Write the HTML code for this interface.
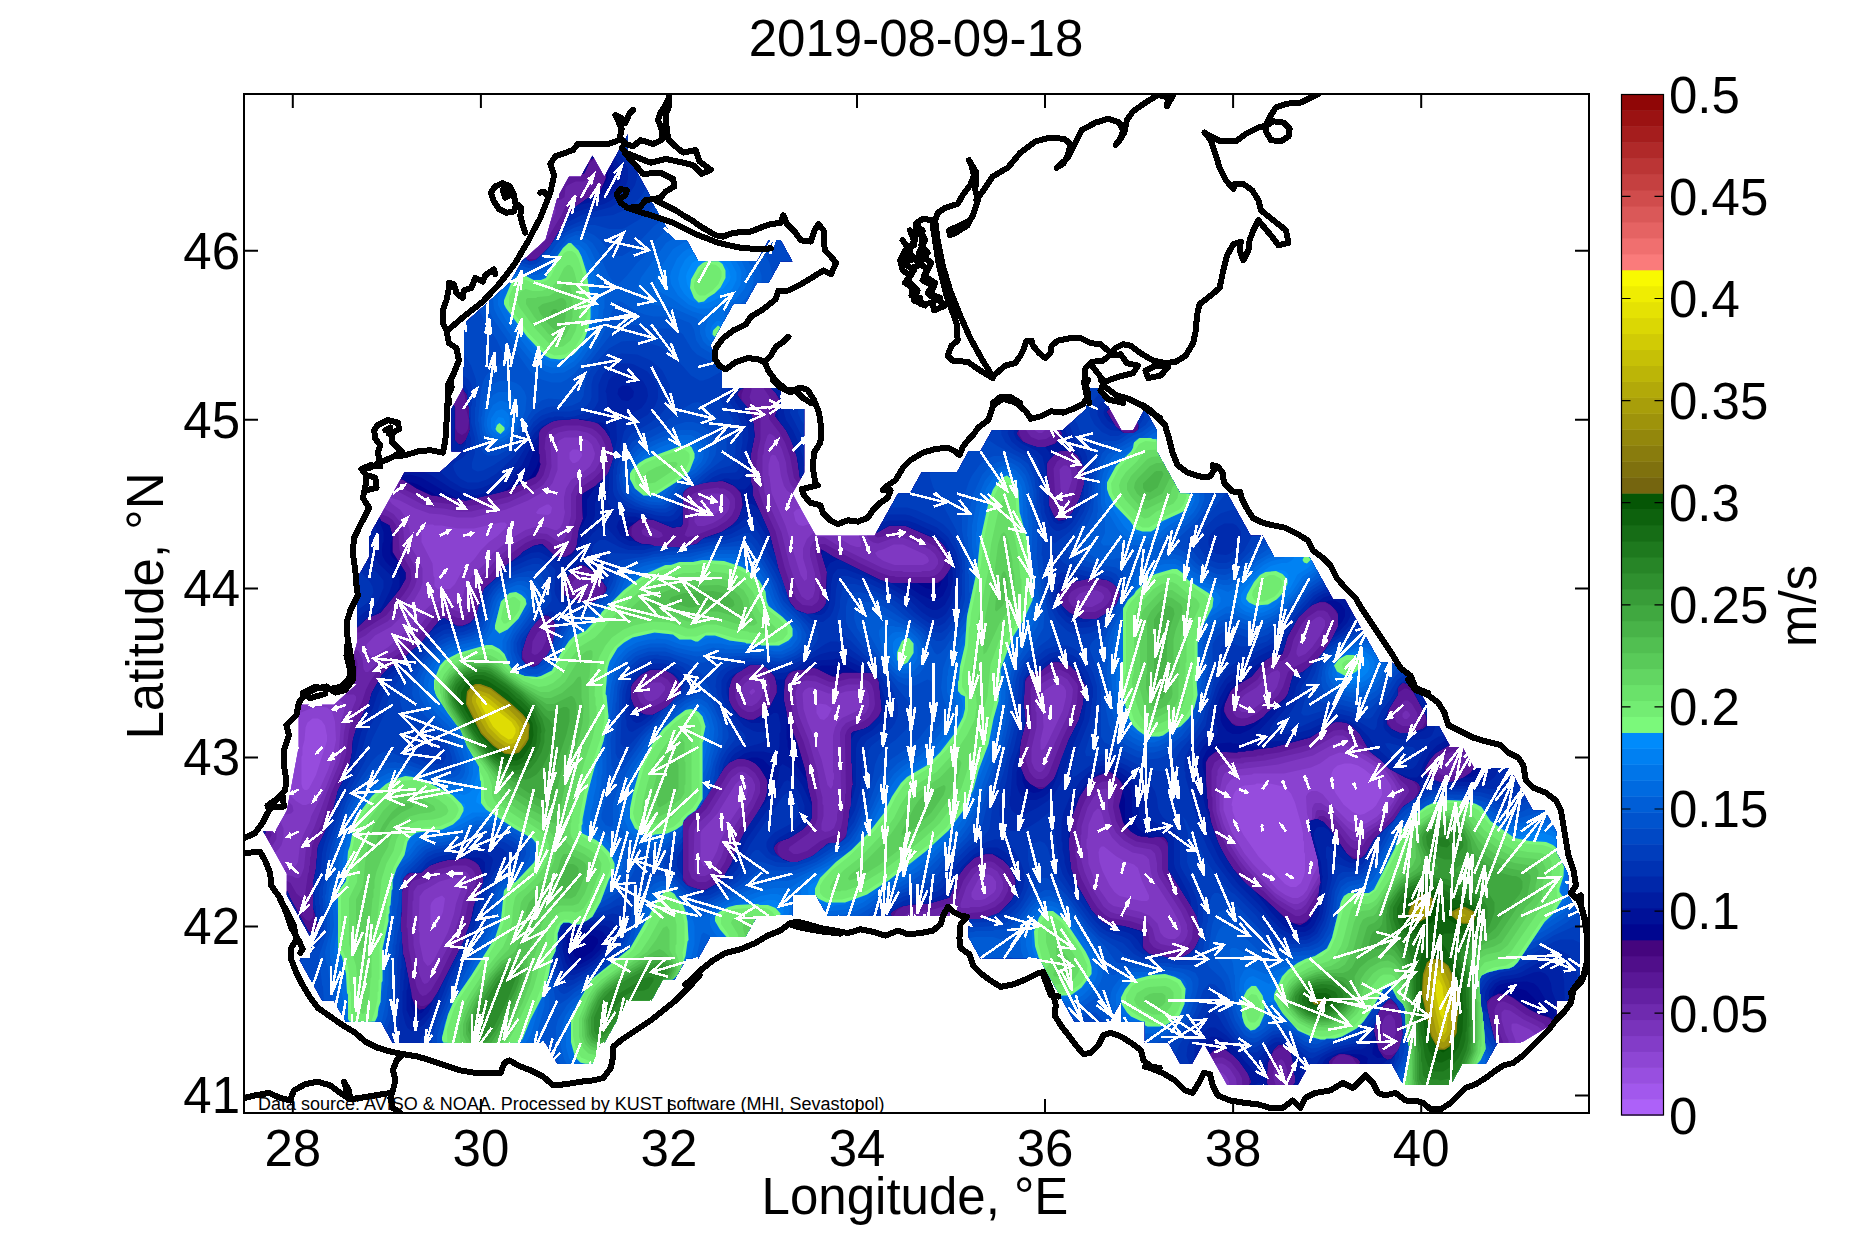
<!DOCTYPE html>
<html><head><meta charset="utf-8"><title>2019-08-09-18</title>
<style>
html,body{margin:0;padding:0;background:#fff;}
body{width:1876px;height:1250px;overflow:hidden;font-family:"Liberation Sans",sans-serif;}
svg{display:block}
text{font-family:"Liberation Sans",sans-serif;fill:#000}
</style></head><body>
<svg width="1876" height="1250" viewBox="0 0 1876 1250">
<rect width="1876" height="1250" fill="#fff"/>
<defs><clipPath id="axclip"><rect x="244" y="94" width="1345" height="1019"/></clipPath></defs>
<g clip-path="url(#axclip)">
<g id="field">
<clipPath id="mk"><path d="M463.2 409.1L463.2 324.6L486.7 303.5L510.2 282.4L522.0 261.3L545.5 240.1L557.3 197.9L569.0 176.8L580.8 176.8L592.5 155.7L604.3 176.8L616.0 155.7L627.8 134.5L627.8 155.7L639.5 176.8L651.3 197.9L663.0 219.0L674.8 240.1L686.6 240.1L698.3 261.3L710.1 261.3L757.1 261.3L768.8 240.1L780.6 240.1L792.3 261.3L780.6 261.3L768.8 282.4L757.1 282.4L745.3 303.5L733.6 303.5L721.8 324.6L710.1 345.7L721.8 366.9L721.8 388.0L768.8 388.0L780.6 388.0L780.6 409.1L804.1 409.1L804.1 472.5L792.3 493.6L815.8 535.8L874.6 535.8L898.1 493.6L909.9 493.6L921.6 472.5L956.9 472.5L968.6 451.3L980.4 451.3L992.1 430.2L1062.7 430.2L1086.2 409.1L1086.2 388.0L1097.9 388.0L1121.4 430.2L1133.2 430.2L1144.9 409.1L1156.7 430.2L1144.9 409.1L1156.7 430.2L1156.7 451.3L1180.2 493.6L1227.2 493.6L1250.7 535.8L1262.5 535.8L1274.2 556.9L1309.5 556.9L1333.0 599.2L1344.8 599.2L1368.3 641.4L1380.0 662.5L1391.8 662.5L1415.3 683.7L1427.0 704.8L1427.0 725.9L1438.8 725.9L1450.5 747.0L1462.3 747.0L1474.1 768.1L1509.3 768.1L1521.1 789.3L1532.8 810.4L1544.6 810.4L1556.3 831.5L1556.3 852.6L1568.1 873.7L1568.1 894.9L1579.8 916.0L1579.8 937.1L1579.8 958.2L1579.8 979.3L1568.1 1000.5L1556.3 1000.5L1556.3 1021.6L1521.1 1042.7L1497.6 1042.7L1485.8 1063.8L1462.3 1063.8L1450.5 1084.9L1403.5 1084.9L1391.8 1063.8L1309.5 1063.8L1297.7 1084.9L1227.2 1084.9L1203.7 1042.7L1192.0 1063.8L1180.2 1063.8L1168.5 1042.7L1144.9 1042.7L1144.9 1021.6L1121.4 1021.6L1121.4 1000.5L1109.7 1021.6L1074.4 1021.6L1062.7 1000.5L1050.9 979.3L1039.2 958.2L980.4 958.2L968.6 937.1L968.6 916.0L945.1 916.0L945.1 894.9L945.1 916.0L827.6 916.0L815.8 894.9L792.3 894.9L792.3 916.0L757.1 916.0L745.3 937.1L710.1 937.1L698.3 958.2L686.6 958.2L698.3 958.2L686.6 958.2L674.8 979.3L663.0 979.3L651.3 1000.5L627.8 1000.5L604.3 1042.7L592.5 1063.8L557.3 1063.8L545.5 1042.7L392.7 1042.7L381.0 1021.6L345.7 1021.6L333.9 1000.5L322.2 1000.5L310.4 979.3L298.7 958.2L310.4 958.2L310.4 937.1L298.7 916.0L286.9 894.9L286.9 873.7L263.4 831.5L275.2 831.5L286.9 810.4L298.7 747.0L298.7 704.8L333.9 704.8L357.4 683.7L357.4 641.4L345.7 683.7L357.4 683.7L357.4 620.3L357.4 599.2L357.4 578.1L369.2 556.9L369.2 535.8L381.0 514.7L392.7 493.6L404.5 472.5L439.7 472.5L463.2 451.3L451.5 451.3L451.5 409.1L463.2 388.0z"/></clipPath>
<g clip-path="url(#mk)">
<path d="M463.2 409.1L463.2 324.6L486.7 303.5L510.2 282.4L522.0 261.3L545.5 240.1L557.3 197.9L569.0 176.8L580.8 176.8L592.5 155.7L604.3 176.8L616.0 155.7L627.8 134.5L627.8 155.7L639.5 176.8L651.3 197.9L663.0 219.0L674.8 240.1L686.6 240.1L698.3 261.3L710.1 261.3L757.1 261.3L768.8 240.1L780.6 240.1L792.3 261.3L780.6 261.3L768.8 282.4L757.1 282.4L745.3 303.5L733.6 303.5L721.8 324.6L710.1 345.7L721.8 366.9L721.8 388.0L768.8 388.0L780.6 388.0L780.6 409.1L804.1 409.1L804.1 472.5L792.3 493.6L815.8 535.8L874.6 535.8L898.1 493.6L909.9 493.6L921.6 472.5L956.9 472.5L968.6 451.3L980.4 451.3L992.1 430.2L1062.7 430.2L1086.2 409.1L1086.2 388.0L1097.9 388.0L1121.4 430.2L1133.2 430.2L1144.9 409.1L1156.7 430.2L1144.9 409.1L1156.7 430.2L1156.7 451.3L1180.2 493.6L1227.2 493.6L1250.7 535.8L1262.5 535.8L1274.2 556.9L1309.5 556.9L1333.0 599.2L1344.8 599.2L1368.3 641.4L1380.0 662.5L1391.8 662.5L1415.3 683.7L1427.0 704.8L1427.0 725.9L1438.8 725.9L1450.5 747.0L1462.3 747.0L1474.1 768.1L1509.3 768.1L1521.1 789.3L1532.8 810.4L1544.6 810.4L1556.3 831.5L1556.3 852.6L1568.1 873.7L1568.1 894.9L1579.8 916.0L1579.8 937.1L1579.8 958.2L1579.8 979.3L1568.1 1000.5L1556.3 1000.5L1556.3 1021.6L1521.1 1042.7L1497.6 1042.7L1485.8 1063.8L1462.3 1063.8L1450.5 1084.9L1403.5 1084.9L1391.8 1063.8L1309.5 1063.8L1297.7 1084.9L1227.2 1084.9L1203.7 1042.7L1192.0 1063.8L1180.2 1063.8L1168.5 1042.7L1144.9 1042.7L1144.9 1021.6L1121.4 1021.6L1121.4 1000.5L1109.7 1021.6L1074.4 1021.6L1062.7 1000.5L1050.9 979.3L1039.2 958.2L980.4 958.2L968.6 937.1L968.6 916.0L945.1 916.0L945.1 894.9L945.1 916.0L827.6 916.0L815.8 894.9L792.3 894.9L792.3 916.0L757.1 916.0L745.3 937.1L710.1 937.1L698.3 958.2L686.6 958.2L698.3 958.2L686.6 958.2L674.8 979.3L663.0 979.3L651.3 1000.5L627.8 1000.5L604.3 1042.7L592.5 1063.8L557.3 1063.8L545.5 1042.7L392.7 1042.7L381.0 1021.6L345.7 1021.6L333.9 1000.5L322.2 1000.5L310.4 979.3L298.7 958.2L310.4 958.2L310.4 937.1L298.7 916.0L286.9 894.9L286.9 873.7L263.4 831.5L275.2 831.5L286.9 810.4L298.7 747.0L298.7 704.8L333.9 704.8L357.4 683.7L357.4 641.4L345.7 683.7L357.4 683.7L357.4 620.3L357.4 599.2L357.4 578.1L369.2 556.9L369.2 535.8L381.0 514.7L392.7 493.6L404.5 472.5L439.7 472.5L463.2 451.3L451.5 451.3L451.5 409.1L463.2 388.0z" fill="rgb(172,97,248)"/>
<path d="M257.5 832l2.5 6l21 36.5l0 20.5l13 22.5l10 20l0 13.5l-6 2l-4 4l-0.5 2l9.5 19l13 22.5l6.5 6l8.5 0l8 14.5l7.5 7.5l31.5 0l9 15l6.5 6l149.5 0l8 15l6.5 6l35.5 0l7.5-7.5l9-18.5l22-38l19.5 0l6.5-6l9-15l8.5 0l6.5-6l9-15l7.5 0l6.5-6l9-15l31.5 0l6.5-6l9-15l31.5 0l6.5-6.5l0-13.5l1-1l13.5 0l9 15l6.5 6l133.5 0l1 1l0 13.5l10 20l7.5 7.5l55.5 0l18 30l13 26.5l7.5 7.5l35.5 0l5.5-5l6 5l16.5 0l1 1l0 13.5l6.5 6.5l19.5 0l9 15l6.5 6l11.5 0l6.5-6l3-6l3-3l15.5 28.5l7.5 7.5l70.5 0l6.5-6l8-15l76.5 0l9 15l6.5 6l46.5 0l6.5-6l8-15l20.5 0l6.5-6l9-15l19.5 0l35.5-21l6-6.5l0-14.5l1-1l4.5 0l6.5-6l12-21.5l0-62.5l-12-21.5l0-20.5l-12-21.5l0-20.5l-12-23.5l-5.5-5l-8.5 0l-2-2l-18-32.5l-7.5-7.5l-31.5 0l-9-15l-6.5-6l-7.5 0l-9-15l-6.5-6l-4.5 0l-1-1l0-13.5l-12-21.5l-29.5-27l-8.5 0l-32-58l-6.5-6l-8.5 0l-2-2l-18-32.5l-7.5-7.5l-31.5 0l-9-15l-6.5-6l-7.5 0l-2-2l-18-32.5l-7.5-7.5l-43.5 0l-20-37l0-20.5l-11-20l-6-6.5l-2.5 0l-5 5l-9 15l-5.5 0l-20-36l-6.5-6l-11.5 0l-6.5 6.5l0 19.5l-9.5 10l-7.5 6l-70.5 0l-6.5 6l-9 15l-7.5 0l-6.5 6l-9 15l-31.5 0l-6.5 6l-9 16l-8.5 0l-6.5 6l-20 36l-52.5 0l-2-2l-18.5-33l11.5-23l0-62.5l-6.5-6.5l-15.5 0l-1-1l0-13.5l-6.5-6.5l-51.5 0l-1-1l0-13.5l-11.5-20.5l2.5-6.5l16-28l2-2l7.5 0l6.5-6l9-16l8.5 0l6.5-6l9-15l7.5 0l5.5-5l0.5-2l-9.5-19l-7.5-7.5l-11.5 0l-6.5 6l-9 15l-52.5 0l-7-13.5l-7.5-7.5l-8.5 0l-2-2l-42-76l0-20.5l-6-6l-6.5 5.5l-15 27l-2.5 2.5l-5-8.5l-6.5-5.5l-6 5.5l-9 15l-8.5 0l-6.5 6l-13 23.5l-10 39l-24 21.5l-12 21.5l-7 5.5l-12.5 13l-19.5 16l-8 8.5l0 62.5l-12 21.5l0 41.5l5 6l-10 9l-35.5 0l-7.5 7.5l-13 26.5l-21 36.5l0 20.5l-12 21.5l0 63.5l-11 41.5l4.5 6l-10.5 9.5l-34.5 0l-6.5 6.5l0 43.5l-10 48.5l-1 9.5l-10 19l-8.5 0z" fill="rgb(161,87,235)"/>
<path d="M257.5 832l2.5 6l21 36.5l0 20.5l13 22.5l10 20l0 13.5l-6 2l-4 4l-0.5 2l9.5 19l13 22.5l6.5 6l8.5 0l8 14.5l7.5 7.5l31.5 0l9 15l6.5 6l149.5 0l8 15l6.5 6l35.5 0l7.5-7.5l9-18.5l22-38l19.5 0l6.5-6l9-15l8.5 0l6.5-6l9-15l7.5 0l6.5-6l9-15l31.5 0l6.5-6l9-15l31.5 0l6.5-6.5l0-13.5l1-1l13.5 0l9 15l6.5 6l133.5 0l1 1l0 13.5l10 20l7.5 7.5l55.5 0l18 30l13 26.5l7.5 7.5l35.5 0l5.5-5l6 5l16.5 0l1 1l0 13.5l6.5 6.5l19.5 0l9 15l6.5 6l11.5 0l6.5-6l3-6l3-3l15.5 28.5l7.5 7.5l70.5 0l6.5-6l8-15l76.5 0l9 15l6.5 6l46.5 0l6.5-6l8-15l20.5 0l6.5-6l9-15l19.5 0l35.5-21l6-6.5l0-14.5l1-1l4.5 0l6.5-6l12-21.5l0-62.5l-12-21.5l0-20.5l-12-21.5l0-20.5l-12-23.5l-5.5-5l-8.5 0l-2-2l-18-32.5l-7.5-7.5l-31.5 0l-9-15l-6.5-6l-7.5 0l-9-15l-6.5-6l-4.5 0l-1-1l0-13.5l-12-21.5l-29.5-27l-8.5 0l-32-58l-6.5-6l-8.5 0l-2-2l-18-32.5l-7.5-7.5l-31.5 0l-9-15l-6.5-6l-7.5 0l-2-2l-18-32.5l-7.5-7.5l-43.5 0l-20-37l0-20.5l-11-20l-6-6.5l-2.5 0l-5 5l-9 15l-5.5 0l-20-36l-6.5-6l-11.5 0l-6.5 6.5l0 19.5l-9.5 10l-7.5 6l-70.5 0l-6.5 6l-9 15l-7.5 0l-6.5 6l-9 15l-31.5 0l-6.5 6l-9 16l-8.5 0l-6.5 6l-20 36l-52.5 0l-2-2l-18.5-33l11.5-23l0-62.5l-6.5-6.5l-15.5 0l-1-1l0-13.5l-6.5-6.5l-51.5 0l-1-1l0-13.5l-11.5-20.5l2.5-6.5l16-28l2-2l7.5 0l6.5-6l9-16l8.5 0l6.5-6l9-15l7.5 0l5.5-5l0.5-2l-9.5-19l-7.5-7.5l-11.5 0l-6.5 6l-9 15l-52.5 0l-7-13.5l-7.5-7.5l-8.5 0l-2-2l-42-76l0-20.5l-6-6l-6.5 5.5l-15 27l-2.5 2.5l-5-8.5l-6.5-5.5l-6 5.5l-9 15l-8.5 0l-6.5 6l-13 23.5l-10 39l-24 21.5l-12 21.5l-7 5.5l-12.5 13l-19.5 16l-8 8.5l0 62.5l-12 21.5l0 41.5l5 6l-10 9l-35.5 0l-7.5 7.5l-13 26.5l-21 36.5l0 20.5l-12 21.5l0 63.5l-11 41.5l4.5 6l-10.5 9.5l-34.5 0l-6.5 6.5l0 43.5l-10 48.5l-1 9.5l-10 19l-8.5 0z" fill="rgb(150,76,221)"/>
<path d="M257.5 832l2.5 6l21 36.5l0 20.5l13 22.5l10 20l0 13.5l-6 2l-4 4l-0.5 2l9.5 19l13 22.5l6.5 6l8.5 0l8 14.5l7.5 7.5l31.5 0l9 15l6.5 6l149.5 0l8 15l6.5 6l35.5 0l7.5-7.5l9-18.5l22-38l19.5 0l6.5-6l9-15l8.5 0l6.5-6l9-15l7.5 0l6.5-6l9-15l31.5 0l6.5-6l9-15l31.5 0l6.5-6.5l0-13.5l1-1l13.5 0l9 15l6.5 6l133.5 0l1 1l0 13.5l10 20l7.5 7.5l55.5 0l18 30l13 26.5l7.5 7.5l35.5 0l5.5-5l6 5l16.5 0l1 1l0 13.5l6.5 6.5l19.5 0l9 15l6.5 6l11.5 0l6.5-6l3-6l3-3l15.5 28.5l7.5 7.5l70.5 0l6.5-6l8-15l76.5 0l9 15l6.5 6l46.5 0l6.5-6l8-15l20.5 0l6.5-6l9-15l19.5 0l35.5-21l6-6.5l0-14.5l1-1l4.5 0l6.5-6l12-21.5l0-62.5l-12-21.5l0-20.5l-12-21.5l0-20.5l-12-23.5l-5.5-5l-8.5 0l-2-2l-18-32.5l-7.5-7.5l-31.5 0l-9-15l-6.5-6l-7.5 0l-9-15l-6.5-6l-4.5 0l-1-1l0-13.5l-12-21.5l-29.5-27l-8.5 0l-32-58l-6.5-6l-8.5 0l-2-2l-18-32.5l-7.5-7.5l-31.5 0l-9-15l-6.5-6l-7.5 0l-2-2l-18-32.5l-7.5-7.5l-43.5 0l-20-37l0-20.5l-11-20l-6-6.5l-2.5 0l-5 5l-9 15l-5.5 0l-20-36l-6.5-6l-11.5 0l-6.5 6.5l0 19.5l-9.5 10l-7.5 6l-70.5 0l-6.5 6l-9 15l-7.5 0l-6.5 6l-9 15l-31.5 0l-6.5 6l-9 16l-8.5 0l-6.5 6l-20 36l-52.5 0l-2-2l-18.5-33l11.5-23l0-62.5l-6.5-6.5l-15.5 0l-1-1l0-13.5l-6.5-6.5l-51.5 0l-1-1l0-13.5l-11.5-20.5l2.5-6.5l16-28l2-2l7.5 0l6.5-6l9-16l8.5 0l6.5-6l9-15l7.5 0l5.5-5l0.5-2l-9.5-19l-7.5-7.5l-11.5 0l-6.5 6l-9 15l-52.5 0l-7-13.5l-7.5-7.5l-8.5 0l-2-2l-42-76l0-20.5l-6-6l-6.5 5.5l-15 27l-2.5 2.5l-5-8.5l-6.5-5.5l-6 5.5l-9 15l-8.5 0l-6.5 6l-13 23.5l-10 39l-24 21.5l-12 21.5l-7 5.5l-12.5 13l-19.5 16l-8 8.5l0 62.5l-12 21.5l0 41.5l5 6l-10 9l-35.5 0l-7.5 7.5l-13 26.5l-21 36.5l0 20.5l-12 21.5l0 63.5l-11 41.5l4.5 6l-10.5 9.5l-34.5 0l-6.5 6.5l0 43.5l-10 48.5l-1 9.5l-10 19l-8.5 0zM1239.5 787.5l5-2l10.5-1l1.5-1l13.5 0l13 3l3.5 2l4.5 5l4 9l6 21l2 10l0 6.5l1 1.5l0 10.5l1 1.5l0 17.5l-1 5l-3 7l-5 4l-5.5 0l-5.5-3l-26.5-27.5l-15-21.5l-7-13l-4-11l0-4.5l-1-1.5l2-10.5l2-3.5zM1337.5 765.5l7-2l6.5 0l7 2l6.5 4l11.5 9.5l6 9.5l0 6.5l-6 10.5l-3.5 3.5l-8.5 5l-4.5 1l-7-3l-9-7.5l-8-11.5l-4-9l0-10.5l2-4.5zM318 718.5l3.5 2l3.5 5l2 10l0 5.5l-11 34l-7 13.5l-2 1.5l-2.5 0l-2-2l-1-4l0-27.5l1-1.5l0-7.5l2-7.5l1-12.5l2-5l5-4z" fill="rgb(138,66,208)"/>
<path d="M257.5 832l2.5 6l21 36.5l0 20.5l13 22.5l10 20l0 13.5l-6 2l-4 4l-0.5 2l9.5 19l13 22.5l6.5 6l8.5 0l8 14.5l7.5 7.5l31.5 0l9 15l6.5 6l149.5 0l8 15l6.5 6l35.5 0l7.5-7.5l9-18.5l22-38l19.5 0l6.5-6l9-15l8.5 0l6.5-6l9-15l7.5 0l6.5-6l9-15l31.5 0l6.5-6l9-15l31.5 0l6.5-6.5l0-13.5l1-1l13.5 0l9 15l6.5 6l133.5 0l1 1l0 13.5l10 20l7.5 7.5l55.5 0l18 30l13 26.5l7.5 7.5l35.5 0l5.5-5l6 5l16.5 0l1 1l0 13.5l6.5 6.5l19.5 0l9 15l6.5 6l11.5 0l6.5-6l3-6l3-3l15.5 28.5l7.5 7.5l70.5 0l6.5-6l8-15l76.5 0l9 15l6.5 6l46.5 0l6.5-6l8-15l20.5 0l6.5-6l9-15l19.5 0l35.5-21l6-6.5l0-14.5l1-1l4.5 0l6.5-6l12-21.5l0-62.5l-12-21.5l0-20.5l-12-21.5l0-20.5l-12-23.5l-5.5-5l-8.5 0l-2-2l-18-32.5l-7.5-7.5l-31.5 0l-9-15l-6.5-6l-7.5 0l-9-15l-6.5-6l-4.5 0l-1-1l0-13.5l-12-21.5l-29.5-27l-8.5 0l-32-58l-6.5-6l-8.5 0l-2-2l-18-32.5l-7.5-7.5l-31.5 0l-9-15l-6.5-6l-7.5 0l-2-2l-18-32.5l-7.5-7.5l-43.5 0l-20-37l0-20.5l-11-20l-6-6.5l-2.5 0l-5 5l-9 15l-5.5 0l-20-36l-6.5-6l-11.5 0l-6.5 6.5l0 19.5l-9.5 10l-7.5 6l-70.5 0l-6.5 6l-9 15l-7.5 0l-6.5 6l-9 15l-31.5 0l-6.5 6l-9 16l-8.5 0l-6.5 6l-20 36l-52.5 0l-5-7.5l-11.5 3.5l-4.5-1l-3-4l-2-8.5l3-3l5-1l3-3.5l-5.5-11.5l11.5-21.5l0-62.5l-6.5-6.5l-15.5 0l-1-1l0-13.5l-6.5-6.5l-51.5 0l-1-1l0-13.5l-11.5-20.5l2.5-6.5l16-28l2-2l7.5 0l6.5-6l9-16l8.5 0l6.5-6l9-15l7.5 0l5.5-5l0.5-2l-9.5-19l-7.5-7.5l-11.5 0l-6.5 6l-9 15l-52.5 0l-7-13.5l-7.5-7.5l-8.5 0l-2-2l-42-76l0-20.5l-6-6l-6.5 5.5l-15 27l-2.5 2.5l-5-8.5l-6.5-5.5l-6 5.5l-9 15l-8.5 0l-6.5 6l-13 23.5l-10 39l-24 21.5l-12 21.5l-7 5.5l-12.5 13l-19.5 16l-8 8.5l0 62.5l-12 21.5l0 41.5l5 6l-10 9l-35.5 0l-7.5 7.5l-13 26.5l-21 36.5l0 20.5l-12 21.5l0 63.5l-11 41.5l4.5 6l-10.5 9.5l-34.5 0l-6.5 6.5l0.5 7l7.5 0l9.5-4l9-2l7.5 1l5 4l3 10l1 18.5l-3 15l-5 15l-12 27l-5.5 6l-4.5 2l-3.5 0l-6.5-4l-6-6l-5.5-1l-1.5 3.5l0 4.5l-2 8l-9 16l-8.5 0zM442 895.5l3 3l-2 13.5l-6 14l-3.5 3l-3-4l0-19.5l1-3l3.5-4zM1101.5 846.5l2.5 0l12.5 10l9 5l8.5 3l4 3.5l4 13l7 14.5l0 3.5l-2 2l-5.5 0l-22-5l-5-4l-5-7l-7-14l-3-9l-1-9.5l1-4zM1359 756.5l14.5 9l12.5 12.5l5 7.5l1 9.5l-4 8l-5 7.5l-6.5 6.5l-9.5 6l-6 2l-5.5 0l-7.5-4l-18.5-18.5l-7-8.5l-5.5-3l-5.5 0l-3.5 2l-2 3.5l1 17.5l2 5.5l0 6.5l10 39l-6 10.5l-6 14.5l-4 5l-5 3l-5.5 0l-7-3l-7.5-5l-25.5-26.5l-8-10l-13-21.5l-8-22l0-14.5l3-10l4.5-6l9.5-4l11.5-1l1.5-1l30.5 0l27-6l9-4l9.5-7l10-4l9.5 1zM819.5 703.5l6.5 1l6 4l-4 8l-4 3.5l-4-1l-3.5-6l0-7.5zM507 524.5l-1 3l-8.5 8.5l-8.5 6l-8 8l-7 9.5l-12 11.5l-7 13l-5 5l-12.5 0l-3-3l0-8.5l-1-1.5l-1-12.5l-11-21.5l0-7.5l-1-2l1-5l3-3l8.5 0l1.5 1l7.5 0l15.5 3l16.5 0l26.5-6l4.5 0zM552 507.5l-1 5.5l-3 2l-10.5-1l-1.5-1.5l3-4l7.5-4l2.5 0zM578 449.5l4 4l0 2.5l-3.5 5l-3.5 2l-2.5 0l-3-4l0-6.5l3-3z" fill="rgb(127,56,194)"/>
<path d="M277.5 818.5l-5.5 7.5l-8.5 0l-6 6l2.5 6l11 18l7.5-6.5l3-4.5l2-7l0-9.5l-3-7zM283.5 800l-3 11.5l5 3l5.5-1l2.5-2.5l-1-5.5l-3.5-3.5zM303.5 699.5l-4-0.5l-6.5 7l7 0.5l3-1zM563 177l-13 23.5l-10 39l-24 21.5l-12 21.5l-7 5.5l-12.5 13l-19.5 16l-8 8.5l0 62.5l-12 21.5l0 41.5l5 6l-10 9l-35.5 0l-7.5 7.5l-10.5 22l3 2l10.5 3l15.5 8l14 5l12.5 1l15.5 3l15.5 0l33-8l22-9l19.5-11l5-6.5l5-13l0-16.5l-1-1.5l1-9.5l1.5-2l5.5-3l16.5 0l7 3l4 4l3 9l-1 5.5l-4 7.5l-6.5 5.5l-12.5 8l-5 8.5l-2 9l0 10.5l1 4l-2 10l-3 6l-3 2l-2.5 0l-8.5-3l-10.5 0l-10 3l-13.5 8l-19 15l-8 10.5l-13 12.5l-7 12.5l-2 7.5l-4 6l-4.5 1l-5.5-2l-9.5 0l-9 4l-10.5 10l-12.5 16l-3.5 2l-15.5 14l-14.5 9l-2.5 0l-3-3l-2-4l0-4.5l8.5-9l16.5-9l8-8l15-19l6-10.5l2-6l0-14.5l-4-9l-7-11.5l-2-18.5l-4-12l-5-7.5l-8.5-6l-3-4l-4-1.5l-22 38l0 20.5l-12 21.5l0 63.5l-11 41.5l4.5 6l-8 7.5l0.5 1.5l4.5 3l3.5 4l-1 6.5l-3 8.5l-2 29.5l-4 14l-9 23l-15 29.5l-1 4.5l-7 14.5l-3 9l-2 17.5l-2 3.5l-4 2.5l-6.5 0l-6 3l1.5 3.5l0 20.5l13 22.5l10 20l0 13.5l-6 2l-4 4l-0.5 2l9.5 19l13 22.5l6.5 6l8.5 0l8 14.5l7.5 7.5l31.5 0l9 15l6.5 6l149.5 0l8 15l6.5 6l35.5 0l7.5-7.5l9-18.5l22-38l19.5 0l6.5-6l9-15l8.5 0l6.5-6l9-15l7.5 0l6.5-6l9-15l31.5 0l6.5-6l9-15l31.5 0l6.5-6.5l0-13.5l1-1l13.5 0l9 15l6.5 6l133.5 0l1 1l0 13.5l10 20l7.5 7.5l55.5 0l18 30l13 26.5l7.5 7.5l35.5 0l5.5-5l6 5l16.5 0l1 1l0 13.5l6.5 6.5l19.5 0l9 15l6.5 6l11.5 0l6.5-6l3-6l3-3l10.5 18.5l3.5-1.5l3.5 0l4 3.5l3 5.5l0.5 10l68.5 0l6.5-6l8-15l76.5 0l9 15l6.5 6l46.5 0l6.5-6l8-15l20.5 0l6.5-6l9-15l14-0.5l0-8.5l-4-10.5l0-5.5l1-1l4.5 0l13 6l10 8.5l16.5-9.5l6-6.5l0-14.5l1-1l4.5 0l6.5-6l12-21.5l0-62.5l-12-21.5l0-20.5l-12-21.5l0-20.5l-12-23.5l-5.5-5l-8.5 0l-2-2l-18-32.5l-7.5-7.5l-31.5 0l-9-15l-6.5-6l-7.5 0l-9-15l-6.5-6l-4.5 0l-1-1l0-13.5l-12-21.5l-29.5-27l-8.5 0l-32-58l-6.5-6l-8.5 0l-2-2l-18-32.5l-7.5-7.5l-31.5 0l-9-15l-6.5-6l-7.5 0l-2-2l-18-32.5l-7.5-7.5l-43.5 0l-20-37l0-20.5l-11-20l-6-6.5l-2.5 0l-5 5l-9 15l-5.5 0l-20-36l-6.5-6l-11.5 0l-6.5 6.5l0 19.5l-9.5 10l-7.5 6l-70.5 0l-6.5 6l-9 15l-7.5 0l-6.5 6l-9 15l-31.5 0l-6.5 6l-9 16l-8.5 0l-7.5 7.5l-19 34.5l-13 0.5l0 5.5l2 5.5l0 4.5l-1 1l-3.5 0l-6-2l-11.5-7l-1.5-2l-0.5-6l-19.5-0.5l-2.5 1.5l-8 8l-4 9.5l0 9.5l4 13.5l0 7.5l-2.5 2l-4-6l-15-49.5l-14-32.5l-2-16.5l-1-1.5l0-10.5l2-8l2-2l3 1l3.5 7l2 13.5l3 10l3 4.5l6.5 5l4.5-1l1.5-1.5l11-21l0-62.5l-6.5-6.5l-15.5 0l-1-1l0-13.5l-6.5-6.5l-51.5 0l-1-1l0-13.5l-11.5-20.5l2.5-6.5l16-28l2-2l7.5 0l6.5-6l9-16l8.5 0l6.5-6l9-15l7.5 0l5.5-5l0.5-2l-9.5-19l-7.5-7.5l-11.5 0l-6.5 6l-9 15l-52.5 0l-7-13.5l-7.5-7.5l-8.5 0l-2-2l-42-76l0-20.5l-6-6l-6.5 5.5l-15 27l-2.5 2.5l-5-8.5l-6.5-5.5l-6 5.5l-9 15l-8.5 0zM460 878.5l2 2l0 6.5l-6 16.5l-2 10.5l-6 18l-14 28l-4 5l-2.5 1l-4-5l-4-19l0-9.5l-1-1.5l1-34.5l4.5-6l15.5-9l14-4zM992.5 876.5l3.5 5l0 7.5l-2 3.5l-9 6.5l-4 1l-6.5 0l-3-3l0-4.5l7-13.5l6-4.5l4.5 0zM1097.5 808.5l2.5 1l2 4l3 11.5l7 12.5l8 8l12.5 7l10.5 2l3.5 2l2.5 3l2 13.5l2 6l19 29.5l7 13l2 6l0 4.5l-2 4l-4 3l-6.5 0l-4.5-2l-3.5-4l-3-9.5l-7.5-7.5l-9-4l-27.5-6l-5-3.5l-8-11.5l-6-11l-6-16l-1-14.5l-1-1.5l0-8.5l1-1.5l1-13.5l5-12zM744 780.5l4 5l-1 8.5l-4 8l-13 19.5l-10 20l-3 9.5l-4 8l-4 5l-3 2l-2.5 0l-3-6l0-26.5l1-3l16-17l18-29.5l4-3.5zM1341 742.5l9.5 6l15.5 7l14.5 10l4.5 4.5l9 12.5l3 6l0 5.5l-2 5l-10 15.5l-8.5 7.5l-17.5 10l-5.5 0l-4.5-3l-20.5-21l-7.5-5l-5.5 0l-1.5 1l-2 4.5l0 10.5l-3 3.5l0 3.5l9 33.5l2 14.5l-13 23.5l-3.5 3.5l-5.5 3l-4.5 0l-5-2l-13.5-9l-22.5-22.5l-12-15l-9-14.5l-8-17l-4-14l0-18.5l3-14l2-4l4-3l49.5-6l35-9l23.5-13zM753 688.5l2 2l0 1.5l-3.5 3l-2-2l0-1.5zM808.5 687.5l4.5 0l15.5 6l11.5 0l5.5-2l9.5-1l4.5 2l2.5 4l0 8.5l-2 3.5l-3 2.5l-15 7l-4 4l-3 5.5l-2 8l0 36.5l1 1.5l0 5.5l-1 1.5l0 4.5l-2 4l-3.5-4l-6-25.5l-5-13.5l0-2.5l-9-21.5l-4-13l-1-15.5l2-3.5zM1060 683.5l4 3l2 4l0 6.5l-3 13l-16 34l-3 5l-2.5 1l-1-1l0-8.5l3-13.5l-1-19.5l-1-1.5l1-11.5l2-4l10-7zM875 553l3.5-2.5l4.5-1l10.5-5l9.5 0l22 10l3 3l1 3.5l-1.5 2l-4.5 2l-28.5 0l-11-4l-6-4zM721 502.5l1 3.5l-2 4l-6 5l-4 2l-5.5 0l-3-3l-1-4.5l2-5l2-2l5-2l8.5 0z" fill="rgb(115,46,181)"/>
<path d="M263.5 826l-5.5 5l-0.5 2l8.5 15l2 1l3.5-2l5-8l0-9.5l-5.5-3.5zM300 699l-6 5l-0.5 2.5l5.5 0l1.5-1.5zM381.5 505.5l-3.5 4l-15 27l0 20.5l-12 21.5l0.5 61l6.5 0l7.5-4l7-6l15-8l7-7l15-19l5-8.5l2-6l0-10.5l-1-3l-11-19.5l-1-16.5l-3-9l-7-8.5l-8.5-5zM563 177l-13 23.5l-0.5 3.5l4.5 2.5l2 3l-1 4.5l-4 6l-6 0.5l-5 19l-24 21.5l-12 21.5l-7 5.5l-12.5 13l-19.5 16l-8 8.5l0 62.5l-12 21.5l0 41.5l5 6l-10 9l-35.5 0l-7.5 7.5l-6.5 14l32 17l9 3l12.5 1l15.5 3l11.5 0l37-9l30-14l5.5-4l5-7.5l3-10l-1-26.5l2-4l6-4l10-2l8.5 0l10 2l4 2l5 4l4 7l1 12.5l-2 6l-4 6.5l-16 11.5l-4 4l-4 8.5l0 21.5l-5 20l-2.5 4l-2.5 1.5l-3.5-0.5l-10.5-7l-9.5-1l-10 3l-10.5 6l-19 15l-9 11.5l-12 11.5l-6 10.5l-4 14.5l-3.5 5l-5 1.5l-13.5-4.5l-8.5 2l-11.5 10l-9 12.5l-5.5 5.5l-3.5 2l-11.5 11l-12.5 8l-15 14l-2.5 0l-2-3l-1-10.5l-4-7.5l-3.5-2l-6-0.5l-9 35.5l4.5 5l-1 2l0.5 1.5l2.5 2l7.5 0l2 2l0 3.5l-10 23.5l-2 9l-1 15.5l-4 16l-12 28.5l-13 35.5l-5 9.5l-3 10l-2 20.5l-3 8l-2 2l-3.5 0l-3.5-2l-6.5-1l-4.5 2.5l0 17.5l13 22.5l10 20l0 13.5l-6 2l-4 4l-0.5 2l9.5 19l13 22.5l6.5 6l8.5 0l8 14.5l7.5 7.5l31.5 0l9 15l6.5 6l149.5 0l8 15l6.5 6l35.5 0l7.5-7.5l9-18.5l22-38l19.5 0l6.5-6l9-15l8.5 0l6.5-6l9-15l7.5 0l6.5-6l9-15l31.5 0l6.5-6l9-15l31.5 0l6.5-6.5l0-13.5l1-1l13.5 0l9 15l6.5 6l105.5 0l0.5-6l1-1l11-4l9.5-2l2 2l-1 10.5l5 0.5l1 1l0 13.5l11 21.5l6.5 6l55.5 0l18 30l13 26.5l7.5 7.5l35.5 0l5.5-5l6 5l16.5 0l1 1l0 13.5l6.5 6.5l19.5 0l9 15l6.5 6l11.5 0l6.5-6l5.5-9l1.5 1l6.5 11.5l5.5-4.5l4.5 0l4 2l4 3.5l6 9.5l1.5 13l60.5 0l6.5-6l8-15l76.5 0l9 15l6.5 6l46.5 0l6.5-6l8-15l20.5 0l6.5-6l9-15l7-0.5l0-8.5l-3-6.5l-4-14l0-7.5l3-3l5.5 1l13.5 9l14.5 7l4 3.5l3 5l11.5-6.5l6-6.5l0-14.5l1-1l4.5 0l6.5-6l12-21.5l0-62.5l-12-21.5l0-20.5l-12-21.5l0-20.5l-12-23.5l-5.5-5l-8.5 0l-2-2l-18-32.5l-7.5-7.5l-31.5 0l-9-15l-6.5-6l-7.5 0l-9-15l-6.5-6l-4.5 0l-1-1l0-13.5l-12-21.5l-29.5-27l-8.5 0l-32-58l-6.5-6l-8.5 0l-2-2l-18-32.5l-7.5-7.5l-31.5 0l-9-15l-6.5-6l-7.5 0l-2-2l-18-32.5l-7.5-7.5l-43.5 0l-20-37l0-20.5l-11-20l-6-6.5l-2.5 0l-5 5l-9 15l-5.5 0l-20-36l-6.5-6l-11.5 0l-6.5 6.5l0 19.5l-9.5 10l-7.5 6l-17.5 0l-0.5 6l-3 3l-3.5 0l-4-3l-0.5-6l-41.5 0l-6.5 6l-9 15l-7.5 0l-6.5 6l-9 15l-31.5 0l-6.5 6l-9 16l-8.5 0l-6.5 6l-20 36l-5 0.5l0 6.5l3 3.5l3.5 2l4.5 1l16.5-6l7.5 0l9 3l19 9l5 4.5l3 5.5l0 4.5l-3.5 5l-4.5 2l-7.5 0l-1.5 1l-17.5 0l-1.5-1l-9.5 0l-10-3l-39-19l-19.5-12l-3.5 0l-7.5 5l-3 6.5l0 7.5l5 17.5l0 16.5l-2 7l-4 3l-2.5 0l-5-3.5l-5-10.5l-7-21l-8-32.5l-14-31.5l-3-9l-1-10.5l-1-1.5l0-24.5l1-1.5l1-9.5l3-9l2-2l4 2l3.5 4l5 10l4 13l1 9.5l3 11l3 4.5l7.5 2.5l10-18l0-62.5l-6.5-6.5l-15.5 0l-1-1l0-13.5l-6.5-6.5l-51.5 0l-1-1l0-13.5l-11.5-20.5l2.5-6.5l16-28l2-2l7.5 0l6.5-6l9-16l8.5 0l6.5-6l9-15l7.5 0l5.5-5l0.5-2l-9.5-19l-7.5-7.5l-11.5 0l-6.5 6l-9 15l-52.5 0l-7-13.5l-7.5-7.5l-8.5 0l-2-2l-42-76l0-20.5l-6-6l-6.5 5.5l-15 27l-2.5 2.5l-5-8.5l-6.5-5.5l-6 5.5l-9 15l-8.5 0zM465 871.5l2 1l3 4l0 7.5l-7 17.5l-3 14.5l-9 25l-18 35l-5.5 7l-3 1l-2-2l-3-7l-6-30l0-8.5l-1-1.5l0-33.5l1-1.5l0-8.5l4-6l8.5-3l13.5-8l17-4zM997.5 871.5l5.5 10l0 7.5l-4 7.5l-4.5 4.5l-7.5 4l-7 2l-9.5 0l-1.5 1l-7.5 0l-1-1l0-3.5l6-17l7-11.5l4.5-4.5l5.5-3l7.5 0zM1100.5 789.5l5.5-1l2 2l1 3l-1 4l0 12.5l4 15l4 7.5l8 8l10.5 6l16.5 3l4 4l2 10l0 7.5l2 6l22 34.5l6 13l0 4.5l1 1.5l-1 5.5l-3 5.5l-9 4.5l-5.5 0l-9-2l-5-4l-3-11.5l-5-6.5l-5.5-3l-20-5l-5.5 0l-6-2l-7-5.5l-13-20.5l-6-14l-3-11l-1-25.5l1-1.5l0-7.5l6-19l6-10.5zM745 772.5l7 5.5l3 6.5l0 5.5l-3 9l-17 26.5l-9 18l-5 14.5l-7 11.5l-3.5 3.5l-5.5 3l-5.5 0l-3-2.5l-2-3.5l0-9.5l-1-1.5l1-29.5l3-5.5l12-10.5l22-35.5l7-5.5l3-1zM1458 760.5l0 3.5l-5 4l-5.5 1l-3-3l1-3l4-3.5l5.5-1zM1343 735.5l3.5 2l6.5 7l7.5 5l19 10l9.5 9.5l13 19.5l0 4.5l-13 21.5l-9.5 9.5l-13.5 9l-5.5 6l-3.5 2l-2.5 0l-3.5-2l-14.5-18l-10-9l-3.5-2l-5.5 0l-1.5 1.5l-1 6.5l-5 3l-1 5l9 33.5l3 20.5l-15 24.5l-5 4.5l-5.5 1l-18.5-11l-30.5-29.5l-7-9l-12-19.5l-6-13l-5-16l-1-17.5l1-1.5l0-16.5l1-1.5l0-4.5l3-5l5-2l17.5 0l1.5-1l20.5-2l36-8l10-3l24.5-14zM1405.5 710.5l2.5 1l2 3l0 1.5l-3 3l-2.5 0l-2-2l0-3.5zM665 686.5l0 3.5l-6.5 8l-5.5 3l-4.5 0l-3-2l-2-4l0-3.5l5.5-7l3.5-2l8.5 0zM806.5 680.5l9.5 1l14.5 6l7.5 0l9.5-3l13.5 0l5 3.5l3 7.5l0 10.5l-3 6.5l-6 4.5l-14 6l-4 4.5l-2 5l1 55.5l-1 1.5l-1 17.5l-2 7.5l0 5.5l-3 8l-4 3l-5 1l-3.5-2l0-6.5l2-7.5l0-10.5l-1-1.5l0-6.5l-3-11.5l-2-14.5l-9-32l-10-24.5l-2-10l0-5.5l-1-1.5l0-5.5l2-7l5-4zM756 677.5l6 4l2 4l0 5.5l-3 7l-4 5l-5 3l-3.5 0l-3.5-2l-3.5-5l-1-4l1-6.5l3-5l3.5-3zM1061 675.5l6.5 4l4.5 7l1 3l-1 10.5l-4 15l-13 27.5l-7 19.5l-4 7.5l-3 2.5l-2.5 0l-4-3l-3-7l0-13.5l5-21.5l0-14.5l-1-1.5l0-16.5l1-5l3.5-5l15.5-9zM1277.5 670l2.5 2.5l0 4.5l-3 10l-3 4.5l-6.5 6.5l-15.5 12l-5 2l-5.5 0l-3-3l0-5.5l3-5.5l3.5-3.5l11.5-7l14.5-15zM1322 617.5l3 3l0 5.5l-5 10l-8 11.5l-6.5 6.5l-7 3l-2-3l0-3.5l3-11l3-6l8.5-12l5.5-4l3-1zM1075.5 598.5l4-5l9-3l8.5 0l4.5 2l2.5 3l0 2.5l-2.5 4l-9.5 5l-4.5 0l-8-3l-2-1.5zM581.5 584.5l2.5-1l1.5 2l-2 1.5zM725.5 495.5l3.5 4l1 3l-1 6.5l-2 3.5l-5.5 5.5l-8.5 5l-9 3l-6.5 0l-3-4l0-19.5l2-3.5l6-3.5l8-2l10.5 0zM1067 465.5l4 4l1 10.5l-4 12l-1.5 2l-3 1l-2-2l-1-5l-1-18.5l4-4z" fill="rgb(104,36,167)"/>
<path d="M271 826l-7.5 0l-6 6l6.5 12l4-1.5l3.5-7.5zM300 699l-6 5l-0.5 2.5l5.5 0l1.5-1.5zM354 656l-6.5 0l-1.5 3.5l-6 24l4.5 5l8-2.5l4-10l1-12.5l-1-4zM377 512.5l-3 4l-11 20l0 20.5l-12 21.5l0.5 54l7.5 0l27-17l17.5-21l5-7.5l3-8l-1-9.5l-11-19.5l-1-15.5l-3-10l-3-4.5l-4-3zM764.5 382l-0.5 7l6 8.5l1 3l0 6.5l-2 4.5l0 7.5l10 13l6 10.5l5 14l4 21.5l5 6.5l3.5 1.5l8-14l0-62.5l-6.5-6.5l-15.5 0l-1-1l0-13.5l-6.5-6.5zM563 177l-10.5 18.5l1 2l4 2l3.5 0l3.5-2.5l1-9.5l1.5-2l8.5-4l7.5 0l10-4l1 1l0 4.5l-2 3l-8.5 7l-16.5 10l-6 13l-14 23l-2.5 1l-3.5-1.5l-0.5 1.5l1.5 4l-3.5 4l-1.5 0.5l-4-3l-5.5 5.5l-3.5 2l-8 8l-12 21.5l-7 5.5l-12.5 13l-19.5 16l-8 8.5l0 62.5l-12 21.5l0 41.5l5 6l-10 9l-35.5 0l-6.5 6l-5.5 11.5l37 18l24.5 3l1.5 1l6.5 0l1.5 1l15.5-2l30-8l27-13l4.5-4l3-4.5l3-11l-1-13.5l-1-1.5l1-11.5l3-5.5l5-3.5l11-3l15.5 0l12 3l4.5 3l4.5 4.5l5 10.5l0 13.5l-5 11.5l-7.5 7.5l-13.5 9l-4 8.5l0 22.5l-3 8.5l-2 12.5l-4.5 7l-3.5 2l-3.5 0l-3-1l-7-6l-5.5-3l-9.5 0l-9 4l-21.5 16l-7 7l-7 9.5l-7 5.5l-7 11.5l-4 14.5l-4.5 8l-5.5 3l-4.5 0l-10.5-5l-5.5 0l-4.5 2l-4 3l-11 14.5l-11.5 11.5l-3.5 2l-5.5 6l-17.5 12l-6 6l-8 11.5l-4 8l-4 12.5l-10 19.5l-3 9l-3 23.5l-5 17l-10 22.5l-8 26.5l-11 25.5l-1 10.5l-1 1.5l0 7.5l-1 1.5l0 5.5l-1 1.5l-3 21.5l-2 2l-2.5 0l-4-3.5l-6-10.5l-3.5-2l-6 0.5l0 13.5l13 22.5l10 20l0 13.5l-6 2l-4 4l-0.5 2l9.5 19l13 22.5l6.5 6l8.5 0l8 14.5l7.5 7.5l31.5 0l9 15l6.5 6l149.5 0l8 15l6.5 6l35.5 0l7.5-7.5l9-18.5l22-38l19.5 0l6.5-6l9-15l8.5 0l6.5-6l9-15l7.5 0l6.5-6l9-15l31.5 0l6.5-6l9-15l31.5 0l6.5-6.5l0-13.5l1-1l13.5 0l9 15l6.5 6l74.5 0l0.5-6l4-3l8-2l6.5 0l1.5-1l9.5-1l14-4l5.5-3l5-6.5l6-15.5l8-11.5l12-7.5l7.5 0l3 1l9 7.5l5 9.5l0 11.5l-5 9.5l-8 6.5l-13 5l-11.5 1l-5.5 3.5l0 4.5l-2 2.5l0 13.5l10 20l7.5 7.5l55.5 0l18 30l13 26.5l7.5 7.5l35.5 0l5.5-5l6 5l16.5 0l1 1l0 13.5l6.5 6.5l19.5 0l9 15l6.5 6l11.5 0l6.5-6l5.5-9l4 5.5l8.5-3.5l6.5 0l8 5l8 10l3 6l0.5 13l32.5 0l0.5-7l-2-6.5l0-6.5l2-7l2-3l3-2l1.5 0l2 2l3 8l-0.5 22l11.5 0l7.5-7.5l7-13.5l76.5 0l9 15l6.5 6l46.5 0l6.5-6l8-15l20.5 0l6.5-6l7-13l4-2.5l0-5.5l-6-16.5l-3-14l0-3.5l3-6l4-2l2.5 0l9 4l12.5 9l18 9l6.5 8.5l6.5-3.5l6-6.5l0-14.5l1-1l4.5 0l6.5-6l12-21.5l0-62.5l-12-21.5l0-20.5l-12-21.5l0-20.5l-12-23.5l-5.5-5l-8.5 0l-2-2l-18-32.5l-7.5-7.5l-31.5 0l-4-3.5l-3.5 2.5l-2 3.5l-5.5 5.5l-10.5 5l-10.5 0l-5-3.5l-1-1.5l0-4.5l2-4l8-7l6-3l7.5 0l7 2l3-2l1-2l-8-8.5l-7.5 0l-9-15l-6.5-6l-4.5 0l-1-1l0-13.5l-12-21.5l-29.5-27l-8.5 0l-32-58l-6.5-6l-8.5 0l-2-2l-18-32.5l-7.5-7.5l-31.5 0l-9-15l-6.5-6l-7.5 0l-2-2l-18-32.5l-7.5-7.5l-43.5 0l-20-37l0-20.5l-11-20l-6-6.5l-2.5 0l-5 5l-9 15l-5.5 0l-20-36l-6.5-6l-11.5 0l-6.5 6.5l0 19.5l-17 16l-9.5 0l-1.5 9l-2 3.5l-4 2.5l-7.5 1l-7.5-3l-4.5-6l-0.5-7l-33.5 0l-6.5 6l-9 15l-7.5 0l-6.5 6l-9 15l-31.5 0l-6.5 6l-9 16l-8.5 0l-6.5 6l-19.5 35.5l2.5 6.5l2.5 1.5l5.5-1l8.5-4l12.5 0l18 7l13.5 7l6.5 8l2 5l0 5.5l-3 5.5l-3.5 3.5l-3.5 2l-5 1l-33.5 0l-1.5-1l-4.5 0l-11-4l-19-9l-34.5-19l-4.5 0l-3.5 2.5l-2 5l6 26l-2 21.5l-2 3.5l-5 3.5l-9.5-1l-6-5.5l-4-8.5l-8-24l-9-35.5l-12-26.5l-5-15l0-5.5l-2-8.5l0-15.5l1-1.5l0-6.5l3-13.5l0-19.5l-4-9l-5-7.5l-2-6l2-7l0-7.5l-22-0.5l-1-1l0-13.5l-11.5-20.5l2.5-6.5l16-28l2-2l7.5 0l6.5-6l9-16l8.5 0l6.5-6l9-15l7.5 0l5.5-5l0.5-2l-9.5-19l-7.5-7.5l-11.5 0l-6.5 6l-9 15l-52.5 0l-7-13.5l-7.5-7.5l-8.5 0l-2-2l-42-76l0-20.5l-6-6l-6.5 5.5l-15 27l-2.5 2.5l-5-8.5l-6.5-5.5l-6 5.5l-9 15l-8.5 0zM1391 1014.5l4 6l1 12.5l-3 8l-4.5 4l-4-3l-2-4l-1-11.5l2-7l2-3l3-2zM466 865.5l5.5 3l2.5 3l2 5l0 6.5l-8 20.5l-3 14.5l-7 20l-18 37l-9 15.5l-5 4.5l-3.5 1l-3-2.5l-3-6.5l-8-39l-1-19.5l-1-1.5l2-39.5l3-5.5l2-1.5l10.5-3l13.5-8l16-4zM1102.5 781.5l6.5 0l2 1l4 6l-2 18.5l3 14l6 10.5l7 6l7.5 4l18.5 3l3.5 2l2.5 4l1 4l0 14.5l2 6l22 34.5l6 13l1 5l-1 11.5l-4 6.5l-7 4.5l-3 1l-11.5 0l-9-2l-4-2l-4-5l-2-11.5l-5.5-5.5l-12-4l-19.5-3l-5.5-3l-7.5-7.5l-5-7.5l-11-21l-4-11l-1-9.5l-1-1.5l0-25.5l1-1.5l0-5.5l5-16l4-9l7-10.5l4.5-4.5zM748 767.5l7 5.5l4 6.5l1 3l0 10.5l-7 15l-13 19.5l-9 18l-6 16.5l-6 9.5l-5 5.5l-8 5l-8.5 0l-6-4l-3-8l0-39.5l1-4l4-6.5l4-2.5l9-9l22-35.5l3.5-3.5l5.5-3l7.5 0zM1343 729.5l8.5 5l8.5 10l8.5 5l4.5 5l7.5 5l8.5 9l6.5 4l4.5 7l7 6.5l2 3.5l0 2.5l-17 24.5l-10.5 10.5l-7.5 5l-7 7l-4 6.5l-5 3.5l-3.5 0l-3.5-2l-4.5-4.5l-14-19.5l-8.5-7l-4.5 0l-2.5 3l-7 2l-1 5l9 33.5l3 23.5l-1 1.5l0 4.5l-14 23.5l-6 3.5l-4.5 0l-14.5-9l-10-8l-7.5-8l-3.5-2l-16.5-16.5l-15-21.5l-11-23l-5-18l0-12.5l-1-1.5l0-25.5l3-8l6-4l19.5 0l1.5-1l14.5-1l1.5-1l5.5 0l1.5-1l14.5-2l30-8l7-3l17.5-11zM1404.5 700.5l3.5 0l4 3.5l5 8.5l1 6.5l-2 3.5l-6 3.5l-7.5 0l-6-3.5l-2-4.5l0-3.5l3-7zM667.5 679.5l4.5 6l0 4.5l-3 5.5l-6.5 6.5l-9.5 5l-6.5 0l-6-4.5l-3-6.5l0-4.5l3-6.5l4.5-4.5l7.5-4l9.5 0zM869 681.5l3 4l2 7l1 11.5l-1 5l-5 8.5l-5 3.5l-14 6l-3 3.5l-2 5l1 57.5l-1 1.5l0 8.5l-1 1.5l0 6.5l-1 1.5l0 5.5l-2 10l-3.5 6l-17 7l-13.5 10l-9 3l-4.5 0l-5-4l1-3l19-13.5l7-9.5l2-6l0-17.5l-9-43l-5-16l-8-18.5l-3-10l-1-10.5l-1-1.5l0-13.5l1-3l4.5-6l7.5-3l11.5 0l13.5 6l5 1l16-4l12.5 0zM760 672.5l6 4.5l4 8.5l-1 8.5l-5 9.5l-5.5 5.5l-5.5 3l-5.5 0l-5.5-3l-3.5-4l-3-7l0-8.5l3-7l5.5-6l10.5-5zM1060 669.5l8.5 4l8.5 10l1 3l-1 15.5l-3 12l-12 25.5l-13 33.5l-2 3l-4 3l-6.5 0l-3-2l-4-5l-4-12l1-14.5l5-20.5l-1-35.5l3-7l2-2l17-10zM544 629.5l2 2l0 9.5l-4 8.5l-4.5 4.5l-3 1l-3-2l1-11.5l5-9l4-3zM1327.5 612.5l3.5 6l0 7.5l-4 9l-8 12.5l-12.5 13.5l-14 7l-4.5 4l-5 15l-5 8.5l-22 18.5l-9 4l-5.5 0.5l-5-1.5l-4-5l0-8.5l5-9.5l20-14.5l3-4.5l9.5-9.5l7.5-4l5.5-1l4.5-3.5l3-6l3-11.5l8-15l5.5-7l10.5-7l6.5 0zM1111 593.5l0 4.5l-3 5.5l-5 4.5l-8 4l-11.5 0l-3-1l-8.5-5l-3.5-5l0-5.5l3-4l7-4l7-2l6.5 0l1.5-1l2 1l5.5 0l6.5 3zM576 577.5l7-3l9.5 5l3.5 6l-1 5.5l-6 4l-7.5 0l-7-3l-3-4l0-4.5zM641.5 530.5l3-3l7.5 0l9.5 5l1.5 3.5l-4 2l-11.5-1l-5-2.5zM733 495l2 3.5l0 9.5l-3 7l-5.5 6l-9.5 6l-23 9l-6.5 1l-3-2l4-10l0-22.5l3-7l2-2l10-4l14.5-2l1.5 1l4.5 0l5.5 3zM1068 458.5l6 4.5l3 5.5l1 10.5l-2 10l-5 12l-4.5 6l-5 2l-4-3l-2-4l-2-33.5l3.5-7l4.5-3z" fill="rgb(92,25,154)"/>
<path d="M265 826l-3 1l-4.5 5l2.5 5l4.5-2l1-3zM300 699l-6 5l-0.5 2.5l5.5 0l1.5-1.5zM347 660l-2 3.5l-3.5 15.5l2 1.5l3.5 0l3.5-6.5l0-7.5l-3-2.5l3.5-0.5l0.5-1zM376 515.5l-2 1l-11 20l0 20.5l-12 21.5l0.5 49l5.5 0l9.5-9l14-6l19-23l6-10.5l0-6.5l-10-14.5l-3-7l0-15.5l-3-10l-8.5-4.5l-1.5-3.5zM771.5 382l-0.5 6l5 5.5l3 8l-1 7.5l-3 7l11 14l5 9.5l6 17l3 21.5l5.5 3l5-9l0-62.5l-6.5-6.5l-15.5 0l-1-1l0-13.5l-6.5-6.5zM594.5 151l-2.5 0l-5 5l-8.5 15l1 1.5l4 1.5l6-11l9-7zM457 325.5l0 61.5l6 4.5l2 4l1 12.5l3 12.5l-1 8.5l-2 3.5l-4 2.5l-4.5-2.5l-2-4.5l0-20.5l-2.5-3.5l-4-1.5l-4 7l0 41.5l5 5.5l-1 2l-9 7.5l-35.5 0l-7.5 7.5l-1.5 3l1 2l5.5 1l14.5 9l15 7l19.5 2l14.5 3l41.5-10l28.5-14l3-5.5l2-7l-1-2l0-7.5l-1-1.5l0-18.5l3-5.5l3.5-3.5l6.5-4l8-2l18.5-1l15 3l7.5 4l4.5 4.5l6 9.5l2 8l0 12.5l-3 10l-4 6.5l-10.5 9.5l-12.5 7.5l-1 3l1 22.5l-4 10.5l-3 17.5l-4.5 6l-5.5 3l-6.5 1l-8.5-4l-5.5-6.5l-3.5-2.5l-8.5 2l-10.5 6l-2.5 3l-15 11l-8.5 11.5l-12 10.5l-4 9.5l-4 15.5l-3 5.5l-3.5 3.5l-5.5 3l-9.5 0l-11.5-7l-4 2l-20.5 25l-8.5 6l-7.5 8l-14.5 9l-7 7l-10 17.5l-3 10.5l-11 20.5l-5 16l-1 13.5l-2 10l-4 12l-8 15.5l-5 20.5l-6 17l-9 18.5l-2 22.5l-3 14.5l0 33.5l-3 4l-4-1l-11.5-14l-7-14.5l-6.5 0l0 3.5l13 22.5l10 20l0 13.5l-6 2l-4 4l-0.5 2l9.5 19l13 22.5l6.5 6l8.5 0l9 16l6.5 6l31.5 0l9 15l6.5 6l149.5 0l8 15l6.5 6l35.5 0l7.5-7.5l9-18.5l22-38l19.5 0l6.5-6l9-15l8.5 0l6.5-6l9-15l7.5 0l6.5-6l9-15l31.5 0l6.5-6l9-15l31.5 0l6.5-6.5l0-13.5l1-1l13.5 0l9 15l6.5 6l64.5 0l0.5-6l3-5.5l8-5.5l24.5-2l20.5-6l7-18l5-8.5l10.5-11.5l11.5-5l9.5 0l10.5 6l5.5 5.5l5 9.5l1.5 9.5l-0.5 8l-3 7l-11.5 12l-5.5 3l-13 4l-14.5 0l-4.5 4.5l0 13.5l10 20l7.5 7.5l55.5 0l18 30l13 26.5l7.5 7.5l35.5 0l6-5l5.5 5l16.5 0l1 1l0 13.5l6.5 6.5l19.5 0l9 15l6.5 6l11.5 0l6.5-6l5.5-9l2 1.5l1.5-0.5l6-6l3-1l9.5 1l7.5 5l5.5 5.5l7 9.5l3 6l0.5 15l19-0.5l0-5.5l-2-2.5l1-19.5l6-12l6-4l3.5 0l4 2l4 5l3 13l0 6.5l1 1.5l0 6.5l-2 3.5l0.5 6l4.5 0l6.5-6l8-15l18.5 0l1.5-9l4-5l4-2l5.5 0l6.5 3l4.5 7l0.5 6l31.5 0l9 15l6.5 6l46.5 0l6.5-6l8-15l20.5 0l6.5-6l9-15.5l-3-5l-4-4l-7-28l0-7.5l3-5.5l7-4.5l8.5 0l3 1l20.5 14l18 8l7.5 7l1.5 3l6-5.5l0-14.5l1-1l4.5 0l6.5-6l12-21.5l0-62.5l-12-21.5l0-20.5l-12-21.5l0-20.5l-12-23.5l-5.5-5l-8.5 0l-2-2l-18-32.5l-7.5-7.5l-30.5 0l-7 10l-8.5 6l-10 4l-13.5 0l-9-4.5l-3-4.5l-1-4l2-7.5l6.5-8l15-9l4-3.5l-8.5-15l-6.5-6l-4.5 0l-1-1l0-13.5l-12-21.5l-29.5-27l-8.5 0l-32-58l-6.5-6l-8.5 0l-2-2l-18-32.5l-7.5-7.5l-31.5 0l-9-15l-6.5-6l-7.5 0l-2-2l-18-32.5l-7.5-7.5l-43.5 0l-20-37l0-20.5l-11-20l-6-6.5l-2.5 0l-5 5l-5.5 9.5l1 2l3.5 2l-4 6.5l-1.5-0.5l-0.5 1.5l-3 2l-7.5-1l-6-4.5l-5-8.5l-1-7.5l4.5-5l-9.5-17.5l-6.5-6l-11.5 0l-6.5 6.5l0 19.5l-15.5 15l-4.5 1.5l0 10.5l-3 5.5l-4 3.5l-8 3l-8.5 0l-7-2l-6.5-4l-3.5-6l-1.5-11l-25.5 0l-6.5 6l-9 15l-7.5 0l-6.5 6l-9 15l-31.5 0l-6.5 6l-9 16l-8.5 0l-6.5 6l-19.5 36.5l4.5 2l13.5-7l14.5 0l31 13l8 6.5l7 12.5l0 9.5l-6 10l-9 6l-45.5 0l-11-3l-46-23l-12-7.5l-0.5 2.5l6 19.5l-1 30.5l-3 5.5l-4 3.5l-4 2l-7.5 1l-7-2l-6.5-4l-5.5-9l-10-29l-9-36.5l-17-38.5l0-8.5l-2-5.5l0-25.5l4-19.5l-2-18.5l-11-18.5l0-4.5l2-5.5l0-6.5l-14-0.5l-1-1l0-13.5l-11.5-20.5l2.5-6.5l16-28l2-2l7.5 0l6.5-6l9-16l8.5 0l6.5-6l9-15l7.5 0l5.5-5l0.5-2l-9.5-19l-7.5-7.5l-11.5 0l-6.5 6l-9 15l-52.5 0l-7-13.5l-7.5-7.5l-8.5 0l-2-2l-42-76l0-20.5l-6.5-6l-7 7l-16 28l1 12.5l-2 6l-5 8.5l-20 12.5l-7 6l-22 36.5l-9.5 9.5l-5.5 3l-8.5 0l-2.5-5l-2 1l-7 7.5l-11 20l-7 5.5l-12.5 13l-19.5 16zM1388.5 1003.5l5.5 1l4 3.5l3 5.5l2 9l0 12.5l-3 11l-3 5.5l-5 3.5l-6.5 0l-6-4.5l-2-3.5l-3-11l0-11.5l3-11l4.5-7zM467 858.5l8.5 4l4.5 5l3 7l0 9.5l-8 18.5l-4 18.5l-7 20l-23 46l-10.5 16l-6.5 3l-3.5 0l-5-3l-3-4l-8-40.5l-2-5.5l-1-20.5l-1-1.5l1-42.5l1-1.5l0-4.5l3-5.5l7-4.5l8.5 0l10.5-8l18-5zM1103.5 773.5l8.5 1l5.5 3l3.5 5l1 3l0 8.5l-3 12l3 13l3 6.5l6 6l6.5 4l9.5 1l1.5 1l5.5 0l1.5-1l4.5 1l5 3.5l3 5.5l0 22.5l26 41.5l3 6l3 12l0 8.5l-4 9l-4.5 6l-6.5 4l-6 2l-10.5 0l-18-4l-5-4l-3-5l0-12.5l-1.5-1.5l-18-5l-14.5-1l-7.5-4l-5.5-5.5l-9-12.5l-10-19l-6-16l0-5.5l-1-1.5l-1-22.5l1-1.5l1-16.5l9-24l9-13.5l4.5-4.5zM750 760.5l6.5 4l8.5 11l2 6l0 11.5l-2 7l-8 14l-12 17.5l-8 16l-5 15.5l-9 14.5l-6.5 6.5l-6.5 4l-3 1l-10.5 0l-8.5-4l-5.5-8l0-52.5l4-7.5l13-9.5l20-33l8.5-11l7.5-4l5-1zM1345 722.5l7.5 4l7.5 7.5l10 17.5l10.5 8l8.5 9l23.5 12l4.5 5l1 6.5l-4 7.5l-12 8.5l-8 12.5l-20 19l-7 13l-6 4.5l-5.5 1l-8.5-4l-16.5-24l-7-8l-6.5-3l-7 2l-1 5l9 33.5l1 10.5l2 7.5l-2 18.5l-4 15l-4 6.5l-8 5.5l-9.5 0l-7.5-4l-20.5-19l-18.5-15l-13.5-15.5l-11-17.5l-8-18l-7-27l-1-19.5l-1-1.5l0-22.5l3-5.5l3.5-3.5l5.5-3l19.5 1l1.5-1l6.5 0l1.5-1l6.5 0l1.5-1l17.5-2l38-10l21.5-14l3-1zM1404.5 688.5l2.5 0l6 3.5l8 13.5l5 12l0 2.5l-3 6.5l-4 3.5l-8 3l-11.5 0l-7.5-4l-4.5-7l0-9.5l3-7l5-6.5l3-6.5zM666 670.5l8.5 5l4.5 7l1 6.5l-2 6l-10.5 12l-12.5 7l-7.5 1l-6-2l-6-4.5l-5-10.5l0-9.5l3-6l7.5-8l10.5-5l11.5 0zM869 672.5l3.5 2l6.5 8l1 12.5l1 1.5l0 14.5l-4 7.5l-7.5 7.5l-5.5 3l-11.5 3l-1.5 2.5l0 27.5l1 1.5l1 21.5l-1 1.5l-1 20.5l-1 1.5l-3 24.5l-3 5l-5 4l-11.5 2l-13 11l-7.5 4l-9 3l-7.5 0l-6-2l-5-4l-2-4l0-5.5l1-2l4-4l9.5-4l13-9l6.5-9.5l0-15.5l-4-16.5l-2-14.5l-8-28l-11-26.5l0-4.5l-3-13.5l0-7.5l1-1.5l0-7.5l1-3l6-7l7-3l5.5 0l1.5-1l10.5 0l16.5 8l3.5 0l7.5-4zM759 664.5l8.5 4l5.5 6l3 6l0 13.5l-6 13l-7.5 8l-7.5 4l-9.5 0l-7.5-4l-6.5-8l-3-7l0-10.5l2-7l6-9l13-8zM1062 662.5l9 4l7 6.5l6 8.5l2 10.5l-2 4.5l-1 8.5l-4 15l-10 19.5l-14 37.5l-3 4.5l-4 3.5l-4 2l-8.5 0l-5.5-3l-6.5-8l-5-15l2-19.5l5-18.5l-1-13.5l-1-1.5l1-24.5l3-5.5l3.5-3.5l3.5-2l5.5-1l8.5-7l5-2zM548 618.5l4 3l3 6l-1 12.5l-2 7l-4 7.5l-6.5 7.5l-5.5 3l-5.5 0l-4-2l-4-6l0-7.5l4-13l4-8l5.5-7l5.5-3zM1332.5 606.5l5.5 9l0 11.5l-4 9l-9 14.5l-12.5 14.5l-8.5 6l-6 3l-3.5 0l-1.5 1.5l-4 15.5l-5 8.5l-17 13.5l-3.5 4l-9.5 6l-9 3l-6.5 0l-6.5-3l-4.5-5l-3-7l0-5.5l4-11l3-4.5l3.5-3.5l16.5-10l13.5-16l10.5-6l5.5 0l1.5-1l5-17l11-19.5l6.5-6.5l6.5-5l7-3l6.5 0zM1113 583.5l5 7l1 4l-1 6.5l-3 5.5l-4.5 4.5l-11.5 7l-3 1l-13.5 0l-14.5-7l-4.5-4.5l-3-5.5l-1-4.5l3-7.5l4.5-4.5l7.5-4l18.5-4l1.5 1l11.5 1zM566.5 577l9-8.5l3-1l8.5 0l13 9.5l4 7.5l0 7.5l-5.5 7l-6.5 3l-10.5 0l-8-2l-5.5-3l-3.5-4l-1-3l0-7.5zM741 494.5l1 3l0 11.5l-2 6l-4 6.5l-3.5 3.5l-10.5 7l-17.5 6l-8.5 6l-15 4l-27.5-2l-14-3l-3.5-2l-4.5-6l0-6.5l2-4l5-4l6-2l8.5 1l19.5 8l8.5-1l1.5-2.5l0-27.5l3-5.5l7-5.5l18-4l14.5 0l11.5 6zM1068 450.5l9.5 5l5.5 9l1 3l0 17.5l-4 13l-9 16.5l-6 3.5l-6.5 0l-5-3.5l-5-9.5l0-22.5l-2-8.5l0-8.5l3-6l3.5-4l6.5-4z" fill="rgb(81,15,140)"/>
<path d="M265 826l-3 1l-4.5 5l2.5 5l4.5-2l1-3zM300 699l-6 5l-0.5 2.5l5.5 0l1.5-1.5zM347 660l-2 3.5l-3.5 15.5l2 1.5l3.5 0l3.5-6.5l0-7.5l-3-2.5l3.5-0.5l0.5-1zM376 515.5l-2 1l-11 20l0 20.5l-12 21.5l0.5 49l5.5 0l9.5-9l14-6l19-23l6-10.5l0-6.5l-13-20.5l0-16.5l-3-10l-8.5-4.5l-1.5-3.5zM771.5 382l-0.5 6l5 5l4 6.5l0 3.5l-5 13l11 14l5 9.5l6 17l3 21.5l5.5 3l5-9l0-62.5l-6.5-6.5l-15.5 0l-1-1l0-13.5l-6.5-6.5zM585.5 160.5l-7 10.5l4 3l2-1l4-9zM598.5 155.5l-5.5-5l-6.5 7l4.5 2zM457 325.5l0 59.5l5 2.5l5 7l0 7.5l2 4.5l0 10.5l1 1.5l0 11.5l-2 6l-3 5.5l-4 3.5l-3-1l-3.5-4l0-33.5l-1.5-2.5l-4-1.5l-4 7l0 41.5l5 5.5l-1 2l-9 7.5l-35.5 0l-7.5 7.5l-1.5 3l1 2l6.5 1l13.5 9l15 7l19.5 2l14.5 3l41.5-10l28.5-14l3-5.5l2-7l-1-2l0-7.5l-1-1.5l0-20.5l2-3.5l4-3.5l7-4l8-2l18.5-1l1.5 1l14.5 2l4.5 2l6.5 6.5l6 9.5l2 8l0 12.5l-3 10l-3 5.5l-11.5 10.5l-12.5 7.5l-1 3l1 22.5l-4 10.5l-2 15.5l-2 5l-3.5 4l-5.5 3l-8.5 0l-3-1l-12.5-12l-8.5 2l-10.5 6l-2.5 3l-15 11l-8.5 11.5l-12 10.5l-4 9.5l-1 6.5l-4 12l-5.5 7l-7.5 3l-6.5 0l-12.5-8l-4 2l-20.5 25l-8.5 6l-7.5 8l-14.5 9l-7 7l-10 17.5l-3 10.5l-11 20.5l-5 16l-1 13.5l-2 10l-4 12l-8 15.5l-5 20.5l-6 17l-9 18.5l-2 22.5l-3 14.5l0 23.5l5 16.5l-1 5.5l-5 5l-3.5-2.5l-18-32.5l-3-7.5l-6.5 0l0 3.5l13 22.5l10 20l0 13.5l-6 2l-4 4l-0.5 2l9.5 19l13 22.5l6.5 6l8.5 0l9 16l6.5 6l31.5 0l9 15l6.5 6l149.5 0l8 15l6.5 6l35.5 0l7.5-7.5l9-18.5l22-38l19.5 0l6.5-6l9-15l8.5 0l6.5-6l9-15l7.5 0l6.5-6l9-15l31.5 0l6.5-6l9-15l31.5 0l6.5-6.5l0-13.5l1-1l13.5 0l9 15l6.5 6l62.5 0l0.5-6l-1-3l1.5-2l8.5-5l10-2l18.5-1l20.5-6l9-22l7-9.5l9-8.5l12-4l5.5 0l11.5 7l5.5 5.5l6 11.5l1 6.5l-1 1.5l0 7.5l-3 7l-11.5 12l-5.5 3l-13 4l-14.5 0l-4.5 4.5l0 13.5l10 20l7.5 7.5l55.5 0l18 30l13 26.5l7.5 7.5l35.5 0l6-5l5.5 5l16.5 0l1 1l0 13.5l6.5 6.5l19.5 0l9 15l6.5 6l11.5 0l6.5-6l5.5-9l2.5 1.5l8-7.5l9.5-1l9.5 7l5.5 5.5l9 12.5l3 7l0 2.5l-2 2.5l0.5 6l19-0.5l0-5.5l-2-2.5l1-19.5l6-14l5-5l5.5 0l5 4.5l2 3.5l3 15l0 6.5l1 1.5l0 7.5l-2 2.5l0.5 6l4.5 0l6.5-6l8-15l16.5 0l0.5-6l-1-3l3.5-4l7.5-4l9.5 1l8.5 4l3 3.5l-1.5 2.5l0.5 6l29.5 0l9 15l6.5 6l46.5 0l6.5-6l8-15l20.5 0l6.5-6l9-15.5l-3-5l-4-4l-8-33l0-5.5l5-5l7-3l8.5 1l6 3l16.5 12l10 5l10.5 3l4 4l2.5 6l6-5.5l0-14.5l1-1l4.5 0l6.5-6l12-21.5l0-62.5l-12-21.5l0-20.5l-12-21.5l0-20.5l-12-23.5l-5.5-5l-8.5 0l-2-2l-18-32.5l-7.5-7.5l-30.5 0l-8 11l-7.5 5l-10 4l-10.5 1l-7-2l-8-4.5l-3-5.5l0-2.5l5-8.5l5.5-6.5l15-9l4-3.5l-8.5-15l-6.5-6l-4.5 0l-1-1l0-13.5l-12-21.5l-29.5-27l-8.5 0l-32-58l-6.5-6l-8.5 0l-2-2l-18-32.5l-7.5-7.5l-31.5 0l-9-15l-6.5-6l-7.5 0l-2-2l-18-32.5l-7.5-7.5l-43.5 0l-20-37l0-20.5l-11-20l-6-6.5l-2.5 0l-5 5l-5.5 9.5l1 2l3.5 2l1 3l-1 5l-4 2.5l-10.5 0l-8-6.5l-9-14.5l1.5-2.5l5-2l1-2l-9.5-17.5l-6.5-6l-11.5 0l-6.5 6.5l0 19.5l-15.5 15l-4.5 1.5l0 5.5l2 2.5l0 4.5l-7 7l-9 3l-9.5 0l-7-2l-6.5-3l-5.5-6l-1-3.5l2-2.5l-0.5-6l-25.5 0l-6.5 6l-9 15l-7.5 0l-6.5 6l-9 15l-31.5 0l-6.5 6l-9 16l-8.5 0l-6.5 6l-19.5 36.5l4.5 2l12.5-7l15.5 0l34.5 15l5.5 6l8 15l-3 8.5l-6 8.5l-6 4.5l-47.5 0l-11-3l-46-23l-12-7.5l-0.5 2.5l6 19.5l-1 32.5l-2 3.5l-4 3.5l-7 3l-6.5 0l-10.5-4l-6.5-8l-11-32l-9-36.5l-17-38.5l0-8.5l-2-5.5l0-25.5l4-19.5l-1-12.5l-1-1.5l0-4.5l-6-11l-5-5l-4.5-7.5l3-4.5l3.5-1.5l0-5.5l-14-0.5l-1-1l0-13.5l-11.5-20.5l2.5-6.5l16-28l2-2l7.5 0l6.5-6l9-16l8.5 0l6.5-6l9-15l7.5 0l5.5-5l0.5-2l-9.5-19l-7.5-7.5l-11.5 0l-6.5 6l-9 15l-52.5 0l-7-13.5l-7.5-7.5l-8.5 0l-2-2l-42-76l0-20.5l-6.5-6l-7 7l-16 28l1 13.5l-5 11.5l-4.5 4.5l-10 5l-14.5 11l-22 36.5l-12.5 12.5l-3.5 2l-4.5 0.5l-3-2l-2.5-5.5l-2 1l-7 7.5l-11 20l-7 5.5l-12.5 13l-19.5 16zM1391 998.5l6 6l5 12l1 18.5l-3 12l-2 4l-6.5 8l-4 1l-4-2.5l-5-7.5l-5-20.5l3-13l4-9l7.5-8zM469 858.5l6 3l4 3.5l4 9.5l0 9.5l-9 21.5l-3 15.5l-7 20l-27 53l-5 7.5l-7.5 7.5l-5 1l-5-5l-3-8l-7-38.5l-2-5.5l-1-20.5l-1-1.5l2-51.5l2-3.5l5-3.5l11.5 0l8.5-7l11-4l9-2l5.5 0l1.5-1l6.5 0l1.5-1zM1097.5 775.5l12.5-4l3.5 2l7.5 8l2 4l0 4.5l-4 16l4 16l2 3.5l6 6l6.5 4l4 1l5.5 0l1.5 1l14.5-1l3 2.5l2 3.5l0 26.5l26 41.5l3 6l3 12l0 9.5l-5 10l-4.5 5l-5.5 3l-6 2l-10.5 0l-20-4l-6-6l0-15.5l-1.5-1.5l-18-5l-14.5-1l-6.5-3l-10.5-11.5l-15-26.5l-6-16l0-5.5l-1-1.5l-1-22.5l1-1.5l1-16.5l9-24l9-13.5l5.5-5.5zM750 760.5l5.5 3l4.5 4.5l7 11.5l1 3.5l-1 1.5l0 8.5l-2 7l-8 14l-12 17.5l-8 16l-5 15.5l-9 14.5l-6.5 6.5l-10.5 6l-5.5 0l-11-3l-3.5-2l-3.5-5l0-57.5l5.5-7l11.5-8l25-40.5l4.5-4.5l8.5-4l6.5 0zM1346 722.5l5.5 3l8.5 8.5l10 17.5l10.5 8l8.5 9l16.5 9l10.5 4l3 2.5l2 4l-3 7.5l-4.5 4.5l-9.5 6l-10 14.5l-20 19l-9 16l-3 2.5l-5 2l-4.5-1l-6-5.5l-16-23.5l-7-8l-6.5-3l-7 2l-1 5l9 33.5l3 23.5l-1 1.5l-2 16.5l-5 14l-6.5 7l-5.5 3l-2.5 0l-6-2l-6.5-4l-20.5-19l-18.5-15l-13.5-15.5l-7-10.5l-8-15l-8-23l-1-8.5l-2-5.5l0-7.5l-1-1.5l-1-35.5l3-5.5l7-5.5l21.5 1l1.5-1l6.5 0l1.5-1l6.5 0l1.5-1l17.5-2l38-10l23.5-15l3-1zM1402.5 682.5l4 1l5.5 5.5l14 26.5l1 5.5l3.5 1l-0.5 1l-2.5 0l-1.5 3.5l-3 2.5l-12 4l-11.5 0l-8.5-4l-4.5-5l0-6.5l2-8l9-14.5l0-6.5l1-2zM672 673.5l6 5.5l3 6.5l0 4.5l-3 5.5l-10.5 11.5l-14.5 8l-7.5 0l-6.5-3l-5.5-6l-3-8l0-10.5l2-4.5l8.5-8.5l9.5-5l13.5 0zM872 672.5l5 4.5l2 4.5l3 28.5l-3 6.5l-9.5 9.5l-5.5 3l-11.5 3l-1.5 2.5l0 27.5l1 1.5l1 21.5l-1 1.5l-1 20.5l-1 1.5l-3 26.5l-2 3.5l-5 4.5l-9.5 0l-3 1l-13 11l-7.5 4l-9 3l-8.5 0l-9.5-4l-5.5-6l-1-3l1-3.5l4-4l9.5-3l14.5-9l6-6l3-5.5l0-15.5l-4-16.5l-2-14.5l-8-28l-11-26.5l0-4.5l-3-13.5l1-18.5l3.5-7l5.5-3l17.5-2l1.5-1l4.5 1l15.5 8l3.5 0l6.5-4zM760 664.5l6.5 3l8.5 9l2 9l0 7.5l-7 14l-7.5 8l-8.5 5l-6.5 0l-7.5-3l-8.5-10l-3-7l0-10.5l3-11l4.5-5l14.5-9zM1058 661.5l12 4l8 7.5l8 12.5l1 6.5l-3 4.5l-1 8.5l-4 15l-10 19.5l-13 35.5l-3 5.5l-6.5 6.5l-3.5 2l-4.5 0l-8.5-5l-4.5-4.5l-7-16.5l2-21.5l5-18.5l-1-13.5l-1-1.5l1-25.5l1-4l5-5l9.5-2l9.5-8l4-2zM548 615.5l4.5 3l2.5 4l0 10.5l-3 14l-4 7.5l-9.5 10.5l-4.5 2l-4.5 0l-3.5-2l-4.5-6l0-6.5l5-16l5-9.5l9.5-10.5l3.5-1.5zM1330.5 604.5l5.5 5.5l2 3.5l0 13.5l-8 16l-13 17.5l-14 11.5l-5 2l-3.5 0l-1.5 1.5l-5 18.5l-3 4.5l-18 14.5l-3.5 4l-9.5 6l-9 3l-9.5 0l-3.5-2l-5.5-7l-3-6l1-6.5l6-13.5l4.5-4.5l16.5-10l13.5-16l9.5-6l6.5 0l1.5-1l5-17l11-19.5l6.5-6.5l7.5-6l8-3l4.5 0zM1112.5 582.5l3.5 3.5l4 6.5l0 3.5l-4 9.5l-5.5 5.5l-13.5 8l-14.5 0l-13-6l-7-6.5l-5-8.5l0-3.5l5.5-6l11.5-7l18.5-4l1.5 1l11.5 1zM580.5 564.5l4.5 1l12.5 9l9.5 13l-1 5l-4.5 4.5l-7.5 5l-12.5 0l-5-1l-10-4l-5-5l0-4.5l4-9.5l11.5-11.5zM741 492.5l2 12.5l-3 10l-3 5.5l-4.5 4.5l-10.5 7l-17.5 6l-7.5 6l-15 4l-18.5-1l-1.5-1l-8.5 0l-1.5-1l-10.5-1l-6.5-3l-5.5-5.5l-2-3.5l2-5l11-8.5l12.5 1l19.5 8l8.5-1l1.5-2.5l0-30.5l2-3.5l5-3.5l15-4l17.5-2l12 5zM1071 450.5l7 5.5l6 10.5l0 18.5l-4 13l-8 15.5l-7 6.5l-6.5 1l-5-5l-5-11l0-22.5l-2-8.5l0-10.5l2-3.5l8-7.5l4-2z" fill="rgb(70,5,127)"/>
<path d="M265 826l-3 1l-4.5 5l2.5 5l4.5-2l1-3zM300 699l-6 5l-0.5 2.5l5.5 0l1.5-1.5zM347 660l-2 3.5l-3.5 15.5l2 1.5l3.5 0l3.5-6.5l0-7.5l-3-2.5l3.5-0.5l0.5-1zM376 515.5l-2 1l-11 20l0 20.5l-12 21.5l0.5 49l5.5 0l9.5-9l14-6l19-23l6-10.5l0-6.5l-13-20.5l0-16.5l-3-10l-8.5-4.5l-1.5-3.5zM771.5 382l-0.5 6l5 5l4 6.5l0 3.5l-5 13l11 14l5 9.5l6 17l3 21.5l5.5 3l5-9l0-62.5l-6.5-6.5l-15.5 0l-1-1l0-13.5l-6.5-6.5zM585.5 160.5l-7 10.5l4 3l2-1l4-9zM598.5 155.5l-5.5-5l-6.5 7l4.5 2zM457 325.5l0 59.5l5 2.5l5 7l0 7.5l2 4.5l0 10.5l1 1.5l0 11.5l-2 6l-3 5.5l-4 3.5l-3-1l-3.5-4l0-33.5l-1.5-2.5l-4-1.5l-4 7l0 41.5l5 5.5l-1 2l-9 7.5l-35.5 0l-7.5 7.5l-1.5 3l1 2l6.5 1l13.5 9l15 7l19.5 2l14.5 3l41.5-10l28.5-14l3-5.5l2-7l-1-2l0-7.5l-1-1.5l0-20.5l2-3.5l4-3.5l7-4l8-2l18.5-1l1.5 1l14.5 2l4.5 2l6.5 6.5l6 9.5l2 8l0 12.5l-3 10l-3 5.5l-11.5 10.5l-12.5 7.5l-1 3l1 22.5l-4 10.5l-2 15.5l-2 5l-3.5 4l-5.5 3l-8.5 0l-3-1l-12.5-12l-8.5 2l-10.5 6l-2.5 3l-15 11l-8.5 11.5l-12 10.5l-4 9.5l-1 6.5l-4 12l-5.5 7l-7.5 3l-6.5 0l-12.5-8l-4 2l-20.5 25l-8.5 6l-7.5 8l-14.5 9l-7 7l-10 17.5l-3 10.5l-11 20.5l-5 16l-1 13.5l-2 10l-4 12l-8 15.5l-5 20.5l-6 17l-9 18.5l-2 22.5l-3 14.5l0 23.5l5 16.5l-1 5.5l-5 5l-3.5-2.5l-18-32.5l-3-7.5l-6.5 0l0 3.5l13 22.5l10 20l0 13.5l-6 2l-4 4l-0.5 2l9.5 19l13 22.5l6.5 6l8.5 0l9 16l6.5 6l31.5 0l9 15l6.5 6l149.5 0l8 15l6.5 6l35.5 0l7.5-7.5l9-18.5l22-38l19.5 0l6.5-6l9-15l8.5 0l6.5-6l9-15l7.5 0l6.5-6l9-15l31.5 0l6.5-6l9-15l31.5 0l6.5-6.5l0-13.5l1-1l13.5 0l9 15l6.5 6l62.5 0l0.5-6l-1-3l1.5-2l8.5-5l10-2l18.5-1l20.5-6l9-22l7-9.5l9-8.5l12-4l5.5 0l11.5 7l5.5 5.5l6 11.5l1 6.5l-1 1.5l0 7.5l-3 7l-11.5 12l-5.5 3l-13 4l-14.5 0l-4.5 4.5l0 13.5l10 20l7.5 7.5l55.5 0l18 30l13 26.5l7.5 7.5l35.5 0l6-5l5.5 5l16.5 0l1 1l0 13.5l6.5 6.5l19.5 0l9 15l6.5 6l11.5 0l6.5-6l5.5-9l2.5 1.5l8-7.5l9.5-1l9.5 7l5.5 5.5l9 12.5l3 7l0 2.5l-2 2.5l0.5 6l19-0.5l0-5.5l-2-2.5l1-19.5l6-14l5-5l5.5 0l5 4.5l2 3.5l3 15l0 6.5l1 1.5l0 7.5l-2 2.5l0.5 6l4.5 0l6.5-6l8-15l16.5 0l0.5-6l-1-3l3.5-4l7.5-4l9.5 1l8.5 4l3 3.5l-1.5 2.5l0.5 6l29.5 0l9 15l6.5 6l46.5 0l6.5-6l8-15l20.5 0l6.5-6l9-15.5l-3-5l-4-4l-8-33l0-5.5l5-5l7-3l8.5 1l6 3l16.5 12l10 5l10.5 3l4 4l2.5 6l6-5.5l0-14.5l1-1l4.5 0l6.5-6l12-21.5l0-62.5l-12-21.5l0-20.5l-12-21.5l0-20.5l-12-23.5l-5.5-5l-8.5 0l-2-2l-18-32.5l-7.5-7.5l-30.5 0l-8 11l-7.5 5l-10 4l-10.5 1l-7-2l-8-4.5l-3-5.5l0-2.5l5-8.5l5.5-6.5l15-9l4-3.5l-8.5-15l-6.5-6l-4.5 0l-1-1l0-13.5l-12-21.5l-29.5-27l-8.5 0l-32-58l-6.5-6l-8.5 0l-2-2l-18-32.5l-7.5-7.5l-31.5 0l-9-15l-6.5-6l-7.5 0l-2-2l-18-32.5l-7.5-7.5l-43.5 0l-20-37l0-20.5l-11-20l-6-6.5l-2.5 0l-5 5l-5.5 9.5l1 2l3.5 2l1 3l-1 5l-4 2.5l-10.5 0l-8-6.5l-9-14.5l1.5-2.5l5-2l1-2l-9.5-17.5l-6.5-6l-11.5 0l-6.5 6.5l0 19.5l-15.5 15l-4.5 1.5l0 5.5l2 2.5l0 4.5l-7 7l-9 3l-9.5 0l-7-2l-6.5-3l-5.5-6l-1-3.5l2-2.5l-0.5-6l-25.5 0l-6.5 6l-9 15l-7.5 0l-6.5 6l-9 15l-31.5 0l-6.5 6l-9 16l-8.5 0l-6.5 6l-19.5 36.5l4.5 2l12.5-7l15.5 0l34.5 15l5.5 6l8 15l-3 8.5l-6 8.5l-6 4.5l-47.5 0l-11-3l-46-23l-12-7.5l-0.5 2.5l6 19.5l-1 32.5l-2 3.5l-4 3.5l-7 3l-6.5 0l-10.5-4l-6.5-8l-11-32l-9-36.5l-17-38.5l0-8.5l-2-5.5l0-25.5l4-19.5l-1-12.5l-1-1.5l0-4.5l-6-11l-5-5l-4.5-7.5l3-4.5l3.5-1.5l0-5.5l-14-0.5l-1-1l0-13.5l-11.5-20.5l2.5-6.5l16-28l2-2l7.5 0l6.5-6l9-16l8.5 0l6.5-6l9-15l7.5 0l5.5-5l0.5-2l-9.5-19l-7.5-7.5l-11.5 0l-6.5 6l-9 15l-52.5 0l-7-13.5l-7.5-7.5l-8.5 0l-2-2l-42-76l0-20.5l-6.5-6l-7 7l-16 28l1 13.5l-5 11.5l-4.5 4.5l-10 5l-14.5 11l-22 36.5l-12.5 12.5l-3.5 2l-4.5 0.5l-3-2l-2.5-5.5l-2 1l-7 7.5l-11 20l-7 5.5l-12.5 13l-19.5 16zM1391 998.5l6 6l5 12l1 18.5l-3 12l-2 4l-6.5 8l-4 1l-4-2.5l-5-7.5l-5-20.5l3-13l4-9l7.5-8zM469 858.5l6 3l4 3.5l4 9.5l0 9.5l-9 21.5l-3 15.5l-7 20l-27 53l-5 7.5l-7.5 7.5l-5 1l-5-5l-3-8l-7-38.5l-2-5.5l-1-20.5l-1-1.5l2-51.5l2-3.5l5-3.5l11.5 0l8.5-7l11-4l9-2l5.5 0l1.5-1l6.5 0l1.5-1zM1097.5 775.5l12.5-4l3.5 2l7.5 8l2 4l0 4.5l-4 16l4 16l2 3.5l6 6l6.5 4l4 1l5.5 0l1.5 1l14.5-1l3 2.5l2 3.5l0 26.5l26 41.5l3 6l3 12l0 9.5l-5 10l-4.5 5l-5.5 3l-6 2l-10.5 0l-20-4l-6-6l0-15.5l-1.5-1.5l-18-5l-14.5-1l-6.5-3l-10.5-11.5l-15-26.5l-6-16l0-5.5l-1-1.5l-1-22.5l1-1.5l1-16.5l9-24l9-13.5l5.5-5.5zM750 760.5l5.5 3l4.5 4.5l7 11.5l1 3.5l-1 1.5l0 8.5l-2 7l-8 14l-12 17.5l-8 16l-5 15.5l-9 14.5l-6.5 6.5l-10.5 6l-5.5 0l-11-3l-3.5-2l-3.5-5l0-57.5l5.5-7l11.5-8l25-40.5l4.5-4.5l8.5-4l6.5 0zM1346 722.5l5.5 3l8.5 8.5l10 17.5l10.5 8l8.5 9l16.5 9l10.5 4l3 2.5l2 4l-3 7.5l-4.5 4.5l-9.5 6l-10 14.5l-20 19l-9 16l-3 2.5l-5 2l-4.5-1l-6-5.5l-16-23.5l-7-8l-6.5-3l-7 2l-1 5l9 33.5l3 23.5l-1 1.5l-2 16.5l-5 14l-6.5 7l-5.5 3l-2.5 0l-6-2l-6.5-4l-20.5-19l-18.5-15l-13.5-15.5l-7-10.5l-8-15l-8-23l-1-8.5l-2-5.5l0-7.5l-1-1.5l-1-35.5l3-5.5l7-5.5l21.5 1l1.5-1l6.5 0l1.5-1l6.5 0l1.5-1l17.5-2l38-10l23.5-15l3-1zM1402.5 682.5l4 1l5.5 5.5l14 26.5l1 5.5l3.5 1l-0.5 1l-2.5 0l-1.5 3.5l-3 2.5l-12 4l-11.5 0l-8.5-4l-4.5-5l0-6.5l2-8l9-14.5l0-6.5l1-2zM672 673.5l6 5.5l3 6.5l0 4.5l-3 5.5l-10.5 11.5l-14.5 8l-7.5 0l-6.5-3l-5.5-6l-3-8l0-10.5l2-4.5l8.5-8.5l9.5-5l13.5 0zM872 672.5l5 4.5l2 4.5l3 28.5l-3 6.5l-9.5 9.5l-5.5 3l-11.5 3l-1.5 2.5l0 27.5l1 1.5l1 21.5l-1 1.5l-1 20.5l-1 1.5l-3 26.5l-2 3.5l-5 4.5l-9.5 0l-3 1l-13 11l-7.5 4l-9 3l-8.5 0l-9.5-4l-5.5-6l-1-3l1-3.5l4-4l9.5-3l14.5-9l6-6l3-5.5l0-15.5l-4-16.5l-2-14.5l-8-28l-11-26.5l0-4.5l-3-13.5l1-18.5l3.5-7l5.5-3l17.5-2l1.5-1l4.5 1l15.5 8l3.5 0l6.5-4zM760 664.5l6.5 3l8.5 9l2 9l0 7.5l-7 14l-7.5 8l-8.5 5l-6.5 0l-7.5-3l-8.5-10l-3-7l0-10.5l3-11l4.5-5l14.5-9zM1058 661.5l12 4l8 7.5l8 12.5l1 6.5l-3 4.5l-1 8.5l-4 15l-10 19.5l-13 35.5l-3 5.5l-6.5 6.5l-3.5 2l-4.5 0l-8.5-5l-4.5-4.5l-7-16.5l2-21.5l5-18.5l-1-13.5l-1-1.5l1-25.5l1-4l5-5l9.5-2l9.5-8l4-2zM548 615.5l4.5 3l2.5 4l0 10.5l-3 14l-4 7.5l-9.5 10.5l-4.5 2l-4.5 0l-3.5-2l-4.5-6l0-6.5l5-16l5-9.5l9.5-10.5l3.5-1.5zM1330.5 604.5l5.5 5.5l2 3.5l0 13.5l-8 16l-13 17.5l-14 11.5l-5 2l-3.5 0l-1.5 1.5l-5 18.5l-3 4.5l-18 14.5l-3.5 4l-9.5 6l-9 3l-9.5 0l-3.5-2l-5.5-7l-3-6l1-6.5l6-13.5l4.5-4.5l16.5-10l13.5-16l9.5-6l6.5 0l1.5-1l5-17l11-19.5l6.5-6.5l7.5-6l8-3l4.5 0zM1112.5 582.5l3.5 3.5l4 6.5l0 3.5l-4 9.5l-5.5 5.5l-13.5 8l-14.5 0l-13-6l-7-6.5l-5-8.5l0-3.5l5.5-6l11.5-7l18.5-4l1.5 1l11.5 1zM580.5 564.5l4.5 1l12.5 9l9.5 13l-1 5l-4.5 4.5l-7.5 5l-12.5 0l-5-1l-10-4l-5-5l0-4.5l4-9.5l11.5-11.5zM741 492.5l2 12.5l-3 10l-3 5.5l-4.5 4.5l-10.5 7l-17.5 6l-7.5 6l-15 4l-18.5-1l-1.5-1l-8.5 0l-1.5-1l-10.5-1l-6.5-3l-5.5-5.5l-2-3.5l2-5l11-8.5l12.5 1l19.5 8l8.5-1l1.5-2.5l0-30.5l2-3.5l5-3.5l15-4l17.5-2l12 5zM1071 450.5l7 5.5l6 10.5l0 18.5l-4 13l-8 15.5l-7 6.5l-6.5 1l-5-5l-5-11l0-22.5l-2-8.5l0-10.5l2-3.5l8-7.5l4-2z" fill="rgb(0,5,143)"/>
<path d="M265 826l-3 1l-4.5 5l2.5 5l4.5-2l1-3zM300 699l-6 5l-0.5 2.5l5.5 0l1.5-1.5zM347 660l-2 3.5l-3.5 15.5l2 1.5l3.5 0l3.5-6.5l0-7.5l-3-2.5l3.5-0.5l0.5-1zM376 515.5l-2 1l-11 20l0 20.5l-12 21.5l0.5 49l5.5 0l9.5-9l14-6l19-23l6-10.5l0-6.5l-6-9l-7-6l-2-3.5l0-9.5l2-5.5l0-3.5l-3-10l-8.5-4.5l-1.5-3.5zM771.5 382l-0.5 6l5 5l4 6.5l0 3.5l-5 13l11 14l5 9.5l6 17l3 21.5l5.5 3l5-9l0-62.5l-6.5-6.5l-15.5 0l-1-1l0-13.5l-6.5-6.5zM585.5 160.5l-7 10.5l4 3l2-1l4-9zM598.5 155.5l-5.5-5l-6.5 7l4.5 2zM457 325.5l0 59.5l5 2.5l5 7l0 7.5l2 4.5l0 10.5l1 1.5l0 11.5l-2 6l-3 5.5l-4 3.5l-3-1l-3.5-4l0-33.5l-1.5-2.5l-4-1.5l-4 7l0 41.5l5 5.5l-1 2l-9 7.5l-35.5 0l-7.5 7.5l-1.5 3l1 2l6.5 1l4.5 3l4.5 0l6 2l20.5 12l12.5 1l14.5 3l41.5-10l17-8l7.5-7l5-8.5l3-9l-1-5l0-20.5l2-3.5l4-3.5l7-4l8-2l18.5-1l1.5 1l14.5 2l4.5 2l6.5 6.5l6 9.5l2 8l0 12.5l-3 10l-3 5.5l-11.5 10.5l-12.5 7.5l-1 3l1 22.5l-4 10.5l-2 15.5l-2 5l-3.5 4l-5.5 3l-8.5 0l-3-1l-12.5-12l-8.5 2l-10.5 6l-2.5 3l-15 11l-8.5 11.5l-12 10.5l-4 9.5l-1 6.5l-4 12l-5.5 7l-7.5 3l-6.5 0l-12.5-8l-4 2l-20.5 25l-8.5 6l-7.5 8l-14.5 9l-7 7l-10 17.5l-3 10.5l-11 20.5l-5 16l-1 13.5l-2 10l-4 12l-8 15.5l-5 20.5l-6 17l-9 18.5l-2 22.5l-3 14.5l0 23.5l5 16.5l-1 5.5l-5 5l-3.5-2.5l-18-32.5l-3-7.5l-6.5 0l0 3.5l13 22.5l10 20l0 13.5l-6 2l-4 4l-0.5 2l9.5 19l13 22.5l6.5 6l8.5 0l9 16l6.5 6l31.5 0l9 15l6.5 6l149.5 0l8 15l6.5 6l35.5 0l7.5-7.5l9-18.5l22-38l19.5 0l6.5-6l9-15l8.5 0l6.5-6l9-15l7.5 0l6.5-6l9-15l31.5 0l6.5-6l9-15l31.5 0l6.5-6.5l0-13.5l1-1l13.5 0l9 15l6.5 6l62.5 0l0.5-6l-1-3l1.5-2l8.5-5l10-2l18.5-1l20.5-6l9-22l7-9.5l9-8.5l12-4l5.5 0l11.5 7l5.5 5.5l6 11.5l1 6.5l-1 1.5l0 7.5l-3 7l-11.5 12l-5.5 3l-13 4l-14.5 0l-4.5 4.5l0 13.5l10 20l7.5 7.5l55.5 0l18 30l13 26.5l7.5 7.5l35.5 0l6-5l5.5 5l16.5 0l1 1l0 13.5l6.5 6.5l19.5 0l9 15l6.5 6l11.5 0l6.5-6l5.5-9l2.5 1.5l8-7.5l9.5-1l9.5 7l5.5 5.5l9 12.5l3 7l0 2.5l-2 2.5l0.5 6l19-0.5l0-5.5l-2-2.5l1-19.5l6-14l5-5l5.5 0l5 4.5l2 3.5l3 15l0 6.5l1 1.5l0 7.5l-2 2.5l0.5 6l4.5 0l6.5-6l8-15l16.5 0l0.5-6l-1-3l3.5-4l7.5-4l9.5 1l8.5 4l3 3.5l-1.5 2.5l0.5 6l29.5 0l9 15l6.5 6l46.5 0l6.5-6l8-15l20.5 0l6.5-6l9-15.5l-3-5l-4-4l-2-6l-6-27l0-5.5l3.5-4l7-3l3-3l5.5-3l9.5-1l11 3l8 7.5l6 8.5l5 4.5l3 5l5 4l3.5 7.5l6-5.5l0-14.5l1-1l4.5 0l6.5-6l12-21.5l0-62.5l-12-21.5l0-20.5l-12-21.5l0-20.5l-12-23.5l-5.5-5l-8.5 0l-2-2l-18-32.5l-7.5-7.5l-30.5 0l-8 11l-7.5 5l-10 4l-10.5 1l-7-2l-8-4.5l-3-5.5l0-2.5l5-8.5l5.5-6.5l15-9l4-3.5l-8.5-15l-6.5-6l-4.5 0l-1-1l0-13.5l-12-21.5l-29.5-27l-8.5 0l-32-58l-6.5-6l-8.5 0l-2-2l-18-32.5l-7.5-7.5l-31.5 0l-9-15l-6.5-6l-7.5 0l-2-2l-18-32.5l-7.5-7.5l-43.5 0l-20-37l0-20.5l-11-20l-6-6.5l-2.5 0l-5 5l-5.5 9.5l1 2l3.5 2l1 3l-1 5l-4 2.5l-10.5 0l-8-6.5l-9-14.5l1.5-2.5l5-2l1-2l-9.5-17.5l-6.5-6l-11.5 0l-6.5 6.5l0 19.5l-15.5 15l-4.5 1.5l0 5.5l2 2.5l0 4.5l-7 7l-9 3l-9.5 0l-7-2l-6.5-3l-5.5-6l-1-3.5l2-2.5l-0.5-6l-25.5 0l-6.5 6l-9 15l-7.5 0l-6.5 6l-9 15l-31.5 0l-6.5 6l-9 16l-8.5 0l-6.5 6l-19.5 36.5l4.5 2l12.5-7l15.5 0l34.5 15l5.5 6l8 15l-3 8.5l-8 10.5l-2 5.5l-4 3l-4.5 0.5l-6-1.5l-8.5-5l-26.5 0l-8-2l-49-24l-12-7.5l-0.5 2.5l6 19.5l-1 32.5l-2 3.5l-4 3.5l-7 3l-6.5 0l-10.5-4l-6.5-8l-11-32l-9-36.5l-17-38.5l0-8.5l-2-5.5l0-25.5l4-19.5l-1-12.5l-1-1.5l0-4.5l-6-11l-5-5l-4.5-7.5l3-4.5l3.5-1.5l0-5.5l-14-0.5l-1-1l0-13.5l-11.5-20.5l2.5-6.5l16-28l2-2l7.5 0l6.5-6l9-16l8.5 0l6.5-6l9-15l7.5 0l5.5-5l0.5-2l-9.5-19l-7.5-7.5l-11.5 0l-6.5 6l-9 15l-52.5 0l-7-13.5l-7.5-7.5l-8.5 0l-2-2l-42-76l0-20.5l-6.5-6l-7 7l-16 28l0 2.5l3 3.5l0 7.5l-7 11.5l-4.5 4.5l-10 5l-14.5 11l-22 36.5l-12.5 12.5l-3.5 2l-4.5 0.5l-3-2l-2.5-5.5l-2 1l-7 7.5l-11 20l-7 5.5l-12.5 13l-19.5 16zM1391 998.5l6 6l5 12l1 18.5l-3 12l-2 4l-6.5 8l-4 1l-4-2.5l-5-7.5l-5-20.5l3-13l4-9l7.5-8zM596.5 937.5l1.5 2l0 3.5l-5.5 8l-8.5 6l-3 1l-3.5 0l-3-2l-3-8l0-4.5l3-5l9-3l9.5 0zM469 858.5l6 3l4 3.5l4 9.5l0 9.5l-9 21.5l-3 15.5l-7 20l-27 53l-5 7.5l-7.5 7.5l-5 1l-5-5l-3-8l-7-38.5l-2-5.5l-1-20.5l-1-1.5l2-51.5l2-3.5l5-3.5l11.5 0l8.5-7l11-4l9-2l5.5 0l1.5-1l6.5 0l1.5-1zM1097.5 775.5l12.5-4l3.5 2l7.5 8l2 4l0 6.5l2 7.5l0 19.5l2 8l4 4.5l6.5 4l4 1l5.5 0l1.5 1l14.5-1l3 2.5l2 3.5l0 26.5l26 41.5l3 6l3 12l0 9.5l-5 10l-4.5 5l-5.5 3l-6 2l-10.5 0l-20-4l-6-6l0-15.5l-1.5-1.5l-18-5l-14.5-1l-6.5-3l-10.5-11.5l-15-26.5l-6-16l0-5.5l-1-1.5l-1-22.5l1-1.5l1-16.5l9-24l9-13.5l5.5-5.5zM750 760.5l5.5 3l4.5 4.5l7 11.5l1 3.5l-1 1.5l0 8.5l-2 7l-8 14l-12 17.5l-8 16l-5 15.5l-9 14.5l-6.5 6.5l-10.5 6l-5.5 0l-11-3l-3.5-2l-3.5-5l0-57.5l5.5-7l11.5-8l25-40.5l4.5-4.5l8.5-4l6.5 0zM1346 722.5l5.5 3l8.5 8.5l10 17.5l10.5 8l8.5 9l16.5 9l10.5 4l3 2.5l2 4l-3 7.5l-4.5 4.5l-9.5 6l-10 14.5l-20 19l-9 16l-3 2.5l-5 2l-4.5-1l-6-5.5l-16-23.5l-7-8l-6.5-3l-7 2l-1 5l9 33.5l3 23.5l-1 1.5l-2 16.5l-5 14l-6.5 7l-5.5 3l-2.5 0l-6-2l-6.5-4l-20.5-19l-18.5-15l-13.5-15.5l-7-10.5l-8-15l-8-23l-1-8.5l-2-5.5l0-7.5l-1-1.5l-1-35.5l3-5.5l7-5.5l21.5 1l1.5-1l6.5 0l1.5-1l6.5 0l1.5-1l17.5-2l38-10l23.5-15l3-1zM1402.5 682.5l4 1l5.5 5.5l14 26.5l1 5.5l3.5 1l-0.5 1l-2.5 0l-1.5 3.5l-3 2.5l-12 4l-11.5 0l-8.5-4l-4.5-5l0-6.5l2-8l9-14.5l0-6.5l1-2zM672 673.5l6 5.5l3 6.5l0 4.5l-3 5.5l-10.5 11.5l-14.5 8l-7.5 0l-6.5-3l-5.5-6l-3-8l0-10.5l2-4.5l8.5-8.5l9.5-5l13.5 0zM872 672.5l5 4.5l2 4.5l3 28.5l-3 6.5l-9.5 9.5l-5.5 3l-11.5 3l-1.5 2.5l0 27.5l1 1.5l1 21.5l-1 1.5l-1 20.5l-1 1.5l-3 26.5l-2 3.5l-5 4.5l-9.5 0l-3 1l-13 11l-7.5 4l-9 3l-8.5 0l-9.5-4l-5.5-6l-1-3l1-3.5l4-4l9.5-3l14.5-9l6-6l3-5.5l0-15.5l-4-16.5l-2-14.5l-5-17l-3-6.5l-1-6.5l-10-24.5l0-4.5l-3-13.5l1-18.5l3.5-7l5.5-3l17.5-2l1.5-1l4.5 1l11.5 6l9.5 0l4.5-2zM760 664.5l6.5 3l8.5 9l2 9l0 7.5l-7 14l-7.5 8l-8.5 5l-6.5 0l-7.5-3l-8.5-10l-3-7l0-10.5l3-11l4.5-5l14.5-9zM1058 661.5l12 4l8 7.5l8 12.5l1 6.5l-3 4.5l-1 8.5l-4 15l-10 19.5l-13 35.5l-3 5.5l-6.5 6.5l-3.5 2l-4.5 0l-8.5-5l-4.5-4.5l-7-16.5l2-21.5l5-18.5l-1-13.5l-1-1.5l1-25.5l1-4l5-5l9.5-2l9.5-8l4-2zM548 615.5l4.5 3l2.5 4l0 10.5l-3 14l-4 7.5l-9.5 10.5l-4.5 2l-4.5 0l-3.5-2l-4.5-6l0-6.5l5-16l5-9.5l9.5-10.5l3.5-1.5zM1330.5 604.5l5.5 5.5l2 3.5l0 13.5l-8 16l-13 17.5l-14 11.5l-5 2l-3.5 0l-1.5 1.5l-5 18.5l-3 4.5l-18 14.5l-3.5 4l-9.5 6l-9 3l-9.5 0l-3.5-2l-5.5-7l-3-6l1-6.5l6-13.5l4.5-4.5l16.5-10l13.5-16l9.5-6l6.5 0l1.5-1l5-17l11-19.5l6.5-6.5l7.5-6l8-3l4.5 0zM1112.5 582.5l3.5 3.5l4 6.5l0 3.5l-4 9.5l-5.5 5.5l-13.5 8l-14.5 0l-13-6l-7-6.5l-5-8.5l0-3.5l5.5-6l11.5-7l18.5-4l1.5 1l11.5 1zM580.5 564.5l4.5 1l12.5 9l9.5 13l-1 5l-4.5 4.5l-7.5 5l-12.5 0l-5-1l-10-4l-5-5l0-4.5l4-9.5l11.5-11.5zM741 492.5l2 12.5l-3 10l-3 5.5l-4.5 4.5l-10.5 7l-17.5 6l-7.5 6l-15 4l-18.5-1l-1.5-1l-8.5 0l-1.5-1l-10.5-1l-6.5-3l-5.5-5.5l-2-3.5l2-5l11-8.5l12.5 1l19.5 8l8.5-1l1.5-2.5l0-30.5l2-3.5l5-3.5l15-4l17.5-2l12 5zM1071 450.5l7 5.5l6 10.5l0 18.5l-4 13l-8 15.5l-7 6.5l-6.5 1l-5-5l-5-11l0-22.5l-2-8.5l0-10.5l2-3.5l8-7.5l4-2z" fill="rgb(0,14,151)"/>
<path d="M1556 1021.5l3 3.5l3.5-3l-0.5-1zM265 826l-3 1l-4.5 5l2.5 5l4.5-2l1-3zM300 699l-6 5l-0.5 2.5l5.5 0l1.5-1.5zM347 660l-2 3.5l-3.5 15.5l2 1.5l3.5 0l3.5-6.5l0-7.5l-3-2.5l3.5-0.5l0.5-1zM376 515.5l-2 1l-11 20l0 20.5l-12 21.5l0.5 49l5.5 0l9.5-9l14-6l15-18l4-7.5l0-10.5l-4-6.5l-3.5-2l-6.5-6.5l-3-5.5l-0.5-5.5l0.5-7l1-1.5l0-10.5l-3-7.5l-1-6.5zM771.5 382l-0.5 6l5 5l4 6.5l0 3.5l-5 13l11 14l5 9.5l6 17l3 21.5l5.5 3l5-9l0-62.5l-6.5-6.5l-15.5 0l-1-1l0-13.5l-6.5-6.5zM457 325.5l0 59.5l5 2.5l5 7l0 7.5l2 4.5l0 10.5l1 1.5l0 11.5l-2 6l-3 5.5l-4 3.5l-3-1l-3.5-4l0-33.5l-1.5-2.5l-4-1.5l-4 7l0 41.5l5 5.5l-1 2l-9 7.5l-35.5 0l-6.5 6l-0.5 1.5l4 2.5l8.5-1.5l11 3l37.5 22l8.5 1l33-8l4.5-2l14.5-15l5.5-4l4-5.5l5-14.5l5-7.5l0-11.5l2-3.5l11-7.5l8-2l10.5 0l1.5-1l12.5 1l10 2l4.5 2l6.5 6.5l6 9.5l2 8l0 12.5l-5 14l-6.5 7l-3.5 2l-11 16.5l0 15.5l-4 9l-4 5.5l-2 15.5l-2 5l-3.5 4l-5.5 3l-8.5 0l-3-1l-12.5-12l-8.5 2l-10.5 6l-2.5 3l-15 11l-8.5 11.5l-12 10.5l-4 9.5l-1 6.5l-4 12l-5.5 7l-7.5 3l-6.5 0l-12.5-8l-4 2l-20.5 25l-8.5 6l-7.5 8l-14.5 9l-7 7l-10 17.5l-3 10.5l-11 20.5l-5 16l-1 13.5l-2 10l-4 12l-8 15.5l-5 20.5l-6 17l-9 18.5l-2 22.5l-3 14.5l0 23.5l5 16.5l-1 5.5l-5 5l-3.5-2.5l-18-32.5l-3-7.5l-6.5 0l0 3.5l13 22.5l10 20l0 13.5l-6 2l-4 4l-0.5 2l9.5 19l13 22.5l6.5 6l8.5 0l9 16l6.5 6l31.5 0l9 15l6.5 6l149.5 0l8 15l6.5 6l35.5 0l7.5-7.5l9-18.5l22-38l19.5 0l6.5-6l9-15l8.5 0l6.5-6l9-15l7.5 0l6.5-6l9-15l31.5 0l6.5-6l9-15l31.5 0l6.5-6.5l0-13.5l1-1l13.5 0l9 15l6.5 6l62.5 0l0.5-6l-1-3l1.5-2l8.5-5l10-2l18.5-1l20.5-6l9-22l7-9.5l9-8.5l12-4l5.5 0l11.5 7l5.5 5.5l6 11.5l1 6.5l-1 1.5l0 7.5l-3 7l-11.5 12l-5.5 3l-13 4l-14.5 0l-4.5 4.5l0 13.5l10 20l7.5 7.5l55.5 0l18 30l13 26.5l7.5 7.5l35.5 0l6-5l5.5 5l16.5 0l1 1l0 13.5l6.5 6.5l19.5 0l9 15l6.5 6l11.5 0l7.5-7.5l4-7l0-3.5l2-4l1.5 0l5.5-5l7.5 0l5.5 3l3.5 3.5l2 3.5l8 7.5l9 12.5l3 7l0 2.5l-2 2.5l0.5 6l19-0.5l0-5.5l-2-2.5l1-19.5l6-14l5-5l5.5 0l5 4.5l2 3.5l3 15l0 6.5l1 1.5l0 7.5l-2 2.5l0.5 6l4.5 0l6.5-6l8-15l15.5 0l0.5-9l5-5l6-3l21.5 1l5 2l2 2l-1 4l0.5 8l21.5 0l9 15l6.5 6l46.5 0l6.5-6l8-15l20.5 0l6.5-6l9-15.5l-3-5l-4-4l-8-33l0-5.5l6-5.5l1-4.5l3.5-5l3.5-2l8-2l18.5-1l7 2l4 3.5l8 13.5l8 10l2.5 7l5.5 0l0.5-10l1-1l4.5 0l7.5-7.5l11-20l0-62.5l-12-21.5l0-20.5l-12-21.5l0-20.5l-12-23.5l-5.5-5l-8.5 0l-2-2l-18-32.5l-7.5-7.5l-27.5 0l-0.5 6l-3.5 6l-5.5 3l-9.5 1l-9.5 4l-10.5 1l-7-2l-8-4.5l-3-5.5l0-2.5l5-8.5l5.5-6.5l15-9l4-3.5l-8.5-15l-6.5-6l-4.5 0l-1-1l0-13.5l-12-21.5l-29.5-27l-8.5 0l-32-58l-6.5-6l-8.5 0l-2-2l-18-32.5l-7.5-7.5l-31.5 0l-9-15l-6.5-6l-7.5 0l-2-2l-18-32.5l-7.5-7.5l-43.5 0l-20-37l0-20.5l-11-20l-6-6.5l-2.5 0l-5 5l-5.5 9.5l1 2l3.5 2l1 3l-1 5l-4 2.5l-10.5 0l-8-6.5l-9-14.5l1.5-2.5l5-2l1-2l-9.5-17.5l-6.5-6l-11.5 0l-6.5 6.5l0 19.5l-15.5 15l-4.5 1.5l0 5.5l2 2.5l0 4.5l-7 7l-9 3l-9.5 0l-7-2l-6.5-3l-5.5-6l-1-3.5l2-2.5l-0.5-6l-25.5 0l-6.5 6l-9 15l-7.5 0l-6.5 6l-9 15l-31.5 0l-6.5 6l-9 16l-8.5 0l-6.5 6l-19.5 36.5l4.5 2l12.5-7l15.5 0l34.5 15l5.5 6l8 15l-1 4.5l-4 6.5l0 12.5l-5 10.5l-3 2.5l-5 2l-5.5-1l-10-5l-16.5-11l-12.5 0l-11-3l-46-23l-9-6l-2.5 1.5l0 3.5l5 15.5l-1 32.5l-2 3.5l-4 3.5l-7 3l-6.5 0l-10.5-4l-6.5-8l-11-32l-9-36.5l-17-38.5l0-8.5l-2-5.5l0-25.5l4-19.5l-1-12.5l-1-1.5l0-4.5l-6-11l-5-5l-4.5-7.5l3-4.5l3.5-1.5l0-5.5l-14-0.5l-1-1l0-13.5l-11.5-20.5l2.5-6.5l16-28l2-2l7.5 0l6.5-6l9-16l8.5 0l6.5-6l9-15l7.5 0l5.5-5l0.5-2l-9.5-19l-7.5-7.5l-11.5 0l-6.5 6l-9 15l-52.5 0l-7-13.5l-7.5-7.5l-8.5 0l-2-2l-42-76l0-20.5l-6.5-6l-6 5.5l-13.5 23.5l0.5 2l3 3l4 9l0 4.5l-5 10.5l-11 7.5l-6.5 1l-7 3l-11.5 8l-6 7.5l-19 32l-12.5 12.5l-3.5 2l-4.5 0.5l-3-2l-2.5-5.5l-2 1l-7 7.5l-11 20l-7 5.5l-12.5 13l-19.5 16zM1391 998.5l6 6l5 12l1 18.5l-3 12l-2 4l-6.5 8l-4 1l-4-2.5l-6 0.5l-5-4l0-4.5l3-8.5l-2-11.5l3-13l4-9l7.5-8zM603.5 932.5l2.5 4l-1 4.5l-4 7.5l-9.5 9.5l-10.5 6l-4 1l-3.5-1l-3-2.5l-3-6.5l-1-14.5l1-3l3.5-4l7.5-3l11.5 0l1.5-1l8.5 1zM469 858.5l6 3l4 3.5l4 9.5l0 9.5l-9 21.5l-1 7.5l-4 14l-2 3.5l-3 10.5l-27 53l-5 7.5l-10.5 11.5l-5 1l-4-4l-2-6l1-10.5l-7-35l-2-5.5l-1-20.5l-1-1.5l2-51.5l2-3.5l5-3.5l11.5 0l8.5-7l11-4l9-2l5.5 0l1.5-1l6.5 0l1.5-1zM1097.5 775.5l12.5-4l3.5 2l2.5 3l9 5l6 9l1 4l0 18.5l1 1.5l0 4.5l5 9.5l6.5 5l8 4l3-1l7.5 0l3 2.5l2 3.5l0 26.5l26 41.5l3 6l3 12l0 9.5l-5 10l-4.5 5l-5.5 3l-6 2l-10.5 0l-20-4l-6-6l0-15.5l-1.5-1.5l-18-5l-14.5-1l-6.5-3l-10.5-11.5l-15-26.5l-6-16l0-5.5l-1-1.5l-1-22.5l1-1.5l1-16.5l9-24l9-13.5l5.5-5.5zM763 759.5l7 7l2 6l-1 8.5l-4 7.5l0 4.5l-2 7l-8 14l-12 17.5l-8 16l-7 19.5l-7 10.5l-6.5 6.5l-10.5 6l-5.5 0l-13-4l-3-2.5l-2-3.5l0-57.5l5.5-7l11.5-8l25-40.5l4.5-4.5l8.5-4l6.5 0l2 1l5.5-2l5.5 0zM1346 722.5l5.5 3l8.5 8.5l10 17.5l10.5 8l8.5 9l16.5 9l10.5 4l3 2.5l2 4l-3 7.5l-4.5 4.5l-9.5 6l-10 14.5l-20 19l-9 16l-3 2.5l-5 2l-4.5-1l-6-5.5l-16-23.5l-7-8l-6.5-3l-7 2l-1 5l9 33.5l3 23.5l-1 1.5l-2 16.5l-7 20l-3.5 4l-3.5 2l-7.5 0l-7.5-4l-15.5-16l-3.5-2l-4.5-5l-3.5-2l-20.5-18.5l-8-10l-11-17.5l-8-18l-4-13l-1-8.5l-2-5.5l-1-19.5l-1-1.5l0-7.5l-3-11.5l0-7.5l4-8.5l4.5-4.5l6.5-3l13.5-1l1.5 1l5.5 0l20.5 4l13.5 0l38-10l23.5-15l3-1zM1402.5 682.5l4 1l5.5 5.5l14 26.5l1 5.5l3.5 1l-0.5 1l-2.5 0l-1.5 3.5l-3 2.5l-12 4l-11.5 0l-8.5-4l-4.5-5l0-6.5l2-8l9-14.5l0-6.5l1-2zM672 673.5l6 5.5l3 6.5l0 4.5l-3 5.5l-10.5 11.5l-14.5 8l-7.5 0l-6.5-3l-5.5-6l-3-8l0-10.5l2-4.5l8.5-8.5l9.5-5l13.5 0zM872 672.5l5 4.5l2 4.5l3 28.5l-3 6.5l-9.5 9.5l-5.5 3l-11.5 3l-1.5 2.5l0 27.5l1 1.5l1 21.5l-1 1.5l-1 20.5l-1 1.5l-3 26.5l-2 3.5l-5 4.5l-9.5 0l-3 1l-13 11l-7.5 4l-9 3l-8.5 0l-9.5-4l-5.5-6l-1-3l1-3.5l4-4l9.5-3l14.5-9l6-6l3-5.5l0-15.5l-4-16.5l0-4.5l-16-23.5l-4-12l0-5.5l-1-1.5l0-14.5l1-1.5l0-4.5l-4-19.5l1-18.5l3.5-7l5.5-3l17.5-2l1.5-1l2.5 0.5l6.5-2.5l23.5 0l13.5 7zM760 664.5l6.5 3l8.5 9l2 9l0 7.5l-7 14l-7.5 8l-8.5 5l-6.5 0l-7.5-3l-8.5-10l-3-7l0-10.5l3-11l4.5-5l14.5-9zM1058 661.5l12 4l8 7.5l8 12.5l1 6.5l-3 4.5l-1 8.5l-4 15l-10 19.5l-15 39.5l-11.5 11l-3.5 2l-5.5 1l-5-2l-3-3l-3-7l0-8.5l-4-9.5l2-21.5l5-18.5l-1-13.5l-1-1.5l1-25.5l1-4l5-5l9.5-2l9.5-8l4-2zM548 615.5l4.5 3l2.5 4l0 10.5l-3 14l-4 7.5l-9.5 10.5l-4.5 2l-4.5 0l-3.5-2l-4.5-6l0-6.5l5-16l5-9.5l9.5-10.5l3.5-1.5zM1340.5 603.5l4.5 6l0 6.5l-3 6l-4 4.5l-8 16.5l-5 7.5l-12.5 14.5l-9.5 7l-5 2l-3.5 0l-1.5 1.5l-5 18.5l-3 4.5l-18 14.5l-9.5 11l-8.5 6l-9 4l-7.5 0l-5.5-3l-4.5-6l-2-5l0-10.5l7-16l4-5.5l8-5.5l12-6l13.5-16l9.5-6l6.5 0l1.5-1l5-17l11-19.5l12.5-11.5l9.5-4l6.5 0l1.5-1l6.5 0zM1112.5 582.5l3.5 3.5l4 6.5l0 3.5l-4 9.5l-5.5 5.5l-13.5 8l-14.5 0l-13-6l-7-6.5l-5-8.5l0-3.5l5.5-6l11.5-7l18.5-4l1.5 1l11.5 1zM580.5 564.5l4.5 1l12.5 9l9.5 13l-1 5l-4.5 4.5l-7.5 5l-12.5 0l-5-1l-10-4l-5-5l0-4.5l4-9.5l11.5-11.5zM742 495.5l1 9.5l-3 10l-3 5.5l-4.5 4.5l-10.5 7l-17.5 6l-3.5 2l-2.5 3l-4.5 2l-12 3l-6.5 0l-1.5-1l-10.5 0l-1.5-1l-8.5 0l-1.5-1l-10.5-1l-6.5-3l-8.5-8.5l-2-3.5l1-3.5l4-3l5.5 0l5.5-4l12.5 1l19.5 8l8.5-1l1.5-2.5l0-30.5l3.5-5l6.5-3l12-3l17.5-2l4 1l9.5 5l4.5 4.5zM1071 450.5l7 5.5l6 10.5l0 18.5l-4 13l-8 15.5l-7 6.5l-6.5 1l-5-5l-5-11l0-22.5l-2-8.5l0-10.5l2-3.5l8-7.5l4-2z" fill="rgb(0,24,158)"/>
<path d="M1254 1085.5l0.5 6l10-0.5l-0.5-6l-5.5-2zM265 826l-3 1l-4.5 5l2.5 5l4.5-2l1-3zM300 699l-6 5l-0.5 2.5l5.5 0l1.5-1.5zM347 660l-2 3.5l-3.5 15.5l2 1.5l3.5 0l3.5-6.5l0-7.5l-3-2.5l3.5-0.5l0.5-1zM1353.5 605.5l-3.5 3l1 2l-1 6.5l-3 6l-6.5 7l-5.5 3.5l-5 9.5l-13 17.5l-14 11.5l-7.5 2l-1.5 1.5l-3 6l-1 6.5l-4 11l-11 14.5l-17 18.5l-2 4l3.5 3.5l10.5 1l1.5 1l26.5-2l15-4l20.5-13l3-1l9.5 1l5.5 3l8.5 8.5l10 17.5l10.5 8l6.5 7l9.5 6l13 5l7.5 0l2.5-2.5l4-11.5l6-10.5l7.5-7.5l8.5-5l2.5 0l3.5-4l-6-10.5l-6.5-6l-4.5 0l-10 10l-6.5 3l-18.5 0l-7-3l-6-6l0-6.5l2-8l9-14.5l0-6.5l1-2l4-4l4 1l5.5 5.5l15.5 28.5l6-0.5l0-11.5l-12-21.5l-10-10l-3.5-2l-8.5-9l-7.5-6l-8.5 0l-25-45.5l-3-5zM1344.5 593l-0.5 6l3.5 3.5l3.5-1l1-1l-0.5-1.5zM371 524.5l-2 1l-6 11l0 20.5l-12 21.5l0.5 49l5.5 0l8-8l11.5-7l5-5l8-15.5l3-9l0-3.5l-2-4.5l-12-11.5l-3-5.5l-1-6.5l3-12.5l0-4.5l-2-7zM771.5 382l-0.5 6l5 5l4 6.5l0 3.5l-3 7.5l2 10.5l8 10.5l7 16l4 14l2 16.5l5.5 3l5-9l0-62.5l-6.5-6.5l-15.5 0l-1-1l0-13.5l-6.5-6.5zM457 325.5l0 59.5l5 2.5l5 7l0 7.5l2 4.5l1 23.5l-4 10l-3.5 4l-3 1l-5-5l0-33.5l-1.5-2.5l-4-1.5l-4 7l0 41.5l5 6l-10 9l-15.5 0l0 6.5l5.5 2l21.5 14l13 6l11.5 1l11-3l10-5l8.5-6l16-16l11-22l6-7.5l1-5.5l3.5-4l11.5-6l15.5-1l1.5-1l6.5 0l17.5 4l6.5 0l3 2l5 8l0 5.5l3 9.5l0 12.5l-3 10l-5 7.5l-1 8.5l-2 5l-7 11.5l0 12.5l-1 4l-11 17.5l-8 16.5l-4 4l-13.5 0l-3-1l-8-8l-6.5-3l-6.5 1l-10.5 6l-2.5 3l-15 11l-8.5 11.5l-12 10.5l-4 9.5l-1 6.5l-4 12l-5.5 7l-7.5 3l-6.5 0l-12.5-8l-4 2l-20.5 25l-8.5 6l-7.5 8l-14.5 9l-7 7l-10 17.5l-3 10.5l-11 20.5l-5 16l-1 13.5l-2 10l-4 12l-8 15.5l-5 20.5l-6 17l-9 18.5l-2 22.5l-3 14.5l0 23.5l5 16.5l-1 5.5l-5 5l-3.5-2.5l-18-32.5l-3-7.5l-6.5 0l0 3.5l13 22.5l10 20l0 13.5l-6 2l-4 4l-0.5 2l9.5 19l13 22.5l6.5 6l8.5 0l9 16l6.5 6l31.5 0l9 15l6.5 6l149.5 0l8 15l6.5 6l35.5 0l7.5-7.5l9-18.5l22-38l19.5 0l6.5-6l9-15l8.5 0l6.5-6l9-15l7.5 0l6.5-6l9-15l31.5 0l6.5-6l9-15l31.5 0l6.5-6.5l0-13.5l1-1l13.5 0l9 15l6.5 6l62.5 0l0.5-6l-1-3l1.5-2l8.5-5l10-2l18.5-1l20.5-6l9-22l7-9.5l9-8.5l12-4l5.5 0l6 2l5.5 4l5.5 6.5l6 11.5l1 4l-1 11.5l-4 8.5l-12 11.5l-17 6l-14.5 0l-4.5 4.5l0 13.5l11 21.5l6.5 6l55.5 0l18 30l13 26.5l7.5 7.5l35.5 0l6-5l5.5 5l16.5 0l1 1l0 13.5l6.5 6.5l19.5 0l9 15l6.5 6l11.5 0l6.5-6l5-8.5l0-3.5l-3-4l3-5.5l8-6.5l8.5 1l8.5 5l13.5 14.5l2 3.5l9 9l3.5 2l4-2l8-14.5l10-10.5l5.5 0l6 6l1 3.5l5 6.5l4 9l1 9.5l-3 6.5l0.5 5.5l6-5.5l8-15l10-0.5l0-6.5l2-3.5l3-2.5l9-4l18-4l6.5 0l4.5-2l9-13.5l-1-3l4-17.5l3-6l7.5-8l3-1l6 6l5 12l1 18.5l-3 12l-2 4l-6.5 8l-4 1l-3.5 3l-4 1.5l0 5.5l9 0.5l9 15l6.5 6l46.5 0l6.5-6l8-15l20.5 0l6.5-6l9-15.5l-3-5l-4-4l-8-33l0-5.5l3-3.5l-1-2l1-5.5l5.5-7l5.5-3l19.5-3l13.5-5l6.5-1l5 2l3 3l3 7l1 7.5l4.5 11.5l2.5 0l4.5 4l4.5 0l7.5-7.5l11-20l0-62.5l-12-21.5l0-20.5l-12-21.5l0-20.5l-11-22l-6.5-6.5l-8.5 0l-2-2l-18-32.5l-7.5-7.5l-20.5 0l-0.5 6l-3 7l-5 4l-8 3l-18.5-0.5l-11 1.5l-10.5-4l-10.5 1l-3 3l2.5 5l-3 7.5l-4.5 4.5l-11.5 8l-8 12.5l-20 19l-9 16l-5 3.5l-5.5 1l-3.5-2l-8.5-8.5l-14-19.5l-4.5-3l-5.5 0l-2 1l-2.5 4.5l0 5.5l7 24.5l1 12.5l1 1.5l-1 3l0 9.5l-1 1.5l0 10.5l-1 1.5l-1 11.5l-5 11l-3.5 4l-5.5 3l-9.5 0l-7-3l-5.5-4l-11.5-12.5l-18-22.5l-12-10.5l-8-10l-7-10.5l-8-15l-13-37l-8-34l-1-10.5l2-8l5-8.5l4.5-4.5l6.5-4l3-3.5l0-5.5l-2-6.5l0-10.5l4-13l8-14.5l10-7.5l8.5-4l15.5-11l22-11l4-14l11-19.5l14-12.5l3.5-1l7.5-6l6-2l3.5 0l3-2.5l-19.5-34.5l-7.5-7.5l-31.5 0l-9-15l-6.5-6l-7.5 0l-2-2l-18-32.5l-7.5-7.5l-43.5 0l-20-37l0-20.5l-11-20l-6-6.5l-2.5 0l-5 5l-5.5 9.5l1 2l3.5 2l1 3l-1 5l-4 2.5l-10.5 0l-8-6.5l-9-14.5l1.5-2.5l5-2l1-2l-9.5-17.5l-6.5-6l-11.5 0l-6.5 6.5l0 19.5l-15.5 15l-4.5 1.5l0 5.5l2 2.5l-1 9.5l5.5 8.5l4.5 0l3.5 2l3.5 3.5l6 10.5l0 18.5l-4 13l-7 14l-6.5 7l-3.5 2l-4.5 0l-4-3.5l-6-12.5l0-22.5l-2-8.5l0-10.5l4-5.5l-1-5.5l-4.5-5.5l-8.5 0l-13.5-5l-6.5-8l2-4l-0.5-6l-25.5 0l-6.5 6l-9 15l-7.5 0l-6.5 6l-9 15l-31.5 0l-6.5 6l-9 16l-8.5 0l-7.5 7.5l-18.5 35l4.5 2l12.5-7l15.5 0l29 12l5.5 3l4.5 4.5l6 9.5l3 7l-1 3l1 16.5l-3 14l-5 9.5l-4 3.5l-4 2l-4.5 0l-6-3l-12-10l-25.5-15l-9.5-2l-39.5-20l-3.5 0l-6.5 3l-4 6.5l1 2l0 17.5l-1 1.5l0 13.5l-4.5 6l-5.5 3l-9.5 1l-10.5-4l-6.5-8l-11-32l-9-36.5l-10-23l-4-4.5l-3.5-2l-4.5 0l-3.5 2l-3 4.5l-1 4.5l-3 5.5l-4.5 4.5l-10.5 7l-17.5 6l-7.5 6l-15 4l-28.5-2l-1.5-1l-10.5-1l-8.5-3l-3.5 0l-9-5.5l-4-8.5l2-6l3-2.5l5-2l8.5 0l5.5 2l12.5 1l19.5 8l7.5-1l2.5-2.5l0-30.5l2-3.5l3-2.5l17-5l13.5-1l1.5-1l6.5 1l8 4l4.5 4l6.5 0l4.5-4.5l1-2l0-27.5l4-19.5l-2-18.5l-7-12.5l-8-9l0-4l6-4l0-5.5l-14-0.5l-1-1l0-13.5l-9-15.5l-2.5-6.5l18.5-33l2-2l7.5 0l6.5-6l9-16l8.5 0l6.5-6l9-15l7.5 0l5.5-5l0.5-2l-9.5-19l-7.5-7.5l-11.5 0l-6.5 6l-9 15l-52.5 0l-7-13.5l-7.5-7.5l-8.5 0l-2-2l-42-76l0-20.5l-6.5-6l-6 5.5l-11 19.5l0 1.5l3 1.5l4 5l4 10l-2 10.5l-4 6.5l-5.5 5.5l-9.5 5l-22.5 5l-3.5 2l-6 7.5l-19 32l-12.5 12.5l-3.5 2l-4.5 0.5l-3-2l-2.5-5.5l-2 1l-7 7.5l-11 20l-7 5.5l-12.5 13l-19.5 16zM609 927.5l2 3l0 7.5l-7 12.5l-8.5 8.5l-8.5 6l-11 5l-3.5 0l-3.5-2l-3.5-6l-3-13l0-11.5l3-5.5l4-3.5l7-3l28.5 0zM479 857.5l3.5 2l2.5 3l0 8.5l-2 3.5l0 9.5l-8 18.5l-4 18.5l-7 20l-23 46l-8 12.5l-2 7.5l-3 6l-7 7l-6.5 1l-4-2.5l-4-8.5l0-19.5l1-1.5l1-10.5l-6-25.5l-1-20.5l-1-1.5l2-51.5l2-3.5l5-3.5l11.5 0l8.5-7l11-4l9-2l5.5 0l1.5-1l6.5 0l1.5-1l2 1l3-1zM1103.5 770.5l9.5-1l6 2l12 8.5l6 10.5l1 4l1 21.5l2 5l5.5 5.5l16 7l4.5 5l1 3l0 26.5l1 3l25 39.5l3 6l3 12l0 9.5l-5 10l-4.5 5l-5.5 3l-6 2l-10.5 0l-20-4l-6-6l0-13.5l-3-3.5l-16.5-5l-14.5-1l-6.5-3l-10.5-11.5l-15-26.5l-6-16l0-5.5l-1-1.5l0-10.5l-1-1.5l0-28.5l4-14l6-12l7-10.5l7.5-7.5zM673.5 674.5l6.5 8l1 7.5l-3 5.5l-5 4.5l-2 3.5l-8 6.5l-10 5l-9.5-0.5l-2.5 1.5l-4.5-1l-3-5l0-4.5l-3-7.5l0-10.5l2-4.5l8.5-8.5l9.5-5l13.5 0zM1058 661.5l12 4l8 7.5l8 12.5l1 6.5l-3 4.5l-1 8.5l-4 15l-10 19.5l-8 20l-4 17.5l-4 9l-5 7.5l-5 3.5l-7 3l-8.5 0l-6-3.5l-3-5.5l-2-7l0-11.5l2-6.5l2-24.5l5-18.5l-1-13.5l-1-1.5l1-25.5l1-4l5-5l9.5-2l9.5-8l4-2zM877 677l2 4.5l3 28.5l-3 6.5l-9.5 9.5l-5.5 3l-4.5 1l-4.5 3l-4 6.5l0 22.5l1 1.5l1 21.5l-1 1.5l0 10.5l-1 1.5l0 8.5l-3 15.5l0 6.5l-1 1.5l0 4.5l-2 3.5l-5 4.5l-9.5 0l-3 1l-14.5 12l-15 6l-8.5 0l-6-2l-8-6.5l-2-6l3.5-5l15-6l10.5-7l6-6l3-5.5l0-12.5l-9-20l-10-14.5l-3-3l-7-4l-2.5 2.5l-2 12.5l-6 14l-7 10.5l-6 6.5l-14 21.5l-8 16l-5 15.5l-9 14.5l-6.5 6.5l-10.5 6l-5.5 0l-11-3l-3.5-2l-3.5-5l0-57.5l2-3.5l15-11.5l25-40.5l4.5-4.5l7-3l8.5-6l7-2l11.5 0l13 3l2.5-3.5l1-5l0-12.5l1-1.5l0-7.5l-2-10l-1.5-1.5l-3.5 0l-13.5 10l-8.5 0l-11.5-6l-5.5-5.5l-6-11.5l0-10.5l4-12.5l3.5-3.5l14.5-9l9.5 0l6.5 3l7.5 7.5l2.5 4.5l7.5 0l5.5-7l4-2l9.5-1l6.5-5l8-4l16.5-1l1.5-1l4.5 0l8 2l12 6l7.5 6l4.5 0zM548 615.5l4.5 3l2.5 4l0 10.5l-3 14l-4 7.5l-9.5 10.5l-4.5 2l-4.5 0l-3.5-2l-4.5-6l0-6.5l5-16l5-9.5l9.5-10.5l3.5-1.5zM1112.5 582.5l3.5 3.5l4 6.5l0 3.5l-4 9.5l-5.5 5.5l-13.5 8l-14.5 0l-13-6l-7-6.5l-5-8.5l0-3.5l5.5-6l11.5-7l18.5-4l1.5 1l11.5 1zM578.5 564.5l6.5 1l12.5 9l9.5 13l-1 5l-4.5 4.5l-7.5 5l-12.5 0l-5-1l-10-4l-5-5l0-4.5l3-8l8-8l2-4zM622.5 385.5l5.5 0l2 1l4 5l-1 5.5l-5 4l-6.5-1l-4-6l1-5.5z" fill="rgb(0,34,166)"/>
<path d="M1358.5 614.5l-3.5 2.5l-4 7.5l-7.5 7.5l-11.5 6.5l-7 12l-8 10l-11 9l-10 17l-1 5.5l-4 10l-16 19l-5 7.5l0 3.5l3.5 2.5l22.5-1l14-4l20.5-10l13.5 0l8 3l7.5 5l8.5 8.5l7 10.5l18 16l11.5 6l4 1l4.5-1l3.5-3.5l6-11.5l8-12l8-5l6.5-1l3.5-2.5l0-1.5l-3-5.5l-6.5-6l-4 0.5l0 7.5l-3 7l-2 2l-5 2l-5.5 0l-1.5 1l-19.5-1l-7-3l-6-5.5l-2-3.5l0-7.5l7-14l7-10.5l0-6.5l3.5-5l4-1l3.5 3l8 4l9 12l3.5-1l1-1.5l-8.5-15l-22-21l-7.5-6l-8.5 0l-23-41.5zM364 557.5l-2 1l-11 20l0.5 40l5.5 0l7-6l9.5-6l5-6.5l5-12l0-7.5l-6-7.5l-6-4.5l-4-6.5l0-2.5zM365 533.5l-2 3l0 2.5l6 0.5l0.5-4zM447 406.5l-2 3l0 9.5l6 0.5l0.5-11zM788.5 403l-4.5 4.5l0 5.5l2 7l7 10.5l5 11l5 16l1 8.5l6 0.5l0.5-57l-6.5-6.5zM1586.5 916.5l-12-21.5l0-20.5l-12-21.5l0-20.5l-11-22l-6.5-6.5l-8.5 0l-2-2l-18-32.5l-7.5-7.5l-11.5 0l-0.5 11l-2 3.5l-4 3.5l-9 4l-10.5 1l-1.5 1l-13.5 0l-9.5-2l-16.5 0l-9 4l-1.5 1.5l0 2.5l-2 3.5l-4.5 4.5l-9.5 6l-10 14.5l-20 19l-9 16l-10 7.5l-4.5 0l-6-3l-5.5-4l-7.5-8l-4-2l-1.5 1.5l0 10.5l1 1.5l1 18.5l-3 14.5l-2 19.5l-2 7l-7 12.5l-5 3.5l-8 2l-6.5-1l-13.5-7l-10.5-10.5l-10-12.5l-22-21.5l-12-15l-8-12.5l-12-26l-5-16l-8-33l-1-11.5l-1-1.5l0-9.5l1-4l7-12.5l8-8.5l3-5.5l1-16.5l2-8l6-16l6-9.5l3.5-3.5l14-8l15.5-11l18-9l16-20l6-10.5l10-9l3-5l5.5-5.5l6.5-4l4.5-1l4-3l1-2l-16.5-29l-7.5-7.5l-31.5 0l-9-15l-6.5-6l-7.5 0l-2-2l-18-32.5l-7.5-7.5l-43.5 0l-20-37l0-20.5l-11-20l-6-6.5l-2.5 0l-5 5l-5.5 9.5l1 2l3.5 2l1 3l-1 5l-4 2.5l-10.5 0l-3.5-2l-5.5-6l-6.5-4l-3.5-5l-1-3l1-4.5l7.5-6l-7.5-14.5l-6.5-6l-11.5 0l-6.5 6.5l0 19.5l-9.5 10l-9 6.5l3.5 4l5 14.5l9 9.5l3 6l0 4.5l2 3.5l0 18.5l-4 13l-7 14l-8 10l-4 2l-3.5 0l-4-2.5l-3-5.5l-2-10l0-22.5l-6-27l-5.5-5.5l-14.5-7l-6-4.5l-3-6.5l1-3l-0.5-6l-21.5 0l-6.5 6l-9 15l-7.5 0l-6.5 6l-9 15l-31.5 0l-6.5 6l-9 16l-8.5 0l-7.5 7.5l-12.5 24l5 3l5-2l18.5 0l9 3l19 9l10 8.5l10 19.5l1 4l0 21.5l-1 1.5l-1 9.5l-2 6l-6 10.5l-4 3.5l-5 2l-7.5-2l-7.5-5l-13.5-13l-16.5-10l-23-11l-24-9l-7.5 0l-4.5 5.5l-2 10l-1 16.5l-2 7l-3.5 5l-3.5 2l-5.5 0l-1.5-1l-7.5 0l-9-3l-6-5.5l-2-3.5l-11-32l-3-14.5l-10-21l-10-16.5l-3.5-2l-4.5 0l-9 8l-8.5 5l-4.5 1l-7.5 4l-13.5 4l-7.5 6l-15 4l-18.5-1l-1.5-1l-8.5 0l-1.5-1l-21.5 1l-6-2l-6.5-4l-11-12l-2-1l-6.5 1l-6.5 6l-3 4.5l-5 12l0 3.5l2 4l5.5 4.5l4.5 5.5l3 5.5l0 2.5l8 11.5l-1 5l-4.5 4.5l-7.5 5l-12.5 0l-6.5-2l-6.5 0l-4-2l-2-2l-3-7l0-5.5l3-8.5l1-6.5l-3-4.5l-18.5-11l-3-1l-8.5 1l-22.5 11l-4 3.5l-7 10l-13 12l-8 26.5l-5.5 7l-7.5 3l-6.5 0l-3.5-2l-7.5 0l-4 1l-8.5 5l-7 7l-2 3.5l-12 10.5l-8 10.5l-16 14.5l-5 7.5l-6 12l-4 12.5l-12 24.5l-7 28.5l-6 13l-10 16.5l-7 26.5l-4 11l-9 18.5l-2 22.5l-3 14.5l0 23.5l5 16.5l-1 5.5l-5 5l-3-2l-3.5 0l-3 2l1.5 3.5l0 13.5l-6 2l-4 4l-0.5 2l9.5 19l13 22.5l6.5 6l8.5 0l8 14.5l7.5 7.5l31.5 0l9 15l6.5 6l149.5 0l8 15l6.5 6l35.5 0l7.5-7.5l9-18.5l22-38l19.5 0l6.5-6l9-15l8.5 0l6.5-6l9-15l7.5 0l6.5-6l9-15l31.5 0l6.5-6l9-15l31.5 0l6.5-6.5l0-13.5l1-1l13.5 0l9 15l6.5 6l62.5 0l0.5-6l-1-3l1.5-2l11.5-6l3.5 0l4.5-2l22.5-5l7-3l5.5-4l7-13l8-11.5l12.5-12.5l13.5-7l9.5 0l7.5 4l6.5 6.5l6 10.5l2 7l0 7.5l-2 7l-6 11.5l-12 11.5l-17 6l-14.5 0l-4.5 4.5l0 13.5l10 20l7.5 7.5l55.5 0l18 30l13 26.5l7.5 7.5l35.5 0l5.5-5l6 5l16.5 0l1 1l0 13.5l6.5 6.5l19.5 0l9 15l6.5 6l11.5 0l8-8.5l-1-2l-4.5-2l0-9.5l5-11l4-5.5l6-4.5l5.5 0l11.5 8l19.5 20l5.5 4l3 1l3.5-1l12-14l4.5-3l4.5-1l7 3l9.5 7l6.5 8l4 8.5l6 3l4.5-1l0-5.5l4-6.5l5-3.5l9-4l17-4l4.5 0l7-3l11.5-15.5l2-11.5l4-9l7.5-8l3-1l6 6l3 6l3 12l0 12.5l-3 12l-11 17.5l0 5.5l8 14l7.5 7.5l46.5 0l6.5-6l8-15l20.5 0l6.5-6l9-15.5l-3-5l-4-4l-5-18l-3-19.5l-2-3.5l1-7.5l4-7.5l3.5-3.5l8.5-4l13.5-2l6-2l17.5-10l6-2l6.5 0l5.5 3l5.5 8l2 9l1 25.5l3 0.5l6.5-6l12-21.5zM613 921.5l3 4l0 9.5l-2 6l-7 10.5l-11.5 11.5l-12.5 8l-9 4l-4.5 0l-6-7l-6-23l0-10.5l3-5.5l7-6.5l6 2l5.5 0l6.5-3.5l15.5 0.5l1.5-1l8.5 0zM487 853.5l5 4l1 3l-3 11.5l-7 11.5l-5 12l-5 20.5l-9 25l-23 45.5l-5 17.5l-5 11l-7.5 10l-9.5 6l-2.5 0l-4-3l-2-4l-3-12l0-20.5l1-1.5l0-9.5l1-1.5l0-8.5l1-1.5l0-5.5l-3-10.5l-1-20.5l-1-1.5l2-51.5l2-3.5l5-3.5l11.5 0l10.5-8l8-3l13.5-3l15.5-6l10.5-1zM1099.5 766.5l7-2l6.5 0l10 4l10.5 7l6.5 7.5l4 7.5l2 7l0 7.5l1 1.5l1 9.5l3.5 4.5l16 9l5.5 8l1 3l0 23.5l1 4l13 24.5l3 9l0 4.5l6 10.5l3 12l0 9.5l-5 10l-4.5 5l-5.5 3l-6 2l-10.5 0l-6.5-2l-11.5-1l-7-5.5l-6-9.5l-5-5l-3.5-2l-16.5-5l-10.5-6l-10.5-11.5l-7-12l-11-15.5l-6-11l-3-10l0-4.5l-2-7.5l0-7.5l-1-1.5l0-18.5l2-10l7-17l10-14.5l8.5-8.5zM674.5 673.5l4.5 5l2 7l0 4.5l-3 5.5l-10.5 11.5l-14.5 8l-2.5 0l-9.5 7l-4.5 1l-3.5-2l-3.5-6l-1-13.5l2-6.5l0-7.5l1-3l6-7.5l6-5.5l7-3l12.5 0zM1066 658.5l8.5 5l3.5 3.5l5 7.5l4 9l1 12.5l-1 1.5l0 5.5l-1 1.5l-2 14.5l-13 31.5l-9 30.5l-8 13.5l-6.5 6.5l-10.5 7l-12 6l-5.5 1l-5-2l-3-3l-2-6l0-6.5l1-1.5l2-28.5l7-21.5l5-21l0.5-6.5l-0.5-9l-1-1.5l0-11.5l1-1.5l0-12.5l1-4l3.5-4l5.5-3l10.5-9l6.5-4l3-1zM867.5 666.5l10.5 12l7 20l1 13.5l-4 8.5l-9.5 9.5l-11.5 7l-4 6.5l-1 5l0 36.5l-6 23.5l-3 26.5l-2 3.5l-5 4.5l-9.5 0l-3 1l-14.5 12l-15 6l-8.5 0l-6-2l-8-6.5l-2-4.5l0-3.5l2-4.5l4-3.5l16-9l5-5l4-7.5l0-10.5l-4-11l-7-11l-6-3.5l-3.5 2l-11 20l-26 36.5l-12 24.5l-12 14.5l-6.5 6.5l-10.5 6l-5.5 0l-11-3l-3.5-2l-3.5-5l0-57.5l5.5-7l11.5-8l25-40.5l3-2.5l4-7.5l3.5-3.5l10.5-6l14.5-4l5.5-3l3-3.5l-0.5-5l-10.5 0l-4-1l-9.5-5l-8.5-10l-6-13l-3-10l0-9.5l3-5.5l4-3.5l8.5-4l3-3l5.5-3l9.5 0l6.5 3l3.5 4l4.5 2l11.5-1l9-4l12.5-8l12-6l11-3l10.5 0l3 1zM548 615.5l4.5 3l2.5 4l0 10.5l-3 14l-4 7.5l-9.5 10.5l-4.5 2l-4.5 0l-3.5-2l-4.5-6l0-6.5l5-16l5-9.5l9.5-10.5l3.5-1.5zM1112.5 582.5l3.5 3.5l4 6.5l0 3.5l-3 8l-6.5 7l-13.5 8l-3.5 0l-6.5 3l-8.5 0l-11.5-6l-5.5-7l-4-8l-2-7l2-8.5l4.5-5l3.5-2l10.5 0l5 2l12-3l1.5 1l11.5 1zM779.5 382l-0.5 7l2.5 2.5l5.5 0l0.5-3l-5-5.5zM787.5 240l-6.5-6l-11.5 0l-6.5 6l-9 15l-52.5 0l-7-13.5l-7.5-7.5l-8.5 0l-2-2l-42-76l0-20.5l-5-5.5l-2.5 0l-5 5l-8.5 15l8.5 7l6 11.5l0 10.5l-2 6l-6 8.5l-10 7.5l-6 3l-25.5 7l-10 5l-18.5 30.5l-12.5 12.5l-3.5 2l-4.5 0.5l-3-2l-2.5-5.5l-2 1l-7 7.5l-11 20l-7 5.5l-12.5 13l-19.5 16l-8 8.5l0 59.5l5 2.5l5 7l0 7.5l2 4.5l1 23.5l-4 9.5l0 4.5l-3.5 5l-3.5 2l-4.5 0l-3.5-2l-6 0.5l0 1.5l5 6l-8.5 8l-3 1.5l0.5 2.5l3 4.5l8 7l11.5 7l7 2l5.5 0l9-2l13-6l4.5-3l16-16l18-29.5l7-6.5l10-5l8-2l10.5 0l1.5-1l14.5 1l19.5-8l2-3.5l-1-14.5l-1-2l3-11l3.5-4l8.5-4l7.5 0l8 3l7 5.5l4 7.5l1 7.5l-2 6l-4.5 6l-10.5 6l-12.5 3l-2.5 3.5l1 19.5l-2 8l-2 3.5l0 8.5l-4 11.5l0 16.5l-2 9.5l1 5.5l3 4.5l7.5 3l20.5 3l22.5 8l10.5 0l5.5-3l5-6.5l0-18.5l2-3.5l3-2.5l17-5l12.5-1l7.5-3l4.5 0l1.5 1l8.5 0l4.5-3.5l2-6l0-12.5l1-1.5l0-8.5l2-9.5l-1-14.5l-4-10l-8-11.5l-3-7l3-7l0-5.5l-6-0.5l-1-1l0-13.5l-9-15.5l-2.5-6.5l18.5-33l2-2l7.5 0l6.5-6l9-16l8.5 0l6.5-6l9-15l7.5 0l5.5-5l0.5-2z" fill="rgb(0,43,174)"/>
<path d="M1385 743.5l2 4l10 10l7.5 4l6.5-1l3.5-4.5l1-6.5l-2.5-2.5l-12.5-1l-11.5-3zM1413.5 676.5l-21.5-19.5l-8.5 0l-19-34.5l-3-3.5l-14 14l-18.5 11l-4 6.5l-11 12.5l-6 14l-6 8.5l-4 14.5l-7 11.5l-7 9l-1 4.5l4.5 2.5l13.5-1l24.5-11l12.5-2l13 3l20.5 13l3 0.5l2-3l1-7.5l4-9l9-11l9-15.5l6-4.5l5.5 0zM357.5 568.5l-3.5 4l-3 6l0.5 32l5.5 0l9.5-7l4-4.5l3-7l-1-5.5l-3-5.5zM790.5 403l-0.5 10l12 23.5l2 6.5l6 0.5l0.5-34l-6.5-6.5zM1586.5 916.5l-12-21.5l0-20.5l-12-21.5l0-20.5l-12-23.5l-5.5-5l-8.5 0l-2-2l-15-26.5l-3.5 1.5l-3 5.5l-3.5 3.5l-6.5 3l-15.5 0l-1.5-1l-32.5 1l-1.5-1l-16.5-1l-8 2l-8 4l-6 7l-11.5 8l-8 12.5l-17 16.5l-9 19l-5.5 8l-7.5 4l-5.5 0l-11.5-4l-3 1l-2 3.5l-1 10.5l-4 15.5l-1 12.5l-3 13l-7 13.5l-8 5.5l-3 1l-12.5 0l-6-2l-8.5-5l-15.5-15.5l-2-3.5l-29-28.5l-17-22.5l-8-15l-7-17l-15-54l0-4.5l-1-1.5l0-10.5l1-4l4-8l16-22.5l3-15.5l8-25l9-15.5l12-8.5l37-19l14-18.5l25.5-28.5l12.5-7l4.5-1l1-1.5l-15.5-27.5l-7.5-7.5l-31.5 0l-9-15l-6.5-6l-7.5 0l-2-2l-18-32.5l-7.5-7.5l-43.5 0l-20-37l0-20.5l-11-20l-6-6.5l-2.5 0l-5 5l-5.5 9.5l1 2l3.5 2l1 3l0 3.5l-5 4l-10.5 0l-3.5-2l-9.5-1l-4.5-3l-4.5-4.5l-4-7.5l0-6.5l3-5.5l6-4.5l2-3l-4-7.5l-6.5-6l-11.5 0l-6.5 6.5l0 19.5l-12.5 12l7.5 19l10 12.5l2 5l1 8.5l-3 12.5l-2 22.5l-3 9l-8 13.5l-6 5.5l-7 3l-2.5 0l-3.5-2l-3.5-4l-5-13l0-5.5l-1-1.5l0-19.5l-5-24l-4-5.5l-15-8l-8-6.5l-4-8.5l1-3l-0.5-6l-15.5 0l-6.5 6l-9 15l-7.5 0l-6.5 6l-9 15l-31.5 0l-6.5 6l-9 16l-8.5 0l-7.5 7.5l-9 17l0.5 2l2 1l5-1l15.5 0l5 1l27 12l11 9.5l8 14.5l4 17l-2 28.5l-3 10l-4 8l-6.5 8l-5.5 3l-6.5-1l-9.5-6l-9-7l-9.5-10l-10.5-7l-26-12l-20-7l-6.5 0l-3.5 4.5l-2 9l-1 14.5l-2 7l-3 5.5l-7 5.5l-5.5 0l-6-3l-6.5-6l-5.5-1l-3.5-2l-5.5-6l-10-29.5l-12-20.5l-9-19.5l-5-7.5l-3.5-2l-3.5 0l-16.5 9l-10 3l-18.5 2l-5.5 5l-15 4l-24.5-2l-13.5 4l-15.5 0l-9-3l-13.5-7l-6.5 0l-5.5 4.5l-2 4l0 3.5l3 5.5l6 7l4 9l0 7.5l-1 2l3 4.5l0 3.5l-5.5 6l-7.5 5l-10.5 0l-3.5 2l-8 2l-4.5 0l-7.5-3l-4.5-8l-1-5l1-20.5l-7-6.5l-9.5-5l-5.5 0l-6 2l-19 9l-10 6l-1.5 2.5l-13 12l-8 26.5l-4 6.5l-4 3.5l-11 3l-9.5 0l-4 1l-8.5 5l-17 17l-9 11.5l-15 13.5l-6 8.5l-5 10l-7 19.5l-9 17.5l-9 32.5l-19 35.5l-15 44l-2 9l-1 14.5l-6 22.5l0 14.5l1 1.5l0 8.5l2 8.5l-1 7.5l-3.5 6l-9.5 3.5l0 10.5l-6 2l-4 4l-0.5 2l9.5 19l13 22.5l6.5 6l8.5 0l8 14.5l7.5 7.5l31.5 0l9 15l5 5l4 1l1.5-15l1-1.5l0-28.5l1-1.5l1-33.5l1-1.5l0-12.5l1-1.5l-1-21.5l-1-1.5l0-17.5l1-1.5l0-23.5l1-1.5l0-7.5l3.5-5l3.5-2l8.5 0l4.5-4l3.5-5l5.5-4l7-3l14.5-3l14.5-5l9.5-1l1.5-1l17.5 0l4 1l3.5 2l3.5 4l-1 3.5l-12 15.5l-9 17l-5 16l-2 11.5l-5 14l-23 44.5l-14 36.5l-14 24.5l-2 5l0 7.5l123 0.5l8 15l6.5 6l35.5 0l7.5-7.5l9-18.5l22-38l19.5 0l6.5-6l9-15l8.5 0l6.5-6l9-15l7.5 0l6.5-6l9-15l31.5 0l6.5-6l9-15l31.5 0l6.5-6.5l0-13.5l1-1l13.5 0l9 15l6.5 6l56.5 0l0.5-7l5.5-8l13.5-7l32.5-9l5.5-4l14-22.5l13.5-13.5l5.5-4l12-6l7-2l6.5 0l3 1l5 4l4 4.5l7 11.5l4 11l0 5.5l1 1.5l-2 10.5l-3 7l-5 7.5l-10 8.5l-7 3l-3.5 0l-12.5 4l-14.5 0l-4.5 4.5l0 13.5l10 20l7.5 7.5l55.5 0l18 30l13 26.5l7.5 7.5l35.5 0l5.5-5l6 5l16.5 0l1 1l0 13.5l6.5 6.5l19.5 0l9 15l6.5 6l8.5 0l0.5-6l-3-8.5l1-9.5l3-7l16-25l4-3l2.5 0l5 4.5l6 10.5l8 10l10 10l8.5 6l6.5 0l14.5-13l4-2l4.5 0l12.5 7l15 13l4.5 1l21.5-11l20.5-4l6.5-3l3-3l5-8.5l7-7l2-8.5l4-7.5l6.5-6.5l3-1l6 6l3 6l3 12l0 12.5l-3 12l-5 8.5l0 4.5l-2 5l-3.5 4.5l7.5 14.5l7.5 7.5l46.5 0l6.5-6l8-15l20.5 0l6.5-6l9-15.5l-3-5l-4-4l-5-18l-1-7.5l-7-6.5l-1-4l0-10.5l1-3l5-8.5l4.5-4.5l9.5-5l15.5-3l31.5-18l4-1l9.5 0l7 4l4 5l3 6l2 9l0 10.5l2 2.5l2.5 0.5l5-9zM618 914.5l3 4l-1 16.5l-4 9l-10 13.5l-9.5 8.5l-23.5 14l-6.5 0l-1.5-1l-4.5-8l-5-17l2-20.5l4-9.5l2-1.5l5.5 0l4.5 2l5.5 0l12.5-7l7.5 0l13.5-4zM679.5 670.5l5.5 6l1 6.5l-8 12.5l-10.5 11.5l-12.5 7l-3 4.5l-6.5 5.5l-13.5 8l-3-1l-2.5-5l0-5.5l-1-1.5l0-24.5l2-9l6-11.5l10-8.5l6-2l14.5 0l4 1zM1049.5 653.5l8-2l7.5 1l8 3l5.5 4l9.5 13l5 15l0 9.5l-1 1.5l0 5.5l-1 1.5l0 5.5l-2 10l-14 35.5l-3 11l0 9.5l3-0.5l16.5-12l11-4l5-1l8.5 1l11 5l15.5 10l7.5 7.5l5 8.5l2 7l1 9.5l2 5l3 4.5l9 7.5l6 9.5l2 8l0 21.5l1 4l9 15.5l6 14l2 9l0 8.5l-1 3l3 10.5l0 9.5l-5 10l-4.5 5l-5.5 3l-6 2l-10.5 0l-12.5-3l-9.5 0l-4-1l-7-5.5l-6-8.5l-5.5-3l-17.5-6l-4.5-3l-7.5-7.5l-20-27l-12-19.5l-4-13l0-4.5l-3-13.5l-2.5-32l-2.5 0l-12 10l-9.5 6l-11 4l-7.5 0l-7-5.5l-2-3.5l-2-7l0-10.5l7-23.5l3-19.5l4-11.5l6-26l4-45.5l5.5-10zM872.5 665.5l5.5 6.5l8 13.5l4 11l2 14.5l-1 5l-5 8.5l-8.5 8.5l-10.5 7l-5 7.5l0 30.5l-1 1.5l-1 12.5l-5 18l-7 13.5l-1 11.5l-2 3.5l-5 4.5l-9.5 0l-3 1l-14.5 12l-15 6l-8.5 0l-6-2l-4.5-3l-7-2l-3.5-3.5l-2-4.5l0-4.5l2-4l6-6l17-9l4-4l3-5.5l0-7.5l-4-9l-4.5-4.5l-3.5 0l-3.5 3l-33 48.5l-13 25l-8.5 9.5l-13.5 9l-10 4l-19-7l-3.5-5l0-4.5l-4-5.5l-2-5l1-8.5l5-7.5l0-26.5l5.5-7l11.5-8l22-35.5l2-8.5l5-9.5l6.5-6.5l6.5-4l4-4.5l0-2.5l-2-3.5l-5-4.5l-8-11.5l-8-19l-1-4l0-13.5l3-5.5l3.5-3.5l7.5-4l15-3l9.5 0l7.5 3l4.5 0l1.5 1l10.5 0l17-8l23.5-16l6-3l6.5 0l7 3zM553 611.5l4 4l0 6.5l-2 3.5l0 7.5l-3 14l-4 7.5l-9.5 10.5l-4.5 2l-4.5 0l-3.5-2l-4.5-6l0-6.5l5-16l5-9.5l9.5-10.5l8.5-5zM1052.5 583.5l4-7.5l5-3.5l10.5 0l22.5 6l6.5 0l8 2l7 5.5l4 6.5l0 3.5l-4 9.5l-5.5 5.5l-6.5 4l-6 8l-7 4l-12.5 1l-4-1l-8.5-5l-7.5-8l-4-8l-3-10zM1233 523.5l3.5 2l4.5 6l0 7.5l-3 7l-4.5 5l-4.5 3l-3 1l-9.5-1l-5-4l-3-5l0-6.5l2-4l6.5-7l7.5-4zM787.5 240l-6.5-6l-11.5 0l-6.5 6l-9 15l-52.5 0l-7-13.5l-7.5-7.5l-8.5 0l-2-2l-20-35l-13-25.5l-2.5-3.5l-2 1l-2 2.5l0 6.5l-2 7l-6 9.5l-3.5 3.5l-14.5 9l-29.5 8l-17.5 9l-14 22.5l-14 13.5l-6.5 1.5l-3-2l-2.5-5.5l-2 1l-7 7.5l-11 20l-7 5.5l-12.5 13l-19.5 16l-8 8.5l0 57.5l7.5 1.5l3.5 6l0 8.5l-1 3l2 4.5l0 10.5l1 1.5l0 11.5l-1 3l2 5.5l0 6.5l-3 7l-5.5 6l-7 4l-2.5 3.5l1 4.5l3 5.5l3 3l7.5 4l10.5 0l9-3l9.5-6l19-18l11-15.5l7-12l7-6.5l8-4l4.5 0l1.5-1l8.5 0l1.5 1l9.5-1l13-4l7.5-4l4-7.5l0-16.5l4-10l5.5-6l4.5-3l6-2l11.5 0l4 1l13.5 7l8.5 11l2 6l0 9.5l-3 8l-7.5 9l-19.5 11l-4 5.5l-4 16.5l-6 15.5l0 4.5l-1 1.5l0 21.5l1 4l4 6.5l10.5 6l28 8l12.5 1l4.5-2l9-11.5l0-9.5l2-3.5l3-2.5l18.5-5l6.5-5l9-4l13.5-1l2-1l2.5-4.5l1-5l0-9.5l2-9.5l0-16.5l-6-14l-9-13.5l1-31.5l-9-15.5l-2.5-6.5l18.5-33l2-2l7.5 0l6.5-6l9-16l8.5 0l6.5-6l9-15l7.5 0l5.5-5l0.5-2zM628 129.5l-6 5.5l-4.5 8.5l11 9l5.5 0l0.5-17z" fill="rgb(0,53,182)"/>
<path d="M1586.5 916.5l-12-21.5l0-20.5l-12-21.5l0-20.5l-12-23.5l-5.5-5l-8.5 0l-9-14.5l-3.5 1.5l-4 4l-12 5l-7.5-1l-8.5-4l-12-3l-48.5-1l-16 7l-13.5 10l-8 12.5l-10 10l-13 27.5l-8.5 11l-6.5 3l-13.5 0l-4.5 3l-6 15.5l-3 22.5l-4 13l-6 10.5l-4 3.5l-6 3l-4 1l-13.5 0l-11-4l-9.5-7l-5.5-7l-7-6.5l-2-3.5l-22-22l-3.5-2l-13.5-14.5l-13-19.5l-19-38.5l-3-3l5.5 17l-1 28.5l2 6l10 19.5l4 15l0 18.5l-3 9.5l0 7.5l-1 1.5l-1 9.5l-3 6.5l-5 4.5l-3 1l-10.5 0l-8.5-2l-22.5 0l-4-1l-7.5-4l-11-11l-12.5-5l-11.5-7l-9.5-10.5l-31-42.5l-4-8l-7-22.5l-3-4.5l-4.5-2l-8.5 3l-3.5 4.5l0 11.5l3 13.5l-1 9.5l-7 16l-5 7.5l-7.5 7.5l-10.5 6l-10.5 1l-1.5 1l-24.5 1l-0.5 14l10 20l7.5 7.5l55.5 0l18 30l13 26.5l7.5 7.5l35.5 0l5.5-5l6 5l16.5 0l1 1l0 13.5l6.5 6.5l19.5 0l5 7.5l5.5-3l4-9.5l15-21.5l10-20.5l6-6l2.5 0l4 2.5l13 28l5 7.5l10.5 10l6 3l3.5 0l5.5-3l11-9l7.5-2l7 3l23.5 16l5.5 0l20.5-9l12.5-2l9-3l4.5-4l8-13.5l8-7.5l4-7.5l6.5-6.5l3-1l6 6l3 6l3 12l0 12.5l-4 13.5l0 8.5l-4 9l-5.5 4l7.5 14l7.5 7.5l46.5 0l6.5-6l8-15l20.5 0l6.5-6l8.5-15l-5.5-4.5l-4-13.5l-9-11.5l-3-34.5l5-7.5l7-6.5l20.5-4l5.5-5l5.5-2l13.5-9l18-10l6-2l12.5 0l6.5 3l6.5 0zM1407.5 671.5l-8-8.5l-7.5-6l-8.5 0l-17-30.5l-2-1l-4 1.5l-33.5 22l-5 5l-4 7.5l-3 11.5l-9 17.5l-1 8.5l-4 14l2.5 2.5l4.5 0l18.5-6l15.5 0l11 3l12.5 6l4.5 0l2.5-2l8-12.5l6-6.5l11-18l9-6zM798.5 403l-0.5 10l3 7l3.5 5.5l5.5 0l0.5-16l-6.5-6.5zM1329.5 581.5l-13-23l-7.5-7.5l-31.5 0l-9-15l-6.5-6l-6.5 0l-11.5 20.5l-6.5 6.5l-8.5 5l-3 1l-7.5 0l-6-2l-7.5-5l-6.5-10l0-7.5l7-11.5l9.5-9.5l5.5-4l12-4l4.5 1l3.5-2.5l0-1.5l-7-12.5l-6.5-6l-43.5 0l-20-37l0-20.5l-11-20l-7-7l-5.5 5l4 3l0 6.5l-5 7.5l0 3.5l-1.5 2l-3.5 2l-10.5 0l-5.5 3l-7.5 0l-8.5-4l-7.5-7.5l-4-7.5l-1-5l3-10.5l5-6l7.5-6l-0.5-1.5l-6.5-6l-11.5 0l-6.5 6.5l0 19.5l-7.5 8.5l4.5 7l5 13.5l5 6.5l3 6l2 8l0 8.5l-3 12.5l-1 17.5l-4 15l-8 13.5l-5.5 6.5l-16 12.5l-4-3.5l-4-8l-6-20l0-8.5l-1-1.5l0-16.5l-4-18l-3-6l-6.5-5.5l-13-7l-7.5-6.5l-4-7.5l-0.5-11l-8.5 0l-6.5 6l-9 15l-7.5 0l-6.5 6l-9 15l-31.5 0l-6.5 6l-9 16l-8.5 0l-6.5 6l-5 9.5l0.5 2l4 2l15.5 0l10 3l15 7l11.5 7l5.5 5.5l6 9.5l7 21l0 8.5l1 1.5l-1 4l0 19.5l-4 16l-5 10l-6 8.5l-6 4.5l-7.5-1l-21.5-16l-11.5-11l-8.5-6l-27-12l-10-3l-8.5 0l-3.5 3.5l-3 13l0 6.5l-3 10.5l0 9.5l10 11.5l3.5 2l14.5 15l9.5 7l11.5 15l7 13l5 15l0 9.5l-3 8l-3 4.5l-9.5 9.5l-11.5 9l-3 5.5l-1 25.5l-5 25l-8 20l-7 9.5l-1 5.5l-6 6l-7.5 0l-15 9l-4.5 4l-15 6l-10.5 0l-1.5 1l-10.5-1l-8.5-4l-8-8l-3.5 0l-3.5 3l-13 21.5l-6.5 6.5l-11.5 8l-11 6l-9.5 1l-6.5-4l-16.5-15.5l-6-9.5l0-8.5l2-5l9-11.5l0-19.5l5.5-7l11.5-8l9-13.5l10-17l0-8.5l3-10l5-8.5l9-11l-1-7.5l-9-15.5l-9-23l0-4.5l-1-1.5l1-9.5l4-6.5l11-6.5l11-3l16.5 0l14.5 3l10.5 0l15-7l13.5-10l4-5.5l2-5l-1-6.5l-5-5.5l-3.5-2l-7.5-7.5l-2-3.5l-3.5-2l-7.5-8.5l-6-10.5l-1-4.5l-6-13l-18-32l-7.5-8.5l-4.5 0l-19.5 7l-16.5 2l-12.5 3l-5.5 0l-9.5 3l-9.5-1l-31.5 7l-31.5-1l-2.5 2.5l0 5.5l2 5.5l1 11.5l-3 7.5l0 5.5l-5.5 6l-7.5 5l-3.5 0l-9.5 6l-15.5 4l-2.5 3.5l-1 5.5l-4 8l-4 5.5l-1 9.5l-4 9l-10.5 12l-4.5 2l-4.5 0l-3.5-2l-4.5-6l-1-15.5l2-5l11-13l9-15.5l4-2.5l5-6.5l0-5.5l-2-9.5l0-12.5l-2-3.5l-8.5-6l-6.5 0l-9 3l-19 9l-12.5 10l-8 13.5l-5 19.5l-3 5.5l-3.5 3.5l-9.5 4l-18.5 2l-6.5 4l-2.5 3l-3.5 2l-4 5.5l-9 8.5l-7 9.5l-14 14.5l-5 7.5l-4 9l-5 17.5l-12 24.5l-7 21.5l-23 42.5l-14 41l-2 9l-1 14.5l-6 23.5l0 12.5l1 1.5l0 8.5l1 1.5l0 15.5l-1 3l-5 8l-5 3l-5.5 0l-0.5 6l-6 2l-4 4l-0.5 2l9.5 19l13 22.5l6.5 6l8.5 0l8 14.5l7.5 7.5l31.5 0l7 10.5l4-1.5l4.5-12.5l1-12.5l1-1.5l0-9.5l1-1.5l1-42.5l1-1.5l1-12.5l2-5.5l0-5.5l-1-1.5l0-17.5l1-1.5l0-23.5l1-1.5l0-7.5l1-2l4-4l6-2l13.5-14l7.5-4l19.5-4l29.5-9l14.5 0l7 2l9 6l2 5.5l-3 5.5l-9.5 9.5l-3.5 2l-6 8.5l-5 10l-4 12l-4 18.5l-4 11l-26 50.5l-11 28.5l-10 20.5l-3 11l0 7.5l116 0.5l8 15l6.5 6l35.5 0l7.5-7.5l9-18.5l22-38l19.5 0l6.5-6l9-15l8.5 0l6.5-6l9-15l7.5 0l6.5-6l9-15l31.5 0l6.5-6l9-15l31.5 0l6.5-6.5l0-13.5l1-1l13.5 0l9 15l6.5 6l51.5 0l0.5-7l2-4l6.5-7l14.5-8l18.5-5l14.5-6l4-4l12-18.5l16.5-16.5l14.5-10l6-7.5l3-23.5l11-32.5l12-49l4-46.5l3-7l4-5.5l19-15.5l11-4l9.5 0l6 2l6.5 4l6.5 6.5l8 14.5l4 14l0 13.5l-1 1.5l0 8.5l-1 1.5l-1 11.5l-9 28.5l1 4.5l7 0.5l6.5-2l14.5 0l9 3l18.5 9l12 4l12.5 1l4.5-4l11-18.5l15-17.5l7-12.5l2-9.5l6-17.5l2-10.5l5-14.5l1-14.5l2-6l4-3l7.5 0l7.5 3l11.5 0l15-5l9.5-8l15-18.5l21.5-22.5l13-7zM623 905.5l3 4l0 14.5l-4 15l-3 6l-8 11.5l-3 2.5l-2 3.5l-6.5 5.5l-25.5 16l-7 3l-4-2l-3.5-6l-7-20l0-2.5l4-9.5l2-17.5l3-5.5l2-1.5l5.5 0l4.5 2l5.5 0l12.5-7l3-4l12.5-3l10.5-5zM408.5 736.5l7-4l6.5 0l4 1l9.5 5l4.5 4.5l4 6.5l2 7l-2 5.5l-3 2l-9.5 0l-6-2l-12.5-7l-3.5-3.5l-3-5.5l0-5.5zM683.5 667.5l6.5 6.5l2 4.5l0 3.5l-3 6.5l-4.5 4.5l-10.5 6l-3 4.5l-8.5 6.5l-4.5 6.5l-8.5 8.5l-3.5 2l-16.5 18l-3.5 2l-2.5 0l-3-4l2-51.5l3-11l6-10.5l9-7.5l4-2l10-2l14.5 2zM1053.5 552.5l3.5 2.5l6 7.5l6.5 4l5 2l34.5 8l3.5 2l3.5 5l0 2.5l4 6.5l0 3.5l-3 8l-9 8.5l-1 4.5l-4 7.5l-3.5 3.5l-8.5 5l-12.5 2l-5-1l-6-3l-10-9.5l-6-11.5l-3-11l0-21.5l1-1.5l0-15.5l1-4zM787.5 240l-6.5-6l-11.5 0l-6.5 6l-9 15l-52.5 0l-7-13.5l-7.5-7.5l-8.5 0l-2-2l-25-45.5l-2-1l-3.5 2.5l-5 8.5l-9.5 9.5l-4.5 3l-14 6l-25.5 3l-27 12l-10.5 16.5l-14 13.5l-6.5 1.5l-5-1.5l-3.5-3l-2 1l-4 4.5l-11 20l-7 5.5l-12.5 13l-19.5 16l-8 8.5l0 49.5l6 0.5l5 3.5l3 4.5l2 9l-1 3l0 9.5l-1 1.5l0 16.5l4 15.5l0 14.5l-3 9.5l0 5.5l1 1.5l4.5 2l5.5-1l10-5l16.5-11l10-10l14-22.5l8-6.5l12-4l16.5 0l12-3l5-3l3.5-4.5l1-4l0-12.5l2-8l8-12l9-7l11-4l15.5 1l14 6l11 9.5l8 15.5l0 12.5l-5 11l-5.5 7l-9.5 7l-19 11l-3 4.5l-5 11l-6 18l0 6.5l-1 1.5l1 13.5l2 5l4.5 5.5l12 7l24 6l6.5 0l6.5-3l10-13.5l0-2.5l3.5-5l3.5-2l8.5-2l12.5-11l7-4l13.5-4l2.5-3.5l2-10l0-7.5l1-1.5l0-13.5l-4-11l-9-12.5l-3-7l0-9.5l2-3l3-1l3-3.5l0-14.5l-9-15.5l-2.5-6.5l18.5-33l2-2l7.5 0l6.5-6l9-16l8.5 0l6.5-6l9-15l7.5 0l5.5-5l0.5-2zM623 134.5l5.5 3l6-0.5l-1-3l-5-4.5z" fill="rgb(0,62,189)"/>
<path d="M1586.5 916.5l-12-21.5l0-20.5l-12-21.5l0-20.5l-11-22l-6.5-6.5l-8.5 0l-3-4.5l-2-1l-11.5 6.5l-6 2l-10.5 0l-14.5-8l-9-3l-4.5 0l-1.5-1l-41.5-1l-14 7l-12.5 8l-10 10l-8 12.5l-14 27.5l-9.5 13l-7.5 4l-10.5 1l-6.5 4l-5 10.5l-3 22.5l-4 14l-5 9.5l-5.5 5.5l-9.5 4l-4.5 0l-1.5 1l-14.5 0l-12-4l-4.5-3l-34.5-36l-12.5-9l-6-3l-3.5 0l-2.5 2.5l-2 5l-1 14.5l-1 1.5l0 5.5l-1 1.5l-4 27.5l-3 8l-3.5 4l-3.5 2l-15.5 0l-8.5-2l-15.5 0l-1.5-1l-9.5 0l-4-1l-14-6l-9-8l-16.5-11l-11.5-12.5l-21-28.5l-12-12l-7.5-5l-4.5 0l-3.5 3l-17 26.5l-4 5l-9.5 8.5l-3.5 2l-11 3l-30.5 2l-0.5 9l10 20l7.5 7.5l55.5 0l18 30l13 26.5l7.5 7.5l35.5 0l5.5-5l6 5l16.5 0l1 1l0 13.5l6.5 6.5l18.5 0l3-4l7.5-5l5-5l11-14.5l5-10l8-21.5l6-6l5.5 1l5 5l4 8l6 20.5l5 10l6 8.5l9.5 6l4.5 0l3-1l15.5-11l7.5 0l23.5 15l7 3l7.5-1l17.5-8l16.5-3l4.5-3l7-14l9-13l8-5l5.5-1l4-2l5 4.5l4 7.5l2 6l1 16.5l2 7.5l-1 11.5l-3 9l-5 10l-3.5 4l4.5 9l7.5 7.5l46.5 0l6.5-6l8-15l20.5 0l6.5-6l6-10.5l-1-2l-4-3l-10-18l0-9.5l-1-1.5l0-6.5l-2-9.5l0-9.5l-1-1.5l0-13.5l2-4l6-3l24.5-5l5.5-5l7-10l10.5-5l18.5-12l25-11l7.5 0zM1403.5 667.5l-11.5-10.5l-8.5 0l-14-25.5l-3-3.5l-4.5 4l-5.5 2l-14 8l-11.5 8l-5 5l-6 11.5l-3 13.5l-2 4.5l-1 9.5l2 5l6.5 3.5l17.5 2l21.5 6l5.5 0l3.5-2l11-11l13-20.5zM1028.5 464l-9.5-7l-21.5-11l-10.5-7l-5-1.5l-5 7.5l-7.5 0l-6.5 6l-9 15l-24 0.5l0 10.5l3 10l23 42.5l4 11l5 20l0 38.5l-3 11l-8 16l-9.5 13l-3.5 2l-4.5 0l-4.5-3l-9.5-10l-17.5-12l-11.5-10l-7.5-5l-14-6l-13-3l-6.5 1l-4.5 5.5l-2 8l0 15.5l2 5l13 17.5l19 19.5l19 26.5l13 15l2 7.5l-5 12l-3 4.5l-10.5 10.5l-8.5 6l-8 8.5l-4 10l-2 11.5l-8 29l-10 22l-5 7.5l-4.5 4.5l-27.5 18l-10 5l-17 5l-13.5 0l-15.5-5l-6.5 0l-18 20l-18.5 12l-12 6l-6.5 0l-8.5-5l-2.5-3l-3.5-2l-16.5-16.5l-4-5.5l-2-5.5l5-9.5l14-16l0-14.5l5.5-7l11.5-8l14-22.5l0-7.5l1-1.5l1-9.5l4-12l9-16.5l0-5.5l-3-9l-18-39l-4-3.5l-13 12l-15.5 10l-34 34l-10 14.5l-6.5 6.5l-4 2l-3-2l-2-5l0-20.5l3-12.5l1-28.5l3-12l7-12.5l10-8.5l9-3l9.5-1l1.5 1l9.5 1l19 8l16 11l11.5-9l15-6l20.5-3l1.5 1l10.5 0l12.5 3l6.5 0l14-6l8.5-6l6-8.5l1-4l-1-5.5l-4-6.5l-23-24l-4-8l-3-9.5l-13-24l-12-16.5l-5.5-3l-3.5 0l-18.5 4l-12.5 1l-16.5 4l-29.5 3l-1.5 1l-10.5 1l-5.5 2l-26.5 4l-3.5 2l-3 5.5l-2 13.5l-4 8.5l-17.5 16.5l-8.5 5l-9.5 3l-5.5 3.5l-8 15.5l-7 10.5l-5 11l-9.5 10.5l-4.5 2l-6.5-1l-7-7.5l-3-5.5l-1-9.5l4-8.5l8-9.5l17-24.5l1-8.5l-3-13l-3-5.5l-2.5-2l-3-1l-7.5 0l-14 4l-14.5 9l-5 5l-6 9.5l-4 15.5l-5 12.5l-6 5.5l-9 3l-15.5 2l-7 3l-5.5 4l-14 15l-17 24.5l-4 10l-1 7.5l2 8l2 3l32.5 19.5l7.5 7.5l4 6.5l4 12l0 5.5l-2 3.5l-6 3.5l-13.5-1l-16-6l-21.5-10l-9.5-1l-5.5 3l-6 6l-19 28.5l-7 13l-15 44l-2 10l-1 14.5l-5 16.5l0 7.5l-1 1.5l1 3l0 11.5l1 1.5l0 19.5l-1 4l-7 12.5l-6 5.5l-3.5 0l-2-1.5l-0.5 5.5l-7.5 6l6.5 14l13 22.5l6.5 6l8.5 0l9 16l6.5 6l31.5 0l3 3.5l5-1.5l4.5-11.5l2-18.5l1-1.5l0-9.5l1-1.5l0-32.5l1-1.5l0-8.5l1-1.5l1-10.5l3-11.5l2-42.5l7-9.5l18-17.5l8-3l20.5-4l27.5-10l16.5 1l13 5l7 6l1 2l0 5.5l-5 8.5l-17 14.5l-7 12.5l-11 39.5l-29 56.5l-10 26.5l-6 12.5l-4 13l0 10.5l111 0.5l8 15l6.5 6l35.5 0l7.5-7.5l9-18.5l22-38l19.5 0l6.5-6l9-15l8.5 0l6.5-6l9-15l7.5 0l6.5-6l9-15l31.5 0l6.5-6l9-15l31.5 0l6.5-6.5l0-13.5l1-1l13.5 0l9 15l6.5 6l46.5 0l1.5-9l9.5-11l15.5-9l22.5-8l10.5-6l14-18.5l21.5-21.5l4.5-3l8-12.5l5-20.5l15-41.5l7-26l3-15l3-39.5l2-8l6-10.5l13-12.5l2.5-4l9.5-7l4-4.5l0-8.5l-4-11.5l-3-15l0-6.5l-1-1.5l0-15.5l-1-1.5l-1-18.5l-1-1.5l1-14.5l-1-1.5l0-8.5l-5-23.5l0-17.5l-1-1.5l-1-9.5zM630 892.5l3 5l0 7.5l-1 1.5l-2 16.5l-5 17l-10 17.5l-7 8.5l-11 9l-12.5 6l-17.5 12l-3 1l-3-1l-2.5-3l-4-15.5l-4-8.5l0-2.5l2-7l3-5.5l1-9.5l1-1.5l0-6.5l4-9.5l2-1.5l5.5 0l4.5 2l5.5 0l12.5-7l6-9l4.5-1l8-4l14.5-10zM1155.5 416.5l-5 1.5l-5 7l-11.5 8l-4.5 0l-10.5 7l-4 1l-11.5 0l-5.5 2.5l-2 6l0 13.5l-4 18.5l0 9.5l-1 1.5l0 7.5l-2 9l-5 11l-12 16.5l-4 8l0 7.5l6 9.5l10.5 5l26.5 5l5.5 3l4.5 7l0 6.5l-1.5 2.5l0.5 5.5l-3 8l-5 5.5l0 3.5l-2 6l-8 13.5l-10 9.5l-2 3.5l0 4.5l8 21.5l2 14.5l1 1.5l0 49.5l3.5 5.5l14.5 6l18.5 9l9.5 1l1.5 1l9.5-1l6-2l7.5-5l8.5-9l6.5-5l10-13.5l4-8l8-26l0-4.5l4-18.5l0-22.5l4-7.5l6-4.5l4-1l7.5 1l15.5 6l7.5 0l11-4l12.5-11l2-3.5l17-16.5l2-3.5l9.5-9.5l17-11l-11.5-21l-7.5-7.5l-31.5 0l-9-15l-6-5.5l-0.5 5.5l-8 11.5l-14.5 14.5l-9.5 6l-3 1l-9.5 0l-12-5l-6.5-5l-9.5-12l-1.5-4l0.5-3.5l3-5.5l4-3.5l29-35.5l0-6.5l-41-0.5l-20-37l0-20.5zM705.5 406l-7.5-4l-5.5 1l-8.5 5l-23 17l-19.5 10l-9.5 7l-8 14.5l-4 11l0 5.5l-1 1.5l0 5.5l2 9l3 5.5l4 4l13.5 7l12 3l12.5 0l5.5-4l5-7.5l4.5-4.5l10.5-7l10.5-10l21.5-16.5l3-6l0-17.5l-2-7l-6-9.5zM787.5 240l-6.5-6l-11.5 0l-6.5 6l-9 15l-52.5 0l-7-13.5l-7.5-7.5l-8.5 0l-2-2l-16-28.5l-2-1l-20 17.5l-13.5 8l-3 1l-12.5 0l-14.5-4l-12.5 0l-9 3l-14.5 8l-7 7l-12 18l-4 3l-6.5 1l-7-2l-3.5-4l-2 1l-13 22.5l-7 5.5l-12.5 13l-19.5 16l-8 8.5l0 27.5l6 0.5l2 2l6 10l5 14l1 15.5l-1 1.5l0 9.5l-1 1.5l0 16.5l4 19l4 9.5l4.5 3l9.5 0l13.5-7l8-8l12-20.5l4.5-5.5l5.5-4l6-3l5-1l15.5 0l5-1l8.5-4l3-5.5l2-16.5l7-13.5l16.5-17.5l12.5-7l13.5-1l1.5 1l10.5 1l13 4l12.5 8l18.5 21l8.5 5l3.5 0l6-2l12.5-7l6.5 0l0.5-4l-9-15.5l-2.5-6.5l18.5-33l2-2l7.5 0l6.5-6l9-16l8.5 0l6.5-6l9-15l7.5 0l5.5-5l0.5-2z" fill="rgb(0,72,197)"/>
<path d="M963 932.5l0 4.5l10 20l7.5 7.5l55.5 0l18 30l14 27.5l5.5-2.5l5.5-1l12.5-6l4.5 0l8 9l0.5 7l5.5 0l5.5-5l6 5l16.5 0l1 1l0 13.5l6.5 6.5l10.5 0l0.5-6l1-1l8.5-3l7.5-5l8-8l9-14.5l6-18l2-9l0-6.5l-3-5.5l-6.5-3l-10-2l-5.5 0l-1.5-1l-5.5 0l-1.5-1l-13.5 0l-1.5-1l-9.5 0l-9.5-2l-13.5 0l-1.5-1l-10.5-15l-18-18.5l-17-23.5l-9-9l-11.5-6l-5.5 0l-8.5 5l-18 23.5l-6.5 6.5l-6.5 4l-10.5 1l-1.5 1l-17.5 0l-1.5 1zM1550.5 809l-5.5-5l-7.5 0l-5.5 4l-2.5 0l-8.5 4l-4 1l-11.5 0l-10-4l-10.5-7l-11-3l-19.5 0l-1.5-1l-7.5 0l-1.5-1l-9.5 0l-7 3l-19.5 13l-7 7l-10 13.5l-16 29.5l-7 10.5l-7 5.5l-13.5 3l-6.5 5l-4 10.5l-2 22.5l-4 12l-8 12l-4 3l-7 3l-10.5 1l-1.5 1l-21.5 0l-6-2l-11.5-8l-10.5-10.5l-2-3.5l-14-13l-4.5-3l-6-2l-5.5 2l-4.5 7.5l-2 6l-5 34.5l1 5l2 3l11 10l3 4.5l11 37.5l9 14.5l4.5 3l5.5 1l5-2l13.5-10l7.5 0l13 7l11.5 8l10.5 3l4-1l9.5-5l6.5 0l7-2l14.5-8l7-7l7-10l8-14.5l3-2.5l6.5 0l2-1l5 1l3 5l5 4.5l2 4.5l1 20.5l1 1.5l2 21.5l-11 20l-5.5 3l5.5 10.5l6.5 6l46.5 0l6.5-6l8-15l20.5 0l6.5-6l4.5-8.5l-5.5-3l-3-6.5l-4-4.5l-1-20.5l-1-1.5l0-6.5l-2-9.5l0-9.5l-1-1.5l0-13.5l2-4l6-3l24.5-5l5.5-5l13-19l10.5-5l25.5-16l9-7l3-4.5l3-2l-7-14l0-20.5l-12-21.5l0-20.5zM1399 663l-7-6l-8.5 0l-13-22.5l-3.5 1.5l-8.5 1l-13 6l-11.5 8l-5 5l-5 8.5l-2 7l0 4.5l-1 1.5l1 9.5l3 5.5l7.5 5l24 6l9.5 0l9.5-6l5-5l9-15l8-10.5zM1025.5 468l-5-5l-11.5-6l-4-1l-11.5 0l-7 3l-6.5 5.5l-8 11l-3 6l-5 15l-1 9.5l-1 1.5l0 23.5l6 30.5l0 11.5l1 1.5l0 17.5l1 1.5l-1 9.5l-2 6l-13 25l-9 14.5l-4.5 4.5l-3.5 1.5l-2.5-2l-5-10l-5-7.5l-5-5l-36.5-24l-11-4l-10.5 0l-3.5 2l-3 5.5l-1 8.5l3 10l6 9.5l14 17.5l10 14.5l11 12l8.5 4l8.5 0l12.5-6l3.5 1.5l2 6.5l1 9.5l3 9.5l0 3.5l-4 10l-14 18.5l-8.5 7.5l-20.5 14l-4 5l-9 16.5l-12 32.5l-8 16l-8 11.5l-9 6.5l-8.5 4l-15.5 10l-20 8l-5 1l-30.5-1l-3 1l-18.5 15l-33 18l-6.5 0l-7.5-5l-11-9l-9.5-10l-4.5-3l-5-2l-8.5 1l-6.5 5l-5 8.5l-12 46.5l-8 19l-28 22l-5.5 7l-13.5 8l-7.5 7l-7.5 5l-1.5 0l-3-3l-3-18.5l-3.5-10l2.5-13l5-12.5l1-13.5l3-8l3-3l5.5 0l4.5 2l5.5 0l12.5-7l4-5.5l4-8.5l15-9l13-13l4-5.5l3-6l1-6.5l3.5-5l1.5-1l7.5 0l9-2l9.5-6l5-5l11-14.5l0-7.5l2-3.5l15-11.5l8-12.5l1-10.5l5-22l9-23.5l0-11.5l-1-4l-9-20l-5-7l-3.5-2.5l-7.5 0l-8 4l-11.5 8l-17.5 18l-3.5 2l-9 9l-23 32.5l-7 6.5l-2-1l-3.5-8l-1-25.5l5-24.5l0-11.5l1-1.5l1-15.5l4-13l5-8.5l9-8.5l13-5l16.5 0l33.5 11l5.5 0l7.5-3l10-2l8.5 0l1.5-1l16.5-1l1.5-1l3 1l10.5 0l1.5 1l16.5 2l12-5l7-5l5.5-7.5l1-6.5l-6-11.5l-17-16.5l-3-4.5l-10-24.5l-13-20.5l-7-7l-8.5-4l-22.5 1l-33.5 7l-9.5 0l-1.5 1l-8.5 0l-1.5 1l-11.5 1l-21 5l-7 3l-4.5 4.5l-3 6l-3 10.5l-5 8.5l-12.5 11.5l-7.5 5l-15.5 7l-4.5 3.5l-18 33.5l-7 9l-9 5l-7.5 0l-6.5-3l-4.5-5l-4-10l0-8.5l3-7l23-32.5l2-5l-1-9.5l-4-7l-7.5-4.5l-10.5 0l-6 2l-8.5 5l-2.5 3l-3.5 2l-6 8.5l-8 26.5l-3 5.5l-4 3.5l-6 3l-11 3l-9.5 1l-11.5 6l-14 15l-5 7.5l-7 15l-1 10.5l4 11l3 4.5l8 8l3.5 2l7.5 8l4 2.5l2 3.5l3 2.5l5 8.5l5 16l0 5.5l-2 4.5l-6 3.5l-14.5 0l-32.5-11l-4.5 0l-1.5-1l-10.5 1l-11.5 6l-7 7l-10 13.5l-9 16l-13 38l-3 15l-1 13.5l-4 11.5l-1 10.5l-1 1.5l1 16.5l1 1.5l0 18.5l-8 24.5l0 6.5l1 1.5l2 20.5l1 1.5l1 19.5l7 0.5l9 16l6.5 6l33.5 0.5l3.5-2l4-12l2-16.5l1-1.5l1-22.5l1-1.5l0-28.5l1-1.5l2-24.5l1-1.5l0-6.5l2-9.5l1-17.5l2-8l3-5.5l21-20.5l8-3l9.5-1l12-3l25.5-11l13.5 0l10 2l8 3l11 7.5l3 5.5l0 4.5l-4 8.5l-9.5 9.5l-7.5 5l-5 5l-4 6.5l-3 8l-5 23.5l-4 11l-25 47.5l-18 45l-4 12l0 13.5l106 0.5l8 15l6.5 6l35.5 0l7.5-7.5l9-18.5l22-38l19.5 0l6.5-6l9-15l8.5 0l6.5-6l9-15l7.5 0l6.5-6l9-15l31.5 0l6.5-6l9-15l31.5 0l6.5-6.5l0-13.5l1-1l13.5 0l9 15l6.5 6l38.5 0l1.5-7.5l12.5-12.5l13.5-9l23.5-11l12.5-8l8-8l2-3.5l26-25.5l10-14.5l27-76l6-27l3-38.5l2-9l4-8l17-23l8-13.5l1-16.5l-1-1.5l0-8.5l-2-7.5l-1-14.5l-2-6.5l-1-12.5l-1-1.5l1-25.5l-1-1.5l0-7.5l-3-15.5l0-17.5l-4-16zM709.5 431l-9.5-7l-7-2l-7.5 0l-10 3l-39.5 20l-3 3l-7 11.5l-4 15l1 9.5l5 9.5l7.5 6l13 5l14.5 1l5.5-3l7-9.5l6.5-6.5l18.5-13l10-10l5-8.5l1-7.5l-2-8zM1157.5 420.5l-3.5 1.5l-2.5 3l-9.5 7l-8.5 3l-12.5 8l-13.5 5l-5.5 5.5l-3 9l0 3.5l-4 15.5l-2 29.5l-5 12l-10 15.5l-2 6l1 8.5l4 5.5l11.5 5l23.5 4l6 4l3 7l0 9.5l-2 6l-5 8.5l-4 15.5l-13 28.5l0 11.5l1 1.5l1 20.5l2 8.5l1 21.5l3 15l5 10.5l4 4l10.5 7l8 4l7 2l10.5 0l10-3l17.5-13l12-15.5l5-11l6-19l2-18.5l1-1.5l0-27.5l4-9l4.5-5l7.5-4l6.5-1l20.5 7l12.5-1l14.5-9l24-24l2-3.5l6.5-6.5l10.5-7l5-5.5l-10-18l-6.5-6l-31.5 0l-7-10.5l-3.5 1.5l-3.5 4l-3.5 2l-18.5 18l-8.5 6l-8 3l-8.5-1l-14-6l-6.5-5l-8.5-9l-9.5-6l-2.5-4l2-5l20-18.5l9-12.5l4-9l1-10.5l-28-0.5l-20-37l0-20.5zM763.5 252l-5.5-2.5l-4 5.5l-52.5 0l-8-15l-6.5-6l-8.5 0l-10-16.5l-2-1l-12.5 9.5l-15 16l-2.5 4l-3.5 2l-2.5 3l-8.5 5l-7.5 0l-15-16.5l-5.5-4.5l-9-4l-8.5 0l-10 4l-5 4l-5.5 6l-10 14.5l-8 7.5l-9.5 1l-13.5-4.5l-11 19l-7 5.5l-19.5 19l7.5 15l12 18.5l6 13l0 5.5l-2 3.5l-9 6.5l-6 6.5l-3 6l-2 9l-3 30.5l1 1.5l1 11.5l6 12l5.5 3.5l9.5 0l10.5-6l9-11.5l8-16.5l5-7.5l8-7.5l7-2l12.5 1l9.5-3l4-5.5l3-10.5l6-10.5l30-39l7-5.5l3-1l8.5 0l20.5 4l16.5 0l9 2l5 4l9 15l5 5l11.5 6l10.5 0l3.5-4l-5.5-11l18.5-33l2-2l7.5 0l6.5-6l9-16l8.5 0l8-8.5l-4.5-5l-3-12.5z" fill="rgb(0,82,205)"/>
<path d="M965.5 941l7.5 16l7.5 7.5l20.5 0l0.5-6l3-2l5.5 0l3 2l0.5 6l22.5 0l18 30l10 19.5l5.5-2.5l3.5 0l6-2l17.5-12l4.5-1l3 4l1 5.5l3 7l3 4.5l5 4l1 3l4.5 4l16.5 0l1 1l0.5 9l12.5 0l5-1l8-3l7.5-5l5-5l6-8.5l4-9l5-16l0-8.5l-2-4.5l-7.5-5l-8-2l-13.5-1l-1.5-1l-11.5 0l-1.5-1l-17.5 0l-4 1l-11.5 6l-2.5 0l-3-4l-3-12.5l-4-8l-14-17l-13-18.5l-13-14l-11.5-5l-6.5 1l-5.5 3l-8 8l-17 25.5l-6 5.5l-7.5 0l-6.5-2l-18.5 0l-4 1zM1551.5 810.5l-2-1l-2.5 1.5l-4.5 0l-22.5 7l-12.5 0l-8-2l-15.5-9l-18-6l-19.5-1l-1.5 1l-9.5 0l-3 1l-19.5 13l-14 14l-11 15.5l-13 24.5l-5 7.5l-4.5 4.5l-5.5 3l-10.5 2l-5.5 4l-3 7.5l0 6.5l-10 37l-4 7.5l-8 4.5l-7 2l-20.5 1l-1.5 1l-7.5 0l-1.5 1l-11.5-1l-11.5-7l-18.5-18l-8.5-6l-3-1l-4.5 0l-4.5 4.5l-3 7l-1 5l0 12.5l2 5l11 16.5l2 6l4 23.5l4 11l8 14.5l5.5 3l3.5 0l7.5-4l7-6l4-2l4.5 0l9 4l21.5 13l4 1l4-1l8.5 1l1.5-1l12.5-1l16-8l8.5-8l10-14.5l9.5-17.5l1.5-1l7.5 0l5 9.5l6 6l2 4.5l1 20.5l1 1.5l0 6.5l2 9.5l-1 15.5l-6 10.5l-4 4.5l-3 1.5l2 5.5l7.5 7.5l46.5 0l6.5-6l8-15l20.5 0l6.5-6l1.5-3.5l-4.5-4l-4-8l0-4.5l-1-1.5l-1-21.5l-1-1.5l0-6.5l-2-9.5l0-9.5l-1-1.5l0-13.5l2-4l6-3l12-3l9.5-1l4.5-2l4-4l19-28l6.5-3l20.5-13l11-12l4.5-3l-4.5-8.5l0-20.5l-12-21.5l0-20.5zM1391.5 657.5l-8-0.5l-11-18.5l-3.5 1.5l-8.5 0l-7 2l-11.5 6l-11 10l-4 6.5l-2 7l1 10.5l3 5.5l8.5 6l14 4l12.5 0l3-1l9.5-6l7-9.5l8-16zM867.5 614l-2.5 4.5l1 9.5l16 29l7 10.5l8 8l6.5 3l7.5 0l8.5-5l5-6.5l3-8l-1-11.5l-6-11.5l-6-6l-6.5-4l-8.5-3l-19.5-10l-8.5-1zM750.5 556l-6.5-4l-8-2l-16.5 0l-1.5 1l-10.5 1l-17.5 5l-21.5 1l-1.5 1l-13.5 1l-12 3l-10 4l-4.5 3l-5 6.5l-8 19.5l-6 7l-13 9l-16.5 8l-7.5 6l-6 10.5l-4 11.5l-6 11.5l-8.5 9.5l-8.5 5l-8.5 1l-11.5-6l-5.5-9l-2-8l0-10.5l3-7l14-19l9-14.5l0-8.5l-2-4l-4-4.5l-6.5-3l-6.5 0l-8 3l-4.5 3l-8 8l-4 7.5l-7 24.5l-4.5 7l-9.5 5l-22.5 5l-7.5 4l-9 8l-5 6.5l-7 13l-2 7l0 10.5l1 4l5 9.5l9 11l14 13.5l5 7.5l8 22l0 9.5l-2 4l-4 3l-4 1l-15.5 0l-10-2l-21.5-8l-14.5 0l-4 1l-6 3l-10.5 8l-8 10l-11 18.5l-12 36l-2 9l0 5.5l-1 1.5l-1 13.5l-5 14.5l-1 12.5l1 1.5l0 9.5l1 1.5l0 18.5l-5 19.5l1 10.5l2 5.5l1 9.5l1 1.5l0 6.5l1 1.5l0 7.5l1 1.5l-0.5 11.5l7.5 14l7.5 7.5l30.5 0l4.5-5.5l5-23l1-13.5l1-1.5l0-28.5l1-1.5l0-14.5l1-1.5l0-14.5l1-1.5l2-40.5l2-7l5-7.5l10-7.5l11.5-13l5.5-3l9-2l5.5 0l12-3l22.5-11l12.5-1l1.5 1l6.5 0l16 4l10.5 6l3.5 3.5l3 5.5l0 8.5l-2 5l-6 8l-6.5 6l-11.5 8l-6 9.5l-5 18l-2 11.5l-4 11l-24 44.5l-7 19.5l-8 17.5l-6 22l0 12.5l95.5 0l0-5.5l5-10.5l6-19l0-4.5l1-1.5l0-17.5l-3-10l3-8.5l2-12.5l4-8.5l1-9.5l1-1.5l0-6.5l3-8l3-3l5.5 0l4.5 2l5.5 0l13.5-8l10-20l9-6l8-8l6-8.5l3-11l-1-4l0-9.5l2-2l6.5 0l6.5 2l13.5 0l7-3l6.5-5l7-12l6-4.5l0-2.5l2-3.5l11-8.5l7-11.5l0-12.5l8-21.5l1-6.5l7-23.5l-1-11.5l-2-6l-8-14.5l-6.5-4l-5.5 0l-10.5 5l-8 7l-4.5 6l-3.5 2l-18 17l-20 28.5l-14 26l-4 13l0 21.5l-2 2l-5.5-2l-4-6l0-4.5l3-11.5l1-12.5l1-1.5l0-57.5l5-17.5l3-28.5l4-13l8-13.5l6.5-5.5l5.5-3l11-3l15.5 0l13.5 5l18 4l8.5-1l8.5-3l6.5 0l1.5 1l42.5-1l7.5 2l11.5 0l10.5-5l4-3.5l4-6l0-8.5l-2-4l-18-18l-7-12.5l-4-12.5l-5-10l-7-10.5zM1018.5 467l-6.5-4l-8-2l-6.5 1l-8.5 5l-7 8l-9 19.5l-5 23l-1 18.5l1 1.5l0 8.5l1 1.5l0 5.5l3 15.5l0 7.5l2 9l-7 35l-6 8.5l-12 23l-6 17l-2 19.5l2 10l3 7.5l-1 8.5l-5 10l-14 18.5l-10.5 9.5l-17.5 11l-8 8l-7 10.5l-11 25.5l-18 34.5l-8 7.5l-13.5 6l-10.5 7l-18 9l-12 4l-5.5 0l-1.5 1l-16.5 0l-7 2l-57.5 31l-4.5 0l-4.5-3l-4.5-5l-7.5-5l-8.5-9l-5.5-4l-5-2l-3.5 0l-6.5 3l-5 5l-5 9.5l-5 16l-6 26.5l-3 7.5l-36 28.5l-9 13.5l-12 8.5l-6 6l-9 14.5l-2 8l0 9.5l-1 4l1 1.5l0 7.5l3 11l2 3.5l0.5 6l31.5 0l7.5-7.5l9-18.5l22-38l19.5 0l6.5-6l9-15l8.5 0l6.5-6l9-15l7.5 0l6.5-6l9-15l31.5 0l6.5-6l9-15l31.5 0l6.5-6.5l0-13.5l1-1l13.5 0l9 15l6.5 6l27.5 0l0.5-6l13-8l19-15l25.5-14l11.5-8l36-35l9-12.5l5-10l24-65l7-31l1-14.5l1-1.5l0-9.5l1-1.5l0-9.5l2-10l3-7l23-38.5l3-13l-1-15.5l-4-15.5l0-3.5l-4-12.5l1-44.5l-2-9.5l-1-24.5l-4-12zM703.5 436.5l-5.5-4.5l-5-2l-12.5 0l-28 11l-14.5 8l-7 8.5l-5 12l0 11.5l6 11.5l5.5 4l12 5l10.5 1l6.5-3l9-12.5l5.5-5.5l15.5-9l9-9.5l3-6l1-6.5l-2-8zM1160.5 425.5l-8 3.5l-10.5 8l-8.5 3l-25.5 14l-3 4.5l-4 10l-3 13l0 9.5l-1 1.5l1 19.5l-1 1.5l0 5.5l-12 23.5l0 6.5l2 3.5l9.5 6l5 1l12.5 0l1.5-1l13.5-1l1.5-1l4.5 2l-5 13l-1 14.5l-5 20l-12 23.5l-4 13l0 6.5l-1 1.5l0 8.5l1 1.5l0 4.5l-1 1.5l0 14.5l1 1.5l0 6.5l1 1.5l0 5.5l1 1.5l0 5.5l5 20l6 10.5l8 7l8.5 5l6 2l14.5-1l11.5-6l13-12l9-14.5l8-21l2-10l0-5.5l1-1.5l0-33.5l3-8l5.5-7l10.5-7l7-2l5.5 1l14.5 6l12.5 0l6-2l11.5-7l4.5-5l3.5-2l23.5-26l7.5-5l6.5-6l-8.5-15.5l-6.5-6l-31.5 0l-4-5.5l-14.5 9.5l-22.5 20l-9.5 5l-4.5 0l-8-2l-10-4l-10.5-7l-5.5-6l-7.5-5l-11-3l-7.5 0l-3-1l-1-1.5l2-3.5l11.5-12.5l16.5-11l7-7l5-7.5l4-10l-0.5-11l-20.5 0l-20-37l0-20.5zM510 381l-10.5 0l-6.5 3l-5 5.5l-5 14l-1 12.5l-1 1.5l1 12.5l4 9.5l4 4l4.5 2l9.5-1l9.5-7l6-10.5l6-17l1-12.5l-2-6l-4-5.5l-4.5-3zM756.5 259.5l-3.5-4.5l-51.5 0l-7-13.5l-7.5-7.5l-8.5 0l-4-6.5l-2-1l-9.5 6.5l-7 7l-13 17.5l-6 5.5l-10 12.5l-7.5 7.5l-3 1l-4-3l-4-6l-10-22.5l-6-9.5l-9.5-7l-7.5-1l-8.5 4l-17 21.5l-7.5 7.5l-5.5 3l-10.5 0l-7-2l-1.5-2l-4-1.5l-10 17l-7 5.5l-11.5 12.5l2.5 3l0 4.5l5 11l37 52.5l3 3l8.5 5l10 3l9.5 0l6-3l7.5-6l16-19l9-13.5l7-14l8-22.5l4-3.5l4.5 1.5l11.5 8l10 4l9 2l16.5 0l1.5 1l4.5 0l13 5l2 1.5l3 5.5l2 10.5l5 7.5l8.5 5l5.5 1l3.5-3.5l-1.5-4.5l18.5-33l2-2l7.5 0l6.5-6l8-15l2-1.5l0-12.5z" fill="rgb(0,91,212)"/>
<path d="M1123 976l-4 3.5l-6 8l-2 5l-1 8.5l3 10l5 4.5l-1 5.5l5 0.5l1 1l0.5 6l14.5 0l1.5 5l12.5 0l5-1l11.5-6l4-5l7-6l5-11.5l0-6.5l2-5.5l0-8.5l-3-4.5l-10.5-4l-20.5-2l-1.5-1l-19.5 0zM1043.5 902l-6.5 4l-4 4l-7 10.5l-5 11l-1 5l1 14.5l3 7.5l0.5 6l11.5 0l2 2l22 40.5l2 1l2.5-1.5l6.5 0l8-3l7.5-5l10-10l4-6.5l2-6l0-9.5l-5-14l-28-38.5l-8-8l-4.5-3l-6-2zM1554.5 816.5l-2-1l-3.5 2.5l-10.5 0l-18.5 5l-14.5-1l-9-2l-9-4l-5-8l-6.5-4l-10-3l-7.5 0l-1.5-1l-10.5 0l-1.5 1l-9.5 1l-9 4l-11.5 8l-10 11l-6 11l-3 3l-10 15.5l-8 16.5l-6 9.5l-9 7.5l-8.5 2l-10.5 6l-3 5.5l-10 39.5l-5.5 9l-10.5 6l-13 5l-14.5 0l-15.5 4l-6.5 0l-29.5-17l-4.5 0l-1.5 1.5l0 6.5l3 7.5l1 10.5l1 1.5l0 15.5l1 1.5l0 4.5l2 7l4 7.5l1 8.5l3 6.5l4.5 4l2.5 0l14.5-12l4-2l7.5 0l13.5 7l2.5 4l4.5 4l14 6l7 2l18.5-2l16-8l8.5-8l10-14.5l11-20l3-2.5l1.5 0l2 1.5l6 12l6 6l2 4.5l0 9.5l1 1.5l0 9.5l1 1.5l0 6.5l2 9.5l0 7.5l-1 1.5l-2 18.5l-3 3.5l-1 3.5l-4.5 3l7 7.5l46.5 0l6.5-6l8-15l19.5 0l0.5-14l-1.5-4l1.5-3.5l0-4.5l-1-1.5l-1-21.5l-1-1.5l0-6.5l-2-9.5l0-9.5l-1-1.5l0-13.5l2-4l6-3l12-3l9.5-1l4.5-2l4-4l24-36l22-14l7-9.5l0-1.5l5.5-3l-1.5-3.5l0-20.5l-12-21.5l0-20.5zM701 704l-5.5-1l-7 3l-25.5 23l-2 3.5l-9 9.5l-15 21l-11 19.5l-5 14l-2 9l0 14.5l2 7l5 8.5l11.5 7l6 2l12.5 0l8.5-4l4-4l3-5l11-6.5l0-2.5l2-3.5l11-8.5l7-11.5l0-24.5l3-5.5l8-30l1-10.5l-4-14l-4-6.5zM1375.5 643.5l-3.5 1.5l-4-1l-11.5 0l-8 3l-7.5 5l-6 6l-6 9.5l-1 5.5l1 5l3 5.5l4.5 4l13 5l11.5 0l4-1l8.5-5l7-8.5l5-12l0-8.5l-3-1.5zM881.5 627l-2.5 3.5l0 4.5l3 12l6 14l7 8.5l7.5 4l6.5 0l5.5-3l6-7.5l2-5l0-9.5l-2-6l-3-4.5l-7.5-7l-10-4l-4.5 0l-1.5-1l-10.5 0zM750.5 561l-8.5-5l-7-2l-20.5 0l-30.5 8l-21.5 0l-1.5 1l-5.5 0l-12 3l-9 4l-4.5 3l-5 6.5l-7 17l-16.5 16.5l-19 9l-8.5 6l-5 8.5l-3 9.5l-6 8.5l-8 16l-11 5.5l-4 1l-12.5-1l-8-3l-5-5l-4-11l0-5.5l-1-1.5l0-7.5l8-16l13-17l5-8.5l0-6.5l-2-3.5l-4.5-4l-5-2l-4.5 0l-7 3l-5.5 4l-7 9.5l-9 29.5l-3.5 5l-8.5 5l-24.5 6l-10.5 6l-6 6l-4 5.5l-6 12l-1 4l0 12.5l6 12.5l8 10l10 9.5l9 12.5l4 9l4 15l0 10.5l-2 5l-2 2l-4 2l-5.5 0l-1.5 1l-19.5 0l-17-5l-8.5-4l-5-1l-11.5 1l-11.5 6l-9 8l-11 15.5l-6 12l-9 28l-3 14l-1 15.5l-6 17.5l0 19.5l1 1.5l1 15.5l-4 19.5l0 11.5l4 13.5l2 19.5l1 1.5l0 8.5l1 1.5l0 5.5l-4.5 3.5l6.5 12l6.5 6l29-0.5l0-5.5l2-3.5l2-8l4-25.5l1-1.5l2-55.5l2-7.5l1-14.5l2-8.5l1-17.5l6-16l10-7l9-11.5l7-4.5l28.5-5l23.5-12l25.5 1l1.5 1l9.5 1l17 9.5l5 8.5l1 4l-1 9.5l-6 9.5l-12.5 12.5l-8.5 5l-4 4.5l-5 13l-4 19.5l-5 13l-16 27.5l-9 21.5l-13 19.5l-7 19l-3 16.5l2 3.5l0.5 6l87-0.5l0-5.5l6-12.5l7-25l0-13.5l-1-2l5-14.5l3-16.5l5-12.5l2-17.5l3-5.5l2-1.5l5.5 0l4.5 2l5.5 0l12.5-7l9-15.5l5-13.5l10-9l4-5.5l3-7l0-8.5l-5-13l-6-7.5l-8.5-6l-5.5-5.5l-2-3.5l0-9.5l4-17.5l0-4.5l2-7.5l0-8.5l1-1.5l0-15.5l-1-1.5l-0.5-9.5l3.5-10.5l4-20l-1-11.5l2-6.5l2-15.5l4-13l8-13.5l5.5-5.5l9.5-5l12-3l14.5 0l10.5 4l18 4l6.5 0l13.5-4l3 1l7.5 0l1.5 1l32.5-1l1.5 1l7.5 0l7.5 2l6.5 0l10.5-5l6-7.5l0-6.5l-3-5.5l-6.5-5l-10.5-12l-5-9l-8-21.5l-8-12.5zM1315.5 557l-6.5-6l-33.5-0.5l-18.5 10.5l-21.5 20l-6.5 4l-5.5 0l-15-5l-14.5-8l-13-11l-6-2l-15.5 1l-10 3l-7.5 4l-7 8.5l-3 11l-1 10.5l-3 3l-5 8.5l0 8.5l-7 12.5l-2 6l-1 11.5l-1 1.5l0 23.5l-1 1.5l1 15.5l5 24l3 9l5 8.5l8 7l10.5 5l10.5 0l8-3l4.5-3l5.5-6l8.5-4l8-8l3-4.5l5-14l1-5l-1-5l1-47.5l5-13.5l4.5-4.5l18.5-11l6.5 0l12.5 6l7 2l11.5-1l11-5l9.5-7l13-13l6-8.5l7.5-7.5l3.5-2l3.5-4l5.5-2.5zM1015.5 470l-8.5-4l-4.5 0l-8.5 4l-9 10.5l-7 16l-6 29l0 22.5l4 18.5l0 8.5l-9 41.5l-1 13.5l-4 5.5l-9 18l-5 17l0 4.5l-1 1.5l0 15.5l4 9.5l1 7.5l-2 7l-10 17.5l-8 10l-11.5 11.5l-17.5 11l-9 8l-8 11.5l-28 57.5l-6.5 7l-5.5 4l-9.5 3l-15.5 9l-27 13l-7 2l-9.5 0l-10 2l-33 13l-17 9l-7.5 5l-7 7l-5-1l-9.5-12l-10.5-7l-9-9l-4-2l-3.5 0l-5.5 3l-4 4l-4 7.5l-4 12l-4 19.5l-10 16.5l-38 30.5l-13 22l-9 8l-5 7.5l-4 15l0 15.5l3 12l3 5.5l0.5 6l25.5 0l6.5-6l10-20l22-38l19.5 0l6.5-6l9-15l8.5 0l6.5-6l7-13l2-2l6-0.5l0-7.5l5-22l2-2l6 3l5 8l30.5 0l6.5-6l9-15l31.5 0l6.5-6.5l0-13.5l1-1l13.5 0l9 15l2.5 2l4-3l16.5-1l10-3l10-5l20.5-15l34-21l8.5-8l3.5-2l11.5-12l3.5-2l8-8l10-13l8-14.5l25-68l6-28l1-14.5l1-1.5l0-9.5l1-1.5l0-9.5l3-11l24-44.5l3-12l0-7.5l-4-13.5l0-13.5l-1-1.5l-2-21.5l-3-11.5l2-8l0-13.5l-1-1.5l0-10.5l-1-1.5l0-16.5l-2-8l-3-6zM699.5 440l-8.5-5l-10.5 0l-22 8l-17.5 9l-6 6l-5 10.5l0 10.5l5 9.5l6.5 6l12 4l5.5 0l4.5-2l9-12l11-7l3.5-4l7.5-4l7-7.5l2-5l0-9.5zM1163 432l-6.5 0l-3 1l-6.5 5l-7.5 0l-2 1l-5 6l-18.5 10l-7 8.5l-4 10l-2 9l0 21.5l4 16.5l0 12.5l-4 8.5l0 1.5l2.5 2.5l9.5 0l1.5-1l28.5 1l12-3l7.5-5l5.5-6l17.5-11l8-8l4-6.5l2-5l0-12.5l-16-0.5l-20-37zM498.5 392l-5.5 3l-5 7.5l-3 10l-1 12.5l2 8l5 6.5l3.5 2l8.5 0l7.5-5l6-10.5l2-7l0-13.5l-3-7l-3-3.5l-5.5-3zM580 240l-7.5 0l-3.5 2l-6 6l-10 15.5l-5.5 5.5l-8.5 5l-3 1l-8.5 0l-7.5-3l-5.5 0l-3.5-1.5l-7 12l-7 5.5l-6.5 7l2.5 3.5l1 10.5l4 8l15 21.5l16 20l8 8l8.5 5l6 2l12.5-1l10.5-6l7-7l14-20.5l7-18l1-11.5l1-1.5l0-17.5l-3-13l-5-15l-6-13l-4-5.5zM679.5 234l-13.5 9l-25 34.5l-3 8l0 5.5l3 6.5l3 3l7.5 4l20.5 3l25 11l3 4l0 10.5l3 8l4.5 4.5l5.5 2l4.5-2.5l18-32.5l4-2.5l0-5.5l7-7l5-8.5l2-7l0-6.5l-2-8l-3-5.5l0-6.5l-47-0.5l-7-13.5l-7.5-7.5z" fill="rgb(0,101,220)"/>
<path d="M1181.5 981l-6.5-4l-10-3l-13.5 1l-6.5 2l-2-1l-6.5 0l-7 2l-8.5 7l-5 9.5l0 10.5l1 2l2.5 1.5l-1 4.5l4 1.5l4.5 5l5 3l0.5 6l20.5-1l1.5-1l5.5 0l9-3l10.5-8l5-11.5l1-15.5zM1046.5 906l-7.5 4l-8 10.5l-5 13l0 12.5l4 12.5l0 5.5l6 0.5l2 2l20 36.5l2 1l4.5-2.5l9.5-1l8.5-5l9-9l3-4.5l3-8l0-7.5l-3-10l-4-7l-23-31.5l-10.5-10l-5-2zM672 892l-2-1l-8.5 1l-4.5 3l-5 9.5l-2 8.5l-5 10l-15 25.5l-36 28.5l-13 19.5l-6 14.5l-7 12.5l-2 10l0 13.5l3 11l4 6.5l0.5 6l19.5 0l7.5-7.5l9-18.5l22-38l19.5 0l6.5-6l7-13l2-2l8.5 0l6.5-6l7-13l3-2.5l0-7.5l3-12.5l0-17.5l-1-5l-5-10.5zM1558.5 824.5l-2-1l-2.5 1.5l-11.5-2l-1.5 1l-7.5 0l-11.5 3l-23.5-1l-10-7l-7-12l-5.5-3l-10-3l-19.5-1l-1.5 1l-9.5 1l-9 4l-11.5 8l-13 15.5l-5 11l-2 7.5l-20 37.5l-8 7.5l-18.5 0l-4.5 3l-3 5.5l-10 39.5l-5.5 9l-10.5 6l-9.5 3l-8 4l-3.5 3l-10.5 1l-14.5 7l-3.5 0l-14.5-6l-2.5 0l-4.5 2.5l-4 8l-1 11.5l3 9.5l0 4.5l-1 1.5l1 3l0 7.5l3 9l4 4.5l4 1l6.5-5l6-13l7-3l4.5 0l4 1l17 20l7.5 4l15 5l18.5-2l16-8l8.5-8l10-14.5l11-20l3-2.5l1.5 0l2 1.5l6 12l6 6l2 4.5l1 20.5l1 1.5l0 6.5l2 9.5l-2 23.5l-4 10.5l0 2.5l2 2.5l0 5.5l46 0.5l6.5-6l8-15l14-0.5l1-10.5l5-10.5l-2-27.5l-1-1.5l0-6.5l-2-9.5l0-9.5l-1-1.5l0-13.5l2-4l6-3l12-3l9.5-1l4.5-2l4-4l27-40.5l19-17.5l3-5.5l1-12.5l1-1l6-0.5l0-10.5l-12-21.5l0-20.5zM698 708l-12.5 2l-9.5 7l-13 12l-14 19.5l-10 21.5l-4 5.5l-6 12l-5 18l0 13.5l5 11.5l4 4l7.5 4l8 2l10.5-2l6.5-5l10.5-4l6.5-4.5l1-4.5l4.5-5l7.5-5l7-11.5l0-36.5l2-4.5l5-21l0-12.5l-5-11.5zM1378.5 649.5l-6 1.5l-5.5-3l-9.5-1l-11.5 5l-10 10l-3 4.5l-1 8.5l3 5.5l4.5 4l11 4l11.5-1l10.5-6l6-9.5l1-8.5l4-5.5zM892.5 633l-4.5 4.5l-1 4l0 5.5l2 8l7 10.5l5.5 3l6.5 0l6.5-5l3-5.5l0-10.5l-4-8.5l-7.5-6l-3-1l-7.5 0zM748.5 565l-11.5-6l-5-1l-16.5 0l-5.5 2l-7.5 0l-9.5 2l-13.5 0l-8.5 3l-5.5 0l-4.5 2l-9.5 1l-15 6l-6.5 6l-5 9.5l-23 22.5l-6.5 8l-18.5 11l-3 5.5l-5 4.5l-9 13.5l-8 16l-8 4.5l-7 2l-12.5-1l-9.5-4l-5.5-6l-3-8.5l-4-5.5l0-11.5l7-13.5l9-8.5l3-4.5l6-13l0-4.5l-3-4.5l-3.5-2l-6.5 0l-6.5 4l-7 7.5l-2 6l0 3.5l-7 21l-5.5 8l-9.5 5l-26.5 7l-6.5 4l-7 7l-6 10.5l-3 11l1 8.5l3 7l6 8.5l17 17.5l4 5.5l5 10l4 14l1 17.5l-3 7.5l-6 4.5l-12.5 0l-1.5 1l-9.5 0.5l-14.5-7.5l-15-3l-7 2l-9.5 0l-6 2l-12.5 9l-2 3.5l-3 2.5l-7 10.5l-5 10l-9 28l-3 14l-1 15.5l-6 17.5l0 16.5l2 9.5l0 14.5l-3 11.5l-1 9.5l5 18.5l0 4.5l2 7.5l0 6.5l2 9.5l0 13.5l1 1.5l0 4.5l2 3.5l-2.5 3.5l3 3.5l28-0.5l0-5.5l3-6.5l1-8.5l2-5.5l1-19.5l1-1.5l0-32.5l6-27.5l0-6.5l1-1.5l0-6.5l1-1.5l1-14.5l1-1.5l0-8.5l4-12l8-13.5l4-3.5l7.5-10l7.5-4l10-2l7.5 0l13-3l22.5-12l27.5 1l10.5 7l13.5 7l8 6.5l2 3.5l-1 10.5l-2 5l-6 7.5l-13.5 13.5l-7.5 4l-4 4.5l-3 29.5l-6 18l-24 38l-17 24.5l-9 23l-3 16.5l2 3.5l0.5 6l81-0.5l0-5.5l6-10.5l7-25l0-4.5l6-14.5l0-2.5l5-14.5l2-12.5l4-8.5l3-21.5l3-5.5l2-1.5l5.5 0l4.5 2l5.5 0l13.5-8l8-14.5l8-21.5l3-6l4-4.5l2-6l-1-7.5l-7-12.5l-5-5l-7.5-5l-3.5-3.5l-3-5.5l0-11.5l3-11.5l0-4.5l3-12.5l0-8.5l1-1.5l0-9.5l-1-4l7-20.5l5-24l-3-27.5l6-20l6-11.5l8.5-9.5l10.5-6l12-3l6.5 0l1.5-1l10.5 1l13.5 5l10 2l9.5 0l8.5-3l12.5 0l8.5 2l30.5-1l1.5 1l7.5 0l1.5 1l11.5 0l7.5-4l3-4.5l0-9.5l-1-2l-9-9.5l-11-8.5l-4-8.5l-2-8.5l-7-14l-5-7.5zM1315.5 557l-6.5-6l-30.5 0l-3.5 5l-8.5 3l-10.5 7l-6.5 7l-3.5 2l-13 14l-5 3l-29.5-12l-6.5-4l-8.5-8l-8.5-4l-10.5 0l-8 2l-13.5 7l-5 8.5l-3 11.5l-7 7l-5 8.5l0 17.5l-4 8.5l-1 10.5l-1 1.5l-1 39.5l6 27l3 8l5 7.5l6.5 5l6 3l5.5 1l1.5-1l9.5 0l4-1l5.5-4l12-5l8-8l3-4.5l5-14l1-8.5l-1-1.5l0-9.5l-1-3l1-1.5l0-9.5l1-1.5l0-22.5l5-16l4-7.5l20-12.5l4.5 0l8.5 6l12 5l7.5 0l12-4l11.5-8l13-13l7-10.5l4.5-4.5l14-10zM1012 473l-4-2l-5.5 0l-7.5 4l-9 13.5l-5 15l-4 20l0 7.5l-1 1.5l0 11.5l2 8.5l0 10.5l-11 53.5l-1 19.5l-1 5l-8 15.5l-5 19l0 16.5l5 12.5l0 5.5l-3 9l-7 13l-12 15.5l-10.5 10.5l-20.5 13l-8 8l-7 10.5l-23 46l-14.5 14.5l-3.5 2l-8.5 8l-32 16l-17.5 12l-16.5 0l-13 3l-25 9l-12 6l-9 6l-4.5 6.5l0 6.5l3 6l5 6.5l0.5 6l26.5 0l6.5-6l9-15l31.5 0l6.5-6.5l0-13.5l1-1l13.5 0l8 12.5l5.5-2.5l19.5-2l17-7l27.5-19l24-15l9-7l26-24l15-20.5l6-13l9-26.5l14-35.5l7-34l1-20.5l1-1.5l1-13.5l5-13l21-39.5l2-8l1-35.5l-1-1.5l-2-21.5l-6-25.5l-1-36.5l-1-5l-4-8zM695.5 443l-5.5-3l-10.5 0l-19 7l-17.5 9l-13 17.5l0 5.5l5 9.5l8.5 7l11.5 0l28.5-18l5-5l3-6.5l5-4.5l2-3.5l1-5.5zM1163 437l-6.5 0l-3.5 2l-2-1l-11.5 0l-3.5 2l-3 4.5l-1 5.5l-17 10l-4 5.5l-4 9l-2 8l0 19.5l3 10l10 17.5l6 6l7.5 4l10.5 1l12-3l13-11l16.5-10l6-6l5-9.5l0-12.5l-11-0.5l-20-37zM503 401l-3.5 0l-6.5 4l-4 7.5l-2 7l0 6.5l2 6l4 4.5l4.5 2l3.5 0l5.5-3l3-3l4-7.5l0-12.5l-1-3l-5-6.5zM571 243l-2.5 0l-5.5 5l-9 13.5l-5 11.5l-5 4l-10.5 3l-9.5-5l-9.5 1l-4.5-3.5l-6 10l-6.5 5.5l2.5 4.5l-2 6l0 6.5l8 15.5l23 30l12 12l4.5 3l6 2l10.5 0l3-1l8.5-5l4-4l11-15.5l6-12l4-16l0-24.5l-7-26l-6-12.5l-6.5-6l-5.5 0zM691 238.5l-4 3.5l-2.5 0l-11.5 7l-11 16.5l-5 10l-2 6l0 3.5l1 3l3 3.5l13 7l12.5 9l8 4l13.5 4l2 3l-3 11l1 6.5l3 4.5l8.5 3.5l13-22l-6-7l-1-5.5l4.5-5l7.5-5l9-10.5l2-5l0-12.5l-5-10.5l-0.5-6l-39.5 0l-7-13.5z" fill="rgb(0,110,228)"/>
<path d="M1180.5 980l-5.5-3l-10-3l-13.5 1l-15 4l-5.5 3l-6 7.5l-4 8l0 5.5l6 9.5l4 4l11 5l1.5 3l4 2l12.5 0l7-2l12.5-9l5-11.5l1-15.5zM1047.5 911l-7.5 5l-7 12.5l-1 4l0 13.5l2 8l2 3.5l0 6.5l20 34l5.5-2.5l2 1l7.5-1l8.5-5l7-7l5-9.5l0-8.5l-6-14l-21-31.5l-11.5-9zM787.5 900l-4.5-4l-6-2l-6.5 0l-10 2l-22.5 9l-9.5 2l-8 4l-5.5 5.5l0 4.5l4 8l7 8.5l0.5 6l18.5 0l6.5-6l9-15l27-0.5l0-5.5l2-4.5l0-7.5zM670 891l-2.5 0l-4 2l-5.5 5l-8 16l-20 34.5l-38 30.5l-15 25.5l-6 16l0 21.5l3 13l5 6.5l5 3l0.5 6l8.5 0l6.5-6l10-20l22-38l19.5 0l6.5-6l7-13l2-2l6-0.5l0-5.5l6.5-6.5l0.5-2.5l2.5-2.5l-0.5-1.5l4-8.5l3-15l-1-21.5l-2-10l-3-8l-6-6l-2-3.5zM1562.5 833.5l-6-0.5l-7.5-4l-5-1l-13.5 1l-13.5 3l-10.5 0l-16-11l-9-14l-5.5-3l-10-3l-19.5-1l-1.5 1l-9.5 1l-9 4l-11.5 8l-13 15.5l-5 11l-2 7.5l-21 41.5l-5 3.5l-20.5 0l-4.5 3l-3 5.5l-10 39.5l-5.5 9l-10.5 6l-9.5 3l-8 4l-9.5 7l-2.5 3l-6 3l-4 4l-6.5 4l-16-8l-3.5 1l-3.5 3l-2 4.5l0 7.5l1 2l-4 11.5l1 3l0 7.5l3 9l5.5 5.5l2.5 0l3.5-2l3-3l3-5.5l2-6l0-9.5l3-2l7.5-1l8 12l16.5 18l21 8l18.5-2l16-8l8.5-8l10-14.5l11-20l3-2.5l1.5 0l2 1.5l6 12l6 6l2 4.5l1 20.5l1 1.5l0 6.5l2 9.5l-2 23.5l-4 10.5l0 2.5l2 2.5l0 5.5l46 0.5l6.5-6l8-15l11-0.5l0-5.5l4-4.5l5-11l-2-27.5l-1-1.5l0-6.5l-2-9.5l0-9.5l-1-1.5l0-13.5l2-4l6-3l12-3l9.5-1l4.5-2l4-4l27-40.5l9-8.5l9-14.5l0-2.5l-1.5-2.5l0.5-6.5l3-8.5l1-6.5l5.5-4l-8.5-15.5zM695 710l-4-1l-5.5 1l-9.5 7l-13 12l-14 19.5l-8 16l-8 31.5l-2 4.5l-1 5l0 13.5l4 8.5l7.5 5l11.5 3l1.5-1l12.5-1l9-4l6.5-4.5l1-4.5l4.5-5l7.5-5l7-11.5l0-56.5l1-1.5l0-5.5l2-9l-3-10l-4-4.5zM1364 651l-8.5 0l-15 7l-4.5 4l-2 4l2 3.5l1 6.5l4 4.5l5.5 3l8.5 1l5-1l6-3l5.5-5l3-6.5l0-7.5l-3-5.5zM899.5 637l-4 2l-2.5 3.5l0 10.5l5 8.5l3.5 3l2.5 0l3.5-2l4-4.5l2-5l0-9.5l-4.5-5.5zM516 592l-6.5 1l-8.5 8.5l-6 24l0 3.5l4.5 4.5l8-4l11-11l8-14.5l-1-5l-4-4zM1177 569l-17.5 2l-10.5 5l-6 8.5l-15 15.5l-5 8.5l0 59.5l-3 9.5l0 4.5l3 15l6 21l4 7.5l5 5l8.5 6l12.5 0l4-1l5.5-4l12-5l8-8l3-4.5l3-7l3-12l-2-17.5l1-1.5l0-9.5l1-1.5l0-22.5l5-16l8.5-16l5.5-3l4-5.5l0-4.5l-3-4.5l-7.5-4l-17.5-6l-4.5-3l-7.5-9zM752.5 574l-12.5-8l-16-5l-8.5 0l-1.5-1l-11.5 0l-9.5 2l-13.5 0l-4.5 2l-9.5 1l-6 2l-16 8l-19.5 15l-22 22l-2 3.5l-14.5 15.5l-10 4l-6.5 6l-9 13.5l-8 16l-11 5.5l-4 1l-12.5-1l-8-3l-4-3l-3-4l-5-12l-5-5l-7.5-4l-5.5 0l-28 8l-12 6l-5.5 5l-7 16.5l0 8.5l3 8l11 16.5l10 12.5l5 8.5l4 11.5l6 10.5l0 17.5l-3 9l-2 3l-4 3l-14.5 0l-1.5 1l-4.5 0l-21.5-11l-7-2l-9.5-1l-10 3l-8 4l-11.5 9l-13 16l-6 9.5l-4 12l-3 16.5l-2 5.5l-2 29.5l-8 10.5l0 58.5l4 7.5l4 17l1 18.5l1 1.5l0 24.5l2 3.5l0.5 6l24-0.5l0-5.5l3-6.5l1-8.5l2-5.5l1-19.5l1-1.5l0-32.5l6-27.5l0-6.5l1-1.5l0-6.5l1-1.5l1-14.5l1-1.5l0-8.5l4-12l8-13.5l4-14l4.5-4.5l7.5-4l10-2l13.5 0l9-2l23.5-12l21.5 1l16.5 11l18 10l5.5 7l-1 10.5l-2 5l-6 7.5l-13.5 13.5l-7.5 4l-4 4.5l-3 29.5l-6 18l-24 38l-17 24.5l-9 23l-3 16.5l2 3.5l0.5 6l74-0.5l0-5.5l4-4.5l8-19.5l11-21.5l7-22l3-16.5l4-8.5l1-9.5l1-1.5l0-6.5l3-8l3-3l5.5 0l4.5 2l5.5 0l13.5-8l8-14.5l8-21.5l6-11.5l0-5.5l-6-12.5l-7-7l-9.5-6l-4.5-4.5l-4-9.5l1-10.5l5-22.5l0-5.5l14-44.5l5-24l-2-21.5l-1-1.5l0-7.5l1-1.5l1-16.5l2-7l6-10.5l6.5-6.5l12.5-7l16-4l15.5 0l10 3l3.5 3l8.5 0l10 2l10.5-4l10.5 0l15.5 4l17.5 2l1.5 1l6.5 0l1.5 1l17.5 0l8-4l5.5-5.5l0-7.5l-1-2l-9-9.5l-13-9.5l-3-6.5l-1-9.5l-3-6zM1315.5 557l-6.5-6l-23.5 0l-0.5 6l-1 1l-12.5 3l-8 4l-18.5 16l-2 3.5l-3 2.5l-5 8.5l0 5.5l6 7.5l4.5 3l7 2l10.5-1l11-5l17.5-15l11-16l9-6l7-6.5zM1007 475.5l-9 4.5l-4 5.5l-6 14l-4 17l-1 13.5l-4 18.5l-2 21.5l-10 46.5l-2 28.5l-8 37.5l1 9.5l4 8.5l1 5l-2 11.5l-8 16l-14 18.5l-10.5 10.5l-17.5 11l-11 10l-8 12.5l-8 17.5l-15 19.5l-17.5 17.5l-15.5 12l-7.5 8l-14 6l-10.5 8l-3 5.5l0.5 12l11.5 0l4 6.5l2 1l3.5-2l10.5-0.5l1.5-1l9.5-1l11-4l12-6l21.5-14l26-19l9.5-9l3.5-2l10.5-11l3.5-2l7-7l12-16l8-14.5l5-11l5-18.5l9-23.5l3-11l3-17.5l5-17.5l1-18.5l1-1.5l0-11.5l10-27l13-22.5l9-20l0-23.5l-1-1.5l-1-14.5l-1-1.5l0-5.5l-4-20l-6-21.5l-1-21.5l-2-5l-4-5.5zM691.5 447l-3.5-2l-8.5 1l-34 13l-6.5 4l-7 7l-2 3.5l0 5.5l5 9.5l8.5 7l11.5 0l28.5-18l6-6.5l5-13l0-4.5zM1163 439l-23.5-1l-3.5 2l-3 4.5l0 3.5l-2 3.5l-15 14.5l-9 16.5l0 6.5l3 7.5l0 4.5l3 9l11 16.5l5 5l5.5 3l11.5 0l7-3l4.5-3l5.5-6l7.5-5l13-6l7-11.5l-1-11.5l-6-0.5l-20-37zM502 409l-6 2l-5 7.5l0 9.5l2 3.5l4.5 3l3.5 0l4-2l4.5-6.5l0-8.5l-1-3l-3-3.5zM716.5 321l-4.5 4.5l-2 5.5l2.5 5.5l8 2.5l5-8l2-5.5l-4-1.5l-3.5-3zM695.5 246.5l-8 2.5l-4.5 3l-6 6.5l-6 13l-1 5l1 7.5l7 11.5l10.5 9l9 4l11.5 0l18-9l9.5-8l4-6.5l1-12.5l-2-6l-3-4.5l-0.5-7l-34.5 0l-4-7.5zM571 243l-2.5 0l-5.5 5l-9 13.5l-8 16.5l-5 2l-7.5 0l-9.5-5l-4.5 0l-3.5 2l-4 5l-8 15.5l0 7.5l1 3l10 15.5l18 23l8 8.5l5.5 4.5l5 2l10.5 0l7.5-4l8-7l5-7.5l5-11l5-17l0-26.5l-3-13l-5-14l-6-11z" fill="rgb(0,120,236)"/>
<path d="M1255 985l-3.5 0l-4.5 5l-3 5.5l-3 10l1 3l0 7.5l2 7l2 3.5l4.5 4l4.5-1l4.5-4l5-11.5l0-10.5l-2-8l-5-9zM1180.5 980l-5.5-3l-10-3l-13.5 1l-15 4l-5.5 3l-6 7.5l-4 8l0 5.5l6 9.5l4 4l11 5l1.5 3l4 2l12.5 0l7-2l12.5-9l5-11.5l1-15.5zM1047.5 911l-6.5 4l-2 2.5l-5 14l1 14.5l4 12.5l-2.5 6l18.5 32.5l2 1l4.5-2.5l7.5 0l3-1l9.5-7l10-13.5l0-6.5l-2-8l-4-8l-21-31.5l-11.5-9zM781.5 904l-6.5-4l-7.5 0l-11.5 4l-24.5 2l-12.5 6l-4 4.5l0 4.5l5 8.5l7 8l0.5 6l17.5 0l6.5-6l9-15l20-0.5l0-5.5l3-3.5l0-5.5zM670 891l-2.5 0l-4 2l-5.5 5l-8 16l-20 34.5l-38 30.5l-15 25.5l-6 16l0 21.5l4 15l5.5 5.5l6.5 2l0.5 6l5.5 0l6.5-6l10-20l22-38l19.5 0l6.5-6l7-13l2-2l6-0.5l0-5.5l6.5-6.5l6.5-17l2-14.5l1-1.5l-1-18.5l-2-10l-3-8l-6-6l-2-3.5zM1466 801l-19.5-1l-1.5 1l-9.5 1l-9 4l-14.5 11l-10 12.5l-5 11l-2 7.5l-21 41.5l-5 3.5l-20.5 0l-4.5 3l-3 5.5l-9 36.5l-5 10.5l-12 7.5l-9.5 3l-8 4l-9.5 7l-6 6.5l-8 18l0 4.5l9 14.5l15 17l15.5 7l7 2l4.5 0l1.5-1l8.5 0l7-2l14.5-8l7-7l7-10l14-24.5l3-2.5l3 1l6.5 12.5l6 6l2 4.5l1 20.5l1 1.5l0 6.5l2 9.5l-2 23.5l-4 10.5l0 2.5l2 2.5l0.5 6l45.5 0l6.5-6l8-15l11-0.5l0-5.5l4-4.5l5-11l-2-27.5l-1-1.5l0-6.5l-2-9.5l0-9.5l-1-1.5l0-13.5l2-4l6-3l12-3l9.5-1l4.5-2l4-4l27-40.5l9-8.5l9-14.5l0-2.5l-3-4.5l0-3.5l4-12.5l0.5-10l-1-1l4-3.5l-4.5-8.5l0-12.5l-6-0.5l-4.5-4l-9-3l-13.5 1l-15 4l-24-17l-9-14l-5.5-3zM695 710l-4-1l-5.5 1l-9.5 7l-13 12l-14 19.5l-8 16l-8 29l-3 15l0 9.5l5 10.5l6.5 4l11.5 3l1.5-1l12.5-1l9-4l6.5-4.5l1-4.5l4.5-5l7.5-5l7-11.5l0-56.5l1-1.5l0-5.5l2-9l-3-10l-4-4.5zM1334 665.5l3 6l12.5 8l7.5 0l5-2l5.5-5l2-4.5l0-5.5l-2-3.5l-5.5-4l-15.5 0l-7.5 4zM909 638l-2.5 0l-4.5 3l-5 11.5l0 7.5l4.5 4.5l2.5 0l3.5-2l6-9.5l0-9.5zM516 592l-6.5 1l-8.5 8.5l-6 24l0 3.5l4.5 4.5l8-4l11-11l8-14.5l-1-5l-4-4zM1177 569l-4.5 0l-17 5l-7.5 4l-5 6.5l-7 6.5l-2 3.5l-6 5.5l-5 8.5l0 62.5l-3 6.5l0 4.5l3 15l6 21l4 7.5l5 5l8.5 6l12.5 0l4-1l5.5-4l12-5l8-8l3-4.5l3-7l3-12l-1-14.5l-1-1.5l1-3l0-9.5l1-1.5l0-22.5l5-16l10-19.5l1-8.5l-2-3.5l-23.5-15l-5.5-7zM752.5 574l-12.5-8l-16-5l-8.5 0l-1.5-1l-11.5 0l-9.5 2l-13.5 0l-4.5 2l-9.5 1l-6 2l-16 8l-19.5 15l-22 22l-2 3.5l-14.5 15.5l-10 4l-6.5 6l-9 13.5l-8 16l-11 5.5l-4 1l-12.5-1l-8-3l-4-3l-3-4l-5-12l-5-5l-7.5-4l-5.5 0l-28 8l-12 6l-5.5 5l-7 16.5l0 8.5l2 6l12 18.5l13 17l6 15.5l12 20.5l0 3.5l-7 20l-3 3l-5 2l-4-1l-9.5 0l-28.5-15l-7-2l-9.5-1l-10 3l-8 4l-11.5 9l-13 16l-6 9.5l-4 12l-3 16.5l-2 5.5l-2 29.5l-8 10.5l0 58.5l4 6.5l4 17l1 19.5l1 1.5l0 24.5l2 3.5l0.5 6l24-0.5l0-5.5l3-6.5l1-8.5l2-5.5l1-19.5l1-1.5l0-32.5l6-27.5l0-6.5l1-1.5l0-6.5l1-1.5l1-14.5l1-1.5l0-8.5l4-12l8-13.5l3-13.5l3-4.5l6-4.5l9.5-1l1.5-1l8.5 0l9-2l27.5-16l18.5 0l23.5 16l18 10l5.5 7l0 6.5l-3 9l-6 7.5l-13.5 13.5l-7.5 4l-4 4.5l-3 29.5l-6 18l-24 38l-17 24.5l-9 23l-3 16.5l2 3.5l0.5 6l74-0.5l0-5.5l4-4.5l8-19.5l11-21.5l7-22l3-16.5l4-8.5l1-9.5l1-1.5l0-6.5l3-8l3-3l5.5 0l4.5 2l5.5 0l13.5-8l8-14.5l8-21.5l6-11.5l0-5.5l-6-12.5l-11-10l-16-8l0-7.5l1-1.5l0-4.5l5-26l7-26l9-26.5l5-24l-2-21.5l-1-1.5l0-7.5l1-1.5l1-16.5l2-7l8-13.5l11-8.5l7-3l19-4l18.5 2l6.5 5l11.5 0l4.5 2l2.5 0l7.5-6l9.5 0l14.5 5l15.5 2l1.5 1l5.5 0l1.5 1l6.5 0l1.5 1l17.5 0l8-4l5.5-5.5l0-7.5l-1-2l-9-9.5l-13-9.5l-3-6.5l-1-9.5l-3-6zM1315.5 557l-6.5-6l-14.5 0l-0.5 7l-3 3l-4 2l-5.5 0l-11 3l-11.5 8l-14 14l-4 6.5l0 6.5l2.5 3.5l7 4l9.5 0l8-3l10.5-7l12-11l7-13l11-7l3-3.5l1-3l3.5-2.5zM1007 475.5l-6 2.5l-8 11.5l-4 11l-9 41l-3 28.5l-10 46.5l-2 28.5l-5 21.5l-1 13.5l-1 1.5l0 9.5l3 3.5l4 2l0 12.5l-2 8l-8 16l-15 19.5l-12.5 12.5l-20.5 12l-6 6l-9 13.5l-8 16.5l-15 19.5l-17.5 17.5l-15.5 12l-16.5 17l-9.5 6l-2 3.5l1 12.5l4 0.5l3 3.5l4.5-3.5l4.5 0l1.5 1l18.5 0l10-3l12-5l21.5-14l37-29l23-21l15-20.5l10-21l5-18.5l10-26.5l5-25.5l5-17.5l1-18.5l1-1.5l0-11.5l12-32l11-17.5l9-20l0-23.5l-1-1.5l-1-14.5l-1-1.5l0-5.5l-4-20l-6-21.5l-1-21.5l-2-5l-4-5.5zM691.5 447l-3.5-2l-7.5 1l-35 13l-6.5 4l-7 7l-2 3.5l0 5.5l5 9.5l8.5 7l11.5 0l28.5-18l6-6.5l5-13l0-4.5zM1139.5 438l-5.5 4.5l-1 5.5l-2 3.5l-15 14.5l-9 16.5l0 6.5l2 6l6 10.5l13 13.5l8 10.5l6.5 2l8.5 0l3.5-2l7-8l22-10l7-11.5l0-4.5l-1-1.5l0-5.5l-6-0.5l-20-37l0-11.5l-11-0.5l-1.5-1zM498.5 417l-3.5 4.5l0 4.5l2 5.5l3.5 2.5l4-4l0-5.5l1-2l-2-4.5zM718 325.5l-5 5l-0.5 4l3 3l5 1.5l4.5-8zM730 255l-28.5 0l-2-3.5l-2-1l-8.5 5.5l-4 4l-5 9.5l-2 9l2 8.5l4 6.5l6 6l8.5 4l6.5 0l7-2l15.5-8l5-5l4-8.5l0-7.5l-6-11.5zM571 243l-2.5 0l-5.5 5l-9 13.5l-8 16.5l-5 2l-7.5 0l-9.5-5l-6.5 1l-6.5 7.5l-7 17l0 3.5l2 4l21 28.5l18 19l5.5 3l9.5 1l8-2l5.5-3l4-4l7-11.5l4-11l2-10l0-24.5l-1-1.5l-3-19.5l-5-16l-3-6z" fill="rgb(0,130,243)"/>
<path d="M1256 986l-4.5 0l-4.5 4l-3 5.5l-3 10l1 3l0 7.5l2 7l2 3.5l4.5 4l4.5-1l4.5-4l5-11.5l0-10.5l-2-8zM1180.5 980l-5.5-3l-10-3l-13.5 1l-15 4l-5.5 3l-6 7.5l-4 8l0 5.5l6 9.5l4 4l11 5l1.5 3l4 2l12.5 0l7-2l12.5-9l5-11.5l1-15.5zM1047.5 911l-6.5 4l-2 2.5l-5 14l1 14.5l4 12.5l-2.5 6l18.5 32.5l2 1l4.5-2.5l7.5 0l3-1l9.5-7l10-13.5l0-6.5l-2-8l-4-8l-21-31.5l-11.5-9zM780.5 913.5l-5-5.5l-7.5-3l-8.5 0l-1.5-1l-21.5 1l-8 2l-9.5 5l-4 4.5l0 4.5l5 8.5l7 8l0.5 6l17.5 0l6.5-6l9-15l18.5 0zM670 891l-2.5 0l-4 2l-5.5 5l-8 16l-20 34.5l-38 30.5l-15 25.5l-6 16l0 21.5l4 15l5.5 5.5l6.5 2l0.5 6l5.5 0l6.5-6l10-20l22-38l19.5 0l6.5-6l7-13l2-2l6-0.5l0-5.5l6.5-6.5l6.5-17l2-14.5l1-1.5l-1-18.5l-2-10l-3-8l-6-6l-2-3.5zM1466 801l-19.5-1l-1.5 1l-9.5 1l-9 4l-14.5 11l-10 12.5l-5 11l-2 7.5l-21 41.5l-5 3.5l-20.5 0l-4.5 3l-3 5.5l-9 36.5l-5 10.5l-12 7.5l-9.5 3l-8 4l-9.5 7l-6 6.5l-8 18l0 4.5l9 14.5l15 17l15.5 7l7 2l4.5 0l1.5-1l8.5 0l7-2l14.5-8l7-7l7-10l14-24.5l3-2.5l3 1l6.5 12.5l6 6l2 4.5l1 20.5l1 1.5l0 6.5l2 9.5l-2 23.5l-4 10.5l0 2.5l2 2.5l0.5 6l45.5 0l6.5-6l8-15l11-0.5l0-5.5l4-4.5l5-11l-2-27.5l-1-1.5l0-6.5l-2-9.5l0-9.5l-1-1.5l0-13.5l2-4l6-3l12-3l9.5-1l4.5-2l4-4l27-40.5l9-8.5l9-14.5l0-2.5l-3-4.5l0-3.5l4-12.5l0.5-10l-1-1l4-3.5l-4.5-8.5l0-4.5l-6-0.5l-8.5-6l-6-2l-12.5 1l-15-3l-24-17l-9-14l-5.5-3zM419 778l-13.5-2l-10 3l-9.5 5l-14 12l-9 12l-6 9.5l-4 12l-3 16.5l-2 5.5l-2 29.5l-8 10.5l0 58.5l4 6.5l4 17l1 19.5l1 1.5l0 24.5l2 3.5l0.5 6l24-0.5l0-5.5l3-6.5l1-8.5l2-5.5l1-19.5l1-1.5l0-32.5l6-27.5l0-6.5l1-1.5l0-6.5l1-1.5l1-14.5l1-1.5l0-8.5l4-12l8-13.5l3-13.5l3-4.5l6-4.5l9.5-1l1.5-1l14.5-1l11-5l6.5-6l6-11.5l-1-3l-6.5-3l-5.5-6l-4.5-3zM695 710l-4-1l-5.5 1l-9.5 7l-13 12l-14 19.5l-8 16l-8 29l-3 15l0 9.5l5 10.5l6.5 4l11.5 3l1.5-1l12.5-1l9-4l6.5-4.5l1-4.5l4.5-5l7.5-5l7-11.5l0-56.5l1-1.5l0-5.5l2-9l-3-10l-4-4.5zM1354 655l-7.5 0l-7.5 4l-5 6.5l3 6l4.5 3l7.5 1l11-5l2.5-5l-4-7.5zM909 638l-2.5 0l-4.5 3l-5 11.5l0 7.5l4.5 4.5l2.5 0l3.5-2l6-9.5l0-9.5zM516 592l-6.5 1l-8.5 8.5l-6 24l0 3.5l4.5 4.5l8-4l11-11l8-14.5l-1-5l-4-4zM1288.5 574.5l-3.5-3.5l-4-1l-15.5 2l-4 2l-3.5 3l-7 9.5l-4 8l-1 4.5l3 3.5l6.5 3l12.5-1l8.5-5l8-9.5l3-6zM1177 569l-4.5 0l-17 5l-7.5 4l-5 6.5l-7 6.5l-2 3.5l-6 5.5l-5 8.5l0 62.5l-3 6.5l0 4.5l3 15l6 21l4 7.5l5 5l8.5 6l12.5 0l4-1l5.5-4l12-5l8-8l3-4.5l3-7l3-12l-1-14.5l-1-1.5l1-3l0-9.5l1-1.5l0-22.5l5-16l10-19.5l1-8.5l-2-3.5l-23.5-15l-5.5-7zM742 567l-18-6l-21.5-1l-9.5 2l-13.5 0l-8.5 3l-5.5 0l-22 10l-19.5 15l-22 22l-2 3.5l-14.5 15.5l-11.5 5l-5 5l-9 13.5l-8 16l-11 5.5l-4 1l-12.5-1l-8-3l-4-3l-3-4l-5-12l-5-5l-7.5-4l-5.5 0l-28 8l-13.5 7l-5 5.5l-6 15l0 8.5l2 6l12 18.5l13 17l6 15.5l12 20.5l2 21.5l-4 8.5l-1 5.5l38.5 26.5l18 10l5.5 7l0 6.5l-4 10.5l-18.5 19.5l-7.5 4l-4 4.5l-3 29.5l-6 18l-24 38l-17 24.5l-6 14l-6 23l0 2.5l2 3.5l0.5 6l73.5 0l0.5-6l4-4.5l8-19.5l11-21.5l7-22l3-16.5l4-8.5l1-9.5l1-1.5l0-6.5l3-8l3-3l5.5 0l4.5 2l5.5 0l8-4l5.5-4l8-14.5l8-21.5l6-11.5l0-5.5l-5-11l-8-8.5l-5.5-4l-14.5-7l0-7.5l1-1.5l0-4.5l5-26l7-26l9-26.5l5-24l-2-21.5l-1-1.5l2-25.5l2-7l8-13.5l6.5-5.5l8.5-5l22-5l18.5 2l6.5 5l11.5 0l4.5 2l2.5 0l7.5-6l9.5 0l14.5 5l15.5 2l1.5 1l5.5 0l1.5 1l6.5 0l1.5 1l17.5 0l9.5-5l4-4.5l0-7.5l-2-3.5l-8-8l-14-11l-2-5l-1-9.5l-6-10.5l-7-7zM1304.5 551l-0.5 6l-1.5 3l1.5 2.5l3 1l4-4l-2.5-2.5l0-5.5zM1007 475.5l-6 2.5l-8 11.5l-4 11l-9 41l-3 28.5l-10 46.5l-2 28.5l-5 21.5l-1 13.5l-1 1.5l0 9.5l3 3.5l4 2l0 12.5l-2 8l-8 16l-15 19.5l-12.5 12.5l-20.5 12l-6 6l-9 13.5l-8 16.5l-15 19.5l-17.5 17.5l-15.5 12l-16 16l-5 10.5l0 11l3-1l8.5 4l18.5 0l22-8l21.5-14l37-29l23-21l15-20.5l10-21l5-18.5l10-26.5l5-25.5l5-17.5l1-18.5l1-1.5l0-11.5l12-32l11-17.5l9-20l0-23.5l-1-1.5l-1-14.5l-1-1.5l0-5.5l-4-20l-6-21.5l-1-21.5l-2-5l-4-5.5zM691.5 447l-3.5-2l-7.5 1l-35 13l-6.5 4l-7 7l-2 3.5l0 5.5l5 9.5l8.5 7l11.5 0l28.5-18l6-6.5l5-13l0-4.5zM1139.5 438l-5.5 4.5l-1 5.5l-2 3.5l-15 14.5l-9 16.5l0 6.5l2 6l6 10.5l15 15.5l6 8.5l6.5 2l8.5 0l3.5-2l7-8l22-10l7-11.5l0-4.5l-1-1.5l0-5.5l-6-0.5l-20-37l0-11.5l-11-0.5l-1.5-1zM499.5 423l-2.5 2l-1.5 4l1.5 2.5l3.5 2.5l4-4l0-2.5zM718 325.5l-5 5l-0.5 4l3 3l5 1.5l4.5-8zM720 255l-17.5 0l-3.5 5l-2.5 0l-4.5 3l-5 9.5l-1 4l1 7.5l7 14l4.5 4.5l5.5-1l11-9l8.5-4l6-7.5l1-4l-1-5.5l-3-5.5l-6-5zM571 243l-2.5 0l-5.5 5l-9 13.5l-8 16.5l-5 2l-7.5 0l-9.5-5l-6.5 1l-6.5 7.5l-7 17l0 3.5l2 4l21 28.5l18 19l5.5 3l9.5 1l8-2l5.5-3l4-4l7-11.5l4-11l2-10l0-24.5l-1-1.5l-3-19.5l-5-16l-3-6z" fill="rgb(0,139,251)"/>
<path d="M1256 986l-4.5 0l-4.5 4l-3 5.5l-3 10l1 3l0 7.5l2 7l2 3.5l4.5 4l4.5-1l4.5-4l5-11.5l0-10.5l-2-8zM1180.5 980l-5.5-3l-10-3l-13.5 1l-15 4l-5.5 3l-6 7.5l-4 8l0 5.5l6 9.5l4 4l11 5l1.5 3l4 2l12.5 0l7-2l12.5-9l5-11.5l1-15.5zM1047.5 911l-6.5 4l-2 2.5l-5 14l1 14.5l4 12.5l-2.5 6l18.5 32.5l2 1l4.5-2.5l7.5 0l3-1l9.5-7l10-13.5l0-6.5l-2-8l-4-8l-21-31.5l-11.5-9zM780.5 913.5l-5-5.5l-7.5-3l-8.5 0l-1.5-1l-21.5 1l-8 2l-9.5 5l-4 4.5l0 4.5l5 8.5l7 8l0.5 6l17.5 0l6.5-6l9-15l18.5 0zM670 891l-2.5 0l-4 2l-5.5 5l-8 16l-20 34.5l-38 30.5l-15 25.5l-6 16l0 21.5l4 15l5.5 5.5l6.5 2l0.5 6l5.5 0l6.5-6l10-20l22-38l19.5 0l6.5-6l7-13l2-2l6-0.5l0-5.5l6.5-6.5l6.5-17l2-14.5l1-1.5l-1-18.5l-2-10l-3-8l-6-6l-2-3.5zM1466 801l-19.5-1l-1.5 1l-9.5 1l-9 4l-14.5 11l-10 12.5l-5 11l-2 7.5l-21 41.5l-5 3.5l-20.5 0l-4.5 3l-3 5.5l-9 36.5l-5 10.5l-12 7.5l-9.5 3l-8 4l-9.5 7l-6 6.5l-8 18l0 4.5l9 14.5l15 17l15.5 7l7 2l4.5 0l1.5-1l8.5 0l7-2l14.5-8l7-7l7-10l14-24.5l3-2.5l3 1l6.5 12.5l6 6l2 4.5l1 20.5l1 1.5l0 6.5l2 9.5l-2 23.5l-4 10.5l0 2.5l2 2.5l0.5 6l45.5 0l6.5-6l8-15l11-0.5l0-5.5l4-4.5l5-11l-2-27.5l-1-1.5l0-6.5l-2-9.5l0-9.5l-1-1.5l0-13.5l2-4l6-3l12-3l9.5-1l4.5-2l4-4l27-40.5l9-8.5l9-14.5l0-2.5l-3-4.5l0-3.5l4-12.5l0.5-10l-1-1l4-3.5l-4.5-8.5l0-4.5l-6-0.5l-3.5-3l-7-3l-16.5-1l-15-3l-24-17l-9-14l-5.5-3zM419 778l-13.5-2l-10 3l-9.5 5l-14 12l-9 12l-6 9.5l-4 12l-3 16.5l-2 5.5l-2 29.5l-8 10.5l0 58.5l4 6.5l4 17l1 19.5l1 1.5l0 24.5l2 3.5l0.5 6l24-0.5l0-5.5l3-6.5l1-8.5l2-5.5l1-19.5l1-1.5l0-32.5l6-27.5l0-6.5l1-1.5l0-6.5l1-1.5l1-14.5l1-1.5l0-8.5l4-12l8-13.5l3-13.5l3-4.5l6-4.5l9.5-1l1.5-1l14.5-1l11-5l6.5-6l4-7.5l0-3.5l-2-3.5l-9-9zM695 710l-4-1l-5.5 1l-9.5 7l-13 12l-14 19.5l-8 16l-8 29l-3 15l0 9.5l5 10.5l6.5 4l11.5 3l1.5-1l12.5-1l9-4l6.5-4.5l1-4.5l4.5-5l7.5-5l7-11.5l0-56.5l1-1.5l0-5.5l2-9l-3-10l-4-4.5zM1354 655l-7.5 0l-7.5 4l-5 6.5l3 6l7.5 4l4.5 0l7.5-4l4-5.5l0-4.5l-2-3.5zM909 638l-2.5 0l-4.5 3l-5 11.5l0 7.5l4.5 4.5l2.5 0l3.5-2l6-9.5l0-9.5zM516 592l-6.5 1l-8.5 8.5l-6 24l0 3.5l4.5 4.5l8-4l11-11l8-14.5l-1-5l-4-4zM1287.5 579.5l-5-5.5l-6.5-3l-10.5 1l-5.5 3l-6 7l-7 12.5l-1 4.5l3 3.5l6.5 3l12.5-1l8.5-5l5-5l6-10.5zM1177 569l-4.5 0l-17 5l-7.5 4l-5 6.5l-7 6.5l-2 3.5l-6 5.5l-5 8.5l0 62.5l-3 6.5l0 4.5l3 15l6 21l4 7.5l5 5l8.5 6l12.5 0l4-1l5.5-4l12-5l8-8l3-4.5l3-7l3-12l-1-14.5l-1-1.5l1-3l0-9.5l1-1.5l0-22.5l5-16l10-19.5l1-8.5l-2-3.5l-23.5-15l-5.5-7zM742 567l-18-6l-21.5-1l-9.5 2l-13.5 0l-8.5 3l-5.5 0l-22 10l-19.5 15l-22 22l-2 3.5l-14.5 15.5l-11.5 5l-5 5l-9 13.5l-8 16l-11 5.5l-4 1l-12.5-1l-8-3l-4-3l-3-4l-5-12l-5-5l-7.5-4l-5.5 0l-28 8l-13.5 7l-5 5.5l-6 15l0 8.5l3 8l24 33.5l6 15.5l12 20.5l1 13.5l1 1.5l0 21.5l5 6.5l28.5 19l18 10l5.5 7l0 6.5l-4 10.5l-18.5 19.5l-7.5 4l-4 4.5l-3 29.5l-6 18l-24 38l-17 24.5l-6 14l-6 23l0 2.5l2 3.5l0.5 6l73.5 0l0.5-6l4-4.5l8-19.5l11-21.5l7-22l3-16.5l4-8.5l1-9.5l1-1.5l0-6.5l3-8l3-3l5.5 0l4.5 2l5.5 0l8-4l5.5-4l8-14.5l8-21.5l6-11.5l0-5.5l-5-11l-8-8.5l-5.5-4l-14.5-7l0-7.5l1-1.5l0-4.5l5-26l7-26l9-26.5l5-24l-2-21.5l-1-1.5l2-25.5l2-7l8-13.5l6.5-5.5l8.5-5l22-5l18.5 2l6.5 5l11.5 0l4.5 2l2.5 0l7.5-6l9.5 0l14.5 5l15.5 2l1.5 1l5.5 0l1.5 1l6.5 0l1.5 1l17.5 0l9.5-5l4-4.5l0-7.5l-2-3.5l-8-8l-14-11l-2-5l-1-9.5l-6-10.5l-7-7zM1304.5 551l-0.5 6l-1.5 3l1.5 2.5l3 1l4-4l-2.5-2.5l0-5.5zM1007 475.5l-6 2.5l-8 11.5l-4 11l-9 41l-3 28.5l-10 46.5l-2 28.5l-5 21.5l-1 13.5l-1 1.5l0 9.5l3 3.5l4 2l0 12.5l-2 8l-8 16l-15 19.5l-12.5 12.5l-20.5 12l-6 6l-9 13.5l-8 16.5l-15 19.5l-17.5 17.5l-15.5 12l-16 16l-5 10.5l0 11l3-1l8.5 4l18.5 0l22-8l21.5-14l37-29l23-21l15-20.5l10-21l5-18.5l10-26.5l5-25.5l5-17.5l1-18.5l1-1.5l0-11.5l12-32l11-17.5l9-20l0-23.5l-1-1.5l-1-14.5l-1-1.5l0-5.5l-4-20l-6-21.5l-1-21.5l-2-5l-4-5.5zM691.5 447l-3.5-2l-7.5 1l-35 13l-6.5 4l-7 7l-2 3.5l0 5.5l5 9.5l8.5 7l11.5 0l28.5-18l6-6.5l5-13l0-4.5zM1139.5 438l-5.5 4.5l-1 5.5l-2 3.5l-15 14.5l-9 16.5l0 6.5l2 6l6 10.5l15 15.5l6 8.5l6.5 2l8.5 0l3.5-2l7-8l22-10l7-11.5l0-4.5l-1-1.5l0-5.5l-6-0.5l-20-37l0-11.5l-11-0.5l-1.5-1zM499.5 423l-2.5 2l-1.5 4l1.5 2.5l3.5 2.5l4-4l0-2.5zM718 325.5l-5 5l-0.5 4l3 3l5 1.5l4.5-8zM718 255l-10.5 0l-0.5 6l-4.5 2l-4.5 4l-7 12.5l-1 8.5l4 10l4.5 4.5l5.5-1l4-4l6.5-4l6-6l5-9.5l0-7.5l-3-6.5l-4-3zM571 243l-2.5 0l-5.5 5l-9 13.5l-8 16.5l-5 2l-7.5 0l-9.5-5l-6.5 1l-6.5 7.5l-7 17l0 3.5l2 4l21 28.5l18 19l5.5 3l9.5 1l8-2l5.5-3l4-4l7-11.5l4-11l2-10l0-24.5l-1-1.5l-3-19.5l-5-16l-3-6z" fill="rgb(123,248,123)"/>
<path d="M1251.5 994l-2.5 2l-3 5.5l-1 9.5l3 9.5l2.5 2l4.5 0l3.5-3.5l2-5l0-11.5l-4-7.5zM1170 979l-4-1l-17.5 1l-10 3l-6.5 4l-6 9.5l0 8.5l4 6.5l15.5 10l8 3l13.5-3l7.5-5l4-5.5l3-9l0-11.5l-4-6.5zM1047.5 916l-5.5 4.5l-4 10l0 12.5l4 16l-1 2l-4.5 3.5l15.5 27.5l3.5 4l4-3.5l4.5 0l7-2l7.5-5l4-4l4-6.5l1-9.5l-6-14l-19-28.5l-9.5-7zM772.5 912l-4.5-3l-4-1l-12.5-1l-1.5 1l-15.5 1l-4 1l-7 4l-2.5 3.5l0 6.5l8 11.5l0 7.5l16 0.5l6.5-6l9-15l14-0.5l0-6.5zM670 897l-3.5 0l-5.5 3.5l-16 29.5l-12 19.5l-4.5 4.5l-29.5 21l-9 9l-11 19.5l-6 19l0 13.5l3 13l5 8.5l12 5l4 3.5l3.5-3l9-18.5l22-38l19.5 0l6.5-6l7-13l2-2l6-0.5l0-5.5l6.5-6.5l4.5-12l-1-8.5l2-8.5l0-20.5l-2-10l-4-9l-5-5.5zM1468 805l-11.5-1l-1.5-1l-7.5 0l-1.5 1l-10.5 1l-9 4l-11.5 8l-9 11.5l-4 8l-4 12.5l-15 30l-7 11.5l-8 5.5l-14.5 0l-6 3l-2.5 3.5l-9 33.5l-6 13.5l-8 6.5l-17.5 7l-14.5 9l-4 4l-9 15.5l-1 6.5l2 8l5 7.5l12 13l10.5 6l15 4l8.5 0l14-4l10.5-6l11-12l17-28.5l5-3.5l5 1l3.5 6l2 8.5l6 6l2 4.5l1 20.5l1 1.5l0 6.5l2 9.5l-2 23.5l-4 10.5l0 2.5l2 2.5l0.5 6l45.5 0l6.5-6l8-15l11-0.5l0-5.5l4-4.5l5-11l-2-27.5l-1-1.5l0-6.5l-2-9.5l0-9.5l-1-1.5l0-13.5l2-4l3-2l2-3l7-3l12.5-2l8.5-5l26-38.5l11-11.5l6-11.5l-1-11.5l3-9.5l1-14.5l5-3.5l-3-7l0-2.5l-8-0.5l-5.5-3l-7-2l-14.5-1l-16-4l-22.5-16l-10.5-14zM417 781l-5-1l-11.5 1l-11 5l-9.5 7l-6 6l-13 18.5l-5 14l-5 23l-2 25.5l-2 5l-4 5.5l-2 6l0 49.5l5 12.5l3 14l1 18.5l1 1.5l0 22.5l2 6.5l0.5 7l18-0.5l0-6.5l4-12.5l2-10l0-6.5l1-1.5l0-10.5l1-1.5l0-31.5l6-28.5l4-38.5l4-13l9-17.5l2-8.5l3-5.5l3.5-3.5l5.5-3l9-2l13.5-1l12-5l4.5-4l3-6.5l0-2.5l-2-4l-6-6.5l-11.5-7zM693 714l-5.5 0l-4 2l-10.5 8l-8 8l-12 16.5l-9 18l-8 29l-3 17.5l2 8l2 3.5l9.5 6l11.5 1l1.5-1l4.5 0l10-4l5.5-5l2-3.5l11-10l5-7l2-6l0-54.5l1-1.5l1-12.5l-4-9.5zM1351 660l-4.5 0l-3.5 2.5l-1 2l1 4l3.5 2l6-2l2-5zM515 597l-2.5 0l-5.5 3l-4 7.5l-2 11.5l2.5 4.5l2.5 0l6.5-4l7-9.5l1-8.5zM1280.5 578.5l-6.5-3.5l-4.5 0l-9.5 5l-7 10.5l-1 4.5l2 4.5l3.5 2l6.5 0l10.5-5l4-4l3-5.5l1-4.5zM1173 573.5l-6.5 0.5l-9 3l-8.5 5l-18 20l-3 4.5l-2 6l0 58.5l-2 6.5l0 7.5l2 10l8 25l7 8.5l6.5 4l4 1l10.5-2l13-6l10.5-9l5-8.5l3-11l-1-21.5l1-1.5l0-9.5l1-1.5l0-21.5l5-16l9-18.5l0-7.5l-3.5-4.5l-17-11l-5.5-6l-6.5-4zM745 573l-7-4l-12-4l-21.5-2l-9.5 2l-12.5 0l-5.5 2l-12.5 2l-12 5l-13.5 8l-11 9l-18 17l-10 12.5l-12.5 12.5l-12.5 7l-11 14.5l-9 17l-4 3.5l-9 4l-9.5 0l-16-6l-5-4l-4-7l-8-9l-7.5-4l-10.5 0l-22 6l-13.5 8l-7 9.5l-4 10l0 9.5l1 3l12 18.5l13 17l6 15.5l12 20.5l0 3.5l4 7.5l1 5l0 15.5l3 7l5 4.5l22.5 15l19 11l4.5 4.5l3 6.5l-1 10.5l-6 10.5l-26 25l-2 5l-2 23.5l-6 18l-10 17l-30 44.5l-4 8l-7 21l0.5 20l69-0.5l0-7.5l6-10.5l4-10.5l9-17.5l7-19l6-25.5l5-14.5l1-11.5l2-6l4-5l4-2l13.5 1l8.5-4l6-6.5l6-12l11-27l1-6.5l-3-8l-9-10.5l-18-10.5l-2-3.5l0-7.5l1-1.5l0-5.5l5-26l8-29l8-23.5l4-19l0-14.5l-2-9.5l0-11.5l1-1.5l1-15.5l5-13l5-7.5l11-9.5l9-4l19-4l15.5 1l16.5 6l10.5 0l10.5-4l9.5 0l20.5 6l17.5 2l1.5 1l6.5 0l1.5 1l11.5 0l8-3l4.5-5.5l0-5.5l-1-2l-8-8.5l-11-8.5l-3-5.5l-2-9.5l-3-7l-3-4.5zM1008 483l-4.5 0l-5.5 5.5l-4 8l-6 22l-5 25l-2 21.5l-10 48.5l-1 12.5l-1 1.5l-1 18.5l-6 29.5l0 11.5l6 10.5l0 12.5l-2 8l-9 18l-11 14.5l-18.5 18.5l-18.5 11l-6 6l-7 10.5l-10 19.5l-11 14.5l-25.5 25.5l-17.5 14l-8 9l-4 6.5l0 7.5l3 3.5l3.5 2l4 1l11.5 0l14-4l11-5l18.5-12l42-33l19-18l14-19.5l7-14l20-60l1-8.5l7-27.5l3-32.5l10-27l18-32.5l3-10l0-17.5l-1-1.5l-1-14.5l-1-1.5l0-5.5l-4-20l-6-22.5l-1-18.5l-2-6l-2-3zM688.5 452.5l-3.5-2.5l-4.5 0l-21 7l-14 6l-4.5 3l-6 7.5l0 7.5l2 4l4.5 4.5l8 3l5.5-1l6-3l16.5-11l7-6l5-10.5l0-6.5zM1163 441l-6.5 0l-1.5 1l-9.5-1l-6.5 3l-6 9.5l-14 14.5l-8 15.5l1 9.5l6 10.5l19 21l5.5 3l6.5 0l6.5-4l5-5l19-9l4-4.5l3-8l0-8.5l-4-1.5l-19-36zM716 265l-4.5-1l-6 2l-4.5 3.5l-4 6l-3 8l0 4.5l3 5.5l2.5 2l5.5 0l7.5-5l6-6.5l3-7l0-5.5l-2-3.5zM572 251l-4.5 0l-3.5 2l-6 8.5l-7 14.5l-3.5 4l-6.5 3l-7.5 0l-7.5-3l-7.5 1l-4.5 4.5l-5 11l0 8.5l2 4l17 23.5l18 19l8.5 4l10.5-1l9.5-6l8-13.5l4-14l0-4.5l1-1.5l0-19.5l-3-12.5l0-4.5l-6-20l-3-5z" fill="rgb(113,235,113)"/>
<path d="M1137 993l-3 6.5l2 5l4.5 4l12 6l7.5 0l7.5-4l3-3.5l3-7l0-7.5l-3.5-4.5l-5-2l-15.5 1l-4 1zM1050.5 926.5l-3.5 3l-1 4l0 8.5l4 13.5l0 7.5l-3.5 5l-5 2l-1 1.5l7.5 13.5l3.5 4l4-4.5l10.5-1l8.5-5l4-6.5l1-4.5l-5-12l-14-21.5l-5-6zM758 916l-17.5 0l-4 1l-4.5 3l-1 3l7 11.5l0.5 9l6.5 0l6.5-6l9-15.5zM670 909l-5 1l-16 29l-9 13.5l-39 27.5l-7 7l-6 9.5l-9 22l0 18.5l4 11l5.5 5.5l9.5 2l4.5 2.5l29-51.5l19.5 0l6.5-6l7-13l2-2l6-0.5l0-5.5l6.5-6.5l1.5-7.5l-5-13.5l0-6.5l1-1.5l0-19.5l-2-9zM1456 810l-16.5 0l-7 2l-12.5 8l-6 6l-4 6.5l-5 20.5l-7 14l-21 31.5l-4 3.5l-5 2l-10.5 0l-4 2l-2.5 3.5l-7 27.5l-3 9l-5 8.5l-7 6.5l-20.5 7l-15.5 9l-4 4l-7 11.5l0 9.5l2 5l3 4.5l11 11l11.5 6l8 2l12.5 0l7-2l8-4l11.5-10l8-12.5l7-15.5l8.5-10l3.5-2l7.5 0l3.5 2l5.5 12l1 7.5l4 12.5l1 20.5l1 1.5l0 6.5l2 9.5l0 7.5l-2 9.5l0 17.5l1 1.5l0.5 9l42.5 0l6.5-6l8-15l11-0.5l0-8.5l4-9.5l0-4.5l1-1.5l0-22.5l1-1.5l0-8.5l-1-1.5l-1-17.5l-1-1.5l0-22.5l1-3l4-5l19.5-5l6.5-5l27-39.5l7-6.5l4-7.5l0-11.5l3-10.5l0-15.5l-3.5-5.5l-7-3l-13.5-1l-15-3l-8-4l-20.5-15l-11-14l-5-3zM411 788l-9.5 1l-12.5 7l-8 7l-12 16.5l-5 13l-4 17l-1 12.5l-1 1.5l-1 18.5l-8 16.5l0 45.5l7 21.5l1 11.5l1 1.5l0 9.5l1 1.5l1 21.5l2 3l2-0.5l1.5-2.5l4-15l1-17.5l1-1.5l0-30.5l6-28.5l4-38.5l5-16l7-12.5l3-11.5l4-7.5l8-7.5l10-4l14.5-1l8-2l5.5-3l2-3.5l-2-5l-7.5-6l-18-9zM689 724l-8 4l-9 8l-12 16.5l-7 13l-6 19l-5 22l0 9.5l2 3.5l4.5 3l9.5 1l10-3l4.5-3.5l6.5-8.5l8.5-7l4-8.5l0-52.5l1-1.5l0-11.5l-1-2zM1172 582l-10.5 2l-8 5l-15.5 17l-4 8.5l0 57.5l-2 6.5l0 5.5l4 18l4 12l4 6.5l6.5 4l7.5 0l13-6l7.5-6l4-6.5l3-10l-1-20.5l1-1.5l0-10.5l1-1.5l0-20.5l4-15l9-19.5l0-3.5l-3-4.5l-9.5-6l-10.5-9zM738 578l-13-5l-19.5-2l-1.5 1l-7.5 0l-1.5 1l-11.5 0l-10.5 3l-3.5 0l-17 7l-9.5 6l-11 9l-22 22l-8 10.5l-7.5 7.5l-15 9l-8.5 11.5l-10 18l-8 6.5l-7 3l-7.5 1l-15-6l-14.5-10l-11.5-12l-7.5-4l-10.5 0l-16 4l-12.5 7l-7 8.5l-4 9l0 9.5l1 1.5l1 9.5l19 26.5l7 17.5l14 17l6 9.5l4 11l0 9.5l2 5l2 2.5l25.5 17l6.5 3l13.5 9l4.5 6l3 8l-1 12.5l-4 9l-8 10.5l-11.5 11.5l-7 5l-2.5 3.5l-2 10l-1 14.5l-5 16l-4 9l-17 22l-16 24.5l-9 16l-5 14l-1 9.5l-1 1.5l1.5 15l52-0.5l0-6.5l10-18.5l16-36l4-14l3-16.5l5-14.5l1-11.5l3-9l3-4.5l7-5.5l4-1l8.5 0l3 1l4-1l4.5-3l6-9.5l8-21.5l3-5.5l1-8.5l-4-7.5l-7.5-6l-15-8l-3.5-5l-1-4l0-9.5l1-1.5l0-5.5l2-6.5l2-14.5l9-34l8-23.5l4-19l0-12.5l-1-1.5l0-7.5l-1-1.5l1-20.5l1-1.5l1-11.5l2-6l6-11l6.5-8l11.5-8l10-4l19-4l17.5 1l17.5 6l5.5 0l12.5-4l10.5 0l16.5 5l15.5 2l1.5 1l14.5 1l1.5 1l8.5-1l2.5-2.5l-1-3.5l-16-15.5l-3-6l-2-10.5l-2-4l-7-8.5zM1005 500l-1.5 0l-2.5 3.5l-3 9l-7 32l-3 27.5l-10 47.5l-2 27.5l-6 29.5l0 6.5l6 12.5l1 12.5l-1 1.5l-1 9.5l-8 16l-9 13.5l-21.5 23.5l-23.5 15l-3 3l-10 15.5l-6 12.5l-12 16.5l-21.5 22.5l-16.5 13l-11 11l-3 5.5l0 1.5l2.5 2.5l7.5 1l1.5-1l4.5 0l11-4l24.5-15l20-15l23-19l15-14l13-17.5l9-18l17-52l3-19.5l6-20.5l3-31.5l11-30l14-23.5l6-16l0-15.5l-1-1.5l-2-21.5l-4-20l-6-21.5l-1-10.5zM677.5 463.5l-1.5-1.5l-4.5 0l-15 5l-9.5 5l-3 4.5l0 2.5l1.5 2.5l4 2l5.5-1l16.5-11l5-5zM1163 449.5l-15.5 0.5l-3.5 2l-7 9.5l-11 10.5l-5 7.5l-2 6l1 5.5l5 8.5l16 17l3.5 2l4.5-1l7.5-6l17-8l4-5.5l1-5.5l4.5-4zM570 265l-2.5 0l-3.5 3l-6 12l-6 7l-10 4l-9.5 0l-7-2l-5.5 3l-3 6.5l0 3.5l3 6l15 20.5l15 16l6.5 3l6.5-1l7.5-6l5-9.5l4-16l0-18.5l-1-1.5l-1-10.5l-3-12l-2-5z" fill="rgb(103,221,103)"/>
<path d="M1144 997.5l1 5l8.5 5l5.5 0l3.5-2l3-3.5l0-6.5l-3.5-2.5l-8.5 0l-4 1zM1057 946.5l-1 1l1 16.5l-4 11l1.5 1.5l9.5 0l6.5-4.5l1-2l0-5.5l-3-6l-8-10.5zM667 926l-4 2l-7 12l-9 12l-39 26l-12 11l-5 7.5l-9 22l0 17.5l3 8l5.5 5.5l6 2l3.5 0l4.5 2.5l27-47.5l19.5 0l6.5-6l7-13l2-2l6-0.5l0-5.5l6.5-7l-2.5-10l-7-12.5l0-19.5zM754 923l-7.5 0l-3.5 2.5l0 3.5l2 6l4 4l2.5-1.5l6-10.5zM1456 814l-5.5 0l-1.5-1l-12.5 1l-7 3l-12.5 10l-3 4.5l-2 6l-1 16.5l-3 8l-9 12.5l-8 8.5l-14 21.5l-7 5.5l-8.5 1l-3.5 2l-4 9.5l-6 23.5l-8 14.5l-9 5.5l-20.5 5l-12 6l-5.5 4l-4 5l-5 10.5l1 6.5l8 11.5l8 7l11.5 5l15.5 1l7-2l10-5l8.5-8l7-11.5l3-12.5l4-8l5.5-7l5.5-4l5-2l7.5 0l3.5 2l3.5 4l3 7l6 30l0 11.5l1 1.5l1 22.5l1 1.5l0.5 44l40.5 0l6.5-6l8-15l8-0.5l0-7.5l4-9.5l1-12.5l1-1.5l0-36.5l-1-1.5l0-17.5l-1-1.5l0-7.5l-1-1.5l1-9.5l3-5.5l6-3.5l13.5-3l7.5-6l21-31.5l9-9.5l4-6.5l1-5l0-9.5l3-10.5l0-5.5l-3.5-6.5l-6-2l-18.5-2l-10-3l-6-3l-17.5-13l-6.5-6.5l-9-12.5l-5.5-3zM416 796l-11.5-1l-12.5 7l-9 9l-10 15.5l-7 27l-3 32.5l-7 13.5l0 43.5l5.5 9.5l2-1.5l7-31l2-21.5l1-1.5l0-7.5l1-1.5l0-7.5l2-9l5-13l7-12.5l0-2.5l5-13l6.5-8l9.5-6l11-3l9.5-1l5.5-2.5l-1.5-4zM960 760l-1.5 0l-7.5 6l-11.5 12l-23.5 15.5l-6 8l-9 17.5l-9 13.5l-9 11l-24.5 24.5l-8.5 7l-2 3.5l1.5 2l11.5-4l17.5-11l25-19l30-26l15-20.5l8-17l5-20zM682 739l-6 3l-12 16.5l-6 12l-9 34l0 7.5l1 2l3.5 2.5l5.5 0l8.5-4l4-5.5l5.5-5.5l3.5-2l4-6.5l0-7.5l1-1.5l0-21.5l-1-1.5l0-18.5zM591 650l-4.5 1l-4.5 3.5l-17 27.5l-6 5l-10 5l-8.5 0l-17-8l-17.5-12l-8.5-9l-9.5-5l-7.5 0l-1.5 1l-9.5 1l-10 4l-9.5 7l-7 11.5l0 13.5l4 14l7 11.5l7 9l6 12l19 23.5l10 15.5l3 9l0 3.5l2 3.5l18.5 13l25 15l8.5 10l3 11l-2 14.5l-4 9l-7 9.5l-19 18l-3 5l-4 26.5l-8 20l-12 12l-11 14l-16 25.5l-6 12l-5 16l2.5 21l41-0.5l0-6.5l20-39.5l8-21l2-10l1-13.5l6-18.5l0-5.5l2-10l4-8l5-6l6-4l3-1l13.5 0l5.5-2l6-9.5l10-26l0-3.5l-3.5-5.5l-7-5l-10.5-5l-6-5.5l-3-5.5l-1-5l1-13.5l1-1.5l4-25.5l7-27l9-26.5l4-18l-1-42.5l1-1.5l1-14.5l2-5.5l0-5.5zM1172 590l-7.5 0l-5.5 3l-15 16l-3 5.5l0 7.5l-1 1.5l0 52.5l-1 1.5l0 8.5l7 25l2 3.5l4.5 3l4.5 0l15.5-8l5-8.5l1-4l0-28.5l1-1.5l0-13.5l1-1.5l0-14.5l11-31l-5-6.5zM757.5 623l-7-14l-2-10.5l-5-8.5l-12.5-8l-9-3l-5.5 0l-1.5-1l-24.5 1l-25 5l-12 6l-12.5 9l-10 9l-6 8.5l0.5 3l4.5 0l18.5-4l18.5 0l10 2l10.5 4l5.5 0l8.5-3l18.5 0l15.5 5l11.5 1l1.5 1l5.5 0zM1004 532l-3 2.5l-3 10l-4 31.5l-9 41.5l-1 24.5l-1 1.5l0.5 11l3-2.5l13-28.5l9-13.5l6-14l0-20.5l-2-8.5l0-6.5l-4-19l-2-6zM1164.5 453.5l-4.5 2.5l-8.5 1l-4 2l-16.5 17l-4 7.5l0 6.5l4 6.5l9 10l5.5 3l22.5-11l2.5-3.5l1-5.5l2-4l5.5-5zM568 283l-4 1l-5 6l-10 6l-11.5 1l-1.5 1l-8.5 0l-1.5 1.5l0 4.5l8 12.5l14 17l7.5 6l5.5 0l3.5-2.5l5-9l3-11l0-22.5l-3-10z" fill="rgb(94,208,94)"/>
<path d="M663.5 951l-4-2l-6 3l-37.5 23l-12 9l-7 7l-9 16.5l-4 13l1 16.5l2 5l3 3.5l3.5 2l9.5 1l3.5 1.5l25-43.5l19.5 0l6.5-6l7-13l2-2l6-0.5l0-5.5l4-9.5l-1-4.5l-4-6.5zM581 860l-12-6l-5.5 0l-2.5 4.5l-3 10.5l-5 8.5l-24 25l-3 8l0 9.5l-2 9l-8 21l-3.5 4l-11 7l-11.5 13l-18 28.5l-6 13l-3 9l0 10.5l3 6.5l0.5 8l32-0.5l1-8.5l10-17.5l17-39l2-10l-1-5l0-14.5l5-14.5l1-11.5l2-7l7-12.5l9-7.5l10-3l9.5 0l4.5-2.5l4-7l7-18l0-5.5l-2-3zM1450 816l-11.5 0l-9 4l-9.5 7l-5 9.5l1 21.5l-3 7l-9.5 10l-7.5 6l-13 18.5l-7 14l-3 2.5l-5.5 1l-4.5 2.5l-3 6l-7 25.5l-8 13.5l-7 4.5l-21.5 3l-18 8l-7.5 7l-4 7.5l0 7.5l2 4l10 11.5l8.5 5l7 2l5.5 0l1.5 1l8.5-1l13-6l8.5-8l7-13.5l2-17.5l5-7.5l4.5-4.5l10.5-6l7.5-1l6.5 3l4.5 5l4 9l2 15.5l4 17.5l0 11.5l1 1.5l1 21.5l1 1.5l0.5 45l38.5 0l6.5-6l8-15l6-0.5l0-7.5l5-12.5l0-7.5l1-1.5l0-38.5l-1-1.5l0-17.5l-1-1.5l0-8.5l-1-1.5l0-11.5l3-6l6-5l10.5-3l7.5-4l24-35.5l6-5.5l3-4.5l1-3l0-8.5l3-11.5l0-2.5l-2-4l-2.5-1.5l-19.5-3l-14-5l-16.5-12l-5.5-5.5l-11-17.5l-8.5-5zM413 804l-2-1l-6.5 0l-5.5 3l-7 6l-9 12.5l-4 8l-2 7l0.5 7l3-2.5l4-13.5l6-9.5l11-8.5l10.5-5l1.5-1.5zM944 785l-14.5 7l-6.5 4l-4 4l-5 7.5l-12 24l-0.5 4l5.5-2l8.5-6l16-15l12-17.5l2-6l0-2.5zM676 758l-1.5 0l-4.5 4l-6 11.5l-7 26l0 5.5l2.5 2.5l7-4l9-9l3-6.5l0-22.5zM460.5 666l-11.5 10l-4 7.5l0 13.5l1 5l5 11l22 34.5l29 35.5l5 10.5l21.5 15l11.5 6l9.5 7l5.5 2l3.5-5.5l8-40.5l13-41.5l3-13l1-15.5l-2-9.5l0-17.5l-1-4l-2.5 0.5l-5 6.5l-11 9.5l-11 5l-6.5 0l-7-3l-18-11l-16.5-12l-4.5-5l-9.5-6l-12.5 0l-9 2zM1166.5 597l-5.5 3l-10 11l-4 7.5l0 55.5l-1 1.5l0 12.5l5 17l4.5 4.5l5.5-1l5.5-3l5-7.5l1-4l-1-20.5l1-1.5l0-9.5l1-1.5l0-21.5l2-9l7-18.5l0-4.5l-2-3.5l-8.5-6zM647 605.5l1.5 2l3 1l19.5 1l16.5 5l5.5 0l10.5-3l14.5 0l17.5 5l6.5 0l2.5-3.5l-2-11.5l-3-5.5l-5.5-5l-8-4l-7-2l-33.5 1l-14 3l-10 4l-9.5 6zM1004 571l-2 2.5l-6 24l-1 12.5l1.5 1.5l6-5.5l4-8l2-8l-1-10.5l-2-7zM1167.5 459.5l-6.5 3.5l-4.5 0l-6.5 3l-12 12l-3 4.5l-1 5.5l3 5.5l6.5 6l5.5 1l13.5-7l7-14.5l6.5-3.5zM563 298l-2.5 0l-6.5 3l-11.5 3l-4.5 3.5l2 5.5l7 9.5l6 6l3.5 2l2.5 0l2.5-2l4-10.5l1-14.5l-1-3z" fill="rgb(84,194,84)"/>
<path d="M519 959l-7.5 0l-9.5 5l-12 14l-14 22.5l-10 23l0 10.5l5 9.5l0.5 6l24-0.5l0-7.5l7-11.5l12-24l10-25l0-12.5l-3-7zM670.5 961l-8.5-5l-7.5 0l-33 18l-15.5 11l-8 8l-6 10.5l-6 17l1 15.5l4 6.5l6.5 3l5.5 0l4.5 2.5l24-41.5l19.5 0l6.5-6l7-13l2-2l4-0.5l0-6.5l4-8.5l-1-4.5zM576.5 866l-3.5-2l-4.5 0l-1.5 1l-4 9l-9 13.5l0.5 4l13.5 0l3.5-2.5l7-16l0-4.5zM1446 818l-5.5 0l-7 2l-10.5 7l-3 3.5l-3 7l0 6.5l4 14.5l0 4.5l-4.5 6l-15.5 11l-6 6l-11 16.5l-4 13.5l-2 3.5l-4 3.5l-5 2l-2 2.5l-8 26.5l-7 13.5l-4 3.5l-5 2l-17.5 0l-1.5 1l-5.5 0l-9 3l-11.5 6l-5 5l-4 6.5l0 7.5l2 4l6 7.5l6.5 5l11 4l14.5 0l15.5-8l7-8.5l4-9l-1-20.5l5-8.5l8.5-7.5l9.5-5l12.5-1l3.5 2l7.5 9l4 10l2 19.5l3 11.5l2 30.5l1 1.5l0 10.5l1 1.5l-1 28.5l1 1.5l0.5 11l36.5 0l6.5-6l7-14l5-1.5l0-6.5l5-12.5l0-4.5l1-1.5l0-23.5l1-1.5l-2-39.5l-1-1.5l0-8.5l-1-1.5l-1-10.5l4-7.5l4.5-4.5l7.5-5l7.5-3l3.5-3l19-28.5l10-12l3-15l0-4.5l-3.5-3.5l-19.5-4l-14.5-7l-14.5-11.5l-9-18l-7-8.5l-6.5-3zM461.5 668l-4.5 3l-8 8.5l-3 8l0 4.5l1 1.5l1 9.5l5 10l16 26l24 30.5l9 9l3.5 2l10.5 12l20.5 13l10 5l4.5 0l3.5-6.5l5-25.5l15-48.5l2-10l0-15.5l-2-6l-2.5-2.5l-1.5 0l-16.5 8l-7.5 0l-31.5-21l-18.5-15l-8.5-5l-16.5 1zM1170 606l-4.5 0l-7.5 7l-4 6.5l0 51.5l-1 1.5l0 16.5l3 8l2.5 2.5l4-1l3-5.5l0-27.5l1-1.5l1-28.5l7-21.5l-1-5.5zM734.5 605l-1-4.5l-4.5-4.5l-6-3l-10-2l-28.5 2l-13 4l-2.5 2.5l3.5 3l16 5l4.5 0l5.5-2l8.5 0l1.5-1l13.5 1l10 2zM1162 471l-5.5 0l-2 1l-11.5 11.5l0 4.5l2.5 3.5l4.5 1l7.5-5l6-13.5zM553.5 309l-2.5 2.5l0 3.5l2.5 2.5l2.5 0l2.5-3.5l0-2.5l-2.5-2.5z" fill="rgb(74,181,74)"/>
<path d="M1299 985l-5 5l-4 8.5l1 3.5l3 5.5l7 7l6.5 4l6 2l14.5 0l11-5l6.5-5l7-11.5l0-9.5l-4-8.5l-3.5-3l-3-1l-4.5 0l-1.5-1l-15.5 0l-10 3zM515 963l-5.5 0l-4 2l-9.5 9l-10 14.5l-11 19l-6 15l-1 7.5l3 7l5 6.5l0.5 6l15-0.5l0-6.5l8-12.5l14-28l9-25l-1-6.5l-2-4zM670.5 964.5l-4.5-3.5l-6-2l-3.5 0l-6 2l-30 16l-17.5 13l-5 6.5l-7 14l-3 10l1 13.5l3 6l4.5 2.5l8.5 0l4 3l22.5-39l19.5 0l6.5-6l7-13l4-2.5l0-6.5l4-8.5zM1450 821l-12.5 0l-3 1l-10.5 7l-4 6.5l0 9.5l6 14.5l1 5.5l-3 4l-24 15l-6 7l-8 12.5l-2 6l-2 14.5l-2.5 4l-6.5 4l-2 3.5l-2 8l0 3.5l2.5 2.5l17.5-2l5.5 3l6.5 9l5 11l1 10.5l1 1.5l0 8.5l4 19.5l0 9.5l1 1.5l0 9.5l1 1.5l0 9.5l1 1.5l0 37.5l1 1.5l0.5 9l34.5 0l6.5-6l7-14l4-1.5l0-8.5l4-9.5l1-12.5l1-1.5l-1-52.5l-1-1.5l-1-14.5l-2-5.5l0-8.5l7-10.5l19-16.5l16-24.5l8-9.5l3-6.5l0-6.5l-2.5-3.5l-4-2l-3.5 0l-11-3l-8-4l-16.5-12l-4.5-5l-2-11.5l-6-11.5l-5.5-5zM463.5 669l-9.5 7l-4 5.5l-2 5l0 9.5l2 8l17 29l12 17.5l20 22l17.5 11l5.5 5l10.5 7l10 5l3.5 0l3.5-5.5l1-7.5l6-23l10-30.5l3-13l0-11.5l-2.5-2.5l-3.5 0l-9.5 4l-5.5 0l-2-1l-8-8l-23.5-17l-17.5-14l-10.5-6l-15.5 1z" fill="rgb(64,168,64)"/>
<path d="M1295 992l-3 7l5 9.5l8.5 7l8 3l14.5 0l7-3l7-5l3.5-4l4-6.5l1-4l-1-5.5l-3-5.5l-3.5-3l-8-3l-17.5 0l-16 7zM512 966l-6 2l-10 10l-16 25.5l-6 13l-3 9l0 4.5l2 4.5l6 6l3.5 2l2.5 0l3.5-2l9-12.5l18-38l3-8l1-7.5l-3-6zM668.5 966l-4.5-3l-4-1l-11.5 3l-27 14l-17 13l-6.5 8.5l-7 17l0 14.5l2 5l3.5 2.5l7.5 0l3-1l4.5 2.5l20-34.5l19.5 0l6.5-6l9-15.5l-1-5.5l4-7.5l0-4.5zM1446 823l-6.5 0l-7 3l-8.5 7l-2 4.5l1 7.5l5 11l9 9l1.5 3.5l-3.5 2.5l-17.5 5l-17 11l-11.5 15.5l-2 5l0 5.5l-1 1.5l1 21.5l1 2l8 7l8 13.5l5 14l1 21.5l3 13.5l1 19.5l1 1.5l0 8.5l1 1.5l0 8.5l1 1.5l0 32.5l1 1.5l0.5 9l32.5 0l6.5-6l7-14l2-1.5l0-7.5l4-9.5l1-9.5l1-1.5l0-20.5l1-1.5l-2-39.5l-1-1.5l-1-9.5l-3-8.5l0-5.5l1-3l6-8.5l7-6.5l9-11.5l5-14l0-9.5l-6-9.5l-15.5-12l-18.5-10l2.5-3.5l4.5-3l3-4.5l3-10l0-8.5l-3-7l-5-6.5l-5.5-3zM462.5 672l-7.5 6l-5 8.5l0 11.5l3 9l24 38.5l8 10l14 14l13.5 8l13.5 2l4-1l6.5-4l6-7.5l6-12l3-10l2-16.5l-1-4l-3-4.5l-5-4.5l-10-13.5l-3.5-2l-8.5-8l-31.5-23l-5-2l-8.5 0l-1.5 1l-4.5 0z" fill="rgb(54,154,54)"/>
<path d="M1344.5 988l-3.5-3l-7-3l-5-1l-12.5 1l-15.5 7l-6 7.5l0 5.5l3 4.5l9.5 8l6 2l13.5 0l11.5-6l7-8.5l2-7.5zM512 971l-3.5 0l-4.5 3l-7 8l-12 19.5l-6 12l-4 11l0 5.5l4 4.5l3.5 2l2.5 0l4.5-3l5-7.5l13-26l8-21l0-3.5zM665.5 968l-3.5-2l-5.5 0l-11 4l-18 9l-17.5 12l-8 8.5l-8 18l0 12.5l2 4.5l1.5 1l5.5 0l9.5-7l5 1.5l14-23.5l17.5 0l0.5-6l1-1l3.5-1l3.5 1.5l7-12l0-1.5l-3.5-3.5l5.5-11zM1426.5 877l-8 2l-8 4l-7.5 5l-5 5l-8 13.5l-1 9.5l3 14l13 22.5l6 18l1 26.5l3 13.5l1 20.5l1 1.5l1 18.5l1 1.5l0 26.5l3 5.5l0 6.5l29 0.5l6.5-6l8-15.5l-1-2l0-6.5l5-12.5l0-4.5l1-1.5l0-15.5l1-1.5l-1-39.5l-1-1.5l0-7.5l-2-8l-4-10.5l0-4.5l5-9.5l12-12.5l3-4.5l4-11l0-9.5l-3-5.5l-8-8l-7.5-5l-22-10l-11.5-1l-1.5-1zM1437.5 827l-5.5 3l-5 4.5l-1 2l1 8.5l4 7.5l3.5 3l10 4l6.5 0l3.5-2l8-9.5l1-3l-1-5.5l-3-5.5l-5.5-5l-6-2zM466.5 672l-10.5 8l-4 7.5l0 12.5l5 11l21 33.5l16 18l12.5 9l5 2l7.5 1l7-3l4.5-3l6-7.5l5-9l3-10l0-8.5l1-3l-3-11l-7-12.5l-15-14l-30.5-22l-10.5-2z" fill="rgb(44,141,44)"/>
<path d="M1342.5 992.5l-3-3.5l-7.5-4l-10.5-1l-11 3l-7.5 4l-4 4.5l-1 5.5l3 5.5l7.5 6l6 2l10.5 0l7-3l7.5-6l4-8.5zM653.5 977.5l-5-0.5l-6 2l-30.5 19l-3 3l-4 7.5l-3 9l1 2.5l1 0.5l4.5-4l5-7.5l11.5-13.5l7.5-4l11.5-1l4.5-2l5-7.5zM1423.5 881l-14 6l-8.5 7l-8 13.5l0 11.5l4 11l11 17.5l5 18l1 33.5l3 14.5l0 8.5l1 1.5l1 16.5l2 9.5l0 11.5l1 1.5l1 12.5l2.5 3.5l3 1l9.5 0l2 1l10-2l6.5-5l3.5-4.5l-0.5-1.5l7-17.5l2-10l0-12.5l1-1.5l-1-40.5l-1-1.5l-1-9.5l-6-14.5l0-9.5l6-9.5l6-4.5l8-9.5l3-7l0-11.5l-5-7.5l-8.5-6l-8-4l-20-8l-10-2zM1439.5 838l-2.5 4l3.5 4.5l6.5 1l3.5-3.5l-2.5-5l-5-2zM466.5 675l-4.5 3l-6 6.5l-2 5l0 10.5l5 11l14 23l13 17.5l8 8l9.5 7l11 4l5.5-1l4-2l7.5-7l7-12.5l2-7l0-7.5l1-1.5l-1-7.5l-5-12l-3-4.5l-12-12l-15-12l-13.5-9l-7-3l-10.5 0z" fill="rgb(34,127,34)"/>
<path d="M1335.5 992l-9.5-4l-10.5 1l-10.5 5l-3 4.5l0 2.5l3 5.5l5.5 4l3 1l11.5 0l7.5-4l5-6.5l0-5.5zM1421.5 885l-7 3l-11.5 9l-6 11.5l0 9.5l2 6l4 6.5l10 10.5l2 3.5l0 12.5l1 1.5l0 37.5l1 1.5l4 37.5l1 1.5l3 20.5l3 9l3 3.5l3.5 2l8.5 0l8.5-5l7-8.5l5-11l2-8l0-6.5l1-1.5l1-21.5l-1-1.5l-1-25.5l-3-10l-7-15.5l-1-10.5l4-6l14-9l4-4l4-9.5l0-7.5l-4-6.5l-11.5-7l-15.5-4l-8.5-5l-10-3zM467.5 678l-5 4l-4.5 5.5l-1 3l0 10.5l4 9l12 20l11 15.5l4 3.5l2 3.5l7 6l13.5 7l6.5 0l5-2l6.5-6l6-9.5l2-6l1-14.5l-4-12l-5-7.5l-8-8l-3.5-2l-9.5-9l-14.5-10l-10-4l-7.5 0z" fill="rgb(25,114,25)"/>
<path d="M1307 1000.5l2 4l2.5 2l8.5 1.5l5-0.5l3.5-2l3-3.5l0.5-3.5l-2-3.5l-4-2l-8.5 0l-7.5 3zM1423.5 889l-9 4l-7.5 6l-5 9.5l0 9.5l2 5l4.5 5.5l6 4l11.5 5l2 2l0 2.5l-6 11.5l-2 9l0 37.5l2 7.5l0 7.5l1 1.5l2 18.5l4 16l6 9.5l3.5 2l3.5 0l9.5-5l7-10.5l4-16l1-25.5l-1-1.5l0-14.5l-1-1.5l-1-9.5l-14-29l-7-9.5l0-3.5l5-3l9.5 0l9-2l7.5-4l5-6.5l1-9.5l-3-4.5l-10.5-6l-4-1l-11.5 0l-12.5-9l-7-2zM466 684l-5 8.5l0 8.5l4 9l17 27.5l15 16l9.5 6l3 1l7.5 0l5.5-3l9-13.5l2-9l-1-11.5l-6-11.5l-19-18l-19.5-13l-7-2l-4.5 0l-4 1z" fill="rgb(15,100,15)"/>
<path d="M1312 1001.5l2.5 3l10.5-1l1.5-1.5l-2.5-3l-10.5 1zM1433.5 955l-3.5 2.5l-3 5l-4 12l-1 20.5l9 41l6 13.5l6 3l5.5-3.5l8-16l1-16.5l1-1.5l-1-22.5l-1-1.5l0-6.5l-7-17l-11.5-12.5zM1446 913.5l1 5l7.5 5l16.5 0l2.5-1.5l2-5l-1-5l-9.5-5l-12.5 1l-3.5 2zM1426 894l-3.5 0l-6.5 4l-4 4.5l-3 8l-0.5 3.5l1.5 5l2 2.5l5.5 3l9.5 0l3-1l6.5-5l2-4.5l0-3.5l-3-9l-4-4.5zM472 686l-5 5.5l-1 12.5l15 29.5l12 12l11.5 8l7.5 1l7-2l6.5-8l3-5.5l1-14.5l-3-5.5l-4-5l-11-10l-20.5-16l-11-4l-4.5 0z" fill="rgb(5,87,5)"/>
<path d="M1312 1001.5l2.5 3l10.5-1l1.5-1.5l-2.5-3l-10.5 1zM1431.5 959l-4.5 3.5l-4 12l-1 20.5l9 41l7.5 13.5l6.5 0l4.5-3l7-13.5l1-16.5l1-1.5l-2-30.5l-8-18.5l-8.5-7zM1452 911.5l0 4.5l7.5 6.5l3 1l8.5 0l2.5-1.5l2-5l-1-5l-9.5-5l-4.5 0zM1431.5 897l-5.5-3l-3.5 0l-9.5 7l-4.5 11.5l0.5 4.5l2.5 3.5l2 1l6.5 0l5.5-3l5-4.5l2-5l0-6.5l1-1.5zM472 686l-5 5.5l-1 12.5l15 29.5l12 12l11.5 8l7.5 1l7-2l6.5-8l3-5.5l1-14.5l-3-5.5l-4-5l-11-10l-20.5-16l-11-4l-4.5 0z" fill="rgb(122,107,15)"/>
<path d="M1312 1001.5l2.5 3l10.5-1l1.5-1.5l-2.5-3l-10.5 1zM1431.5 959l-4.5 3.5l-4 12l-1 20.5l9 41l7.5 13.5l6.5 0l4.5-3l7-13.5l1-16.5l1-1.5l-2-30.5l-8-18.5l-8.5-7zM1452 911.5l0 4.5l7.5 6.5l3 1l8.5 0l2.5-1.5l2-5l-1-5l-9.5-5l-4.5 0zM1431.5 897l-5.5-3l-3.5 0l-9.5 7l-4.5 11.5l0.5 4.5l2.5 3.5l2 1l6.5 0l5.5-3l5-4.5l2-5l0-6.5l1-1.5zM472 686l-5 5.5l-1 12.5l15 29.5l12 12l11.5 8l7.5 1l7-2l6.5-8l3-5.5l1-14.5l-3-5.5l-4-5l-11-10l-20.5-16l-11-4l-4.5 0z" fill="rgb(141,129,13)"/>
<path d="M1433.5 960l-4.5 2l-2 3.5l0 2.5l-3 7.5l-1 18.5l9 41l6 11.5l5 2l5.5-3l7-13.5l1-16.5l1-1.5l-1-20.5l-1-1.5l0-6.5l-8-18.5l-5.5-5l-4-2zM1454 912.5l1 5l8.5 5l5.5 0l2-1l2.5-3.5l0-3.5l-2-2.5l-8.5-4zM1429 897l-2-1l-5.5 0l-7.5 6l-4 9.5l0 3.5l2 3.5l3.5 2l2.5 0l5-2l5.5-4.5l3-6l0-7.5zM473 687l-3 2.5l-2 4l-1 9.5l15 29.5l13 13l10.5 7l5.5 1l8-3l8.5-12.5l1-11.5l-3-6.5l-3-4l-14-13l-18.5-14l-12-4z" fill="rgb(161,151,11)"/>
<path d="M1434.5 965l-2.5 2.5l-3 8l-1 18.5l8 37l4 9.5l4 2l5.5-8.5l2-7l0-10.5l1-1.5l-1-22.5l-3-12l-5-11l-2.5-2.5l-4-2zM1462 914.5l1.5 2l3-0.5l-2.5-2zM1425 901l-5 2l-3 3.5l-2 6l2 2.5l3-0.5l4.5-3.5l2-4l0-4.5zM474.5 692l-2.5 5.5l0 4.5l7 16l8 13.5l8 8l11.5 8l4.5 1l5-2l6.5-9.5l1-10.5l-3-5.5l-11-11l-20.5-16l-10-3.5z" fill="rgb(181,172,8)"/>
<path d="M1436.5 970l-2.5 2.5l-1 3l-1 19.5l8 36l2.5 3.5l1.5 0l2.5-3.5l1-11.5l1-1.5l-1-27.5l-7-18l-2.5-2.5zM478.5 695l-2.5 3.5l0 3.5l13 25.5l11 11l7.5 5l3.5 0.5l3.5-1.5l4-5.5l1-9.5l-4-6.5l-26-22l-4.5-3z" fill="rgb(200,194,6)"/>
<path d="M1437.5 979l-1.5 4.5l0 11.5l4 19l3 5.5l1.5-4.5l0-17.5l-1-1.5l-1-9.5l-3-6zM481.5 700l-0.5 4l1 3l11 19.5l8 8l7.5 5l4-1l3-5.5l0-4.5l-4-6.5l-27.5-22z" fill="rgb(223,220,4)"/>
</g>
</g>
<g id="arrows" fill="none" stroke="#fff" stroke-width="2.5" stroke-linecap="butt" shape-rendering="crispEdges">
<path d="M1239.0 1084.9L1251.3 1101.0M1246.3 1098.1L1251.3 1101.0L1248.2 1093.3M1262.5 1084.9L1277.8 1123.0M1270.5 1113.4L1277.8 1123.0L1275.1 1107.4M1286.0 1084.9L1296.4 1061.4M1294.4 1071.2L1296.4 1061.4L1291.5 1067.1M1403.5 1084.9L1414.8 1024.2M1414.8 1046.4L1414.8 1024.2L1407.4 1042.0M1427.0 1084.9L1454.9 981.0M1452.0 1020.8L1454.9 981.0L1439.4 1009.8M1450.5 1084.9L1455.9 976.8M1460.7 1013.5L1455.9 976.8L1447.6 1011.4M392.7 1042.7L396.5 1084.1M392.8 1071.2L396.5 1084.1L397.8 1069.7M416.2 1042.7L414.1 1088.6M412.0 1073.0L414.1 1088.6L417.6 1073.8M439.7 1042.7L437.9 1096.8M435.2 1078.6L437.9 1096.8L441.8 1079.3M463.2 1042.7L438.5 1114.2M442.3 1085.8L438.5 1114.2L451.0 1095.5M486.7 1042.7L472.1 1141.6M471.0 1106.1L472.1 1141.6L483.0 1111.8M510.2 1042.7L488.5 1111.3M491.5 1084.4L488.5 1111.3L499.8 1092.9M533.8 1042.7L515.3 1096.0M518.2 1074.8L515.3 1096.0L524.6 1082.0M557.3 1042.7L535.1 1101.9M538.8 1078.0L535.1 1101.9L546.0 1086.7M580.8 1042.7L553.0 1113.7M557.9 1084.9L553.0 1113.7L566.5 1095.7M604.3 1042.7L577.5 1133.9M580.8 1098.5L577.5 1133.9L591.9 1109.0M1144.9 1042.7L1181.8 1016.6M1171.2 1032.4L1181.8 1016.6L1168.1 1018.0M1168.5 1042.7L1205.8 1019.7M1194.9 1034.6L1205.8 1019.7L1192.1 1020.0M1192.0 1042.7L1225.5 1047.7M1214.2 1052.6L1225.5 1047.7L1214.8 1039.5M1215.5 1042.7L1249.6 1045.7M1238.1 1051.4L1249.6 1045.7L1238.5 1038.0M1239.0 1042.7L1266.6 1077.0M1255.4 1071.0L1266.6 1077.0L1259.5 1060.3M1262.5 1042.7L1285.2 1083.1M1275.2 1074.2L1285.2 1083.1L1280.1 1065.3M1286.0 1042.7L1310.1 1071.2M1300.4 1066.5L1310.1 1071.2L1303.9 1057.1M1309.5 1042.7L1325.1 997.8M1322.7 1015.7L1325.1 997.8L1317.3 1009.6M1333.0 1042.7L1371.5 1028.8M1359.6 1040.9L1371.5 1028.8L1357.9 1025.8M1356.5 1042.7L1395.8 1041.4M1382.9 1049.5L1395.8 1041.4L1382.8 1034.1M1380.0 1042.7L1377.6 1015.2M1380.1 1023.8L1377.6 1015.2L1376.8 1024.8M1403.5 1042.7L1420.7 991.3M1418.1 1011.6L1420.7 991.3L1411.9 1004.9M1427.0 1042.7L1440.3 934.6M1442.5 972.9L1440.3 934.6L1429.4 967.7M1450.5 1042.7L1473.1 914.9M1473.4 961.5L1473.1 914.9L1457.9 952.6M1474.1 1042.7L1472.9 959.5M1478.3 986.7L1472.9 959.5L1468.2 987.2M1497.6 1042.7L1496.4 1014.9M1498.4 1023.9L1496.4 1014.9L1495.1 1024.3M1521.1 1042.7L1532.7 1049.2M1528.5 1049.4L1532.7 1049.2L1529.3 1044.8M322.2 1000.5L310.9 1046.6M311.9 1029.2L310.9 1046.6L317.5 1033.6M345.7 1000.5L335.9 1056.3M335.7 1036.0L335.9 1056.3L342.5 1039.8M369.2 1000.5L361.7 1071.8M359.9 1046.8L361.7 1071.8L368.5 1049.8M392.7 1000.5L397.3 1047.4M393.0 1032.8L397.3 1047.4L398.6 1031.0M416.2 1000.5L415.4 1030.9M413.8 1020.7L415.4 1030.9L417.5 1021.0M439.7 1000.5L424.4 1047.1M426.7 1028.7L424.4 1047.1L432.3 1034.7M463.2 1000.5L446.1 1072.0M447.4 1045.0L446.1 1072.0L456.1 1051.7M486.7 1000.5L458.4 1113.0M460.9 1070.3L458.4 1113.0L474.6 1081.4M510.2 1000.5L484.2 1095.3M487.1 1058.9L484.2 1095.3L498.5 1069.1M533.8 1000.5L505.9 1080.2M510.3 1048.4L505.9 1080.2L519.9 1059.3M557.3 1000.5L532.3 1054.0M537.3 1031.4L532.3 1054.0L543.8 1041.2M580.8 1000.5L544.6 1067.9M552.5 1038.5L544.6 1067.9L560.6 1052.7M604.3 1000.5L591.7 1095.2M590.1 1061.5L591.7 1095.2L601.6 1066.4M627.8 1000.5L595.1 1087.1M600.6 1052.1L595.1 1087.1L611.1 1064.9M651.3 1000.5L585.9 1083.4M602.4 1043.2L585.9 1083.4L612.5 1068.8M1074.4 1000.5L1119.4 1041.2M1102.1 1036.6L1119.4 1041.2L1107.0 1019.0M1097.9 1000.5L1133.7 1035.3M1119.8 1030.8L1133.7 1035.3L1124.0 1016.8M1121.4 1000.5L1183.1 1037.0M1160.5 1037.0L1183.1 1037.0L1164.9 1012.9M1144.9 1000.5L1204.1 1037.9M1182.3 1037.2L1204.1 1037.9L1186.9 1014.0M1168.5 1000.5L1228.5 1000.0M1208.7 1011.9L1228.5 1000.0L1208.7 988.4M1192.0 1000.5L1231.5 1005.0M1218.2 1011.3L1231.5 1005.0L1218.7 995.8M1215.5 1000.5L1253.1 1005.2M1240.4 1011.0L1253.1 1005.2L1241.0 996.3M1239.0 1000.5L1284.6 1021.1M1268.3 1023.2L1284.6 1021.1L1270.8 1005.4M1262.5 1000.5L1298.0 1056.8M1282.9 1045.2L1298.0 1056.8L1289.7 1031.2M1286.0 1000.5L1350.7 1025.6M1327.8 1029.9L1350.7 1025.6L1330.9 1004.6M1309.5 1000.5L1387.7 997.5M1362.1 1013.8L1387.7 997.5L1361.7 983.2M1333.0 1000.5L1429.6 1016.5M1396.8 1030.1L1429.6 1016.5L1398.7 992.3M1356.5 1000.5L1415.2 972.5M1397.5 993.2L1415.2 972.5L1394.1 970.2M1380.0 1000.5L1416.4 962.4M1406.7 982.1L1416.4 962.4L1402.1 967.9M1403.5 1000.5L1424.3 924.1M1422.0 953.4L1424.3 924.1L1412.8 945.2M1427.0 1000.5L1441.1 878.8M1443.9 921.7L1441.1 878.8L1429.1 916.2M1450.5 1000.5L1467.8 852.7M1471.1 904.8L1467.8 852.7L1453.1 898.1M1474.1 1000.5L1483.5 909.3M1485.9 941.2L1483.5 909.3L1474.9 937.5M1497.6 1000.5L1515.1 985.6M1510.2 993.9L1515.1 985.6L1508.4 987.1M1521.1 1000.5L1546.5 1011.2M1537.5 1012.6L1546.5 1011.2L1538.8 1002.7M1544.6 1000.5L1574.9 1020.7M1563.7 1020.0L1574.9 1020.7L1566.1 1008.1M1568.1 1000.5L1598.6 1016.6M1587.6 1017.2L1598.6 1016.6L1589.5 1005.3M298.7 958.2L286.8 1014.5M287.3 993.6L286.8 1014.5L294.1 998.2M322.2 958.2L302.4 1015.7M305.4 992.9L302.4 1015.7L312.4 1000.6M345.7 958.2L327.8 1042.7M328.6 1011.3L327.8 1042.7L338.8 1018.3M369.2 958.2L351.7 1047.1M352.1 1014.4L351.7 1047.1L362.9 1021.2M392.7 958.2L394.8 1019.0M390.4 999.3L394.8 1019.0L397.8 998.5M416.2 958.2L413.8 978.2M413.4 971.2L413.8 978.2L415.8 972.1M439.7 958.2L431.7 975.2M433.3 968.0L431.7 975.2L435.3 971.2M463.2 958.2L451.5 1002.7M452.7 985.7L451.5 1002.7L458.1 990.3M486.7 958.2L472.6 1046.2M471.9 1014.4L472.6 1046.2L482.6 1020.0M510.2 958.2L474.3 1051.6M480.5 1013.7L474.3 1051.6L491.8 1027.8M533.8 958.2L503.5 1040.2M508.5 1007.2L503.5 1040.2L518.4 1019.1M557.3 958.2L543.1 997.0M545.4 981.4L543.1 997.0L550.1 987.0M580.8 958.2L555.1 985.1M561.9 971.2L555.1 985.1L565.2 981.3M604.3 958.2L583.4 990.0M588.4 975.4L583.4 990.0L592.2 983.6M627.8 958.2L602.8 1031.3M606.6 1002.3L602.8 1031.3L615.5 1012.1M651.3 958.2L616.8 1027.0M624.0 997.6L616.8 1027.0L632.4 1011.0M674.8 958.2L608.4 959.4M630.2 946.0L608.4 959.4L630.4 972.0M698.3 958.2L651.5 972.1M666.1 958.3L651.5 972.1L667.8 976.7M980.4 958.2L1022.8 928.6M1010.6 946.7L1022.8 928.6L1007.0 930.1M1003.9 958.2L1031.3 919.3M1024.6 937.5L1031.3 919.3L1019.9 926.8M1027.4 958.2L1072.5 966.0M1057.2 972.2L1072.5 966.0L1058.1 954.6M1050.9 958.2L1082.5 1022.3M1068.2 1007.3L1082.5 1022.3L1076.0 995.0M1074.4 958.2L1112.6 1016.9M1096.5 1005.0L1112.6 1016.9L1103.6 990.1M1097.9 958.2L1135.5 981.3M1121.7 981.0L1135.5 981.3L1124.5 966.3M1121.4 958.2L1162.3 970.1M1148.1 974.2L1162.3 970.1L1149.5 958.2M1144.9 958.2L1186.9 948.5M1173.6 959.9L1186.9 948.5L1172.4 943.5M1168.5 958.2L1208.1 959.1M1195.0 966.6L1208.1 959.1L1195.1 951.0M1192.0 958.2L1224.2 944.8M1214.4 955.6L1224.2 944.8L1212.8 942.9M1215.5 958.2L1259.9 957.5M1245.3 966.4L1259.9 957.5L1245.2 949.1M1239.0 958.2L1281.9 960.4M1267.6 968.1L1281.9 960.4L1267.8 951.3M1262.5 958.2L1286.4 1003.9M1275.8 993.5L1286.4 1003.9L1281.3 984.2M1286.0 958.2L1315.9 1001.4M1303.4 993.0L1315.9 1001.4L1308.7 981.3M1309.5 958.2L1365.7 1007.9M1344.2 1002.5L1365.7 1007.9L1350.2 980.5M1333.0 958.2L1399.1 938.2M1378.5 957.7L1399.1 938.2L1376.1 931.9M1356.5 958.2L1422.3 915.4M1403.2 942.4L1422.3 915.4L1398.0 916.7M1380.0 958.2L1427.9 893.9M1416.0 924.5L1427.9 893.9L1408.2 905.7M1403.5 958.2L1423.0 875.8M1421.6 906.8L1423.0 875.8L1411.6 899.2M1427.0 958.2L1426.4 855.9M1432.8 889.5L1426.4 855.9L1420.4 889.8M1450.5 958.2L1472.6 854.4M1471.6 893.0L1472.6 854.4L1459.1 884.4M1474.1 958.2L1484.8 864.9M1486.9 897.8L1484.8 864.9L1475.6 893.6M1497.6 958.2L1560.8 955.1M1540.1 968.5L1560.8 955.1L1539.7 943.8M1521.1 958.2L1565.2 960.9M1550.4 968.6L1565.2 960.9L1550.8 951.4M1544.6 958.2L1574.0 969.6M1563.6 971.6L1574.0 969.6L1565.0 960.1M1568.1 958.2L1600.3 979.6M1588.4 978.8L1600.3 979.6L1591.0 966.2M298.7 916.0L272.9 947.7M279.5 932.2L272.9 947.7L283.3 942.3M322.2 916.0L305.9 956.9M308.8 940.2L305.9 956.9L313.8 946.6M345.7 916.0L331.2 994.8M331.2 966.0L331.2 994.8L340.8 971.6M369.2 916.0L355.9 1011.6M354.5 977.4L355.9 1011.6L366.1 982.6M392.7 916.0L383.1 969.7M383.0 950.1L383.1 969.7L389.5 953.9M416.2 916.0L412.8 933.5M412.9 927.0L412.8 933.5L415.0 928.4M439.7 916.0L432.6 927.4M434.3 922.2L432.6 927.4L435.7 925.0M463.2 916.0L457.6 937.3M458.1 929.1L457.6 937.3L460.7 931.3M486.7 916.0L462.7 957.4M468.1 939.0L462.7 957.4L473.2 948.4M510.2 916.0L446.0 945.8M465.4 923.4L446.0 945.8L469.0 948.5M533.8 916.0L462.4 959.0M483.3 930.8L462.4 959.0L488.6 958.7M557.3 916.0L507.8 979.6M520.3 948.9L507.8 979.6L528.0 968.2M580.8 916.0L534.6 968.9M546.6 942.4L534.6 968.9L553.0 960.5M604.3 916.0L573.1 948.4M581.5 931.6L573.1 948.4L585.4 943.8M627.8 916.0L606.6 953.9M611.3 937.2L606.6 953.9L615.9 945.5M651.3 916.0L603.1 944.2M617.3 925.5L603.1 944.2L620.7 944.3M674.8 916.0L614.1 884.3M636.0 882.9L614.1 884.3L632.2 906.6M698.3 916.0L647.2 904.7M664.7 898.4L647.2 904.7L663.4 918.4M721.8 916.0L654.1 893.9M677.8 887.9L654.1 893.9L675.1 914.4M745.3 916.0L681.6 897.1M703.8 890.9L681.6 897.1L701.5 915.8M768.8 916.0L712.0 875.4M733.2 877.7L712.0 875.4L728.3 899.9M792.3 916.0L736.8 918.5M755.0 906.8L736.8 918.5L755.3 928.5M839.3 916.0L805.5 957.0M814.2 936.8L805.5 957.0L819.1 950.1M862.9 916.0L847.1 961.8M849.5 943.6L847.1 961.8L855.1 949.8M886.4 916.0L876.2 960.8M876.8 944.0L876.2 960.8L882.3 948.0M909.9 916.0L908.6 939.3M907.6 931.3L908.6 939.3L910.4 931.8M933.4 916.0L928.5 938.0M928.8 929.8L928.5 938.0L931.5 931.7M956.9 916.0L970.6 925.3M965.5 924.9L970.6 925.3L966.6 919.6M980.4 916.0L1001.5 923.5M994.1 925.2L1001.5 923.5L995.0 916.9M1003.9 916.0L1039.0 926.2M1026.8 929.7L1039.0 926.2L1028.0 915.9M1027.4 916.0L1074.1 948.6M1056.7 947.0L1074.1 948.6L1060.7 928.7M1050.9 916.0L1072.1 990.7M1060.6 970.2L1072.1 990.7L1069.7 961.9M1074.4 916.0L1106.4 970.3M1092.6 958.6L1106.4 970.3L1099.2 946.1M1097.9 916.0L1117.7 929.6M1110.3 929.0L1117.7 929.6L1112.0 921.2M1121.4 916.0L1129.1 899.8M1127.5 906.6L1129.1 899.8L1125.6 903.6M1144.9 916.0L1144.4 935.6M1143.4 929.1L1144.4 935.6L1145.8 929.3M1168.5 916.0L1176.0 927.8M1172.8 925.4L1176.0 927.8L1174.2 922.4M1192.0 916.0L1203.5 937.7M1198.4 932.8L1203.5 937.7L1201.0 928.2M1215.5 916.0L1249.7 935.9M1237.2 936.0L1249.7 935.9L1239.6 922.6M1239.0 916.0L1277.3 955.6M1262.2 950.1L1277.3 955.6L1267.1 935.1M1262.5 916.0L1290.9 956.6M1279.1 948.8L1290.9 956.6L1284.0 937.6M1286.0 916.0L1297.6 940.1M1292.3 934.4L1297.6 940.1L1295.3 929.9M1309.5 916.0L1323.2 895.3M1319.9 904.8L1323.2 895.3L1317.4 899.4M1333.0 916.0L1362.5 888.8M1354.4 903.6L1362.5 888.8L1351.1 892.0M1356.5 916.0L1378.6 837.5M1376.0 867.7L1378.6 837.5L1366.5 859.1M1380.0 916.0L1413.5 819.6M1408.3 857.9L1413.5 819.6L1396.6 844.8M1403.5 916.0L1414.8 803.2M1417.9 842.7L1414.8 803.2L1404.3 838.2M1427.0 916.0L1443.0 791.0M1445.3 835.4L1443.0 791.0L1430.2 829.1M1450.5 916.0L1455.6 802.5M1460.8 840.9L1455.6 802.5L1447.0 838.9M1474.1 916.0L1521.6 789.8M1513.5 840.7L1521.6 789.8L1498.2 822.2M1497.6 916.0L1559.7 877.4M1541.5 902.3L1559.7 877.4L1536.9 878.0M1521.1 916.0L1589.9 885.7M1569.0 909.2L1589.9 885.7L1565.4 882.2M1544.6 916.0L1598.8 892.5M1582.3 910.9L1598.8 892.5L1579.5 889.7M1568.1 916.0L1608.8 896.7M1596.5 911.0L1608.8 896.7L1594.2 895.1M298.7 873.7L287.4 863.5M291.8 864.7L287.4 863.5L290.5 869.1M322.2 873.7L300.3 912.8M305.2 895.6L300.3 912.8L309.9 904.2M345.7 873.7L308.6 948.7M316.3 916.7L308.6 948.7L325.4 931.2M369.2 873.7L352.3 956.0M352.9 925.6L352.3 956.0L362.9 932.2M392.7 873.7L368.8 955.9M371.7 924.1L368.8 955.9L381.7 933.5M416.2 873.7L401.7 887.7M405.7 880.3L401.7 887.7L407.4 885.9M439.7 873.7L424.3 876.5M429.2 872.6L424.3 876.5L429.6 878.6M463.2 873.7L448.2 873.7M453.2 870.8L448.2 873.7L453.2 876.7M486.7 873.7L456.7 885.9M465.9 876.0L456.7 885.9L467.3 887.7M510.2 873.7L468.6 899.5M480.8 882.8L468.6 899.5L483.9 899.1M533.8 873.7L476.8 919.6M492.8 893.3L476.8 919.6L498.4 915.6M557.3 873.7L512.4 941.8M523.0 910.6L512.4 941.8L531.3 928.2M580.8 873.7L522.2 941.8M537.4 907.9L522.2 941.8L545.7 930.8M604.3 873.7L568.7 953.2M575.6 920.0L568.7 953.2L585.2 933.9M627.8 873.7L621.8 938.0M619.9 915.6L621.8 938.0L627.7 918.0M651.3 873.7L635.6 927.4M637.5 906.6L635.6 927.4L644.0 912.8M674.8 873.7L634.3 860.3M648.5 856.8L634.3 860.3L646.9 872.6M698.3 873.7L697.6 853.7M699.0 860.2L697.6 853.7L696.6 860.5M721.8 873.7L706.2 862.1M712.1 862.9L706.2 862.1L710.7 869.0M745.3 873.7L727.7 822.3M736.6 835.9L727.7 822.3L730.4 842.7M768.8 873.7L723.9 842.4M740.6 843.9L723.9 842.4L736.8 861.5M792.3 873.7L747.7 885.1M761.7 872.6L747.7 885.1L763.1 890.1M815.8 873.7L779.2 906.4M789.3 888.4L779.2 906.4L793.3 902.8M839.3 873.7L813.8 951.6M817.5 920.9L813.8 951.6L826.9 930.9M862.9 873.7L833.0 960.8M837.6 926.2L833.0 960.8L848.1 937.9M886.4 873.7L864.7 951.3M867.1 921.5L864.7 951.3L876.6 930.0M909.9 873.7L912.4 935.4M907.8 915.5L912.4 935.4L915.3 914.6M933.4 873.7L925.9 936.0M924.6 914.0L925.9 936.0L932.1 917.0M956.9 873.7L952.1 919.9M950.9 903.8L952.1 919.9L956.5 905.6M980.4 873.7L984.8 894.0M982.1 888.2L984.8 894.0L984.6 886.5M1003.9 873.7L1016.3 894.5M1010.9 890.1L1016.3 894.5L1013.4 885.3M1027.4 873.7L1048.2 920.5M1038.5 909.1L1048.2 920.5L1044.2 901.0M1050.9 873.7L1070.3 927.1M1060.7 913.3L1070.3 927.1L1067.1 905.7M1074.4 873.7L1077.8 899.4M1075.1 891.6L1077.8 899.4L1078.2 890.3M1097.9 873.7L1094.6 889.5M1094.8 883.7L1094.6 889.5L1096.7 884.9M1121.4 873.7L1124.4 862.2M1124.2 866.6L1124.4 862.2L1122.8 865.4M1144.9 873.7L1152.7 882.1M1149.6 880.9L1152.7 882.1L1150.7 877.9M1168.5 873.7L1176.5 894.5M1172.6 889.2L1176.5 894.5L1175.1 886.1M1192.0 873.7L1209.1 913.6M1201.1 903.8L1209.1 913.6L1205.9 897.1M1215.5 873.7L1236.0 921.9M1226.3 910.0L1236.0 921.9L1232.2 902.0M1239.0 873.7L1259.6 885.9M1252.1 885.9L1259.6 885.9L1253.6 877.8M1262.5 873.7L1273.6 879.3M1269.6 879.7L1273.6 879.3L1270.3 875.3M1286.0 873.7L1292.3 877.9M1290.0 877.8L1292.3 877.9L1290.5 875.3M1309.5 873.7L1311.5 861.7M1311.6 866.1L1311.5 861.7L1310.1 865.3M1333.0 873.7L1336.4 829.7M1338.0 844.9L1336.4 829.7L1332.6 843.6M1356.5 873.7L1361.6 820.7M1363.1 839.2L1361.6 820.7L1356.7 837.2M1380.0 873.7L1402.5 820.8M1398.3 842.7L1402.5 820.8L1391.9 833.9M1403.5 873.7L1419.3 796.5M1418.7 825.1L1419.3 796.5L1409.4 818.9M1427.0 873.7L1446.3 775.2M1445.9 811.5L1446.3 775.2L1434.0 804.0M1450.5 873.7L1472.4 782.4M1470.7 816.8L1472.4 782.4L1459.7 808.3M1474.1 873.7L1514.2 776.7M1506.9 816.6L1514.2 776.7L1495.1 800.9M1497.6 873.7L1546.5 812.2M1534.1 842.1L1546.5 812.2L1526.6 822.9M1521.1 873.7L1576.7 835.8M1560.6 859.2L1576.7 835.8L1556.0 837.4M1544.6 873.7L1610.0 827.8M1591.2 855.7L1610.0 827.8L1585.6 830.1M1568.1 873.7L1617.3 858.6M1602.0 873.2L1617.3 858.6L1600.2 853.9M275.2 831.5L260.0 821.7M265.6 821.9L260.0 821.7L264.4 827.9M298.7 831.5L287.2 837.0M290.7 832.9L287.2 837.0L291.3 837.4M322.2 831.5L302.7 846.4M308.2 837.6L302.7 846.4L310.0 845.3M345.7 831.5L325.8 879.9M329.4 860.1L325.8 879.9L335.3 867.8M369.2 831.5L331.1 902.2M339.4 871.4L331.1 902.2L348.0 886.3M392.7 831.5L340.1 876.8M354.7 851.5L340.1 876.8L360.2 872.1M416.2 831.5L353.8 834.7M374.2 821.4L353.8 834.7L374.6 845.9M439.7 831.5L395.5 827.4M410.4 820.1L395.5 827.4L409.9 837.4M463.2 831.5L420.9 837.3M434.5 827.1L420.9 837.3L435.2 843.6M486.7 831.5L445.9 850.5M458.2 836.3L445.9 850.5L460.5 852.3M510.2 831.5L470.3 847.9M482.5 834.7L470.3 847.9L484.5 850.3M533.8 831.5L495.9 880.8M505.4 857.1L495.9 880.8L511.4 872.0M557.3 831.5L535.0 919.7M537.0 886.2L535.0 919.7L547.7 895.0M580.8 831.5L547.3 903.7M553.9 873.3L547.3 903.7L562.7 886.4M604.3 831.5L587.2 881.8M589.8 861.9L587.2 881.8L595.9 868.5M627.8 831.5L610.9 891.9M612.8 868.7L610.9 891.9L620.2 875.3M651.3 831.5L635.6 915.4M635.7 884.7L635.6 915.4L645.9 890.8M674.8 831.5L667.5 889.1M666.4 868.7L667.5 889.1L673.4 871.5M698.3 831.5L697.7 813.5M699.0 819.4L697.7 813.5L696.8 819.6M721.8 831.5L721.6 813.0M722.8 819.1L721.6 813.0L720.5 819.2M745.3 831.5L740.4 785.8M744.8 799.9L740.4 785.8L739.3 801.8M768.8 831.5L773.5 779.9M775.1 797.8L773.5 779.9L768.9 796.0M792.3 831.5L790.7 791.6M793.7 804.5L790.7 791.6L788.8 805.1M815.8 831.5L801.7 814.8M807.4 817.5L801.7 814.8L805.3 823.1M839.3 831.5L836.2 851.9M836.0 844.6L836.2 851.9L838.5 845.8M862.9 831.5L860.3 892.2M857.5 871.6L860.3 892.2L864.8 872.6M886.4 831.5L883.2 918.9M878.9 889.5L883.2 918.9L889.5 890.7M909.9 831.5L886.4 914.2M889.1 882.3L886.4 914.2L899.2 891.5M933.4 831.5L917.1 914.1M917.5 883.7L917.1 914.1L927.5 890.1M956.9 831.5L947.3 895.3M946.6 872.4L947.3 895.3L954.4 876.1M980.4 831.5L982.9 879.9M979.1 864.4L982.9 879.9L985.0 863.4M1003.9 831.5L1019.4 880.9M1011.3 867.6L1019.4 880.9L1017.3 861.5M1027.4 831.5L1040.3 882.3M1033.0 868.1L1040.3 882.3L1039.1 863.0M1050.9 831.5L1055.4 873.8M1051.3 860.7L1055.4 873.8L1056.5 859.0M1074.4 831.5L1081.8 857.8M1077.8 850.5L1081.8 857.8L1080.9 847.7M1097.9 831.5L1109.7 825.7M1106.1 829.9L1109.7 825.7L1105.4 825.3M1121.4 831.5L1134.4 817.7M1130.9 824.8L1134.4 817.7L1129.3 819.8M1144.9 831.5L1171.2 826.0M1162.9 833.0L1171.2 826.0L1162.2 822.7M1168.5 831.5L1195.8 851.2M1185.6 850.1L1195.8 851.2L1188.0 839.4M1192.0 831.5L1204.2 875.4M1197.5 863.3L1204.2 875.4L1202.8 858.5M1215.5 831.5L1234.0 842.6M1227.2 842.5L1234.0 842.6L1228.5 835.3M1239.0 831.5L1234.6 822.0M1236.7 824.3L1234.6 822.0L1235.5 826.0M1262.5 831.5L1262.0 824.2M1262.6 826.5L1262.0 824.2L1261.7 826.7M1286.0 831.5L1281.3 825.0M1283.3 826.2L1281.3 825.0L1282.5 828.1M1309.5 831.5L1307.3 819.8M1308.7 823.2L1307.3 819.8L1307.3 824.1M1333.0 831.5L1330.4 804.8M1332.9 813.1L1330.4 804.8L1329.6 814.1M1356.5 831.5L1355.6 815.4M1356.9 820.6L1355.6 815.4L1355.0 820.9M1380.0 831.5L1386.8 802.5M1386.3 813.4L1386.8 802.5L1382.8 810.8M1403.5 831.5L1436.8 759.7M1430.2 789.9L1436.8 759.7L1421.5 776.9M1427.0 831.5L1462.5 744.8M1456.0 780.3L1462.5 744.8L1445.5 766.5M1450.5 831.5L1491.5 751.5M1482.9 785.9L1491.5 751.5L1473.2 769.9M1474.1 831.5L1517.8 755.3M1508.0 789.0L1517.8 755.3L1498.8 771.9M1497.6 831.5L1541.0 767.8M1530.5 797.3L1541.0 767.8L1522.8 780.3M1521.1 831.5L1563.9 800.5M1551.6 819.1L1563.9 800.5L1547.9 802.3M1544.6 831.5L1587.6 785.0M1576.2 808.8L1587.6 785.0L1570.6 792.0M298.7 789.3L290.9 793.8M293.2 790.8L290.9 793.8L293.8 793.8M322.2 789.3L313.5 801.2M315.7 795.6L313.5 801.2L317.1 799.0M345.7 789.3L324.0 828.4M328.8 811.2L324.0 828.4L333.5 819.7M369.2 789.3L339.3 835.3M346.4 814.3L339.3 835.3L351.9 826.0M392.7 789.3L349.2 832.3M360.9 809.6L349.2 832.3L366.2 826.6M416.2 789.3L351.4 793.1M372.6 779.2L351.4 793.1L373.0 804.5M439.7 789.3L386.6 798.1M403.6 784.8L386.6 798.1L404.7 805.6M463.2 789.3L409.3 800.0M426.4 785.9L409.3 800.0L427.7 807.0M486.7 789.3L432.5 779.4M451.0 772.0L432.5 779.4L449.8 793.3M510.2 789.3L457.5 858.1M470.8 825.0L457.5 858.1L479.1 845.7M533.8 789.3L508.4 890.8M510.6 852.3L508.4 890.8L522.9 862.2M557.3 789.3L535.4 873.0M537.5 841.1L535.4 873.0L547.7 849.7M580.8 789.3L554.1 851.7M559.1 825.8L554.1 851.7L566.7 836.3M604.3 789.3L589.3 841.4M591.1 821.2L589.3 841.4L597.4 827.1M627.8 789.3L611.3 856.8M612.6 831.3L611.3 856.8L620.8 837.7M651.3 789.3L627.6 872.5M630.4 840.4L627.6 872.5L640.5 849.7M674.8 789.3L653.3 873.9M655.3 841.8L653.3 873.9L665.5 850.2M698.3 789.3L641.1 841.8M656.8 813.3L641.1 841.8L663.1 835.7M721.8 789.3L704.0 783.1M710.2 781.6L704.0 783.1L709.5 788.6M745.3 789.3L741.5 775.3M743.6 779.1L741.5 775.3L741.9 780.6M768.8 789.3L776.3 750.8M776.1 765.0L776.3 750.8L771.5 762.0M792.3 789.3L794.0 740.5M796.4 756.9L794.0 740.5L790.5 756.3M815.8 789.3L810.0 764.7M813.4 771.7L810.0 764.7L810.4 774.0M839.3 789.3L841.1 811.0M839.2 804.2L841.1 811.0L841.9 803.5M862.9 789.3L869.8 836.0M864.7 822.0L869.8 836.0L870.3 819.2M886.4 789.3L884.5 843.9M881.8 825.5L884.5 843.9L888.4 826.3M909.9 789.3L903.7 876.8M900.4 846.7L903.7 876.8L911.0 849.1M933.4 789.3L899.5 871.1M905.7 837.4L899.5 871.1L915.6 850.7M956.9 789.3L946.6 870.7M945.0 841.8L946.6 870.7L954.9 845.9M980.4 789.3L975.6 842.2M973.9 823.8L975.6 842.2L980.4 825.7M1003.9 789.3L1002.2 840.1M999.7 823.0L1002.2 840.1L1005.9 823.7M1027.4 789.3L1018.0 831.0M1018.6 815.4L1018.0 831.0L1023.7 819.1M1050.9 789.3L1052.2 829.8M1049.3 816.7L1052.2 829.8L1054.2 816.1M1074.4 789.3L1069.1 831.3M1068.3 816.4L1069.1 831.3L1073.4 818.5M1097.9 789.3L1104.1 809.8M1100.8 804.2L1104.1 809.8L1103.3 801.8M1121.4 789.3L1137.5 769.2M1133.4 779.0L1137.5 769.2L1131.0 772.7M1144.9 789.3L1148.1 832.3M1144.4 818.7L1148.1 832.3L1149.6 817.5M1168.5 789.3L1179.6 829.9M1173.5 818.6L1179.6 829.9L1178.4 814.3M1192.0 789.3L1205.5 834.9M1198.3 822.5L1205.5 834.9L1203.8 817.2M1215.5 789.3L1228.7 796.5M1223.9 796.7L1228.7 796.5L1224.8 791.5M1239.0 789.3L1247.3 792.3M1244.3 792.9L1247.3 792.3L1244.7 789.7M1262.5 789.3L1267.0 782.4M1265.9 785.6L1267.0 782.4L1265.1 783.8M1286.0 789.3L1282.4 780.8M1284.1 782.9L1282.4 780.8L1283.1 784.3M1309.5 789.3L1304.4 775.7M1306.9 779.2L1304.4 775.7L1305.3 781.2M1333.0 789.3L1331.7 777.7M1332.9 781.3L1331.7 777.7L1331.5 781.8M1356.5 789.3L1353.4 783.0M1354.8 784.5L1353.4 783.0L1354.1 785.7M1380.0 789.3L1379.0 779.7M1379.9 782.7L1379.0 779.7L1378.8 783.1M1403.5 789.3L1389.5 795.9M1393.7 791.0L1389.5 795.9L1394.5 796.5M1427.0 789.3L1443.7 753.3M1440.4 768.4L1443.7 753.3L1436.0 761.9M1450.5 789.3L1474.3 748.4M1468.9 766.6L1474.3 748.4L1464.0 757.3M1474.1 789.3L1494.0 752.9M1489.6 768.8L1494.0 752.9L1485.2 761.0M1497.6 789.3L1521.2 759.1M1515.2 773.7L1521.2 759.1L1511.6 764.4M1521.1 789.3L1544.2 755.9M1538.6 771.5L1544.2 755.9L1534.6 762.4M298.7 747.0L291.4 752.8M293.4 749.5L291.4 752.8L294.1 752.3M322.2 747.0L316.8 753.0M318.2 750.0L316.8 753.0L318.9 752.1M345.7 747.0L329.1 759.7M333.8 752.3L329.1 759.7L335.4 758.8M369.2 747.0L340.9 780.1M348.3 763.7L340.9 780.1L352.3 774.7M392.7 747.0L367.6 788.4M373.4 769.8L367.6 788.4L378.4 779.6M416.2 747.0L388.9 789.5M395.3 770.1L388.9 789.5L400.5 780.8M439.7 747.0L400.6 734.6M414.3 731.0L400.6 734.6L412.8 746.3M463.2 747.0L419.4 733.3M434.7 729.3L419.4 733.3L433.0 746.4M486.7 747.0L400.2 713.9M430.8 707.9L400.2 713.9L426.8 741.7M510.2 747.0L414.7 778.7M444.3 749.5L414.7 778.7L448.2 786.9M533.8 747.0L489.2 852.0M497.5 808.6L489.2 852.0L510.2 826.1M557.3 747.0L543.0 830.3M542.7 800.0L543.0 830.3L552.8 805.6M580.8 747.0L556.9 839.6M559.2 804.4L556.9 839.6L570.4 813.7M604.3 747.0L575.5 795.3M582.1 773.8L575.5 795.3L588.0 785.0M627.8 747.0L605.9 796.0M610.2 775.6L605.9 796.0L616.1 784.1M651.3 747.0L619.3 802.0M626.5 777.6L619.3 802.0L633.2 790.1M674.8 747.0L641.1 834.9M646.9 799.3L641.1 834.9L657.5 812.5M698.3 747.0L649.8 773.7M664.2 755.4L649.8 773.7L667.4 774.4M721.8 747.0L680.5 727.4M695.3 725.8L680.5 727.4L693.0 741.9M745.3 747.0L721.6 706.8M731.9 715.4L721.6 706.8L727.0 724.7M768.8 747.0L763.9 702.3M768.2 716.1L763.9 702.3L762.8 718.0M792.3 747.0L790.3 712.5M793.1 723.5L790.3 712.5L788.9 724.3M815.8 747.0L816.1 731.8M816.9 736.9L816.1 731.8L815.1 736.8M839.3 747.0L840.4 769.6M838.7 762.3L840.4 769.6L841.4 761.9M862.9 747.0L868.4 788.2M864.1 775.7L868.4 788.2L869.1 773.5M886.4 747.0L883.2 803.5M880.8 784.2L883.2 803.5L887.7 785.5M909.9 747.0L914.4 797.2M909.8 781.5L914.4 797.2L915.9 779.8M933.4 747.0L926.0 806.7M924.8 785.6L926.0 806.7L932.0 788.5M956.9 747.0L952.1 826.5M948.9 799.3L952.1 826.5L958.5 801.2M980.4 747.0L964.2 818.9M965.2 792.0L964.2 818.9L973.9 798.4M1003.9 747.0L989.9 807.4M990.8 784.7L989.9 807.4L998.1 790.2M1027.4 747.0L1019.0 766.6M1020.6 758.5L1019.0 766.6L1023.0 761.8M1050.9 747.0L1043.5 764.6M1044.9 757.3L1043.5 764.6L1047.0 760.2M1074.4 747.0L1064.9 789.5M1065.5 773.6L1064.9 789.5L1070.6 777.3M1097.9 747.0L1088.7 795.9M1088.8 778.0L1088.7 795.9L1094.7 781.6M1121.4 747.0L1108.8 798.8M1109.9 779.2L1108.8 798.8L1116.1 784.2M1144.9 747.0L1137.2 806.5M1136.2 785.4L1137.2 806.5L1143.4 788.4M1168.5 747.0L1178.4 798.8M1172.0 783.7L1178.4 798.8L1178.2 779.8M1192.0 747.0L1201.4 794.4M1195.4 780.6L1201.4 794.4L1201.2 776.9M1215.5 747.0L1238.0 777.2M1228.7 771.6L1238.0 777.2L1232.4 762.8M1239.0 747.0L1265.9 736.7M1257.6 745.4L1265.9 736.7L1256.4 734.8M1262.5 747.0L1287.1 719.8M1280.6 733.6L1287.1 719.8L1277.3 724.0M1286.0 747.0L1296.6 726.5M1294.4 735.4L1296.6 726.5L1291.9 731.2M1309.5 747.0L1325.2 731.6M1320.9 739.8L1325.2 731.6L1319.1 733.6M1333.0 747.0L1346.2 741.5M1342.2 745.9L1346.2 741.5L1341.5 740.7M1356.5 747.0L1349.2 725.9M1352.9 731.4L1349.2 725.9L1350.3 734.3M1380.0 747.0L1346.5 752.7M1357.2 744.3L1346.5 752.7L1357.9 757.4M1403.5 747.0L1371.0 780.3M1379.7 763.0L1371.0 780.3L1383.8 775.7M1427.0 747.0L1395.5 766.4M1404.7 753.8L1395.5 766.4L1407.1 766.2M1450.5 747.0L1459.9 720.3M1458.4 731.0L1459.9 720.3L1455.2 727.3M298.7 704.8L270.1 715.8M278.9 706.6L270.1 715.8L280.2 717.7M322.2 704.8L310.3 705.4M314.2 702.9L310.3 705.4L314.3 707.5M345.7 704.8L332.8 709.5M336.7 705.4L332.8 709.5L337.3 710.5M369.2 704.8L343.4 721.6M350.9 711.0L343.4 721.6L353.0 721.1M392.7 704.8L356.7 727.1M367.2 712.7L356.7 727.1L369.9 726.8M416.2 704.8L378.4 679.3M392.4 680.3L378.4 679.3L389.4 695.1M439.7 704.8L392.7 660.0M411.0 665.6L392.7 660.0L405.5 684.0M463.2 704.8L392.9 634.8M420.4 644.1L392.9 634.8L411.9 671.6M486.7 704.8L398.1 600.4M433.7 617.5L398.1 600.4L421.1 652.2M510.2 704.8L402.1 753.1M434.9 716.0L402.1 753.1L440.7 758.3M533.8 704.8L495.3 794.0M502.6 757.1L495.3 794.0L513.4 772.1M557.3 704.8L546.3 801.9M544.0 767.7L546.3 801.9L555.8 772.0M580.8 704.8L564.8 785.1M565.2 755.5L564.8 785.1L574.9 761.7M604.3 704.8L565.5 772.5M574.2 742.6L565.5 772.5L582.4 757.7M627.8 704.8L603.6 733.9M609.8 719.6L603.6 733.9L613.3 729.0M651.3 704.8L632.0 713.9M637.8 707.1L632.0 713.9L638.9 714.6M674.8 704.8L650.4 743.5M656.1 725.9L650.4 743.5L660.8 735.5M698.3 704.8L667.2 751.4M674.7 729.9L667.2 751.4L680.3 742.1M721.8 704.8L685.0 675.4M698.9 677.9L685.0 675.4L695.4 692.3M745.3 704.8L736.9 683.6M741.0 688.9L736.9 683.6L738.4 692.2M768.8 704.8L762.5 678.9M766.1 686.2L762.5 678.9L763.0 688.7M792.3 704.8L789.7 683.7M791.8 690.1L789.7 683.7L789.3 691.2M815.8 704.8L815.0 689.2M816.2 694.2L815.0 689.2L814.3 694.5M839.3 704.8L835.5 720.2M835.8 714.3L835.5 720.2L837.7 715.8M862.9 704.8L856.8 723.4M857.6 716.0L856.8 723.4L859.9 718.4M886.4 704.8L882.9 746.4M881.5 732.0L882.9 746.4L886.6 733.3M909.9 704.8L911.9 765.8M907.5 746.0L911.9 765.8L914.9 745.2M933.4 704.8L928.5 764.8M926.4 744.1L928.5 764.8L933.7 746.0M956.9 704.8L953.5 767.0M950.9 745.8L953.5 767.0L958.4 747.2M980.4 704.8L971.4 780.1M969.8 753.5L971.4 780.1L978.9 757.0M1003.9 704.8L993.3 762.3M993.3 741.2L993.3 762.3L1000.3 745.4M1027.4 704.8L1029.4 729.1M1027.2 721.5L1029.4 729.1L1030.2 720.7M1050.9 704.8L1049.9 720.2M1049.3 714.9L1049.9 720.2L1051.2 715.3M1074.4 704.8L1070.1 725.8M1070.2 718.0L1070.1 725.8L1072.8 719.7M1097.9 704.8L1093.9 750.1M1092.5 734.4L1093.9 750.1L1098.0 735.9M1121.4 704.8L1105.7 775.4M1106.6 749.0L1105.7 775.4L1115.2 755.2M1144.9 704.8L1146.2 799.6M1140.0 768.6L1146.2 799.6L1151.5 768.1M1168.5 704.8L1173.4 798.3M1166.1 768.4L1173.4 798.3L1177.4 766.5M1192.0 704.8L1193.5 781.7M1188.3 756.6L1193.5 781.7L1197.7 756.0M1215.5 704.8L1209.0 745.5M1208.6 730.8L1209.0 745.5L1213.6 733.3M1239.0 704.8L1253.2 711.8M1248.1 712.2L1253.2 711.8L1248.9 706.7M1262.5 704.8L1279.3 706.2M1273.6 709.0L1279.3 706.2L1273.8 702.4M1286.0 704.8L1318.1 684.9M1308.7 697.7L1318.1 684.9L1306.3 685.2M1309.5 704.8L1350.7 678.8M1338.7 695.4L1350.7 678.8L1335.5 679.3M1333.0 704.8L1354.6 658.2M1350.3 677.8L1354.6 658.2L1344.6 669.3M1356.5 704.8L1361.1 645.8M1363.1 666.1L1361.1 645.8L1356.0 664.4M1380.0 704.8L1391.3 659.8M1390.3 676.8L1391.3 659.8L1384.8 672.4M1403.5 704.8L1387.5 718.5M1391.9 710.8L1387.5 718.5L1393.6 717.1M1427.0 704.8L1407.9 738.8M1412.1 723.8L1407.9 738.8L1416.3 731.3M369.2 662.5L362.8 646.3M365.9 650.4L362.8 646.3L363.9 652.9M392.7 662.5L374.7 670.6M380.2 664.4L374.7 670.6L381.2 671.4M416.2 662.5L373.3 658.5M387.7 651.4L373.3 658.5L387.2 668.2M439.7 662.5L404.1 625.6M418.1 630.8L404.1 625.6L413.6 644.7M463.2 662.5L440.7 586.9M452.7 607.4L440.7 586.9L443.6 616.2M486.7 662.5L467.5 581.2M478.8 604.3L467.5 581.2L468.9 611.8M510.2 662.5L460.9 660.8M477.3 651.7L460.9 660.8L477.0 671.1M533.8 662.5L511.4 671.5M518.3 664.2L511.4 671.5L519.3 672.9M557.3 662.5L530.6 580.7M544.4 602.5L530.6 580.7L534.5 612.9M580.8 662.5L562.1 567.3M574.0 595.1L562.1 567.3L562.5 602.4M604.3 662.5L545.0 658.8M564.8 648.4L545.0 658.8L564.4 671.6M627.8 662.5L588.1 684.5M599.9 669.5L588.1 684.5L602.5 685.0M651.3 662.5L619.7 678.4M629.2 667.0L619.7 678.4L631.1 679.3M674.8 662.5L635.4 691.1M646.7 674.0L635.4 691.1L650.2 689.4M698.3 662.5L668.9 698.1M676.5 680.6L668.9 698.1L680.8 692.1M721.8 662.5L688.3 693.6M697.5 676.8L688.3 693.6L701.3 689.9M745.3 662.5L705.0 656.2M718.7 650.4L705.0 656.2L717.9 666.2M768.8 662.5L764.6 609.3M769.2 626.1L764.6 609.3L762.7 627.7M792.3 662.5L750.9 678.5M763.6 665.1L750.9 678.5L765.6 681.3M815.8 662.5L791.4 684.4M798.1 672.4L791.4 684.4L800.8 682.0M839.3 662.5L833.7 703.6M833.1 689.0L833.7 703.6L838.0 691.2M862.9 662.5L860.4 702.9M858.8 689.1L860.4 702.9L863.7 690.0M886.4 662.5L891.8 717.2M886.7 700.2L891.8 717.2L893.3 698.1M909.9 662.5L911.6 729.6M907.0 707.8L911.6 729.6L915.1 707.1M933.4 662.5L933.4 722.0M929.8 702.4L933.4 722.0L937.0 702.3M956.9 662.5L945.6 734.9M944.9 708.8L945.6 734.9L953.7 713.3M980.4 662.5L983.8 744.8M977.7 718.3L983.8 744.8L987.6 717.0M1003.9 662.5L1020.7 729.9M1011.1 710.9L1020.7 729.9L1019.3 704.4M1027.4 662.5L1044.5 713.1M1035.8 699.8L1044.5 713.1L1041.9 693.1M1050.9 662.5L1058.0 684.9M1054.3 678.9L1058.0 684.9L1057.0 676.2M1074.4 662.5L1088.0 700.7M1081.2 690.8L1088.0 700.7L1085.9 685.5M1097.9 662.5L1111.4 708.8M1104.2 696.2L1111.4 708.8L1109.8 690.9M1121.4 662.5L1122.6 731.7M1118.0 709.1L1122.6 731.7L1126.4 708.6M1144.9 662.5L1117.9 743.4M1121.9 711.4L1117.9 743.4L1131.7 722.0M1168.5 662.5L1144.6 744.7M1147.5 713.0L1144.6 744.7L1157.5 722.3M1192.0 662.5L1171.8 734.2M1174.1 706.6L1171.8 734.2L1182.8 714.5M1215.5 662.5L1199.6 711.9M1201.9 692.5L1199.6 711.9L1207.9 698.7M1239.0 662.5L1234.3 711.0M1232.9 694.1L1234.3 711.0L1238.8 696.0M1262.5 662.5L1268.8 708.6M1263.9 694.7L1268.8 708.6L1269.5 692.2M1286.0 662.5L1298.8 676.1M1293.8 674.1L1298.8 676.1L1295.4 669.1M1309.5 662.5L1329.7 656.2M1323.4 662.2L1329.7 656.2L1322.7 654.3M1333.0 662.5L1369.8 625.7M1359.9 645.0L1369.8 625.7L1355.4 630.6M1356.5 662.5L1321.8 730.8M1329.1 701.5L1321.8 730.8L1337.4 715.1M1380.0 662.5L1356.3 721.1M1360.6 697.1L1356.3 721.1L1367.7 706.4M369.2 620.3L372.8 598.2M372.9 606.2L372.8 598.2L370.3 604.8M392.7 620.3L397.1 601.4M396.8 608.5L397.1 601.4L394.5 606.8M416.2 620.3L413.3 602.5M415.3 607.8L413.3 602.5L413.2 608.9M439.7 620.3L427.4 582.8M433.7 592.8L427.4 582.8L429.2 597.6M463.2 620.3L457.8 593.6M461.2 601.4L457.8 593.6L458.0 603.5M486.7 620.3L475.6 569.2M482.4 583.9L475.6 569.2L476.2 588.3M510.2 620.3L497.2 552.1M505.6 572.0L497.2 552.1L497.4 577.1M533.8 620.3L550.1 577.4M547.3 594.7L550.1 577.4L542.1 588.4M557.3 620.3L585.9 586.1M578.5 603.0L585.9 586.1L574.4 591.8M580.8 620.3L602.4 563.6M598.7 586.5L602.4 563.6L591.8 578.1M604.3 620.3L540.9 627.2M561.4 612.5L540.9 627.2L562.2 637.3M627.8 620.3L562.7 617.2M584.4 605.5L562.7 617.2L584.0 631.0M651.3 620.3L584.3 601.7M607.5 594.7L584.3 601.7L605.3 620.9M674.8 620.3L609.2 604.4M631.8 596.8L609.2 604.4L629.9 622.5M698.3 620.3L639.7 596.0M660.5 592.5L639.7 596.0L657.5 615.5M721.8 620.3L661.1 607.9M681.9 600.1L661.1 607.9L680.4 623.9M745.3 620.3L679.9 578.6M704.0 579.6L679.9 578.6L698.9 605.2M768.8 620.3L744.1 541.6M757.0 562.7L744.1 541.6L747.5 572.4M792.3 620.3L747.4 651.5M760.3 632.4L747.4 651.5L764.1 650.0M815.8 620.3L804.0 661.4M805.5 645.5L804.0 661.4L810.4 650.1M839.3 620.3L844.6 665.0M840.2 651.3L844.6 665.0L845.6 649.2M862.9 620.3L875.7 678.3M868.0 661.6L875.7 678.3L875.0 656.6M886.4 620.3L884.9 673.6M882.1 655.7L884.9 673.6L888.6 656.3M909.9 620.3L899.1 670.2M899.6 651.6L899.1 670.2L905.7 655.8M933.4 620.3L922.2 664.7M923.2 647.9L922.2 664.7L928.6 652.2M956.9 620.3L952.3 665.9M951.1 649.9L952.3 665.9L956.6 651.7M980.4 620.3L970.5 698.8M969.0 671.0L970.5 698.8L978.5 674.8M1003.9 620.3L995.2 701.1M993.2 672.7L995.2 701.1L1002.9 676.1M1027.4 620.3L1039.9 691.6M1031.5 670.5L1039.9 691.6L1040.1 665.6M1050.9 620.3L1067.2 668.7M1058.9 655.9L1067.2 668.7L1064.8 649.5M1074.4 620.3L1086.6 665.0M1079.8 652.6L1086.6 665.0L1085.3 647.9M1097.9 620.3L1104.2 661.5M1099.6 649.2L1104.2 661.5L1104.6 646.7M1121.4 620.3L1112.3 673.9M1112.1 654.4L1112.3 673.9L1118.6 658.0M1144.9 620.3L1117.8 713.6M1121.1 677.5L1117.8 713.6L1132.4 688.1M1168.5 620.3L1150.2 702.9M1151.2 672.1L1150.2 702.9L1161.2 679.2M1192.0 620.3L1164.7 691.9M1169.4 663.0L1164.7 691.9L1178.1 673.6M1215.5 620.3L1196.1 680.8M1198.8 657.0L1196.1 680.8L1206.1 664.6M1239.0 620.3L1217.2 676.7M1221.0 653.8L1217.2 676.7L1227.8 662.4M1262.5 620.3L1239.9 681.9M1243.6 657.2L1239.9 681.9L1251.1 666.0M1286.0 620.3L1272.5 668.2M1274.0 649.8L1272.5 668.2L1279.8 655.1M1309.5 620.3L1301.5 643.0M1302.7 634.0L1301.5 643.0L1305.5 637.1M1333.0 620.3L1322.5 646.0M1324.4 635.4L1322.5 646.0L1327.5 639.5M1356.5 620.3L1335.5 659.0M1340.1 642.1L1335.5 659.0L1344.8 650.4M369.2 578.1L377.3 533.6M377.3 549.8L377.3 533.6L371.9 546.7M392.7 578.1L411.5 536.6M407.8 554.0L411.5 536.6L402.8 546.6M416.2 578.1L418.4 556.9M419.0 564.3L418.4 556.9L416.4 563.5M439.7 578.1L446.0 570.1M444.4 573.9L446.0 570.1L443.5 571.5M463.2 578.1L467.4 564.4M466.9 569.7L467.4 564.4L465.2 568.1M486.7 578.1L488.3 550.3M489.4 559.8L488.3 550.3L486.1 559.2M510.2 578.1L509.1 527.0M512.6 543.6L509.1 527.0L506.4 544.1M533.8 578.1L567.1 542.9M558.2 561.0L567.1 542.9L554.0 548.0M557.3 578.1L588.8 544.8M580.4 561.9L588.8 544.8L576.4 549.6M580.8 578.1L596.0 579.7M590.9 582.2L596.0 579.7L591.1 576.2M604.3 578.1L570.2 570.9M581.9 566.6L570.2 570.9L581.0 579.9M627.8 578.1L584.0 559.1M599.6 556.8L584.0 559.1L597.3 573.9M651.3 578.1L588.5 557.5M610.5 552.0L588.5 557.5L608.0 576.6M674.8 578.1L618.5 571.1M637.5 562.4L618.5 571.1L636.6 584.4M698.3 578.1L641.1 589.1M659.3 574.3L641.1 589.1L660.6 596.7M721.8 578.1L659.3 579.1M679.9 566.5L659.3 579.1L680.0 591.0M745.3 578.1L692.2 623.3M707.0 597.9L692.2 623.3L712.5 618.7M768.8 578.1L739.1 629.8M745.8 606.9L739.1 629.8L752.1 618.6M792.3 578.1L790.4 596.5M789.9 590.1L790.4 596.5L792.1 590.8M815.8 578.1L826.7 597.3M821.9 593.1L826.7 597.3L824.3 588.9M839.3 578.1L865.2 615.1M854.5 608.0L865.2 615.1L858.9 597.8M862.9 578.1L880.5 616.7M872.3 607.4L880.5 616.7L877.0 600.5M886.4 578.1L888.9 603.2M886.6 595.4L888.9 603.2L889.6 594.4M909.9 578.1L905.8 606.3M905.4 596.2L905.8 606.3L908.9 597.8M933.4 578.1L933.7 601.2M932.2 593.6L933.7 601.2L935.0 593.5M956.9 578.1L956.1 624.0M953.6 608.7L956.1 624.0L959.1 609.0M980.4 578.1L982.2 645.7M977.5 623.7L982.2 645.7L985.7 623.0M1003.9 578.1L1015.6 669.9M1006.2 641.9L1015.6 669.9L1017.3 637.3M1027.4 578.1L1021.8 647.5M1019.4 623.5L1021.8 647.5L1027.8 625.7M1050.9 578.1L1034.3 620.4M1037.2 603.2L1034.3 620.4L1042.4 609.7M1074.4 578.1L1054.2 606.9M1059.1 593.4L1054.2 606.9L1062.6 601.4M1097.9 578.1L1073.5 618.9M1079.1 600.6L1073.5 618.9L1084.0 610.2M1121.4 578.1L1105.6 627.1M1107.9 607.8L1105.6 627.1L1113.8 614.0M1144.9 578.1L1134.7 636.9M1134.5 615.5L1134.7 636.9L1141.6 619.5M1168.5 578.1L1155.1 657.4M1154.7 628.6L1155.1 657.4L1164.3 633.8M1192.0 578.1L1184.5 635.7M1183.5 615.2L1184.5 635.7L1190.5 618.1M1215.5 578.1L1197.6 641.1M1199.7 616.8L1197.6 641.1L1207.3 623.8M1239.0 578.1L1225.9 646.9M1226.0 621.6L1225.9 646.9L1234.4 626.7M1262.5 578.1L1249.6 645.9M1249.7 621.0L1249.6 645.9L1257.9 626.0M1286.0 578.1L1275.6 649.5M1274.7 623.9L1275.6 649.5L1283.4 628.0M1309.5 578.1L1279.2 633.1M1285.9 609.0L1279.2 633.1L1292.6 620.9M369.2 535.8L376.2 486.4M376.9 504.1L376.2 486.4L370.9 501.4M392.7 535.8L407.3 517.9M403.6 526.7L407.3 517.9L401.4 520.9M416.2 535.8L423.8 524.9M422.0 530.0L423.8 524.9L420.7 527.0M439.7 535.8L449.6 530.2M446.7 534.0L449.6 530.2L446.0 530.2M463.2 535.8L472.8 533.1M469.8 535.9L472.8 533.1L469.5 532.1M486.7 535.8L491.6 523.2M490.7 528.3L491.6 523.2L489.2 526.4M510.2 535.8L512.4 521.3M512.6 526.5L512.4 521.3L510.8 525.7M533.8 535.8L542.4 520.2M540.5 527.1L542.4 520.2L538.6 523.7M557.3 535.8L571.7 527.0M567.5 532.7L571.7 527.0L566.4 527.1M580.8 535.8L611.4 510.6M602.8 524.9L611.4 510.6L599.7 512.9M604.3 535.8L601.3 482.8M605.5 499.7L601.3 482.8L599.0 500.9M627.8 535.8L619.4 502.1M624.2 511.6L619.4 502.1L620.1 514.9M651.3 535.8L641.9 514.3M646.3 519.5L641.9 514.3L643.7 523.2M674.8 535.8L662.2 549.4M665.6 542.5L662.2 549.4L667.2 547.4M698.3 535.8L679.9 550.8M685.1 542.3L679.9 550.8L686.9 549.5M721.8 535.8L700.2 582.8M704.5 563.1L700.2 582.8L710.2 571.5M745.3 535.8L728.6 590.2M730.8 569.0L728.6 590.2L737.4 575.5M768.8 535.8L750.8 578.3M754.1 560.7L750.8 578.3L759.3 567.8M792.3 535.8L790.2 552.3M789.9 546.4L790.2 552.3L791.9 547.3M815.8 535.8L818.8 552.6M816.8 547.6L818.8 552.6L818.8 546.5M839.3 535.8L840.9 555.1M839.2 549.0L840.9 555.1L841.5 548.4M862.9 535.8L869.7 553.3M866.4 548.9L869.7 553.3L868.5 546.2M886.4 535.8L904.6 532.3M898.8 537.0L904.6 532.3L898.4 529.9M909.9 535.8L924.0 543.8M918.9 543.9L924.0 543.8L919.8 538.4M933.4 535.8L953.1 565.5M944.8 559.5L953.1 565.5L948.4 551.8M956.9 535.8L979.2 577.6M969.3 568.2L979.2 577.6L974.3 559.4M980.4 535.8L1000.2 599.9M989.8 582.7L1000.2 599.9L997.5 574.9M1003.9 535.8L1019.3 627.5M1008.6 600.2L1019.3 627.5L1019.7 594.2M1027.4 535.8L1032.4 597.3M1027.0 578.0L1032.4 597.3L1034.5 576.0M1050.9 535.8L1052.0 591.4M1048.3 573.3L1052.0 591.4L1055.0 572.8M1074.4 535.8L1044.2 576.2M1051.7 556.9L1044.2 576.2L1056.6 568.8M1097.9 535.8L1062.8 588.8M1071.2 564.4L1062.8 588.8L1077.6 578.2M1121.4 535.8L1090.5 578.8M1098.1 558.5L1090.5 578.8L1103.3 570.7M1144.9 535.8L1120.8 603.9M1124.6 576.7L1120.8 603.9L1132.9 586.2M1168.5 535.8L1143.2 594.2M1148.0 570.0L1143.2 594.2L1155.1 579.9M1192.0 535.8L1184.3 580.6M1184.1 564.3L1184.3 580.6L1189.5 567.3M1215.5 535.8L1200.9 582.9M1202.9 564.5L1200.9 582.9L1208.6 570.2M1239.0 535.8L1234.6 579.9M1233.3 564.5L1234.6 579.9L1238.7 566.2M1262.5 535.8L1242.6 582.5M1246.3 563.2L1242.6 582.5L1252.0 571.0M392.7 493.6L404.5 484.8M401.1 490.0L404.5 484.8L400.0 485.4M416.2 493.6L431.6 504.1M425.9 503.6L431.6 504.1L427.2 497.6M439.7 493.6L465.6 508.6M456.1 508.7L465.6 508.6L458.0 498.6M463.2 493.6L498.4 510.1M485.8 511.6L498.4 510.1L487.8 497.8M486.7 493.6L511.6 469.0M504.9 482.0L511.6 469.0L501.9 472.3M510.2 493.6L523.5 470.9M520.5 481.0L523.5 470.9L517.8 475.8M533.8 493.6L522.2 482.2M526.7 483.7L522.2 482.2L525.3 488.2M557.3 493.6L544.1 489.7M548.7 488.4L544.1 489.7L548.2 493.6M580.8 493.6L579.0 469.7M581.0 477.2L579.0 469.7L578.1 477.9M604.3 493.6L603.3 446.8M606.5 462.0L603.3 446.8L600.8 462.4M627.8 493.6L624.7 443.4M628.7 459.4L624.7 443.4L622.7 460.6M651.3 493.6L703.7 512.9M685.2 516.8L703.7 512.9L687.6 496.2M674.8 493.6L712.2 514.9M698.5 515.2L712.2 514.9L701.1 500.6M698.3 493.6L716.3 501.9M709.9 502.7L716.3 501.9L710.9 495.6M721.8 493.6L721.0 512.9M720.1 506.3L721.0 512.9L722.4 506.7M745.3 493.6L752.3 530.6M747.8 519.7L752.3 530.6L752.2 517.0M768.8 493.6L768.1 511.6M767.2 505.5L768.1 511.6L769.4 505.8M792.3 493.6L786.2 510.1M787.3 503.4L786.2 510.1L789.3 505.8M909.9 493.6L946.4 502.5M933.8 506.7L946.4 502.5L934.9 492.4M933.4 493.6L970.1 513.6M956.8 514.2L970.1 513.6L959.2 499.8M956.9 493.6L1001.4 506.5M985.9 511.0L1001.4 506.5L987.5 493.6M980.4 493.6L1025.4 532.4M1008.2 528.4L1025.4 532.4L1012.9 510.8M1003.9 493.6L1032.7 578.7M1018.0 556.2L1032.7 578.7L1028.3 545.0M1027.4 493.6L1046.7 541.6M1037.5 529.5L1046.7 541.6L1043.3 522.0M1050.9 493.6L1064.5 516.0M1058.7 511.3L1064.5 516.0L1061.4 506.0M1074.4 493.6L1056.5 497.9M1062.2 493.0L1056.5 497.9L1062.7 500.0M1097.9 493.6L1057.7 516.6M1069.6 501.1L1057.7 516.6L1072.4 516.9M1121.4 493.6L1071.0 556.8M1083.8 526.1L1071.0 556.8L1091.5 545.8M1144.9 493.6L1120.7 570.2M1124.1 540.2L1120.7 570.2L1133.3 549.7M1168.5 493.6L1139.8 585.0M1143.7 549.2L1139.8 585.0L1154.8 560.4M1192.0 493.6L1167.7 555.2M1172.0 530.1L1167.7 555.2L1179.4 539.6M1215.5 493.6L1192.5 547.1M1196.8 524.9L1192.5 547.1L1203.3 533.9M463.2 451.3L495.4 440.2M485.5 450.2L495.4 440.2L484.1 437.6M486.7 451.3L527.0 439.5M514.4 451.3L527.0 439.5L513.0 435.5M510.2 451.3L515.8 398.9M517.1 417.3L515.8 398.9L510.8 415.1M533.8 451.3L521.4 418.5M527.5 427.0L521.4 418.5L523.5 431.8M557.3 451.3L550.0 434.4M553.4 438.6L550.0 434.4L551.4 441.4M580.8 451.3L580.7 435.8M581.6 440.9L580.7 435.8L579.8 441.0M604.3 451.3L619.6 456.2M614.3 457.6L619.6 456.2L614.9 451.6M627.8 451.3L648.9 493.7M639.3 483.9L648.9 493.7L644.5 475.6M651.3 451.3L692.3 484.4M676.8 481.5L692.3 484.4L680.8 465.5M674.8 451.3L728.3 425.3M712.2 444.3L728.3 425.3L709.0 423.4M698.3 451.3L743.8 427.0M730.3 443.9L743.8 427.0L727.3 426.1M721.8 451.3L759.3 476.0M745.5 475.2L759.3 476.0L748.5 460.5M745.3 451.3L761.0 486.1M753.7 477.7L761.0 486.1L757.9 471.6M768.8 451.3L777.7 439.9M775.4 445.4L777.7 439.9L774.1 442.0M792.3 451.3L806.7 437.0M802.8 444.5L806.7 437.0L801.1 438.9M980.4 451.3L1007.2 490.9M995.9 483.1L1007.2 490.9L1000.7 472.6M1003.9 451.3L1017.1 498.0M1009.9 485.2L1017.1 498.0L1015.6 480.0M1027.4 451.3L1050.2 495.4M1040.0 485.4L1050.2 495.4L1045.4 476.4M1050.9 451.3L1080.6 464.5M1070.0 466.0L1080.6 464.5L1071.6 454.3M1074.4 451.3L1047.2 422.2M1057.9 426.5L1047.2 422.2L1054.4 437.2M1097.9 451.3L1059.0 440.6M1072.5 436.5L1059.0 440.6L1071.2 451.7M1121.4 451.3L1077.7 437.2M1093.0 433.3L1077.7 437.2L1091.3 450.4M1144.9 451.3L1075.9 477.0M1097.2 455.0L1075.9 477.0L1100.3 482.0M463.2 409.1L477.1 388.4M473.8 398.0L477.1 388.4L471.3 392.5M486.7 409.1L494.7 352.1M495.5 372.5L494.7 352.1L488.6 369.4M510.2 409.1L506.9 343.2M512.0 364.3L506.9 343.2L504.0 365.6M533.8 409.1L538.9 345.9M541.0 367.8L538.9 345.9L533.4 365.8M557.3 409.1L584.7 373.8M577.8 390.8L584.7 373.8L573.5 380.1M580.8 409.1L619.4 418.1M606.1 422.7L619.4 418.1L607.2 407.6M604.3 409.1L637.6 421.9M625.8 424.2L637.6 421.9L627.4 411.2M627.8 409.1L647.4 450.5M638.4 440.7L647.4 450.5L643.4 433.0M651.3 409.1L679.8 445.0M668.2 438.7L679.8 445.0L672.6 427.6M674.8 409.1L714.2 418.6M700.6 423.2L714.2 418.6L701.8 407.7M698.3 409.1L738.7 387.1M726.7 402.3L738.7 387.1L724.0 386.5M721.8 409.1L764.0 414.6M749.7 421.1L764.0 414.6L750.4 404.6M745.3 409.1L781.2 406.0M769.5 414.0L781.2 406.0L769.1 400.0M768.8 409.1L786.7 395.7M781.6 403.6L786.7 395.7L780.0 396.7M792.3 409.1L819.9 378.9M812.6 394.3L819.9 378.9L809.0 383.5M1097.9 409.1L1062.3 393.2M1075.0 391.5L1062.3 393.2L1073.1 405.5M1144.9 409.1L1105.7 402.5M1119.1 397.0L1105.7 402.5L1118.3 412.4M463.2 366.9L463.3 314.3M466.4 331.7L463.3 314.3L460.1 331.7M486.7 366.9L489.1 317.8M491.3 334.5L489.1 317.8L485.3 333.5M510.2 366.9L522.2 318.3M521.2 336.7L522.2 318.3L515.3 332.0M533.8 366.9L563.8 328.4M556.2 347.0L563.8 328.4L551.6 335.2M557.3 366.9L602.0 326.0M589.7 348.3L602.0 326.0L584.8 330.8M580.8 366.9L619.9 359.9M607.4 369.9L619.9 359.9L606.6 354.5M604.3 366.9L637.8 379.8M626.0 382.1L637.8 379.8L627.5 369.0M651.3 366.9L675.6 413.1M664.8 402.6L675.6 413.1L670.4 393.1M698.3 366.9L745.7 355.1M730.8 368.3L745.7 355.1L729.4 349.7M463.2 324.6L465.1 276.1M467.4 292.5L465.1 276.1L461.5 291.8M486.7 324.6L489.7 267.7M492.1 287.1L489.7 267.7L485.2 285.9M510.2 324.6L521.6 270.3M521.1 290.4L521.6 270.3L514.5 286.0M533.8 324.6L599.4 295.0M579.5 317.6L599.4 295.0L575.9 291.9M557.3 324.6L638.0 316.4M611.8 334.9L638.0 316.4L610.8 303.3M580.8 324.6L633.2 313.8M616.5 327.6L633.2 313.8L615.2 307.1M604.3 324.6L655.6 338.4M637.8 343.9L655.6 338.4L639.5 323.8M651.3 324.6L677.3 359.5M666.6 353.1L677.3 359.5L670.8 342.9M698.3 324.6L733.1 293.3M723.5 310.4L733.1 293.3L719.7 296.8M510.2 282.4L559.8 257.6M544.9 275.5L559.8 257.6L541.9 256.1M533.8 282.4L596.1 303.8M574.2 308.9L596.1 303.8L576.8 284.6M557.3 282.4L615.5 287.8M596.0 297.4L615.5 287.8L596.6 274.6M580.8 282.4L623.9 232.5M612.7 257.4L623.9 232.5L606.6 240.5M604.3 282.4L654.7 301.1M636.9 304.8L654.7 301.1L639.2 285.1M651.3 282.4L677.3 330.6M665.8 319.8L677.3 330.6L671.6 309.6M698.3 282.4L732.7 219.8M725.2 247.2L732.7 219.8L717.6 233.7M745.3 282.4L777.8 231.1M770.2 254.4L777.8 231.1L764.0 241.7M557.3 240.1L575.5 195.4M572.2 213.7L575.5 195.4L566.8 206.6M580.8 240.1L599.6 183.5M596.8 205.9L599.6 183.5L590.0 198.5M604.3 240.1L648.9 250.1M633.6 255.6L648.9 250.1L634.8 238.1M651.3 240.1L666.7 289.7M658.6 276.4L666.7 289.7L664.6 270.3M557.3 197.9L558.9 176.7M559.7 184.0L558.9 176.7L557.1 183.3M580.8 197.9L593.9 174.3M591.0 184.6L593.9 174.3L588.1 179.5M604.3 197.9L621.7 165.9M617.9 179.9L621.7 165.9L614.0 173.1M651.3 197.9L673.1 235.7M663.6 227.5L673.1 235.7L668.2 219.0"/>
</g>
<text x="258" y="1109.5" font-size="18">Data source: AVISO &amp; NOAA. Processed by KUST software (MHI, Sevastopol)</text>
<g id="coast" fill="none" stroke="#000" stroke-width="6" stroke-linejoin="round" stroke-linecap="round" shape-rendering="crispEdges">
<path d="M935.2 220.3L937.7 212.8L945.2 207.8L957.7 204.0L962.7 195.2L970.2 185.2L974.0 175.2L971.5 165.2L969.0 160.2L976.5 172.7L975.3 190.2L977.8 200.2L972.8 215.3L967.7 225.3L957.7 231.6L950.2 235.3L949.0 230.3L960.2 225.3L970.2 220.3M976.5 200.2L985.3 187.7L992.8 176.4L1007.8 167.7L1020.4 152.6L1035.4 141.4L1050.4 137.6L1064.2 138.9L1070.5 143.9L1068.0 155.1L1063.0 163.9L1056.7 167.7L1068.0 157.7L1075.5 142.6L1081.7 130.1L1095.5 122.6L1108.1 118.8L1119.3 122.6L1123.1 130.1L1120.6 138.9L1115.6 145.1L1124.3 132.6L1126.9 120.1L1133.1 111.3L1145.6 102.5L1158.2 95.0L1168.2 97.5L1166.9 106.3L1173.2 95.0L1175.7 90.0M1318.5 93.8L1301.0 102.5L1286.0 103.8L1275.9 107.5L1270.9 115.1L1267.2 122.6L1265.9 131.3L1270.9 140.1L1280.9 141.4L1288.5 136.4L1289.7 128.8L1283.5 122.6L1273.4 121.3L1267.2 125.1L1258.4 127.6L1245.9 133.8L1235.8 141.4L1220.8 141.4L1210.8 136.4L1204.5 132.6L1210.8 140.1L1215.8 155.1L1219.6 167.7L1225.8 180.2L1233.3 189.0L1234.6 184.0L1243.4 184.0L1252.1 190.2L1258.4 200.2L1260.9 210.3L1273.4 220.3L1286.0 230.3L1288.5 242.8L1278.4 245.3L1270.9 235.3L1258.4 220.3L1253.4 230.3L1249.6 240.3L1248.4 250.4L1243.4 260.4L1239.6 250.4L1240.9 241.6L1233.3 244.1L1227.1 255.4L1223.3 270.4L1219.6 287.9L1210.8 295.5L1199.5 304.2L1197.0 315.5L1195.8 330.5L1193.2 343.1L1185.7 355.6L1175.7 361.9L1165.7 363.1L1153.2 360.6L1140.6 353.1L1130.6 345.6L1123.1 344.3L1115.6 348.1L1109.3 355.6L1103.0 360.6L1091.8 361.9L1085.5 368.1L1084.3 383.2L1086.8 395.7L1089.3 403.0M1109.3 355.6L1120.6 354.3L1126.9 363.1L1138.1 365.6L1133.1 373.1L1118.1 376.9L1104.3 381.9L1096.8 371.9L1093.0 366.9M1104.3 381.9L1100.5 390.7L1108.1 399.4L1123.1 403.0M1145.6 370.6L1155.7 365.6L1168.2 366.9L1160.7 375.6L1148.1 378.1L1145.6 370.6M1108.1 350.6L1100.5 344.3L1090.5 343.1L1080.5 338.1L1070.5 338.1L1057.9 340.6L1051.7 345.6L1050.4 353.1L1045.4 358.1L1039.2 353.1L1032.9 345.6L1031.6 340.6L1026.6 340.6L1024.1 348.1L1020.4 355.6L1015.3 363.1L1005.3 365.6L996.6 373.1L992.8 376.9M935.2 220.3L937.7 240.3L942.7 265.4L950.2 290.5L960.2 315.5L970.2 338.1L982.8 360.6L992.8 376.9M932.7 225.3L938.9 265.4L946.4 295.5L956.5 323.0L957.7 340.6L951.5 345.6L947.7 355.6L952.7 360.6L967.7 361.9L980.3 370.6L992.8 378.1M935.2 220.3L922.6 219.0L916.4 222.8L916.4 232.8L913.9 245.3L905.1 250.4L900.1 260.4L902.6 270.4L910.1 275.4L905.1 282.9L912.6 287.9L911.4 295.5L920.1 298.0L921.4 304.2L932.7 303.0L933.9 310.5L945.2 305.5M922.6 230.3L921.4 245.3L927.7 252.9L920.1 262.9L927.7 270.4L922.6 280.4L932.7 285.4L927.7 293.0L940.2 298.0M910.1 260.4L917.6 257.9L918.9 265.4L911.4 267.9M992.8 403.0L1000.3 396.9L1010.3 396.9L1020.4 403.0M448.9 403.0L447.6 385.7L453.9 373.1L458.9 360.6L456.4 348.1L448.9 343.1L446.4 330.5L442.6 323.0L442.6 310.5L446.4 300.5L448.9 287.9L448.9 282.9L453.9 284.2L456.4 293.0L462.6 298.0L463.9 290.5L471.4 287.9L475.2 277.9L482.7 281.7L485.2 275.4L494.0 269.2L495.2 274.2M448.9 329.3L465.1 315.5L482.7 301.7L500.2 282.9L515.3 262.9L527.8 241.6L540.3 217.8L550.3 192.7L554.1 175.2L550.3 163.9L555.3 156.4L572.9 150.1L577.9 143.9L590.4 143.9L608.0 143.9L619.2 140.1L621.7 128.8L616.7 117.6L615.5 115.1L620.5 117.6L625.5 122.6L629.3 113.8L633.0 110.0M495.2 186.5L502.7 183.2L510.2 186.5L514.0 195.2L515.3 202.8L521.5 207.8L520.3 215.3L522.8 225.3L525.3 232.8M495.2 186.5L490.7 192.7L494.0 201.5L499.0 209.0L506.5 212.8L514.0 211.5L516.5 204.0M502.7 190.2L507.7 189.0L510.2 195.2L505.2 197.7L502.7 190.2M540.3 192.7L544.1 191.5L546.6 195.2M621.7 138.9L625.5 143.9L633.0 146.4L640.5 140.1L653.1 143.9L661.8 140.1L661.8 130.1L658.1 120.1L660.6 112.6L665.6 105.0L669.4 96.3L669.4 105.0L665.6 115.1L666.9 130.1L668.1 138.9L675.6 146.4L683.1 152.6L695.7 150.1L699.4 161.4L710.7 169.7L701.9 173.9L693.2 165.2L683.1 162.7L665.6 158.9L650.6 162.7L638.0 157.7L625.5 152.6L621.7 147.6M625.5 153.9L635.5 165.2L643.0 173.9L660.6 172.7L673.1 179.0L674.4 186.5L665.6 191.5L660.6 197.7L645.6 200.2L640.5 206.5L628.0 207.8L620.5 202.8L616.7 194.0L620.5 189.0L626.8 190.2L625.5 195.2L621.7 197.7M626.8 207.8L650.6 215.3L673.1 222.8L695.7 234.1L718.2 242.8L738.3 247.4L755.8 249.1L770.8 248.4M655.6 200.2L665.6 205.3L675.6 210.3L683.1 215.3L691.9 220.3L700.7 226.6L715.7 235.3L723.2 236.6L733.2 232.8L750.8 231.6L763.3 226.6L770.8 224.1L780.9 222.8L783.4 215.3L787.1 224.1L794.6 231.6L800.9 240.3L810.9 241.6L814.7 230.3L818.4 224.1L823.5 230.3L824.7 250.4L831.0 256.6L836.0 262.9L831.0 274.2L823.5 270.4L813.4 276.7L800.9 284.2L788.4 290.5L778.4 290.5L775.8 299.2L763.3 309.2L750.8 316.8L745.8 324.3L733.2 330.5L723.2 338.1L715.7 348.1L714.5 358.1L719.5 365.6L725.7 369.4L735.8 361.9L748.3 358.1L758.3 359.4L764.6 361.9L770.8 355.6L775.8 346.8L783.4 341.8L788.4 336.8M764.6 361.9L768.3 370.6L775.8 380.7L785.9 389.4L795.9 390.7L803.4 398.2L810.9 403.0M450.5 380.0L451.7 387.5L448.0 395.0L446.7 417.6L446.0 435.1L444.2 446.4L443.0 452.7L430.5 450.2L417.9 451.4L405.4 455.2L394.1 456.4L382.8 461.4L370.3 467.7L361.5 469.0L366.6 475.2L365.3 487.7L362.8 497.8L369.1 507.8L361.5 522.8L354.0 537.9L352.8 552.9L355.3 570.4L356.5 585.5L357.8 595.5L350.3 610.5L346.5 623.0L347.8 640.6L346.5 655.6L350.3 670.7L349.0 679.4L340.2 686.9L327.7 689.4L315.2 686.9L302.7 693.0M380.3 462.7L377.8 452.7L380.3 445.1L375.3 438.9L374.1 430.1L377.8 425.1L387.9 420.1L397.9 422.6L399.1 428.9L392.9 432.6L391.6 441.4L396.6 446.4L401.6 451.4L395.4 455.2M385.3 430.1L390.4 427.6L389.1 433.9M361.5 469.0L370.3 465.2L380.3 466.4L377.8 462.7M366.6 475.2L375.3 477.7L376.6 487.7L366.6 490.2M347.8 640.0L350.3 652.5L352.8 667.6L352.8 680.1L345.3 690.1L335.2 692.6L326.5 686.4L315.2 688.9L305.2 693.9L298.9 702.6L296.4 715.2L286.4 725.2L288.9 735.2L283.9 750.2L283.9 765.3L286.4 780.3L285.1 790.3L273.8 802.9L267.6 812.9L262.6 822.9L255.1 832.9L245.0 837.9M267.6 805.4L282.6 795.3L283.9 806.6L267.6 806.6M305.2 693.9L310.2 698.1L325.2 693.9M245.0 853.0L260.1 851.7L265.1 860.5L270.1 873.0L271.3 885.6L280.1 898.1L286.4 913.1L291.4 928.1L298.9 940.7L302.7 949.4L300.2 953.0M280.1 900.0L286.4 910.0L293.9 925.1L296.4 940.1L291.4 947.6L291.4 960.1L296.4 972.7L302.7 985.2L310.2 997.7L317.7 1007.7L330.2 1016.5L342.8 1025.3L355.3 1032.8L365.3 1041.6L377.8 1047.8L390.4 1051.6L402.9 1054.1L417.9 1056.6L430.5 1060.4L445.5 1065.4L460.5 1070.4L475.6 1072.9L490.6 1072.9L500.6 1072.9L504.4 1062.9L509.4 1060.4L518.1 1065.4L530.7 1070.4L543.2 1076.6L553.2 1085.4L565.8 1084.2L580.8 1081.7L593.3 1080.4L603.3 1077.9L610.9 1067.9L613.4 1055.3L613.4 1046.6L620.9 1040.3L635.9 1030.3L650.9 1020.3L663.5 1010.2L676.0 1000.2L688.5 987.7L699.8 975.2M402.9 1054.1L396.6 1060.4L392.9 1070.4L395.4 1080.4L392.9 1090.4L390.4 1097.9L392.9 1108.0L400.4 1113.0M245.0 1097.9L255.1 1095.4L268.8 1092.9L280.1 1097.9L290.1 1100.5L293.9 1090.4L305.2 1084.2L317.7 1081.7L330.2 1085.4L340.2 1092.9L347.8 1097.9L345.3 1085.4L344.0 1081.7L349.0 1090.4L350.3 1099.2L360.3 1097.9L375.3 1095.4L390.4 1092.9M772.7 380.0L780.2 387.5L790.2 392.5L800.2 387.5L807.8 390.0L814.0 400.0L819.0 412.6L821.5 430.1L820.3 442.6L814.0 452.7L812.8 467.7L815.3 482.7L817.8 485.2L807.8 487.7L801.5 489.0L804.0 495.3L810.3 502.8L820.3 505.3L822.8 512.8L830.3 520.3L837.8 524.1L847.9 520.3L857.9 521.6L867.9 517.8L872.9 510.3L880.4 502.8L887.9 497.8L890.5 490.2L882.9 490.2L887.9 485.2L895.5 480.2L903.0 467.7L910.5 460.2L923.0 452.7L935.6 448.9L948.1 447.7L955.6 451.4L959.4 455.2L963.1 446.4L968.1 440.1L973.1 435.1L978.1 427.6L988.2 420.1L993.2 405.1L1003.2 398.8L1015.7 402.6L1025.8 411.3L1030.8 418.8L1040.8 416.3L1050.8 411.3L1063.3 412.6L1073.4 408.8L1083.4 403.8L1088.4 395.0L1085.9 385.0L1088.4 380.0M1100.9 380.0L1105.9 387.5L1116.0 395.0L1128.5 398.8L1141.0 405.1L1151.0 412.6L1159.8 417.6M1142.5 405.1L1150.0 410.1L1157.5 417.6L1165.0 425.1L1168.8 437.6L1172.6 452.7L1177.6 465.2L1187.6 472.7L1200.1 476.5L1210.1 476.5L1213.9 470.2L1212.6 465.2L1217.7 466.4L1222.7 472.7L1223.9 482.7L1232.7 491.5L1240.2 491.5L1241.5 497.8L1246.5 507.8L1252.7 517.8L1262.8 522.8L1272.8 525.3L1285.3 527.8L1297.8 534.1L1307.9 540.4L1312.9 550.4L1322.9 557.9L1330.4 565.4L1336.7 577.9L1345.4 588.0L1355.5 598.0L1363.0 610.5L1373.0 625.6L1383.0 640.6L1393.0 655.6L1400.6 668.1L1410.6 675.7L1415.6 688.2L1428.1 693.0M685.0 984.4L690.0 980.7L700.0 970.7L712.6 960.6L725.1 953.1L740.1 949.4L755.1 943.1L767.7 935.6L780.2 930.6L790.2 923.0L797.7 921.8L807.8 924.3L820.3 928.1L835.3 930.6L847.9 933.1L860.4 929.3L872.9 931.8L885.4 935.6L898.0 930.6L908.0 934.3L920.5 933.1L933.0 930.6L940.6 924.3L943.1 915.5L948.1 906.8L953.1 911.8L960.6 915.5L966.9 916.8L960.6 924.3L959.4 938.1L960.6 948.1L969.4 954.4L973.1 965.6L980.7 973.2L990.7 980.7L1000.7 986.9L1013.2 984.4L1025.8 979.4L1038.3 973.2L1043.3 971.9L1045.8 980.7L1050.8 993.0M790.2 924.3L800.2 927.6L820.3 931.3L840.3 933.6M1408.1 680.0L1415.6 690.0L1428.1 695.0L1438.1 702.6L1444.4 712.6L1448.2 725.1L1458.2 730.1L1473.2 737.6L1485.8 741.4L1500.8 745.1L1508.3 752.7L1518.3 757.7L1523.3 765.2L1525.8 780.2L1533.4 787.7L1545.9 792.8L1555.9 800.3L1560.9 810.3L1563.4 825.3L1565.9 840.4L1568.4 855.4L1573.5 870.4L1576.0 885.5L1570.9 893.0L1576.0 898.0L1581.0 895.5L1581.0 905.5L1584.7 918.0L1587.2 930.6L1588.5 945.6L1587.2 960.6L1583.5 975.7L1576.0 985.7L1570.9 993.0M1145.0 1066.6L1150.0 1067.9L1162.5 1072.9L1175.1 1080.4L1185.1 1090.4L1192.6 1092.9L1200.1 1080.4L1203.9 1072.9L1210.1 1074.1L1212.6 1085.4L1217.7 1095.4L1230.2 1100.5L1245.2 1103.0L1257.7 1104.2L1270.3 1108.0L1282.8 1108.0L1292.8 1100.5L1300.3 1108.0L1305.3 1097.9L1315.4 1092.9L1330.4 1090.4L1342.9 1082.9L1353.0 1087.9L1365.5 1075.4L1373.0 1082.9L1378.0 1092.9L1385.5 1095.4L1395.6 1092.9L1405.6 1100.5L1415.6 1100.5L1423.1 1103.0L1430.6 1109.2L1440.7 1109.2L1450.7 1103.0L1458.2 1095.4L1465.7 1087.9L1475.7 1084.2L1485.8 1077.9L1495.8 1070.4L1503.3 1065.4L1513.3 1062.9L1523.3 1055.3L1533.4 1045.3L1540.9 1037.8L1548.4 1030.3L1555.9 1020.3L1563.4 1012.8L1570.9 1002.7L1573.5 990.2L1581.0 982.7L1586.0 970.2L1587.2 955.1L1587.2 937.6L1584.7 920.0L1581.0 905.0L1578.5 900.0M1043.3 972.7L1048.3 982.7L1053.3 995.2L1055.8 1005.2L1054.6 1015.3L1060.8 1025.3L1068.4 1035.3L1075.9 1045.3L1083.4 1054.1L1090.9 1052.8L1098.4 1045.3L1103.4 1035.3L1110.9 1032.8L1121.0 1036.6L1131.0 1042.8L1141.0 1050.3L1143.5 1060.4L1151.0 1066.6L1159.8 1067.9M1043.3 975.2L1050.8 995.2L1058.3 996.5M902.6 240.3L910.1 250.4L903.8 262.9L913.9 270.4L907.6 280.4L917.6 290.5L913.9 300.5L925.1 305.5M917.6 225.3L925.1 240.3L918.9 252.9L931.4 262.9L923.9 275.4L935.2 282.9L930.2 295.5L942.7 303.0M910.1 230.3L913.9 240.3L908.9 252.9L916.4 260.4"/>
</g>
</g>
<g id="colorbar">
<rect x="1621.5" y="1099.35" width="42.0" height="16.45" fill="rgb(173,97,249)"/>
<rect x="1621.5" y="1083.39" width="42.0" height="16.45" fill="rgb(162,88,237)"/>
<rect x="1621.5" y="1067.44" width="42.0" height="16.45" fill="rgb(152,79,224)"/>
<rect x="1621.5" y="1051.49" width="42.0" height="16.45" fill="rgb(142,70,212)"/>
<rect x="1621.5" y="1035.53" width="42.0" height="16.45" fill="rgb(131,60,200)"/>
<rect x="1621.5" y="1019.58" width="42.0" height="16.45" fill="rgb(121,51,187)"/>
<rect x="1621.5" y="1003.63" width="42.0" height="16.45" fill="rgb(111,42,175)"/>
<rect x="1621.5" y="987.67" width="42.0" height="16.45" fill="rgb(100,32,163)"/>
<rect x="1621.5" y="971.72" width="42.0" height="16.45" fill="rgb(90,23,151)"/>
<rect x="1621.5" y="955.77" width="42.0" height="16.45" fill="rgb(80,14,138)"/>
<rect x="1621.5" y="939.82" width="42.0" height="16.45" fill="rgb(69,5,126)"/>
<rect x="1621.5" y="923.86" width="42.0" height="16.45" fill="rgb(0,6,144)"/>
<rect x="1621.5" y="907.91" width="42.0" height="16.45" fill="rgb(0,17,152)"/>
<rect x="1621.5" y="891.96" width="42.0" height="16.45" fill="rgb(0,28,161)"/>
<rect x="1621.5" y="876.00" width="42.0" height="16.45" fill="rgb(0,39,170)"/>
<rect x="1621.5" y="860.05" width="42.0" height="16.45" fill="rgb(0,50,179)"/>
<rect x="1621.5" y="844.10" width="42.0" height="16.45" fill="rgb(0,61,188)"/>
<rect x="1621.5" y="828.14" width="42.0" height="16.45" fill="rgb(0,72,197)"/>
<rect x="1621.5" y="812.19" width="42.0" height="16.45" fill="rgb(0,83,206)"/>
<rect x="1621.5" y="796.24" width="42.0" height="16.45" fill="rgb(0,94,215)"/>
<rect x="1621.5" y="780.28" width="42.0" height="16.45" fill="rgb(0,106,224)"/>
<rect x="1621.5" y="764.33" width="42.0" height="16.45" fill="rgb(0,117,233)"/>
<rect x="1621.5" y="748.38" width="42.0" height="16.45" fill="rgb(0,128,242)"/>
<rect x="1621.5" y="732.42" width="42.0" height="16.45" fill="rgb(0,139,251)"/>
<rect x="1621.5" y="716.47" width="42.0" height="16.45" fill="rgb(123,249,123)"/>
<rect x="1621.5" y="700.52" width="42.0" height="16.45" fill="rgb(115,237,115)"/>
<rect x="1621.5" y="684.57" width="42.0" height="16.45" fill="rgb(106,226,106)"/>
<rect x="1621.5" y="668.61" width="42.0" height="16.45" fill="rgb(98,214,98)"/>
<rect x="1621.5" y="652.66" width="42.0" height="16.45" fill="rgb(89,202,89)"/>
<rect x="1621.5" y="636.71" width="42.0" height="16.45" fill="rgb(81,191,81)"/>
<rect x="1621.5" y="620.75" width="42.0" height="16.45" fill="rgb(72,179,72)"/>
<rect x="1621.5" y="604.80" width="42.0" height="16.45" fill="rgb(64,168,64)"/>
<rect x="1621.5" y="588.85" width="42.0" height="16.45" fill="rgb(56,156,56)"/>
<rect x="1621.5" y="572.89" width="42.0" height="16.45" fill="rgb(47,144,47)"/>
<rect x="1621.5" y="556.94" width="42.0" height="16.45" fill="rgb(39,133,39)"/>
<rect x="1621.5" y="540.99" width="42.0" height="16.45" fill="rgb(30,121,30)"/>
<rect x="1621.5" y="525.03" width="42.0" height="16.45" fill="rgb(22,109,22)"/>
<rect x="1621.5" y="509.08" width="42.0" height="16.45" fill="rgb(13,98,13)"/>
<rect x="1621.5" y="493.13" width="42.0" height="16.45" fill="rgb(5,86,5)"/>
<rect x="1621.5" y="477.17" width="42.0" height="16.45" fill="rgb(117,101,15)"/>
<rect x="1621.5" y="461.22" width="42.0" height="16.45" fill="rgb(127,113,14)"/>
<rect x="1621.5" y="445.27" width="42.0" height="16.45" fill="rgb(137,124,13)"/>
<rect x="1621.5" y="429.32" width="42.0" height="16.45" fill="rgb(147,135,12)"/>
<rect x="1621.5" y="413.36" width="42.0" height="16.45" fill="rgb(158,147,11)"/>
<rect x="1621.5" y="397.41" width="42.0" height="16.45" fill="rgb(168,158,10)"/>
<rect x="1621.5" y="381.46" width="42.0" height="16.45" fill="rgb(178,169,9)"/>
<rect x="1621.5" y="365.50" width="42.0" height="16.45" fill="rgb(188,181,7)"/>
<rect x="1621.5" y="349.55" width="42.0" height="16.45" fill="rgb(198,192,6)"/>
<rect x="1621.5" y="333.60" width="42.0" height="16.45" fill="rgb(209,203,5)"/>
<rect x="1621.5" y="317.64" width="42.0" height="16.45" fill="rgb(219,215,4)"/>
<rect x="1621.5" y="301.69" width="42.0" height="16.45" fill="rgb(229,226,3)"/>
<rect x="1621.5" y="285.74" width="42.0" height="16.45" fill="rgb(239,237,2)"/>
<rect x="1621.5" y="269.78" width="42.0" height="16.45" fill="rgb(249,249,1)"/>
<rect x="1621.5" y="253.83" width="42.0" height="16.45" fill="rgb(250,123,123)"/>
<rect x="1621.5" y="237.88" width="42.0" height="16.45" fill="rgb(240,111,111)"/>
<rect x="1621.5" y="221.92" width="42.0" height="16.45" fill="rgb(229,99,99)"/>
<rect x="1621.5" y="205.97" width="42.0" height="16.45" fill="rgb(218,88,88)"/>
<rect x="1621.5" y="190.02" width="42.0" height="16.45" fill="rgb(208,76,76)"/>
<rect x="1621.5" y="174.07" width="42.0" height="16.45" fill="rgb(197,64,64)"/>
<rect x="1621.5" y="158.11" width="42.0" height="16.45" fill="rgb(187,53,53)"/>
<rect x="1621.5" y="142.16" width="42.0" height="16.45" fill="rgb(176,41,41)"/>
<rect x="1621.5" y="126.21" width="42.0" height="16.45" fill="rgb(165,29,29)"/>
<rect x="1621.5" y="110.25" width="42.0" height="16.45" fill="rgb(155,18,18)"/>
<rect x="1621.5" y="94.30" width="42.0" height="16.45" fill="rgb(144,6,6)"/>
<rect x="1621.5" y="94.5" width="42.0" height="1020.5" fill="none" stroke="#000" stroke-width="1.2"/>
</g>
<g id="axes" fill="none" stroke="#000" stroke-width="2">
<rect x="244" y="94" width="1345" height="1019"/>
<path d="M292.8 94.0v14M292.8 1113.0v-14"/>
<path d="M480.9 94.0v14M480.9 1113.0v-14"/>
<path d="M668.9 94.0v14M668.9 1113.0v-14"/>
<path d="M857.0 94.0v14M857.0 1113.0v-14"/>
<path d="M1045.0 94.0v14M1045.0 1113.0v-14"/>
<path d="M1233.1 94.0v14M1233.1 1113.0v-14"/>
<path d="M1421.2 94.0v14M1421.2 1113.0v-14"/>
<path d="M244.0 1095.5h14M1589.0 1095.5h-14"/>
<path d="M244.0 926.5h14M1589.0 926.5h-14"/>
<path d="M244.0 757.6h14M1589.0 757.6h-14"/>
<path d="M244.0 588.6h14M1589.0 588.6h-14"/>
<path d="M244.0 419.7h14M1589.0 419.7h-14"/>
<path d="M244.0 250.7h14M1589.0 250.7h-14"/>
<path d="M1621.5 1013.2h9M1663.5 1013.2h-9" stroke-width="1.2"/>
<path d="M1621.5 911.1h9M1663.5 911.1h-9" stroke-width="1.2"/>
<path d="M1621.5 809.0h9M1663.5 809.0h-9" stroke-width="1.2"/>
<path d="M1621.5 706.9h9M1663.5 706.9h-9" stroke-width="1.2"/>
<path d="M1621.5 604.8h9M1663.5 604.8h-9" stroke-width="1.2"/>
<path d="M1621.5 502.7h9M1663.5 502.7h-9" stroke-width="1.2"/>
<path d="M1621.5 400.6h9M1663.5 400.6h-9" stroke-width="1.2"/>
<path d="M1621.5 298.5h9M1663.5 298.5h-9" stroke-width="1.2"/>
<path d="M1621.5 196.4h9M1663.5 196.4h-9" stroke-width="1.2"/>
</g>
<g id="labels" font-size="51">
<text x="292.8" y="1165.5" text-anchor="middle">28</text>
<text x="480.9" y="1165.5" text-anchor="middle">30</text>
<text x="668.9" y="1165.5" text-anchor="middle">32</text>
<text x="857.0" y="1165.5" text-anchor="middle">34</text>
<text x="1045.0" y="1165.5" text-anchor="middle">36</text>
<text x="1233.1" y="1165.5" text-anchor="middle">38</text>
<text x="1421.2" y="1165.5" text-anchor="middle">40</text>
<text x="240" y="1113.3" text-anchor="end">41</text>
<text x="240" y="944.3" text-anchor="end">42</text>
<text x="240" y="775.4" text-anchor="end">43</text>
<text x="240" y="606.4" text-anchor="end">44</text>
<text x="240" y="437.5" text-anchor="end">45</text>
<text x="240" y="268.5" text-anchor="end">46</text>
<text x="1669" y="1133.6">0</text>
<text x="1669" y="1031.5">0.05</text>
<text x="1669" y="929.4">0.1</text>
<text x="1669" y="827.3">0.15</text>
<text x="1669" y="725.2">0.2</text>
<text x="1669" y="623.1">0.25</text>
<text x="1669" y="521.0">0.3</text>
<text x="1669" y="418.9">0.35</text>
<text x="1669" y="316.8">0.4</text>
<text x="1669" y="214.7">0.45</text>
<text x="1669" y="112.6">0.5</text>
<text x="916" y="56" text-anchor="middle">2019-08-09-18</text>
<text x="915" y="1214" text-anchor="middle">Longitude, °E</text>
<text transform="translate(163,606) rotate(-90)" text-anchor="middle">Latitude, °N</text>
<text transform="translate(1816,606) rotate(-90)" text-anchor="middle">m/s</text>
</g>
</svg>
</body></html>
